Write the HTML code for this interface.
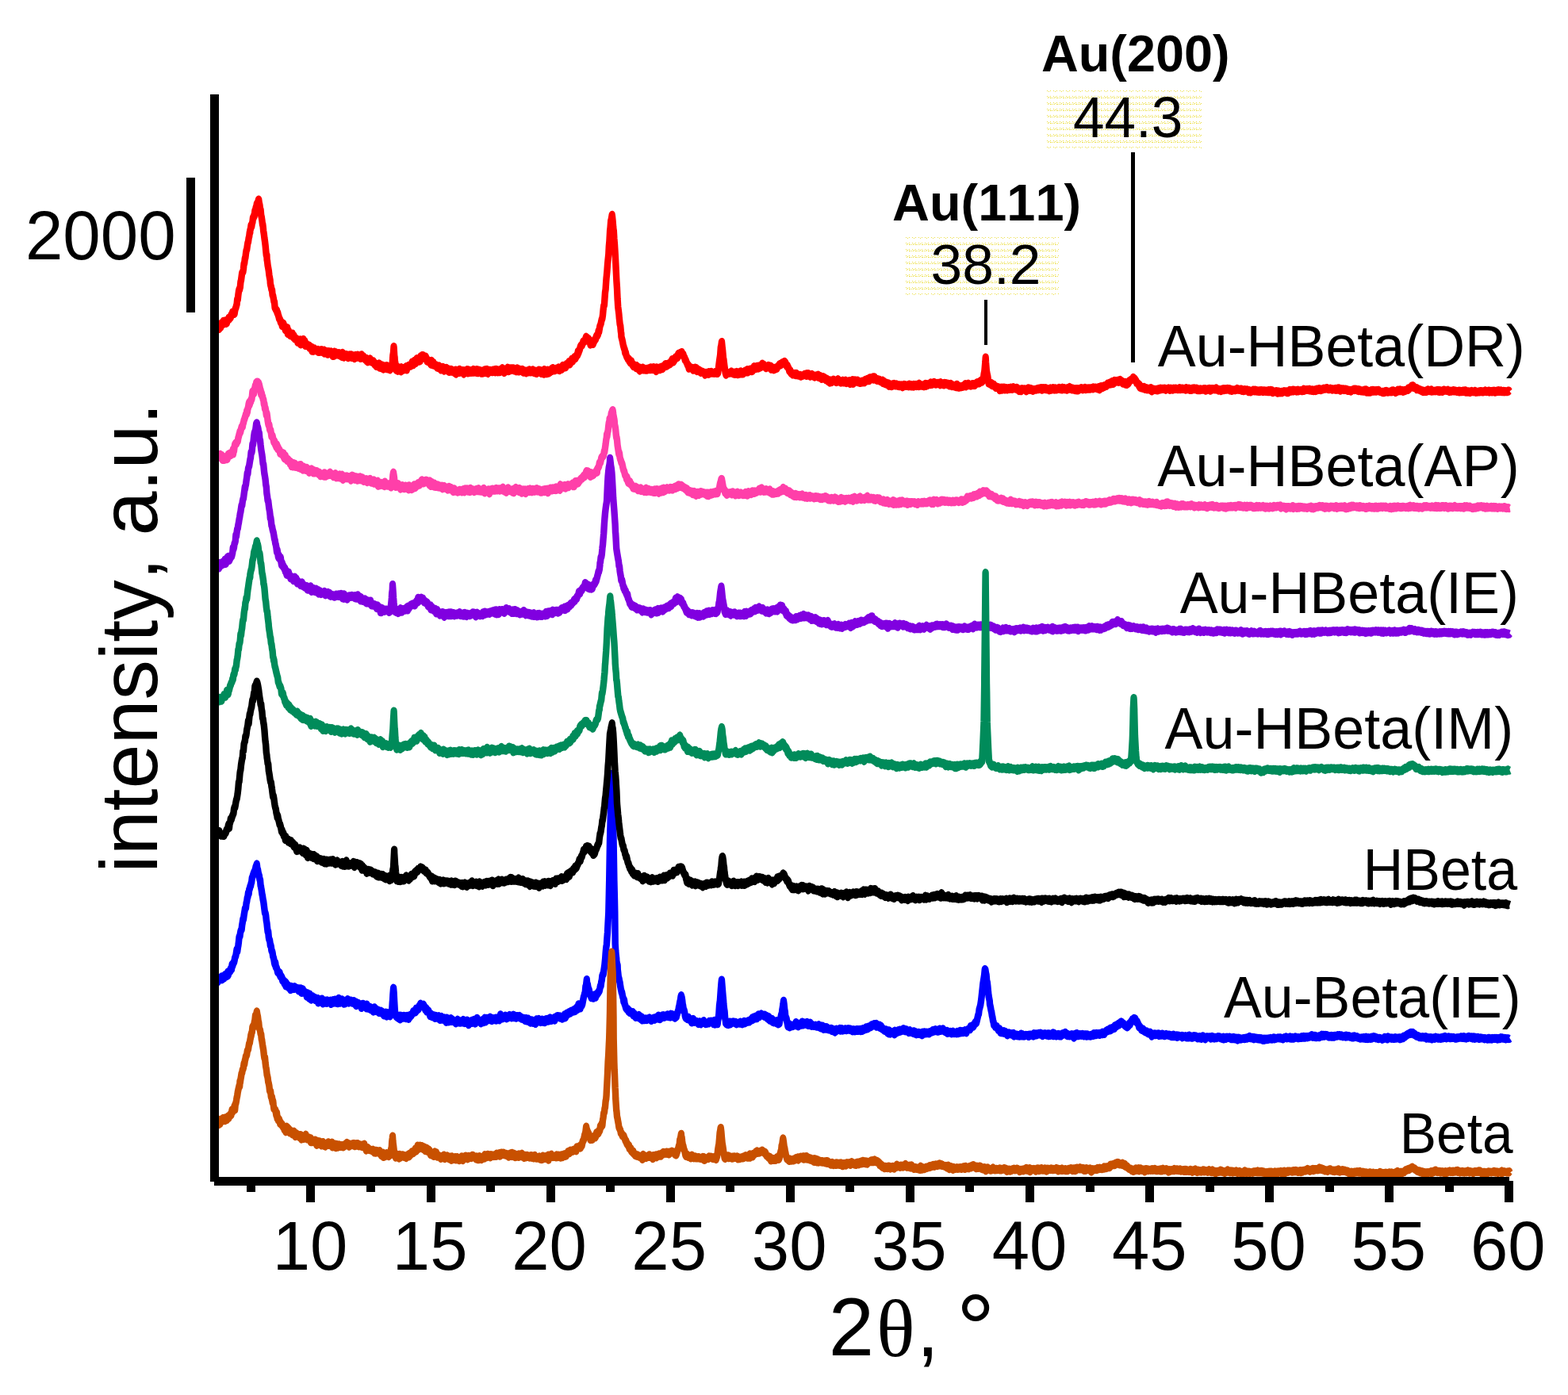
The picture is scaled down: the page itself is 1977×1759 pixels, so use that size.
<!DOCTYPE html>
<html lang="en"><head><meta charset="utf-8"><title>XRD patterns</title>
<style>html,body{margin:0;padding:0;background:#fff}body{width:1977px;height:1759px;overflow:hidden}svg{display:block}text{font-kerning:none;fill:#000;white-space:pre}</style></head><body>
<svg width="1977" height="1759" viewBox="0 0 1977 1759">
<rect width="1977" height="1759" fill="#fff"/>
<defs><pattern id="dots" width="8" height="8" patternUnits="userSpaceOnUse"><path d="M0 .5h1M4 .5h1M2 1.5h1M1 2.5h1M4 2.5h2M7 2.5h1" stroke="#ecdf48" stroke-width="1" shape-rendering="crispEdges"/></pattern><pattern id="dots1" width="8" height="8" patternUnits="userSpaceOnUse"><path d="M0 .5h1M4 .5h1M2 1.5h1" stroke="#ecdf48" stroke-width="1" shape-rendering="crispEdges"/></pattern></defs>
<g transform="translate(1320 114)"><rect x="0" y="0" width="195" height="2" fill="url(#dots1)"/><g transform="translate(0 7)"><rect x="0" y="0" width="195" height="63" fill="url(#dots)"/></g><g transform="translate(0 71)"><rect x="0" y="0" width="195" height="2" fill="url(#dots1)"/></g></g>
<g transform="translate(1142 299)"><rect x="0" y="0" width="193" height="2" fill="url(#dots1)"/><g transform="translate(0 7)"><rect x="0" y="0" width="193" height="63" fill="url(#dots)"/></g><g transform="translate(0 71)"><rect x="0" y="0" width="193" height="2" fill="url(#dots1)"/></g></g>
<g fill="none" stroke-width="8.4" stroke-linejoin="round" stroke-linecap="butt" transform="scale(1 1.25)">
<path stroke="#ff0000" d="M271.0,328.82 271.6,330.46 272.2,330.93 272.8,330.53 273.4,328.61 274.0,330.92 274.6,330.35 275.2,330.24 275.8,330.17 276.0,330.56 276.4,331.75 277.0,328.06 277.6,328.56 278.2,330.29 278.8,326.29 279.4,327.95 280.0,326.42 280.6,326.88 281.2,327.14 281.8,323.93 282.4,324.71 283.0,323.87 283.6,324.91 284.2,324.00 284.8,326.27 285.4,323.40 286.0,325.81 286.6,322.95 287.2,323.41 287.6,322.91 287.8,322.70 288.4,320.77 289.0,321.91 289.6,321.35 290.2,320.54 290.8,320.36 291.4,318.00 292.0,317.96 292.6,316.85 293.2,314.92 293.8,316.66 294.4,314.73 295.0,314.62 295.6,316.58 296.2,313.37 296.8,311.34 297.4,310.46 298.0,308.50 298.6,306.91 299.2,301.82 299.8,302.16 300.4,297.47 301.0,293.84 301.6,291.73 302.2,291.79 302.5,290.29 302.8,289.68 303.4,284.53 304.0,282.63 304.6,279.00 305.2,275.42 305.8,275.03 306.4,274.19 307.0,270.90 307.6,265.95 308.2,265.51 308.8,260.77 308.9,261.37 309.4,259.81 310.0,255.76 310.6,252.58 311.2,251.74 311.8,248.14 312.4,245.08 313.0,243.88 313.6,240.34 314.2,238.53 314.8,234.50 315.3,234.47 315.4,232.19 316.0,230.85 316.6,227.13 317.2,228.71 317.8,225.52 318.4,224.04 319.0,219.63 319.6,219.94 320.2,217.47 320.8,217.50 321.4,212.46 321.7,213.81 322.0,213.79 322.6,209.37 323.2,209.00 323.8,205.73 324.4,205.24 325.0,203.91 325.6,203.62 325.9,201.62 326.2,201.40 326.8,204.90 327.4,206.66 328.0,210.65 328.6,211.70 329.2,217.13 329.8,219.05 330.4,222.43 331.0,226.52 331.2,225.83 331.6,228.31 332.2,233.19 332.8,236.26 333.4,240.18 334.0,243.44 334.6,247.34 335.2,252.46 335.8,257.48 336.4,257.35 336.6,261.91 337.0,263.46 337.6,267.75 338.2,270.35 338.8,273.07 339.4,277.40 340.0,280.15 340.6,282.73 340.8,285.62 341.2,287.56 341.8,289.26 342.4,292.08 343.0,292.35 343.6,297.59 344.2,298.45 344.8,300.92 345.4,303.92 346.0,304.65 346.6,310.43 347.2,310.99 347.8,312.41 348.4,312.57 349.0,312.94 349.6,315.65 350.2,315.53 350.8,317.89 351.4,319.12 352.0,321.47 352.6,321.74 353.2,322.58 353.8,325.14 354.4,324.55 355.0,325.18 355.6,326.27 355.7,328.69 356.2,327.59 356.8,327.50 357.4,326.50 358.0,328.09 358.6,330.18 359.2,331.02 359.8,332.79 360.4,330.66 361.0,332.60 361.6,334.12 362.2,330.67 362.8,336.54 363.4,333.27 364.0,333.90 364.6,336.85 365.2,336.82 365.8,338.25 366.3,338.01 366.4,337.63 367.0,337.48 367.6,337.08 368.2,338.99 368.8,336.53 369.4,338.90 370.0,340.39 370.6,338.62 371.2,341.29 371.8,341.85 372.4,341.23 373.0,341.36 373.6,342.55 374.2,343.02 374.8,342.36 375.4,345.29 376.0,344.99 376.6,344.68 377.2,345.38 377.8,345.51 378.4,342.71 379.0,347.34 379.6,343.07 380.2,345.15 380.8,343.89 381.2,345.96 381.4,345.76 382.0,345.75 382.6,342.49 383.2,346.88 383.8,346.54 384.4,344.26 385.0,348.59 385.6,347.07 386.2,346.75 386.8,348.45 387.4,347.73 388.0,349.14 388.6,348.66 389.2,348.41 389.8,348.48 390.4,350.99 391.0,350.52 391.6,349.87 392.2,350.37 392.8,350.33 393.4,354.01 394.0,352.31 394.6,352.36 395.2,354.12 395.8,351.94 396.4,351.68 397.0,352.58 397.6,353.56 398.2,353.36 398.8,353.32 399.4,353.99 400.0,353.43 400.6,352.80 401.2,354.95 401.8,353.92 402.4,353.98 403.0,354.96 403.6,354.91 404.2,353.25 404.8,353.71 405.4,353.00 406.0,353.23 406.6,354.93 407.2,354.09 407.8,353.65 408.4,353.32 409.0,356.32 409.6,354.60 410.2,355.47 410.8,355.27 411.4,354.44 412.0,356.09 412.6,355.85 413.2,357.25 413.8,356.56 414.4,354.63 415.0,355.99 415.6,356.16 416.2,356.35 416.8,355.23 417.4,354.90 418.0,356.72 418.6,357.33 419.2,355.66 419.5,358.97 419.8,357.55 420.4,356.21 421.0,358.93 421.6,354.94 422.2,355.48 422.8,355.43 423.4,357.96 424.0,355.96 424.6,357.72 425.2,357.33 425.8,356.55 426.4,357.46 427.0,356.13 427.6,358.42 428.2,356.47 428.8,356.63 429.4,358.35 430.0,357.10 430.6,359.70 431.2,359.21 431.8,355.96 432.4,358.02 433.0,357.80 433.6,360.42 434.2,357.62 434.8,357.67 435.4,358.27 436.0,358.38 436.6,357.76 437.2,359.14 437.8,358.39 438.4,358.15 439.0,360.83 439.6,359.43 440.2,358.21 440.8,357.92 441.4,359.10 442.0,358.13 442.6,358.09 443.2,360.69 443.8,359.34 444.4,358.89 445.0,359.69 445.6,358.89 446.2,359.60 446.8,361.50 447.4,359.56 448.0,359.00 448.6,358.50 449.2,360.49 449.8,359.69 450.4,360.37 451.0,358.24 451.6,359.60 452.2,360.14 452.8,360.62 453.4,360.34 454.0,359.78 454.6,361.46 455.2,360.09 455.7,357.91 455.8,358.79 456.4,360.26 457.0,360.73 457.6,359.24 458.2,359.57 458.8,361.48 459.4,361.61 460.0,361.99 460.6,362.62 461.2,362.20 461.8,361.56 462.4,364.02 463.0,364.00 463.6,364.94 464.2,363.80 464.8,363.63 465.4,363.90 466.0,364.16 466.6,362.06 467.2,364.05 467.8,364.06 468.4,365.07 469.0,365.27 469.6,364.88 470.2,365.04 470.8,364.39 471.4,366.41 472.0,365.92 472.6,366.34 472.7,367.96 473.2,368.18 473.8,367.02 474.4,369.42 475.0,368.65 475.6,368.19 476.2,367.41 476.8,367.63 477.4,369.74 478.0,366.84 478.6,370.86 479.2,369.90 479.8,368.93 480.4,371.14 481.0,369.82 481.6,368.41 482.2,369.20 482.8,368.95 483.3,368.99 483.4,372.37 484.0,370.52 484.6,370.32 485.2,371.47 485.8,371.33 486.4,370.09 487.0,369.85 487.6,368.93 488.2,372.06 488.8,370.91 489.4,372.20 490.0,371.34 490.6,369.91 491.2,370.73 491.8,372.94 492.4,370.68 493.0,371.79 493.6,368.70 494.2,367.52 494.8,365.62 495.4,358.65 496.0,355.66 496.5,349.82 496.6,350.41 497.2,358.53 497.6,360.65 497.8,363.77 498.4,366.29 499.0,370.69 499.4,373.20 499.6,373.28 500.2,371.96 500.8,369.87 501.4,374.11 502.0,371.72 502.6,373.66 503.2,371.50 503.8,371.91 504.4,372.50 505.0,372.38 505.6,374.49 506.2,370.66 506.7,371.91 506.8,372.73 507.4,372.75 508.0,372.18 508.6,372.21 509.2,372.94 509.8,371.18 510.4,371.07 511.0,371.41 511.6,372.13 512.2,369.76 512.8,373.03 513.4,370.47 514.0,369.92 514.6,369.91 515.2,368.79 515.8,368.60 516.4,368.86 517.0,369.31 517.6,369.21 518.2,367.69 518.8,367.46 519.4,367.92 519.5,365.40 520.0,366.84 520.6,367.71 521.2,367.92 521.8,365.60 522.4,363.97 523.0,364.34 523.6,365.84 524.2,366.25 524.8,363.61 525.4,361.88 526.0,363.26 526.6,363.61 527.2,363.44 527.8,362.60 528.4,364.43 529.0,361.56 529.6,364.12 530.2,359.69 530.8,361.89 531.4,361.14 532.0,360.45 532.2,358.64 532.6,359.38 533.2,358.52 533.8,360.07 534.4,360.65 535.0,361.31 535.6,359.89 536.2,360.80 536.8,359.77 537.4,362.47 538.0,361.78 538.6,364.35 539.2,363.17 539.8,364.67 540.4,364.19 541.0,364.95 541.6,365.15 542.2,364.50 542.8,366.90 542.9,365.13 543.4,367.51 544.0,363.95 544.6,366.21 545.2,367.84 545.8,368.15 546.4,365.62 547.0,368.09 547.6,368.38 548.2,368.77 548.8,368.41 549.4,368.27 550.0,369.53 550.6,370.15 551.2,370.80 551.8,369.94 552.4,369.39 553.0,371.15 553.5,369.18 553.6,369.85 554.2,370.01 554.8,370.75 555.4,371.06 556.0,373.01 556.6,371.79 557.2,372.24 557.8,371.01 558.4,370.45 559.0,371.28 559.6,371.25 560.2,373.97 560.8,373.50 561.4,373.03 562.0,372.23 562.6,371.16 563.2,372.26 563.8,372.07 564.4,372.02 565.0,373.28 565.6,374.66 566.2,375.01 566.8,372.83 567.4,373.21 568.0,373.55 568.6,372.71 569.2,374.86 569.8,374.24 570.4,373.98 571.0,374.61 571.6,373.75 572.2,374.13 572.8,375.74 573.4,375.56 574.0,374.83 574.6,373.32 575.2,377.27 575.8,375.30 576.4,375.81 577.0,373.89 577.6,375.41 578.2,375.37 578.8,375.04 579.0,375.78 579.4,372.78 580.0,375.60 580.6,373.95 581.2,373.79 581.8,374.25 582.4,374.68 583.0,374.46 583.6,373.89 584.2,374.86 584.8,377.09 585.4,374.95 586.0,373.92 586.6,375.50 587.2,375.19 587.8,373.56 588.4,375.58 589.0,373.02 589.6,374.87 590.2,376.23 590.8,373.23 591.4,373.96 592.0,373.64 592.6,375.79 593.2,373.83 593.8,374.50 594.4,375.08 595.0,375.72 595.6,375.50 596.2,373.90 596.8,372.83 597.4,375.65 598.0,374.67 598.6,375.14 599.2,373.85 599.8,374.39 600.4,375.75 601.0,373.02 601.6,374.35 602.2,373.14 602.8,376.07 603.4,375.07 604.0,374.09 604.6,373.52 605.2,375.26 605.8,375.35 606.4,375.03 607.0,376.45 607.6,374.12 608.2,375.73 608.8,376.33 609.4,374.18 610.0,375.46 610.6,375.99 611.2,373.11 611.8,373.74 612.4,373.07 613.0,374.74 613.6,376.02 614.2,372.84 614.8,374.19 615.4,376.72 616.0,373.53 616.6,374.71 617.2,374.66 617.8,373.59 618.4,374.93 619.0,374.41 619.6,373.94 620.2,373.77 620.8,375.28 621.4,374.20 621.5,373.38 622.0,373.66 622.6,374.51 623.2,374.73 623.8,373.05 624.4,375.33 625.0,373.38 625.6,372.83 626.2,374.24 626.8,374.85 627.4,375.40 628.0,373.32 628.6,373.99 629.2,375.25 629.8,374.13 630.4,375.17 631.0,374.63 631.6,372.52 632.2,373.11 632.8,374.67 633.4,371.50 634.0,374.56 634.6,373.58 635.2,372.86 635.8,375.81 636.4,372.77 637.0,372.94 637.6,373.21 638.2,373.14 638.8,373.91 639.4,373.75 640.0,371.07 640.6,374.41 641.2,374.30 641.8,374.11 642.4,373.61 643.0,371.61 643.6,373.64 644.2,372.37 644.8,371.69 645.4,372.66 646.0,373.21 646.6,371.66 647.2,371.65 647.8,373.29 648.4,373.81 649.0,372.44 649.6,373.27 650.2,373.18 650.8,374.52 651.4,373.59 652.0,371.68 652.6,372.62 653.2,374.57 653.4,374.69 653.8,374.69 654.4,373.29 655.0,372.69 655.6,374.20 656.2,373.44 656.8,373.35 657.4,372.96 658.0,373.96 658.6,372.85 659.2,373.37 659.8,375.64 660.4,373.80 661.0,375.09 661.6,374.19 662.2,374.42 662.8,374.22 663.4,376.15 664.0,374.45 664.6,374.40 665.2,374.35 665.8,373.80 666.4,375.46 667.0,373.72 667.6,373.18 668.2,374.96 668.8,375.26 669.4,373.85 670.0,375.29 670.6,375.10 671.2,373.69 671.8,373.25 672.4,375.56 673.0,375.24 673.6,376.00 674.2,373.94 674.8,376.20 675.4,375.14 676.0,375.36 676.6,376.64 677.2,374.75 677.8,374.57 678.4,374.32 679.0,373.43 679.6,374.76 680.0,373.61 680.2,374.10 680.8,373.55 681.4,376.04 682.0,375.35 682.6,376.67 683.2,375.10 683.8,375.30 684.4,375.02 685.0,374.80 685.6,377.24 686.2,373.05 686.8,376.74 687.4,376.60 688.0,375.07 688.6,375.56 689.2,376.82 689.8,375.37 690.4,373.45 691.0,374.68 691.3,376.49 691.6,374.39 692.2,376.28 692.8,374.62 693.4,375.51 694.0,374.16 694.6,373.78 695.2,373.86 695.8,371.95 696.4,374.15 697.0,371.40 697.6,373.06 698.2,371.90 698.8,373.04 699.4,373.72 700.0,372.46 700.6,372.06 701.2,372.51 701.8,372.60 702.4,372.90 703.0,371.59 703.6,373.00 704.2,370.91 704.8,371.58 705.4,373.60 706.0,371.62 706.6,371.92 707.2,371.43 707.8,371.11 708.4,372.40 709.0,370.46 709.6,368.82 710.2,369.84 710.8,370.03 711.4,369.18 712.0,369.01 712.5,370.54 712.6,369.87 713.2,370.47 713.8,368.91 714.4,367.32 715.0,367.76 715.6,367.36 716.2,366.98 716.8,367.65 717.4,365.05 718.0,366.16 718.6,367.33 719.2,364.49 719.8,365.70 720.4,364.57 721.0,362.55 721.6,362.68 722.2,364.22 722.8,361.91 723.4,362.12 724.0,361.53 724.6,360.14 725.2,361.74 725.8,361.06 726.4,360.09 727.0,359.05 727.4,358.04 727.6,357.55 728.2,358.17 728.8,354.38 729.4,355.98 730.0,354.27 730.6,353.25 731.2,351.70 731.8,349.72 732.4,348.78 733.0,348.38 733.6,347.91 733.8,348.35 734.2,347.01 734.8,346.43 735.4,344.43 736.0,345.06 736.6,343.93 737.2,344.32 737.8,342.88 738.4,341.44 739.0,339.90 739.1,342.22 739.6,340.27 740.2,341.70 740.8,342.70 741.4,342.95 742.0,341.75 742.6,342.34 743.2,344.75 743.8,344.89 744.4,347.55 745.0,344.64 745.6,344.37 746.2,345.18 746.8,345.78 747.4,346.42 747.6,347.02 748.0,346.48 748.6,345.12 749.2,343.77 749.8,343.71 750.4,341.97 751.0,342.18 751.6,339.98 752.2,338.65 752.8,339.14 753.4,338.03 754.0,337.28 754.6,333.93 755.0,334.88 755.2,334.68 755.8,331.89 756.4,329.04 757.0,327.82 757.6,326.52 758.2,324.09 758.8,322.04 759.0,322.18 759.4,321.14 760.0,317.84 760.6,312.61 761.2,308.69 761.8,308.12 762.0,306.68 762.4,301.88 763.0,294.94 763.6,291.82 764.2,284.25 764.6,280.15 764.8,278.81 765.4,273.74 766.0,267.00 766.6,261.90 767.2,257.36 767.3,256.47 767.8,248.45 768.4,243.31 769.0,234.44 769.1,232.75 769.6,229.34 770.2,222.90 770.8,221.06 771.4,218.39 771.7,216.80 772.0,218.61 772.6,223.17 773.2,229.13 773.7,233.07 773.8,232.71 774.4,240.98 775.0,246.89 775.6,255.00 775.7,256.35 776.2,263.96 776.8,273.68 777.2,280.59 777.4,283.74 778.0,290.75 778.6,301.73 778.8,303.86 779.2,309.38 779.8,313.10 780.4,316.98 780.8,321.15 781.0,322.30 781.6,326.82 782.2,328.66 782.8,334.10 783.3,336.74 783.4,339.41 784.0,341.48 784.6,343.18 785.2,345.73 785.8,348.03 786.4,349.86 787.0,351.53 787.6,352.56 788.2,355.95 788.8,355.35 789.4,357.83 790.0,359.39 790.6,360.33 791.2,360.94 791.8,362.21 792.4,361.90 793.0,362.24 793.6,364.52 794.2,364.89 794.8,365.91 795.4,365.50 796.0,364.37 796.6,366.18 797.2,366.53 797.8,368.53 798.4,367.48 799.0,369.53 799.6,369.44 799.7,369.60 800.2,369.74 800.8,370.22 801.4,368.97 802.0,371.12 802.6,368.93 803.2,369.94 803.8,370.17 804.4,371.67 805.0,370.55 805.6,372.94 806.2,370.77 806.8,373.96 807.4,372.34 808.0,372.59 808.6,372.22 809.2,372.72 809.8,371.41 810.4,370.93 811.0,372.95 811.6,372.87 812.2,372.26 812.5,372.24 812.8,372.33 813.4,372.58 814.0,373.17 814.6,372.08 815.2,372.59 815.8,373.29 816.4,372.05 817.0,372.67 817.6,371.58 818.2,372.07 818.8,371.73 819.4,372.87 820.0,371.49 820.6,370.74 821.2,371.86 821.8,371.15 822.4,372.71 823.0,371.90 823.6,371.18 824.2,370.60 824.8,371.56 825.4,371.34 826.0,371.40 826.6,371.57 827.2,374.33 827.8,370.78 828.4,371.59 829.0,372.09 829.6,372.37 830.2,371.20 830.8,371.51 831.4,370.99 832.0,372.85 832.6,370.53 833.2,371.20 833.8,370.24 834.4,371.39 835.0,370.09 835.6,371.89 835.9,370.02 836.2,370.24 836.8,369.99 837.4,370.03 838.0,368.95 838.6,367.69 839.2,367.31 839.8,368.37 840.4,369.18 841.0,368.87 841.6,368.03 842.2,368.16 842.8,367.02 843.4,366.60 844.0,366.86 844.6,367.28 845.2,367.02 845.8,365.92 846.4,364.12 847.0,364.43 847.6,362.62 848.2,365.18 848.6,364.06 848.8,365.09 849.4,364.66 850.0,362.95 850.6,363.18 851.2,362.11 851.8,360.42 852.4,361.46 853.0,360.70 853.6,360.12 854.2,360.70 854.8,357.97 855.4,356.88 856.0,358.36 856.6,358.06 857.2,357.10 857.8,356.24 858.4,356.02 859.0,355.67 859.3,355.47 859.6,355.49 860.2,357.54 860.8,356.99 861.4,357.34 862.0,359.49 862.6,359.98 863.2,360.92 863.8,363.27 864.4,362.96 865.0,364.22 865.6,365.61 866.2,366.43 866.8,367.80 867.4,368.77 867.8,368.58 868.0,368.61 868.6,371.69 869.2,370.43 869.8,370.17 870.4,371.15 871.0,371.11 871.6,371.26 872.2,371.05 872.8,371.32 873.4,371.36 874.0,373.25 874.6,371.79 875.2,372.54 875.8,372.73 876.4,370.94 877.0,373.50 877.6,372.93 878.2,371.48 878.8,374.31 879.4,374.11 880.0,373.78 880.6,373.23 881.2,373.23 881.8,374.02 882.4,373.97 882.7,375.24 883.0,375.03 883.6,375.56 884.2,375.03 884.8,374.95 885.4,375.09 886.0,375.26 886.6,375.55 887.2,376.11 887.8,376.12 888.4,376.03 889.0,378.07 889.6,376.26 890.2,376.49 890.8,376.10 891.4,377.13 892.0,377.08 892.6,376.52 893.2,377.34 893.3,377.02 893.8,375.47 894.4,375.50 895.0,375.72 895.6,376.57 896.2,375.83 896.8,375.12 897.4,375.87 898.0,376.31 898.6,376.26 899.2,376.43 899.8,376.20 900.4,376.48 901.0,376.18 901.6,375.68 902.2,375.22 902.8,376.18 903.4,376.59 904.0,375.58 904.6,375.52 904.9,376.53 905.2,376.07 905.8,372.99 906.4,368.00 907.0,364.19 907.6,360.91 907.8,360.15 908.2,357.31 908.8,350.64 909.4,348.53 909.9,345.41 910.0,344.97 910.6,349.77 911.2,353.87 911.8,359.37 912.0,362.13 912.4,362.36 913.0,366.70 913.6,370.32 914.2,373.61 914.8,376.57 914.9,376.51 915.4,377.94 916.0,375.71 916.6,376.98 917.2,376.05 917.8,376.67 918.4,376.28 919.0,376.21 919.6,376.06 920.2,376.38 920.8,375.83 921.4,376.20 922.0,374.88 922.6,376.40 923.2,375.87 923.8,376.27 924.4,375.76 925.0,377.21 925.6,376.19 926.2,376.21 926.8,377.31 927.4,375.53 928.0,376.48 928.6,375.31 929.2,375.69 929.8,375.72 930.4,377.68 931.0,375.65 931.6,376.72 932.2,376.49 932.8,377.12 933.4,375.75 934.0,374.85 934.6,374.94 935.2,377.00 935.8,376.36 936.4,376.95 937.0,376.93 937.6,375.85 938.2,375.43 938.8,375.78 939.4,374.15 940.0,374.76 940.6,374.85 941.2,375.33 941.8,373.24 942.4,373.05 943.0,375.31 943.6,374.75 944.2,373.86 944.8,373.69 945.4,373.96 946.0,372.56 946.6,372.99 947.2,374.22 947.8,374.01 948.4,374.30 948.6,373.30 949.0,373.72 949.6,371.42 950.2,371.22 950.8,369.80 951.4,370.74 952.0,370.18 952.6,371.94 953.2,371.81 953.8,369.95 954.4,369.57 955.0,371.44 955.6,371.52 956.2,369.33 956.8,370.27 957.4,370.97 958.0,369.83 958.6,370.60 959.2,369.22 959.8,369.14 960.4,368.49 961.0,366.97 961.4,368.17 961.6,367.87 962.2,369.63 962.8,367.86 963.4,369.02 964.0,369.30 964.6,369.84 965.2,369.53 965.8,371.19 966.4,370.02 967.0,369.87 967.6,369.92 968.2,370.62 968.8,368.75 969.4,369.49 970.0,370.25 970.6,369.78 971.2,370.67 971.8,369.34 972.4,372.48 973.0,371.47 973.6,371.55 974.2,370.93 974.8,372.58 975.4,372.87 976.0,371.92 976.2,372.31 976.6,371.12 977.2,372.16 977.8,371.72 978.4,372.13 979.0,371.32 979.6,371.46 980.2,369.98 980.8,369.83 981.4,369.11 982.0,368.83 982.6,367.90 983.2,367.92 983.8,367.17 984.4,368.10 985.0,367.22 985.6,366.74 986.2,366.03 986.8,366.88 987.4,365.93 988.0,366.03 988.6,365.05 989.0,365.51 989.2,364.88 989.8,365.39 990.4,366.02 991.0,368.36 991.6,367.91 992.2,369.70 992.8,368.73 993.4,370.54 994.0,370.73 994.6,372.25 995.2,374.09 995.8,374.83 996.4,373.86 997.0,375.82 997.6,376.60 998.2,376.47 998.8,376.85 999.4,376.98 999.6,377.89 1000.0,376.69 1000.6,377.52 1001.2,377.78 1001.8,377.17 1002.4,376.87 1003.0,378.40 1003.6,377.77 1004.2,376.84 1004.8,377.95 1005.4,378.49 1006.0,377.90 1006.6,378.79 1007.2,378.74 1007.8,378.97 1008.4,378.51 1009.0,378.45 1009.6,379.62 1010.2,379.03 1010.8,379.11 1011.4,379.15 1012.0,378.84 1012.6,378.71 1013.2,378.51 1013.8,378.15 1014.4,377.52 1014.5,378.40 1015.0,377.94 1015.6,377.45 1016.2,378.29 1016.8,379.08 1017.4,377.02 1018.0,377.94 1018.6,378.83 1019.2,376.94 1019.8,378.08 1020.4,378.13 1021.0,377.85 1021.6,379.58 1022.2,379.10 1022.8,378.53 1023.4,377.69 1024.0,378.92 1024.6,378.29 1025.2,379.41 1025.8,378.91 1026.4,379.44 1027.0,380.36 1027.6,379.89 1028.2,379.15 1028.8,379.26 1029.4,378.71 1030.0,379.88 1030.6,378.66 1031.2,378.90 1031.5,378.23 1031.8,379.34 1032.4,380.78 1033.0,379.17 1033.6,379.31 1034.2,379.40 1034.8,380.04 1035.4,380.42 1036.0,382.11 1036.6,381.42 1037.2,380.88 1037.8,380.16 1038.4,382.07 1039.0,381.66 1039.6,381.00 1040.2,381.98 1040.8,382.06 1041.4,383.11 1042.0,382.87 1042.6,382.27 1043.2,383.35 1043.8,384.53 1044.4,383.91 1045.0,383.57 1045.6,383.64 1046.2,385.92 1046.8,385.24 1047.4,383.76 1048.0,384.89 1048.6,385.47 1049.2,385.10 1049.8,384.10 1050.4,384.34 1051.0,382.98 1051.6,384.23 1052.2,384.29 1052.8,385.01 1053.4,384.21 1054.0,383.97 1054.6,385.51 1055.2,385.03 1055.8,383.86 1056.4,382.71 1057.0,382.98 1057.6,384.18 1058.2,384.33 1058.8,384.32 1059.4,385.14 1060.0,385.94 1060.6,385.30 1061.2,385.03 1061.8,385.09 1062.4,383.91 1063.0,385.69 1063.6,384.85 1064.2,385.71 1064.8,384.15 1065.4,384.81 1066.0,383.83 1066.6,384.83 1067.2,386.37 1067.8,384.60 1068.4,384.85 1069.0,384.85 1069.6,385.47 1070.2,384.48 1070.8,384.83 1071.4,384.16 1072.0,387.09 1072.6,384.56 1073.2,384.79 1073.8,383.99 1074.0,384.86 1074.4,384.58 1075.0,383.35 1075.6,386.92 1076.2,384.54 1076.8,384.62 1077.4,385.57 1078.0,383.60 1078.6,385.09 1079.2,384.40 1079.8,384.91 1080.4,385.15 1081.0,383.75 1081.6,385.16 1082.2,385.73 1082.8,384.80 1083.4,385.59 1084.0,385.19 1084.6,386.27 1085.2,385.04 1085.8,385.23 1086.4,384.91 1087.0,384.51 1087.6,385.76 1088.2,384.76 1088.8,384.60 1089.4,384.81 1090.0,385.74 1090.6,383.43 1091.2,384.87 1091.8,382.93 1092.4,383.39 1093.0,383.80 1093.6,383.96 1094.2,382.28 1094.8,383.55 1095.4,382.98 1096.0,383.99 1096.6,381.19 1097.2,382.31 1097.8,381.41 1098.4,381.29 1099.0,381.38 1099.6,380.86 1100.2,381.47 1100.8,381.13 1101.3,380.33 1101.4,382.85 1102.0,381.48 1102.6,380.42 1103.2,381.78 1103.8,382.25 1104.4,382.23 1105.0,382.44 1105.6,383.73 1106.2,382.57 1106.8,382.80 1107.4,382.90 1108.0,383.15 1108.6,383.10 1109.2,383.84 1109.8,384.71 1110.4,384.20 1111.0,384.40 1111.6,384.14 1112.2,384.32 1112.8,383.85 1113.4,386.45 1114.0,385.19 1114.6,384.95 1115.2,385.94 1115.8,386.04 1116.4,387.30 1117.0,387.03 1117.6,386.23 1118.2,386.88 1118.8,386.86 1119.4,387.58 1120.0,386.81 1120.6,389.30 1121.2,388.53 1121.8,388.55 1122.4,388.73 1122.5,388.97 1123.0,387.91 1123.6,388.56 1124.2,389.60 1124.8,389.44 1125.4,387.63 1126.0,388.08 1126.6,388.22 1127.2,387.16 1127.8,388.07 1128.4,388.53 1129.0,388.95 1129.6,388.52 1130.2,387.66 1130.8,388.54 1131.4,388.18 1132.0,389.43 1132.6,389.38 1133.2,388.41 1133.8,389.65 1134.4,388.48 1135.0,388.88 1135.6,389.64 1136.2,389.08 1136.8,388.43 1137.4,388.71 1138.0,390.50 1138.6,388.51 1139.2,388.97 1139.8,388.02 1140.4,389.18 1141.0,388.53 1141.6,389.48 1142.2,388.34 1142.8,389.44 1143.4,389.06 1144.0,389.29 1144.6,389.43 1145.2,389.63 1145.8,388.48 1146.4,387.77 1147.0,388.98 1147.6,389.55 1148.2,388.27 1148.8,389.80 1149.4,388.44 1150.0,389.16 1150.6,389.06 1151.2,389.06 1151.8,389.92 1152.4,388.10 1153.0,388.19 1153.6,388.46 1154.2,388.90 1154.8,388.09 1155.4,389.57 1156.0,388.65 1156.6,388.58 1157.2,388.30 1157.8,389.27 1158.4,389.62 1159.0,387.02 1159.6,389.13 1160.2,388.08 1160.8,389.17 1161.4,389.06 1162.0,389.16 1162.6,388.87 1163.2,388.60 1163.8,389.40 1164.4,388.14 1165.0,389.71 1165.6,389.11 1166.2,387.62 1166.8,387.29 1167.4,389.45 1168.0,388.18 1168.6,387.46 1169.2,388.74 1169.8,388.09 1170.4,388.25 1171.0,387.82 1171.6,387.77 1172.2,388.00 1172.8,388.04 1173.4,386.03 1174.0,387.17 1174.6,387.61 1175.2,387.74 1175.8,386.72 1176.4,386.83 1177.0,386.31 1177.6,385.64 1178.2,386.43 1178.8,387.17 1179.4,386.78 1180.0,387.63 1180.6,386.49 1181.2,387.21 1181.8,386.79 1182.4,387.20 1183.0,386.41 1183.6,386.80 1184.2,386.82 1184.8,386.98 1185.4,388.09 1186.0,385.89 1186.3,387.29 1186.6,386.27 1187.2,386.85 1187.8,386.65 1188.4,386.87 1189.0,387.97 1189.6,386.80 1190.2,388.25 1190.8,386.40 1191.4,387.25 1192.0,386.99 1192.6,386.54 1193.2,387.59 1193.8,386.95 1194.4,387.96 1195.0,386.93 1195.6,387.68 1196.2,387.76 1196.8,388.91 1197.4,388.13 1198.0,387.61 1198.6,387.11 1199.2,388.32 1199.8,389.42 1200.4,389.18 1201.0,388.46 1201.6,389.23 1202.2,389.65 1202.8,389.20 1203.4,389.51 1204.0,389.48 1204.6,389.68 1205.2,390.35 1205.8,388.11 1206.4,388.01 1207.0,390.57 1207.6,389.64 1208.2,390.65 1208.8,390.85 1209.4,389.54 1210.0,389.68 1210.6,390.50 1211.2,390.51 1211.8,390.02 1212.4,390.30 1213.0,389.51 1213.6,389.95 1214.2,389.30 1214.8,389.97 1215.4,388.86 1216.0,389.20 1216.6,389.23 1217.2,387.44 1217.8,389.87 1218.4,387.68 1219.0,388.46 1219.6,388.33 1220.2,388.43 1220.8,387.11 1221.4,388.85 1222.0,388.63 1222.6,388.51 1223.2,388.62 1223.8,389.15 1224.4,388.07 1225.0,387.80 1225.6,388.78 1226.2,387.39 1226.8,387.82 1227.4,387.43 1228.0,388.75 1228.6,387.93 1228.9,388.65 1229.2,388.34 1229.8,387.11 1230.4,387.56 1231.0,386.74 1231.6,385.96 1232.2,386.91 1232.8,385.90 1233.4,386.19 1234.0,385.80 1234.6,386.61 1235.2,385.03 1235.8,384.59 1236.4,384.63 1237.0,383.78 1237.6,384.69 1238.2,385.10 1238.7,384.54 1238.8,383.90 1239.4,382.37 1240.0,381.11 1240.6,377.47 1241.2,375.05 1241.5,373.11 1241.8,370.18 1242.4,364.69 1242.7,360.66 1243.0,365.17 1243.6,371.27 1243.9,374.66 1244.2,375.32 1244.8,378.02 1245.4,380.04 1246.0,383.78 1246.6,386.68 1246.7,386.70 1247.2,386.88 1247.8,386.13 1248.4,386.46 1249.0,387.75 1249.6,386.40 1250.2,386.71 1250.8,388.75 1251.4,388.36 1252.0,388.80 1252.6,388.23 1253.2,388.05 1253.8,388.89 1254.4,389.50 1255.0,390.43 1255.6,391.04 1256.2,390.02 1256.8,390.98 1257.4,390.47 1258.0,390.88 1258.6,391.21 1259.2,390.90 1259.8,391.18 1260.4,393.57 1260.8,391.51 1261.0,393.18 1261.6,391.68 1262.2,392.29 1262.8,390.98 1263.4,393.17 1264.0,392.20 1264.6,390.93 1265.2,391.85 1265.8,392.38 1266.4,391.10 1267.0,392.97 1267.6,392.00 1268.2,392.23 1268.8,391.34 1269.4,392.12 1270.0,393.06 1270.6,392.26 1271.2,391.80 1271.8,391.40 1272.4,391.52 1273.0,392.55 1273.6,391.66 1274.2,391.04 1274.8,392.37 1275.4,391.59 1276.0,392.60 1276.6,392.61 1277.2,391.65 1277.8,390.79 1278.4,391.07 1279.0,392.08 1279.6,392.06 1280.2,391.61 1280.8,392.31 1281.4,392.06 1282.0,391.17 1282.6,392.84 1283.2,392.63 1283.8,392.97 1284.4,392.84 1285.0,394.37 1285.6,393.44 1286.2,392.62 1286.8,393.20 1287.4,394.40 1288.0,392.88 1288.6,392.43 1289.2,393.03 1289.8,393.14 1290.4,393.10 1291.0,392.48 1291.6,392.69 1292.2,392.63 1292.7,393.25 1292.8,392.60 1293.4,392.96 1294.0,394.52 1294.6,392.60 1295.2,392.50 1295.8,392.41 1296.4,391.64 1297.0,392.89 1297.6,391.90 1298.2,393.46 1298.8,392.05 1299.4,393.46 1300.0,392.24 1300.6,393.15 1301.2,392.58 1301.8,393.78 1302.4,394.15 1303.0,393.03 1303.6,393.02 1304.2,392.94 1304.8,393.02 1305.4,393.07 1306.0,393.17 1306.6,393.20 1307.2,392.43 1307.8,392.58 1308.4,392.27 1309.0,391.92 1309.6,392.87 1310.2,391.72 1310.8,391.80 1311.4,391.73 1312.0,391.65 1312.6,391.36 1313.2,391.75 1313.8,393.26 1314.4,391.50 1315.0,391.57 1315.6,392.66 1316.2,391.33 1316.8,392.58 1317.4,391.89 1318.0,391.81 1318.6,391.51 1319.2,392.97 1319.8,391.83 1320.4,392.70 1321.0,392.37 1321.6,393.13 1322.2,392.32 1322.8,393.72 1323.4,393.08 1324.0,393.40 1324.6,391.67 1325.2,392.65 1325.8,393.10 1326.4,392.75 1327.0,391.48 1327.6,391.42 1328.2,391.87 1328.8,391.96 1329.4,393.03 1330.0,392.80 1330.6,391.65 1331.2,392.92 1331.8,392.97 1332.4,393.02 1333.0,392.37 1333.6,391.89 1334.2,391.64 1334.8,392.46 1335.4,391.20 1336.0,391.51 1336.6,392.74 1337.2,392.77 1337.8,392.54 1338.4,391.82 1339.0,393.02 1339.6,391.11 1340.2,391.56 1340.8,392.12 1341.4,392.63 1342.0,391.45 1342.6,392.87 1343.2,392.25 1343.8,392.31 1344.4,392.11 1345.0,393.22 1345.6,391.92 1346.2,391.40 1346.8,392.50 1347.4,392.57 1348.0,392.22 1348.6,390.50 1349.2,392.28 1349.8,391.68 1350.4,391.37 1351.0,392.52 1351.6,393.07 1352.2,391.75 1352.8,392.53 1353.4,392.21 1354.0,392.95 1354.6,392.94 1355.2,393.51 1355.8,392.87 1356.4,392.27 1356.5,393.41 1357.0,393.24 1357.6,393.73 1358.2,392.15 1358.8,392.79 1359.4,393.71 1360.0,392.45 1360.6,393.00 1361.2,392.65 1361.8,392.72 1362.4,391.89 1363.0,391.59 1363.6,391.36 1364.2,391.71 1364.8,392.48 1365.4,392.91 1366.0,391.81 1366.6,392.33 1367.2,392.68 1367.8,391.19 1368.4,391.99 1369.0,392.84 1369.6,392.29 1370.2,391.98 1370.8,392.03 1371.4,391.73 1372.0,392.47 1372.6,391.96 1373.2,391.55 1373.8,392.32 1374.4,392.37 1375.0,391.85 1375.6,391.96 1376.2,391.37 1376.8,391.31 1377.4,391.90 1378.0,392.07 1378.6,390.76 1379.2,391.66 1379.8,391.31 1380.4,391.22 1381.0,391.03 1381.6,391.04 1382.2,391.19 1382.8,391.91 1383.4,391.99 1384.0,392.14 1384.6,391.19 1385.2,390.71 1385.8,391.05 1386.4,392.89 1387.0,390.64 1387.6,390.12 1388.2,389.81 1388.4,390.78 1388.8,391.37 1389.4,390.23 1390.0,391.22 1390.6,389.74 1391.2,389.39 1391.8,389.57 1392.4,390.27 1393.0,389.14 1393.6,388.85 1394.2,388.92 1394.8,389.49 1395.4,388.76 1396.0,388.43 1396.6,386.95 1397.2,387.58 1397.8,387.71 1398.4,387.70 1399.0,387.53 1399.6,386.11 1400.2,387.40 1400.8,386.11 1401.4,387.23 1402.0,385.08 1402.6,386.54 1403.2,386.01 1403.8,387.05 1404.4,385.48 1405.0,383.95 1405.6,385.34 1406.2,384.53 1406.8,384.14 1407.4,385.20 1408.0,384.68 1408.6,384.21 1409.2,384.01 1409.6,384.12 1409.8,384.97 1410.4,385.45 1411.0,383.81 1411.6,383.45 1412.2,383.21 1412.8,383.76 1413.4,384.65 1414.0,384.11 1414.6,384.97 1415.2,385.16 1415.8,386.77 1416.4,385.89 1417.0,386.48 1417.6,387.02 1418.2,385.54 1418.8,387.50 1419.4,387.22 1420.0,387.60 1420.3,387.14 1420.6,387.86 1421.2,386.64 1421.8,386.55 1422.4,386.91 1423.0,386.28 1423.6,384.26 1424.2,384.16 1424.8,384.03 1425.4,383.43 1426.0,383.19 1426.6,383.32 1427.2,382.82 1427.8,382.43 1428.4,382.31 1428.8,380.90 1429.0,381.38 1429.6,382.78 1430.2,381.95 1430.8,382.30 1431.4,383.35 1432.0,383.56 1432.6,384.65 1433.2,386.24 1433.8,386.28 1434.4,386.90 1435.0,386.97 1435.6,387.41 1436.2,389.49 1436.8,388.26 1437.3,389.22 1437.4,390.90 1438.0,390.16 1438.6,389.70 1439.2,391.33 1439.8,390.56 1440.4,390.99 1441.0,391.75 1441.6,390.96 1442.2,390.33 1442.8,391.60 1443.4,392.52 1444.0,392.02 1444.6,392.10 1445.2,391.42 1445.8,392.09 1446.4,392.92 1447.0,392.74 1447.6,392.01 1448.2,392.83 1448.8,392.14 1449.4,393.25 1450.0,391.76 1450.6,392.70 1451.2,391.39 1451.8,392.58 1452.2,394.59 1452.4,392.68 1453.0,393.69 1453.6,393.16 1454.2,393.79 1454.8,392.70 1455.4,392.78 1456.0,393.06 1456.6,393.21 1457.2,393.22 1457.8,393.49 1458.4,392.72 1459.0,393.50 1459.6,393.82 1460.2,392.50 1460.8,392.30 1461.4,393.22 1462.0,392.74 1462.6,393.04 1463.2,391.88 1463.8,392.20 1464.4,392.68 1465.0,392.08 1465.6,392.64 1466.2,392.55 1466.8,392.08 1467.4,392.36 1468.0,392.00 1468.6,391.81 1469.2,392.09 1469.8,393.32 1470.4,392.42 1471.0,392.67 1471.6,392.21 1472.2,392.35 1472.8,392.66 1473.4,391.68 1474.0,391.90 1474.6,392.15 1475.2,393.46 1475.8,393.08 1476.4,391.92 1477.0,392.15 1477.6,392.80 1478.2,392.16 1478.8,393.23 1479.4,392.40 1480.0,391.92 1480.6,392.21 1481.2,392.52 1481.8,392.18 1482.4,391.75 1483.0,392.61 1483.6,392.65 1484.2,392.25 1484.8,392.75 1485.4,392.82 1486.0,392.70 1486.6,391.61 1487.2,391.45 1487.8,392.49 1488.4,392.81 1489.0,392.39 1489.6,391.90 1490.2,392.58 1490.8,391.83 1491.4,391.92 1492.0,392.33 1492.6,392.70 1493.2,392.71 1493.8,392.21 1494.4,392.36 1495.0,393.20 1495.6,391.38 1496.2,392.47 1496.8,392.61 1497.4,392.75 1498.0,392.22 1498.6,391.94 1499.2,392.97 1499.8,392.10 1500.0,392.37 1500.4,393.48 1501.0,392.83 1501.6,392.63 1502.2,392.57 1502.8,393.35 1503.4,391.77 1504.0,392.58 1504.6,392.81 1505.2,392.85 1505.8,391.55 1506.4,392.37 1507.0,392.81 1507.6,392.03 1508.2,392.17 1508.8,391.82 1509.4,393.45 1510.0,393.59 1510.6,393.65 1511.2,392.60 1511.8,393.02 1512.4,393.27 1513.0,393.66 1513.6,392.41 1514.2,393.33 1514.8,393.00 1515.4,393.25 1516.0,393.21 1516.6,392.52 1517.2,393.05 1517.8,392.67 1518.4,392.26 1519.0,393.20 1519.6,392.24 1520.2,393.97 1520.8,393.57 1521.4,392.93 1522.0,393.39 1522.6,392.80 1523.2,392.98 1523.8,392.23 1524.4,393.23 1525.0,392.00 1525.6,392.16 1526.2,394.06 1526.8,393.04 1527.4,392.29 1528.0,393.19 1528.6,392.13 1529.2,392.77 1529.8,392.34 1530.4,392.40 1531.0,392.67 1531.6,392.90 1532.2,393.06 1532.8,392.36 1533.4,391.56 1534.0,392.65 1534.6,392.65 1535.2,393.38 1535.8,393.01 1536.4,393.97 1537.0,393.63 1537.6,393.05 1538.2,393.48 1538.8,393.27 1539.4,394.30 1540.0,392.74 1540.6,393.14 1541.2,393.53 1541.8,392.56 1542.4,393.57 1543.0,392.16 1543.6,393.56 1544.2,393.08 1544.8,392.75 1545.4,392.79 1546.0,392.14 1546.6,393.21 1547.2,393.13 1547.8,392.10 1548.4,392.90 1549.0,392.68 1549.6,392.77 1550.2,392.19 1550.8,393.86 1551.4,393.59 1552.0,392.85 1552.6,393.25 1553.2,394.27 1553.8,393.33 1554.4,393.28 1555.0,393.59 1555.6,393.69 1556.2,393.23 1556.8,393.28 1557.4,393.73 1558.0,392.90 1558.6,392.81 1559.2,393.12 1559.8,392.05 1560.4,392.53 1561.0,393.29 1561.6,392.68 1562.2,393.28 1562.8,393.02 1563.4,393.22 1564.0,392.51 1564.6,392.58 1565.2,392.66 1565.8,394.25 1566.4,393.54 1567.0,393.94 1567.6,394.30 1568.2,394.41 1568.8,393.68 1569.4,393.16 1570.0,393.63 1570.6,393.91 1571.2,393.84 1571.8,394.06 1572.4,393.23 1573.0,394.01 1573.6,393.89 1574.2,395.17 1574.8,394.22 1575.4,393.84 1576.0,394.98 1576.6,395.41 1577.2,395.09 1577.8,394.91 1578.4,394.67 1579.0,394.25 1579.6,394.04 1580.2,393.48 1580.8,394.12 1581.4,394.51 1582.0,394.44 1582.6,393.36 1583.2,394.62 1583.8,394.04 1584.4,394.46 1585.0,394.72 1585.6,393.99 1586.2,394.45 1586.8,394.97 1587.4,394.23 1588.0,394.52 1588.6,394.97 1589.2,393.83 1589.8,393.96 1590.4,394.44 1591.0,393.94 1591.6,394.21 1592.2,395.16 1592.8,394.67 1593.4,394.90 1594.0,393.91 1594.6,394.83 1595.2,394.36 1595.8,395.04 1596.4,394.14 1597.0,394.55 1597.6,394.60 1598.2,395.25 1598.8,394.57 1599.4,393.87 1600.0,394.42 1600.6,395.28 1601.2,394.02 1601.8,393.67 1602.4,394.19 1603.0,395.00 1603.6,393.82 1604.2,394.22 1604.8,395.97 1605.4,394.80 1606.0,394.93 1606.6,395.26 1607.2,395.32 1607.8,394.97 1608.4,395.21 1609.0,394.56 1609.6,395.62 1610.2,395.46 1610.8,396.40 1611.4,395.01 1612.0,395.12 1612.6,395.06 1613.2,395.30 1613.4,395.83 1613.8,396.08 1614.4,395.43 1615.0,395.60 1615.6,395.34 1616.2,396.14 1616.8,395.13 1617.4,395.20 1618.0,395.47 1618.6,395.48 1619.2,394.72 1619.8,395.00 1620.4,395.09 1621.0,395.43 1621.6,394.79 1622.2,394.78 1622.8,395.99 1623.4,395.50 1624.0,395.99 1624.6,395.76 1625.2,395.15 1625.8,395.20 1626.4,393.75 1627.0,393.89 1627.6,394.22 1628.2,394.69 1628.8,394.24 1629.4,393.81 1630.0,393.48 1630.6,394.68 1631.2,393.49 1631.8,394.10 1632.4,394.06 1633.0,393.88 1633.6,394.11 1634.2,394.15 1634.8,394.79 1635.4,393.57 1636.0,393.83 1636.6,393.44 1637.2,394.54 1637.8,394.23 1638.4,393.99 1639.0,393.94 1639.6,393.79 1640.2,394.11 1640.8,394.36 1641.4,394.29 1642.0,393.93 1642.6,394.29 1643.2,393.77 1643.8,392.59 1644.4,394.12 1645.0,393.27 1645.6,393.09 1646.2,393.51 1646.8,393.15 1647.4,392.94 1648.0,393.02 1648.6,393.39 1649.2,393.14 1649.8,393.12 1650.4,392.73 1651.0,393.83 1651.6,392.92 1652.2,393.22 1652.8,393.86 1653.4,393.54 1654.0,393.96 1654.6,393.26 1655.2,393.74 1655.8,394.11 1656.4,394.30 1657.0,393.50 1657.6,393.65 1658.2,393.64 1658.8,394.33 1659.4,392.77 1660.0,393.89 1660.6,392.65 1661.2,393.15 1661.8,393.48 1662.4,392.35 1663.0,393.18 1663.6,392.15 1664.2,393.18 1664.8,392.92 1665.4,393.65 1666.0,392.87 1666.6,392.89 1667.2,392.45 1667.8,393.01 1668.4,392.11 1669.0,391.87 1669.6,392.22 1670.2,392.45 1670.8,392.37 1671.4,392.04 1672.0,391.86 1672.6,391.33 1673.2,391.37 1673.8,392.00 1674.4,392.39 1675.0,392.86 1675.6,392.75 1676.2,392.71 1676.8,392.33 1677.4,391.96 1678.0,392.54 1678.6,392.40 1679.2,392.46 1679.8,392.99 1680.4,392.45 1681.0,392.46 1681.6,392.68 1682.2,392.75 1682.8,392.70 1683.4,393.14 1684.0,391.96 1684.6,393.40 1685.2,392.46 1685.8,392.17 1686.4,393.15 1687.0,391.67 1687.6,392.74 1688.2,391.67 1688.8,393.14 1689.4,392.36 1690.0,394.05 1690.6,392.13 1691.2,393.40 1691.8,392.56 1692.4,392.61 1693.0,392.41 1693.6,392.42 1694.2,392.62 1694.8,393.51 1695.4,393.29 1696.0,393.35 1696.6,392.68 1697.2,393.32 1697.8,393.69 1698.4,392.95 1699.0,393.93 1699.6,394.24 1700.2,393.89 1700.8,393.88 1701.4,394.13 1702.0,393.60 1702.6,394.42 1703.2,394.76 1703.8,393.77 1704.4,393.83 1705.0,393.38 1705.6,393.23 1706.2,393.04 1706.8,392.77 1707.4,393.52 1708.0,392.87 1708.6,392.93 1709.2,393.08 1709.8,392.66 1710.4,393.66 1711.0,393.72 1711.6,394.08 1712.2,392.96 1712.8,393.83 1713.4,394.45 1714.0,393.23 1714.6,393.86 1715.2,393.69 1715.8,394.36 1716.4,394.58 1717.0,394.57 1717.6,394.31 1718.2,394.69 1718.8,394.01 1719.4,394.87 1720.0,394.28 1720.6,393.40 1721.2,394.19 1721.8,394.49 1722.4,393.25 1723.0,395.60 1723.6,394.32 1724.2,393.87 1724.8,395.28 1725.4,395.56 1726.0,395.35 1726.6,395.00 1727.2,394.77 1727.8,395.59 1728.4,395.03 1729.0,393.82 1729.6,394.98 1730.2,394.92 1730.8,393.51 1731.4,393.51 1732.0,394.76 1732.6,394.16 1733.2,393.95 1733.8,394.03 1734.4,394.78 1734.6,394.20 1735.0,393.86 1735.6,394.61 1736.2,394.29 1736.8,394.43 1737.4,394.47 1738.0,393.58 1738.6,394.54 1739.2,394.60 1739.8,394.87 1740.4,394.99 1741.0,395.09 1741.6,395.12 1742.2,395.53 1742.8,395.31 1743.4,396.00 1744.0,395.14 1744.6,395.12 1745.2,396.06 1745.8,395.43 1746.4,395.20 1747.0,394.62 1747.6,395.37 1748.2,394.52 1748.8,394.83 1749.4,394.99 1750.0,395.61 1750.6,395.44 1751.2,395.15 1751.8,395.27 1752.4,394.95 1753.0,395.34 1753.6,395.03 1754.2,395.30 1754.8,395.32 1755.4,394.17 1756.0,394.39 1756.6,394.02 1757.2,394.10 1757.8,394.93 1758.4,395.03 1759.0,395.53 1759.6,395.92 1760.2,394.69 1760.8,395.30 1761.4,395.21 1762.0,394.73 1762.6,393.51 1763.2,393.67 1763.8,393.61 1764.4,394.13 1765.0,394.51 1765.6,393.38 1766.2,393.62 1766.8,393.90 1767.4,394.19 1768.0,393.77 1768.6,394.73 1769.0,394.54 1769.2,394.94 1769.8,393.95 1770.4,394.62 1771.0,393.63 1771.6,394.25 1772.2,393.95 1772.8,393.85 1773.4,393.65 1774.0,393.37 1774.6,392.70 1775.2,393.41 1775.8,391.67 1776.4,392.66 1777.0,391.89 1777.6,391.37 1778.2,390.75 1778.8,390.69 1779.4,390.40 1780.0,389.35 1780.6,390.28 1781.2,389.25 1781.4,389.51 1781.8,389.29 1782.4,391.02 1783.0,390.40 1783.6,390.87 1784.2,391.00 1784.8,391.30 1785.4,391.50 1786.0,391.45 1786.6,392.80 1787.2,392.63 1787.8,392.11 1788.4,393.01 1789.0,392.81 1789.6,392.81 1790.2,392.97 1790.8,393.71 1791.4,393.51 1792.0,394.00 1792.6,394.48 1793.0,394.06 1793.2,394.43 1793.8,394.19 1794.4,395.19 1795.0,394.41 1795.6,395.02 1796.2,394.88 1796.8,394.81 1797.4,394.19 1798.0,394.34 1798.6,394.93 1799.2,394.81 1799.8,393.98 1800.4,393.17 1801.0,394.26 1801.6,393.88 1802.2,394.23 1802.8,394.47 1803.4,394.36 1804.0,393.94 1804.6,393.29 1805.2,394.70 1805.8,394.55 1806.4,394.21 1807.0,394.51 1807.6,394.52 1808.2,394.46 1808.8,394.44 1809.4,394.57 1810.0,394.21 1810.6,394.31 1811.2,394.38 1811.8,393.90 1812.4,394.00 1813.0,393.68 1813.6,394.86 1814.2,394.13 1814.8,395.02 1815.4,393.73 1816.0,394.73 1816.6,394.81 1817.2,394.57 1817.8,394.56 1818.4,394.91 1819.0,394.95 1819.6,393.74 1820.2,393.42 1820.8,393.40 1821.4,393.97 1822.0,393.90 1822.6,393.94 1823.2,393.91 1823.8,394.14 1824.4,394.09 1825.0,394.31 1825.6,393.65 1826.2,394.11 1826.8,394.40 1827.4,394.99 1828.0,394.54 1828.6,394.23 1829.2,394.56 1829.8,394.73 1830.4,394.45 1831.0,394.31 1831.6,394.17 1832.2,393.86 1832.8,394.54 1833.4,393.91 1834.0,394.52 1834.6,394.12 1835.2,394.26 1835.8,394.70 1836.4,394.90 1837.0,394.74 1837.6,394.63 1838.2,394.77 1838.8,395.23 1839.4,394.25 1840.0,395.41 1840.6,395.09 1841.2,394.58 1841.8,395.07 1842.4,394.65 1843.0,394.64 1843.6,395.15 1844.2,394.99 1844.8,394.13 1845.4,394.67 1846.0,395.10 1846.6,394.12 1847.2,394.80 1847.8,393.99 1848.4,395.62 1849.0,395.21 1849.6,395.41 1850.2,395.49 1850.8,395.59 1851.4,394.84 1851.5,395.69 1852.0,394.96 1852.6,395.11 1853.2,395.93 1853.8,394.76 1854.4,395.22 1855.0,395.36 1855.6,394.57 1856.2,394.93 1856.8,394.88 1857.4,395.05 1858.0,395.37 1858.6,395.24 1859.2,395.27 1859.8,394.39 1860.4,395.12 1861.0,395.66 1861.6,395.16 1862.2,395.21 1862.8,395.54 1863.4,395.24 1864.0,395.26 1864.6,395.38 1865.2,394.81 1865.8,395.38 1866.4,394.67 1867.0,395.10 1867.6,394.64 1868.2,394.86 1868.8,394.84 1869.4,395.46 1870.0,395.30 1870.6,394.72 1871.2,394.56 1871.8,394.90 1872.4,394.05 1873.0,394.83 1873.6,394.48 1874.2,395.15 1874.8,395.11 1875.4,394.73 1876.0,394.95 1876.6,394.63 1877.2,394.11 1877.8,395.50 1878.4,395.05 1879.0,394.99 1879.6,394.62 1880.2,394.70 1880.8,394.55 1881.4,395.42 1882.0,394.58 1882.6,394.83 1883.2,394.76 1883.8,394.28 1884.4,394.44 1885.0,395.67 1885.6,395.10 1886.2,394.43 1886.8,394.46 1887.4,395.25 1888.0,394.56 1888.6,393.97 1889.2,393.88 1889.8,394.83 1890.4,394.53 1891.0,394.92 1891.6,394.35 1892.2,393.99 1892.8,394.49 1893.4,394.99 1894.0,395.24 1894.6,395.25 1895.2,395.18 1895.8,394.42 1896.4,395.12 1897.0,394.69 1897.6,394.56 1898.2,394.55 1898.8,395.15 1899.4,395.23 1900.0,394.78 1900.6,395.20 1901.2,394.29 1901.8,394.88 1902.4,394.14 1903.0,395.09 1903.6,395.34"/>
<path stroke="#ff3fa9" d="M271.0,458.91 271.6,457.39 272.2,460.53 272.8,460.66 273.4,459.37 274.0,460.15 274.6,461.73 275.2,460.94 275.8,460.53 276.0,460.53 276.4,458.79 277.0,461.18 277.6,458.31 278.2,460.19 278.8,460.39 279.4,459.19 280.0,461.46 280.6,463.87 281.2,461.79 281.8,461.02 282.4,462.57 283.0,463.88 283.4,463.21 283.6,462.92 284.2,460.99 284.8,462.95 285.4,462.57 286.0,463.17 286.6,462.91 287.2,461.49 287.8,458.25 288.4,458.01 289.0,457.92 289.6,459.07 290.2,457.27 290.8,459.24 291.4,457.46 292.0,457.09 292.6,457.03 293.2,456.04 293.8,453.46 294.0,457.84 294.4,455.94 295.0,454.86 295.6,450.95 296.2,448.38 296.8,447.47 297.4,446.67 298.0,447.60 298.6,446.27 299.2,445.57 299.8,445.02 300.4,441.77 301.0,440.25 301.6,438.09 302.2,436.84 302.5,435.27 302.8,436.59 303.4,434.99 304.0,432.74 304.6,430.84 305.2,430.90 305.8,430.45 306.4,427.56 307.0,426.34 307.6,423.91 308.2,422.80 308.8,421.25 309.4,419.80 310.0,417.94 310.6,417.61 311.0,417.67 311.2,414.54 311.8,415.86 312.4,412.35 313.0,411.01 313.6,407.55 314.2,405.87 314.8,408.19 315.4,404.67 316.0,405.48 316.6,403.18 317.2,401.99 317.4,402.76 317.8,400.21 318.4,395.09 319.0,395.44 319.6,397.15 320.2,396.89 320.8,393.03 321.4,390.94 322.0,388.80 322.6,389.81 323.2,385.92 323.8,385.53 324.4,386.23 324.9,385.56 325.0,385.36 325.6,387.99 326.2,386.56 326.8,387.99 327.4,390.34 328.0,392.42 328.6,393.52 329.2,397.82 329.8,396.43 330.4,399.50 331.0,399.74 331.6,402.44 332.2,403.20 332.3,403.53 332.8,407.64 333.4,407.60 334.0,412.26 334.6,411.76 335.2,414.43 335.8,418.62 336.4,416.83 337.0,420.09 337.6,424.33 338.2,427.08 338.7,428.97 338.8,428.22 339.4,428.61 340.0,432.88 340.6,434.04 341.2,433.79 341.8,436.74 342.4,440.26 343.0,439.81 343.6,439.76 344.2,442.10 344.8,443.58 345.0,444.85 345.4,446.07 346.0,444.80 346.6,446.00 347.2,448.80 347.8,449.34 348.4,450.91 349.0,448.49 349.6,449.91 350.2,453.00 350.8,451.52 351.4,453.77 352.0,454.07 352.6,453.99 353.2,457.28 353.8,456.26 354.4,456.37 355.0,457.45 355.6,458.59 355.7,456.55 356.2,457.76 356.8,457.76 357.4,457.28 358.0,461.34 358.6,462.37 359.2,462.59 359.8,459.69 360.4,462.72 361.0,463.58 361.6,462.66 362.2,464.78 362.8,463.07 363.4,463.62 364.0,464.40 364.6,465.03 365.2,465.17 365.8,467.91 366.3,465.94 366.4,466.71 367.0,466.76 367.6,470.28 368.2,466.95 368.8,468.76 369.4,470.54 370.0,467.31 370.6,467.93 371.2,468.70 371.8,467.75 372.4,470.84 373.0,469.07 373.6,470.98 374.2,470.55 374.8,470.12 375.4,471.35 376.0,470.07 376.6,471.78 377.2,469.26 377.8,470.09 378.4,472.50 379.0,468.98 379.6,472.13 380.2,471.37 380.8,471.47 381.4,471.52 382.0,473.97 382.6,470.98 383.2,473.79 383.8,473.52 384.4,472.61 385.0,473.11 385.6,474.13 386.2,472.81 386.8,471.95 387.4,474.15 387.6,472.97 388.0,473.59 388.6,474.28 389.2,475.21 389.8,476.56 390.4,475.03 391.0,474.89 391.6,475.77 392.2,475.27 392.8,473.17 393.4,474.49 394.0,473.91 394.6,476.20 395.2,477.00 395.8,476.15 396.4,474.79 397.0,477.02 397.6,475.26 398.2,476.81 398.8,475.40 399.4,475.39 400.0,475.57 400.6,477.34 401.2,476.80 401.8,478.23 402.4,476.53 403.0,478.73 403.6,477.71 404.2,479.97 404.8,479.87 405.4,478.63 406.0,479.08 406.6,479.30 407.2,479.60 407.8,478.85 408.4,480.44 408.9,478.73 409.0,477.16 409.6,479.61 410.2,479.25 410.8,480.31 411.4,480.04 412.0,479.51 412.6,479.44 413.2,479.40 413.8,478.49 414.4,477.82 415.0,478.23 415.6,479.02 416.2,476.63 416.8,478.65 417.4,478.07 418.0,479.09 418.6,478.33 419.2,479.34 419.8,479.08 420.4,480.83 421.0,479.13 421.6,479.36 422.2,479.78 422.8,477.90 423.4,478.85 424.0,481.72 424.6,480.83 425.2,480.47 425.8,481.65 426.4,480.36 427.0,480.37 427.6,480.40 428.2,478.90 428.8,481.96 429.4,480.85 430.0,481.06 430.1,480.87 430.6,480.62 431.2,478.92 431.8,481.58 432.4,483.80 433.0,482.51 433.6,481.11 434.2,480.41 434.8,481.44 435.4,481.81 436.0,481.28 436.6,482.32 437.2,480.39 437.8,482.57 438.4,481.58 439.0,480.82 439.6,481.12 440.2,481.84 440.8,482.36 441.4,481.70 442.0,482.35 442.6,484.43 443.2,480.17 443.8,479.87 444.4,482.21 445.0,481.12 445.6,482.33 446.2,480.50 446.8,482.39 447.4,483.68 448.0,483.48 448.6,481.14 449.2,482.03 449.8,483.37 450.4,484.46 451.0,481.55 451.4,481.71 451.6,483.87 452.2,482.39 452.8,481.76 453.4,484.07 454.0,481.20 454.6,482.32 455.2,484.14 455.8,482.50 456.4,484.06 457.0,482.03 457.6,484.28 458.2,484.08 458.8,485.44 459.4,483.58 460.0,483.59 460.6,483.97 461.2,485.28 461.8,483.43 462.4,484.10 463.0,486.36 463.6,485.15 464.2,485.13 464.8,483.88 465.4,485.46 466.0,483.45 466.6,483.27 467.2,484.04 467.8,486.73 468.4,485.59 469.0,484.59 469.6,485.36 470.2,486.37 470.8,487.28 471.4,484.42 472.0,487.68 472.6,487.37 472.7,485.67 473.2,486.09 473.8,487.18 474.4,486.52 475.0,487.15 475.6,486.08 476.2,485.46 476.8,490.13 477.4,487.91 478.0,488.11 478.6,488.53 479.2,489.51 479.8,489.17 480.4,487.19 481.0,488.25 481.6,488.53 482.2,489.35 482.8,488.01 483.4,489.13 484.0,489.04 484.6,490.31 485.2,486.17 485.8,489.03 486.4,489.34 487.0,489.74 487.6,489.10 488.2,488.31 488.8,489.98 489.4,489.78 490.0,488.65 490.6,488.22 491.2,490.33 491.8,488.91 492.4,490.54 493.0,491.46 493.1,490.07 493.6,488.57 494.2,486.04 494.8,484.70 494.9,484.30 495.4,479.54 496.0,476.67 496.6,479.64 497.1,482.58 497.2,484.33 497.8,486.11 498.4,487.73 498.9,488.53 499.0,491.05 499.6,488.98 500.2,488.81 500.8,489.69 501.4,490.78 502.0,488.30 502.4,490.87 502.6,490.77 503.2,489.31 503.8,489.60 504.4,490.79 505.0,493.13 505.6,490.99 506.2,492.47 506.8,492.39 507.4,489.82 508.0,491.51 508.6,492.57 509.2,491.06 509.8,492.86 510.4,490.50 511.0,490.12 511.6,491.21 512.2,492.38 512.8,491.38 513.4,492.82 514.0,490.42 514.6,491.57 515.2,493.76 515.8,490.02 516.4,493.05 517.0,491.99 517.3,492.25 517.6,492.64 518.2,491.30 518.8,493.54 519.4,492.92 520.0,493.25 520.6,491.83 521.2,490.32 521.8,491.58 522.4,489.16 523.0,489.23 523.6,491.98 524.2,490.61 524.8,489.68 525.4,490.48 526.0,488.43 526.6,489.10 527.2,487.45 527.8,487.72 528.4,487.93 529.0,489.13 529.6,486.65 530.2,488.18 530.8,486.84 531.4,484.80 532.0,484.37 532.6,485.38 533.2,486.96 533.8,485.90 534.3,487.32 534.4,485.63 535.0,486.96 535.6,485.86 536.2,484.78 536.8,486.56 537.4,485.22 538.0,484.70 538.6,485.54 539.2,486.08 539.8,486.90 540.4,487.67 541.0,487.59 541.6,489.24 542.2,485.28 542.8,487.24 543.4,490.21 544.0,487.45 544.6,486.69 545.2,487.43 545.8,487.46 546.4,488.21 547.0,490.72 547.6,487.80 548.2,488.73 548.8,491.06 549.4,490.08 550.0,490.25 550.6,489.65 551.2,491.09 551.8,489.21 552.4,491.30 553.0,490.55 553.6,490.33 554.2,490.08 554.8,491.68 555.4,491.19 556.0,490.59 556.6,491.27 557.2,490.26 557.7,492.75 557.8,492.88 558.4,492.74 559.0,491.99 559.6,492.30 560.2,490.50 560.8,491.58 561.4,491.80 562.0,492.02 562.6,492.91 563.2,491.98 563.8,491.83 564.4,493.92 565.0,492.56 565.6,492.38 566.2,491.17 566.8,491.97 567.4,493.24 568.0,493.89 568.6,492.00 569.2,493.91 569.8,494.42 570.4,493.75 571.0,494.47 571.6,495.96 572.2,493.95 572.8,493.13 573.4,494.52 574.0,494.08 574.6,494.94 575.2,495.70 575.8,495.89 576.4,495.32 577.0,496.38 577.6,495.35 578.2,496.01 578.8,495.36 579.0,495.27 579.4,494.48 580.0,494.98 580.6,494.42 581.2,494.70 581.8,495.07 582.4,496.14 583.0,494.76 583.6,495.61 584.2,493.77 584.8,494.69 585.4,496.21 586.0,495.28 586.6,493.15 587.2,494.89 587.8,494.68 588.4,493.76 589.0,493.19 589.6,493.98 590.2,493.85 590.8,495.58 591.4,495.44 592.0,495.49 592.6,495.92 593.2,492.74 593.8,494.60 594.4,495.21 595.0,494.23 595.6,494.27 596.2,494.09 596.8,495.00 597.4,494.74 598.0,495.93 598.6,495.04 599.2,494.78 599.8,494.47 600.4,493.67 601.0,494.52 601.6,495.19 602.2,494.88 602.8,493.45 603.4,493.11 604.0,495.34 604.6,494.94 605.2,495.10 605.8,494.03 606.4,495.59 607.0,495.54 607.6,494.56 608.2,495.31 608.8,493.83 609.4,494.60 610.0,492.75 610.6,494.42 611.2,497.08 611.8,495.43 612.4,496.42 613.0,495.34 613.6,495.01 614.2,494.98 614.8,494.36 615.4,495.41 616.0,493.97 616.6,494.68 617.2,497.71 617.8,495.02 618.4,494.04 619.0,495.48 619.6,494.85 620.2,494.18 620.8,493.36 621.4,494.27 621.5,493.99 622.0,494.44 622.6,494.72 623.2,494.58 623.8,493.36 624.4,494.71 625.0,494.58 625.6,492.78 626.2,494.51 626.8,494.15 627.4,494.62 628.0,493.25 628.6,494.00 629.2,494.08 629.8,493.11 630.4,494.74 631.0,493.91 631.6,494.50 632.2,493.09 632.8,492.64 633.4,492.79 634.0,491.77 634.6,493.09 635.2,494.24 635.8,495.32 636.4,495.17 637.0,495.46 637.6,495.61 638.2,496.56 638.8,494.83 639.4,495.63 640.0,495.39 640.6,492.32 641.2,494.91 641.8,494.78 642.4,495.05 643.0,494.18 643.6,493.98 644.2,494.23 644.8,495.49 645.4,495.31 646.0,496.37 646.6,493.83 647.2,496.15 647.8,496.90 648.4,494.18 649.0,495.05 649.6,493.35 650.2,492.07 650.8,493.29 651.4,494.49 652.0,494.53 652.6,493.85 653.2,494.77 653.8,494.46 654.4,495.94 655.0,492.83 655.6,493.44 656.2,493.86 656.8,493.97 657.4,494.32 658.0,497.23 658.6,494.78 659.2,495.90 659.8,494.03 660.4,494.82 661.0,496.38 661.6,496.56 662.2,494.08 662.8,497.64 663.4,496.00 664.0,494.79 664.6,495.89 665.2,494.71 665.8,493.80 666.4,495.26 667.0,495.78 667.6,495.93 668.2,493.26 668.8,493.92 669.4,494.65 670.0,495.86 670.6,496.10 671.2,494.43 671.8,493.62 672.4,495.28 673.0,494.21 673.6,495.02 674.2,495.57 674.8,495.09 675.4,493.49 676.0,493.24 676.6,492.98 677.2,495.15 677.8,495.56 678.4,493.54 679.0,494.10 679.6,493.82 680.0,494.71 680.2,494.13 680.8,494.22 681.4,496.32 682.0,496.06 682.6,495.25 683.2,496.35 683.8,494.70 684.4,495.71 685.0,494.33 685.6,494.46 686.2,496.04 686.8,493.90 687.4,494.58 688.0,493.81 688.6,493.71 689.2,494.89 689.8,494.93 690.4,493.42 691.0,496.87 691.3,496.21 691.6,493.79 692.2,494.86 692.8,494.41 693.4,493.45 694.0,492.63 694.6,493.69 695.2,493.37 695.8,494.57 696.4,493.53 697.0,492.40 697.6,492.70 698.2,493.32 698.8,494.25 699.4,492.20 700.0,493.48 700.6,494.37 701.2,491.63 701.8,494.16 702.4,492.11 703.0,492.36 703.6,491.69 704.2,492.34 704.8,492.28 705.4,492.15 706.0,494.15 706.6,489.10 707.2,490.87 707.8,490.05 708.4,491.04 709.0,490.54 709.6,490.93 710.2,491.12 710.8,490.57 711.4,491.97 712.0,489.71 712.5,490.59 712.6,491.16 713.2,492.34 713.8,489.73 714.4,489.72 715.0,491.22 715.6,490.65 716.2,489.06 716.8,491.28 717.4,490.25 718.0,489.53 718.6,489.35 719.2,489.60 719.8,489.05 720.4,489.58 721.0,489.50 721.6,488.11 722.2,487.60 722.8,490.42 723.4,488.35 724.0,490.29 724.6,488.67 725.2,485.89 725.8,488.36 726.4,487.06 727.0,485.55 727.4,487.39 727.6,486.19 728.2,486.60 728.8,487.42 729.4,486.68 730.0,485.60 730.6,485.22 731.2,484.80 731.8,483.68 732.4,482.92 733.0,482.94 733.6,482.97 734.2,481.59 734.8,481.55 735.4,481.22 736.0,479.80 736.6,481.04 737.2,480.70 737.8,479.18 738.4,477.65 739.0,476.29 739.6,475.37 740.2,478.36 740.8,477.20 741.2,476.34 741.4,475.61 742.0,476.98 742.6,478.17 743.2,477.80 743.8,476.77 744.4,480.62 745.0,478.56 745.6,477.13 746.2,478.82 746.8,479.03 747.4,479.51 747.6,479.28 748.0,477.64 748.6,478.70 749.2,477.15 749.8,477.45 750.4,476.69 751.0,476.69 751.6,475.62 752.2,474.43 752.8,476.41 753.0,473.50 753.4,472.76 754.0,472.36 754.6,471.19 755.2,470.38 755.8,466.93 756.4,466.44 757.0,466.67 757.5,464.90 757.6,464.69 758.2,462.08 758.8,461.04 759.4,460.57 760.0,460.48 760.6,459.92 761.2,458.89 761.8,455.18 762.1,456.15 762.4,454.90 763.0,451.43 763.6,448.15 764.2,444.17 764.8,441.51 765.1,438.20 765.4,440.10 766.0,436.34 766.6,434.67 767.2,429.84 767.8,426.30 768.4,426.81 768.6,422.40 769.0,421.97 769.6,421.81 770.2,420.52 770.8,416.89 771.4,415.76 772.0,414.40 772.4,414.43 772.6,413.82 773.2,417.55 773.8,420.73 774.4,422.92 774.7,424.52 775.0,428.23 775.6,430.23 776.2,433.50 776.8,438.72 777.2,441.35 777.4,440.76 778.0,443.81 778.6,449.21 779.2,452.19 779.8,455.34 780.3,458.06 780.4,455.93 781.0,457.45 781.6,461.65 782.2,463.41 782.8,464.48 783.4,466.70 784.0,467.07 784.6,468.51 785.2,470.96 785.8,473.07 786.4,474.64 787.0,475.39 787.6,477.40 788.2,479.29 788.8,479.98 789.4,480.42 790.0,483.21 790.6,481.60 791.2,483.65 791.8,485.96 792.4,487.24 793.0,487.28 793.6,486.25 794.2,485.81 794.8,487.65 795.0,488.30 795.4,488.83 796.0,488.40 796.6,489.36 797.2,490.52 797.8,490.86 798.4,492.35 799.0,492.10 799.6,492.44 800.2,491.76 800.8,492.56 801.4,491.08 801.5,492.39 802.0,491.42 802.6,493.00 803.2,493.44 803.8,493.16 804.4,494.45 805.0,492.64 805.6,493.22 806.2,492.91 806.8,493.19 807.4,494.68 808.0,492.46 808.6,495.16 809.2,495.02 809.8,494.49 810.4,493.82 811.0,494.47 811.6,494.05 812.2,495.77 812.8,493.64 813.4,493.83 814.0,494.74 814.6,492.61 815.2,496.02 815.8,494.54 816.4,495.52 817.0,495.11 817.6,493.56 818.2,495.20 818.8,495.63 818.9,494.32 819.4,494.50 820.0,494.48 820.6,496.05 821.2,494.32 821.8,494.61 822.4,495.30 823.0,495.45 823.6,494.80 824.2,496.59 824.8,496.58 825.4,494.08 826.0,496.63 826.6,495.47 827.2,495.63 827.8,495.73 828.4,493.91 829.0,494.01 829.6,495.48 830.2,494.43 830.8,497.32 831.4,494.52 832.0,495.60 832.6,493.88 833.2,496.45 833.8,496.16 834.4,493.28 835.0,494.86 835.6,494.67 836.2,495.95 836.8,492.63 837.4,494.39 838.0,495.36 838.6,494.20 839.2,493.80 839.8,492.92 840.1,494.29 840.4,493.60 841.0,492.31 841.6,493.46 842.2,492.58 842.8,493.30 843.4,493.61 844.0,493.88 844.6,493.23 845.2,492.06 845.8,492.73 846.4,492.56 847.0,493.69 847.6,492.15 848.2,493.91 848.8,492.43 849.4,492.83 850.0,491.66 850.6,492.84 851.2,491.05 851.8,492.70 852.4,491.45 853.0,491.56 853.6,491.22 854.2,489.93 854.8,491.69 855.4,489.12 856.0,490.43 856.6,490.92 857.2,491.05 857.8,489.57 858.2,489.64 858.4,489.94 859.0,489.53 859.6,490.46 860.2,490.23 860.8,491.72 861.4,491.51 862.0,491.35 862.6,491.78 863.2,492.89 863.8,492.47 864.4,492.38 865.0,493.03 865.6,494.54 866.2,493.25 866.8,495.22 867.4,496.20 868.0,495.33 868.6,495.89 869.2,495.17 869.8,495.81 869.9,496.16 870.4,496.94 871.0,496.39 871.6,495.84 872.2,496.40 872.8,495.94 873.4,498.48 874.0,496.63 874.6,498.54 875.2,496.09 875.8,496.75 876.4,498.90 877.0,497.61 877.6,499.73 878.2,498.70 878.8,499.20 879.4,496.73 880.0,498.11 880.6,497.58 881.2,499.10 881.8,497.31 882.4,497.61 883.0,496.87 883.6,496.14 884.2,497.99 884.8,497.20 885.4,497.82 886.0,496.77 886.6,497.60 887.2,497.03 887.8,497.41 888.4,498.09 889.0,497.65 889.6,498.69 890.2,497.43 890.8,498.19 891.4,499.76 892.0,498.21 892.6,497.45 893.2,500.04 893.3,498.93 893.8,498.14 894.4,497.92 895.0,499.19 895.6,497.63 896.2,497.00 896.8,498.74 897.4,498.24 898.0,498.38 898.6,497.29 899.2,497.91 899.8,496.64 900.4,496.98 901.0,497.28 901.6,497.18 902.2,497.73 902.8,497.32 903.0,495.84 903.4,496.08 904.0,497.10 904.6,497.54 904.7,496.90 905.2,495.32 905.8,494.57 906.4,493.84 907.0,492.46 907.6,489.39 908.2,487.09 908.8,485.80 909.4,483.44 909.7,483.30 910.0,483.32 910.6,486.23 911.2,488.61 911.8,491.44 912.4,492.84 913.0,493.60 913.6,494.23 914.2,496.99 914.7,496.69 914.8,496.13 915.4,497.13 916.0,496.38 916.4,499.02 916.6,498.44 917.2,498.71 917.8,497.29 918.4,497.53 919.0,497.77 919.6,497.25 920.2,497.56 920.8,497.86 921.4,496.95 922.0,497.50 922.6,498.61 923.2,497.80 923.8,496.35 924.4,497.13 925.0,497.41 925.6,497.68 926.2,498.28 926.8,497.47 927.4,499.47 928.0,498.09 928.6,498.68 929.2,497.61 929.8,496.67 930.4,498.71 931.0,498.99 931.6,499.16 932.2,498.30 932.8,498.54 933.4,497.72 934.0,497.12 934.6,498.44 935.2,498.80 935.8,498.80 936.4,499.08 937.0,499.17 937.6,499.03 938.2,499.01 938.8,498.61 939.4,497.95 940.0,496.79 940.6,498.47 941.2,499.33 941.8,498.53 942.4,499.59 943.0,498.50 943.6,496.25 944.2,498.58 944.8,496.89 945.4,497.41 946.0,497.02 946.6,497.15 947.2,498.31 947.8,497.79 948.4,495.60 949.0,496.85 949.6,495.79 950.2,497.20 950.8,497.33 951.4,495.68 952.0,496.67 952.6,496.66 953.2,496.33 953.8,496.53 954.4,495.45 955.0,495.72 955.6,495.28 956.2,495.26 956.8,495.07 957.4,493.33 958.0,494.74 958.6,495.65 959.2,493.74 959.8,494.33 960.4,492.36 961.0,494.92 961.6,494.70 962.2,495.30 962.8,495.78 963.4,493.93 963.5,494.07 964.0,495.14 964.6,494.47 965.2,495.49 965.8,493.84 966.4,495.06 967.0,494.58 967.6,494.35 968.2,495.78 968.8,494.94 969.4,495.47 970.0,495.69 970.6,494.02 971.2,496.93 971.8,496.82 972.4,496.88 973.0,496.60 973.6,498.03 974.2,497.26 974.8,496.22 975.4,497.36 976.0,497.98 976.2,497.01 976.6,497.02 977.2,497.40 977.8,497.61 978.4,497.34 979.0,496.66 979.6,497.33 980.2,496.50 980.8,496.26 981.4,497.16 982.0,495.71 982.6,495.05 983.2,495.84 983.8,494.46 984.4,495.83 985.0,494.83 985.6,495.38 986.2,494.47 986.8,493.57 987.4,492.08 988.0,493.49 988.6,495.02 989.0,493.78 989.2,494.93 989.8,495.29 990.4,493.40 991.0,494.58 991.6,495.02 992.2,496.45 992.8,496.77 993.4,495.22 994.0,496.52 994.6,496.52 995.2,495.69 995.8,497.68 996.4,498.46 997.0,496.68 997.6,498.32 998.2,497.61 998.8,499.27 999.4,499.57 1000.0,498.71 1000.6,499.06 1001.2,500.63 1001.8,499.42 1002.4,500.45 1003.0,498.37 1003.6,498.66 1004.2,500.71 1004.8,500.19 1005.4,499.89 1006.0,499.38 1006.6,500.48 1007.2,499.36 1007.8,500.32 1008.4,501.00 1009.0,500.31 1009.6,499.34 1010.2,499.28 1010.8,500.22 1011.4,498.87 1012.0,501.20 1012.6,500.09 1013.2,500.20 1013.8,500.46 1014.4,500.22 1015.0,501.89 1015.6,500.42 1016.2,500.03 1016.8,501.78 1017.4,500.44 1018.0,502.10 1018.6,501.52 1019.2,500.66 1019.8,501.10 1020.4,500.30 1021.0,500.28 1021.6,502.05 1022.2,501.00 1022.8,501.19 1023.4,501.01 1024.0,501.52 1024.6,501.25 1025.2,501.55 1025.8,501.58 1026.4,502.58 1027.0,501.25 1027.6,501.56 1028.2,501.76 1028.8,501.00 1029.4,502.10 1030.0,501.69 1030.6,501.38 1031.2,501.27 1031.5,501.80 1031.8,502.05 1032.4,502.24 1033.0,502.51 1033.6,501.79 1034.2,503.09 1034.8,502.24 1035.4,503.05 1036.0,502.06 1036.6,503.19 1037.2,502.45 1037.8,501.89 1038.4,502.13 1039.0,502.60 1039.6,501.20 1040.2,502.57 1040.8,500.95 1041.4,502.58 1042.0,501.87 1042.6,501.65 1043.2,502.23 1043.8,503.70 1044.4,504.12 1045.0,502.70 1045.6,504.11 1046.2,503.35 1046.8,504.44 1047.4,503.25 1048.0,503.72 1048.6,502.42 1049.2,504.08 1049.8,503.80 1050.4,504.05 1051.0,504.41 1051.6,503.05 1052.2,503.70 1052.8,502.09 1053.4,502.91 1054.0,502.75 1054.6,504.36 1055.2,504.27 1055.8,504.19 1056.4,504.06 1057.0,505.46 1057.6,504.60 1058.2,503.56 1058.8,505.22 1059.4,505.23 1060.0,504.64 1060.6,502.39 1061.2,503.45 1061.8,504.56 1062.4,504.07 1063.0,503.19 1063.4,504.54 1063.6,503.91 1064.2,504.62 1064.8,504.55 1065.4,505.33 1066.0,503.45 1066.6,504.76 1067.2,503.12 1067.8,504.46 1068.4,503.95 1069.0,503.82 1069.6,503.57 1070.2,502.96 1070.8,503.79 1071.4,503.95 1072.0,504.51 1072.6,503.94 1073.2,504.05 1073.8,502.92 1074.4,502.43 1075.0,503.79 1075.6,505.33 1076.2,503.43 1076.8,502.77 1077.4,501.43 1078.0,503.71 1078.6,502.48 1079.2,502.68 1079.8,503.30 1080.0,503.56 1080.4,504.44 1081.0,503.91 1081.6,503.47 1082.2,502.88 1082.8,501.98 1083.4,502.65 1084.0,503.54 1084.6,501.21 1085.2,502.84 1085.8,504.08 1086.4,503.66 1087.0,502.80 1087.6,502.74 1088.2,503.41 1088.8,502.70 1089.4,503.18 1090.0,503.93 1090.6,502.36 1091.2,502.03 1091.8,503.14 1092.4,502.53 1093.0,501.62 1093.6,500.70 1094.2,503.41 1094.8,503.50 1095.4,502.01 1096.0,502.49 1096.6,502.30 1097.0,502.50 1097.2,503.44 1097.8,502.65 1098.4,502.31 1099.0,502.73 1099.6,502.69 1100.2,503.18 1100.8,502.56 1101.4,502.34 1102.0,504.24 1102.6,503.48 1103.2,503.60 1103.8,504.63 1104.4,503.11 1105.0,503.02 1105.6,503.53 1106.2,502.66 1106.8,502.85 1107.4,502.94 1108.0,504.30 1108.6,502.88 1109.2,504.23 1109.8,504.26 1110.4,505.61 1111.0,504.42 1111.6,505.56 1112.2,505.69 1112.8,505.83 1113.4,506.55 1114.0,504.39 1114.6,506.15 1115.2,505.70 1115.8,505.79 1116.4,507.06 1117.0,505.74 1117.6,505.68 1118.2,507.07 1118.8,504.80 1119.4,507.25 1120.0,505.59 1120.6,507.79 1121.2,506.01 1121.8,507.09 1122.4,507.02 1122.5,506.93 1123.0,507.27 1123.6,506.92 1124.2,507.75 1124.8,507.43 1125.4,505.71 1126.0,505.05 1126.6,508.61 1127.2,505.29 1127.8,506.97 1128.4,506.47 1129.0,506.45 1129.6,506.27 1130.2,508.45 1130.8,507.65 1131.4,506.17 1132.0,507.45 1132.6,507.07 1133.2,508.31 1133.8,506.87 1134.4,505.50 1135.0,507.90 1135.6,507.90 1136.2,507.92 1136.8,507.10 1137.4,505.20 1138.0,505.86 1138.6,506.53 1139.2,507.01 1139.8,506.74 1140.4,507.59 1141.0,506.46 1141.6,506.93 1142.2,506.77 1142.8,507.18 1143.4,506.12 1144.0,508.67 1144.6,506.42 1145.2,506.64 1145.8,507.44 1146.4,506.53 1147.0,507.83 1147.6,507.83 1148.2,507.92 1148.8,506.62 1149.4,506.53 1150.0,506.83 1150.6,506.69 1151.2,506.97 1151.8,507.13 1152.4,506.90 1153.0,506.59 1153.6,507.81 1154.2,507.95 1154.8,507.75 1155.4,507.66 1156.0,507.66 1156.6,508.60 1157.2,507.09 1157.8,506.65 1158.4,507.42 1159.0,507.51 1159.6,507.25 1160.2,507.21 1160.8,507.15 1161.4,507.45 1162.0,506.67 1162.6,506.40 1163.2,507.06 1163.8,507.49 1164.4,507.03 1165.0,506.28 1165.6,507.15 1166.2,506.72 1166.8,507.38 1167.4,506.61 1168.0,506.80 1168.6,507.35 1169.2,506.67 1169.8,506.40 1170.4,506.17 1171.0,505.71 1171.6,506.62 1172.2,505.21 1172.8,505.74 1173.4,505.50 1174.0,506.59 1174.6,507.90 1175.2,505.48 1175.8,506.89 1176.4,506.41 1177.0,507.89 1177.6,504.69 1178.2,505.77 1178.8,506.74 1179.4,506.26 1180.0,506.46 1180.6,504.80 1181.2,505.78 1181.8,505.47 1182.4,507.38 1183.0,506.13 1183.6,506.12 1184.2,505.61 1184.8,506.79 1185.4,505.77 1186.0,505.86 1186.3,504.84 1186.6,506.13 1187.2,506.05 1187.8,504.60 1188.4,504.80 1189.0,505.65 1189.6,505.30 1190.2,504.85 1190.8,505.66 1191.4,506.07 1192.0,505.58 1192.6,505.26 1193.2,505.82 1193.8,505.34 1194.4,505.23 1195.0,505.71 1195.6,506.39 1196.2,506.38 1196.8,505.68 1197.4,505.44 1198.0,505.78 1198.6,506.07 1199.2,506.44 1199.8,505.89 1200.4,506.02 1201.0,506.26 1201.6,505.31 1202.2,505.93 1202.8,506.12 1203.4,506.45 1204.0,506.12 1204.6,505.56 1205.2,505.17 1205.8,505.52 1206.4,505.18 1207.0,505.38 1207.6,505.67 1208.2,505.71 1208.8,506.36 1209.4,505.71 1210.0,505.63 1210.6,505.74 1211.2,504.96 1211.8,504.52 1212.4,504.83 1213.0,504.43 1213.6,506.04 1214.2,505.89 1214.8,504.66 1215.4,504.77 1216.0,505.34 1216.6,505.08 1217.2,504.57 1217.8,504.11 1218.4,504.12 1219.0,502.32 1219.6,501.40 1220.2,501.99 1220.8,502.63 1221.4,501.50 1222.0,501.65 1222.6,501.79 1223.2,501.62 1223.8,500.80 1224.4,501.25 1224.6,501.97 1225.0,501.64 1225.6,501.02 1226.2,500.66 1226.8,501.52 1227.4,501.41 1228.0,499.39 1228.6,499.43 1229.2,499.32 1229.8,499.89 1230.4,499.35 1231.0,499.01 1231.6,500.21 1232.2,499.30 1232.8,498.29 1233.4,498.68 1234.0,498.38 1234.6,499.22 1235.2,496.69 1235.8,497.65 1236.4,497.53 1237.0,497.97 1237.6,496.96 1238.2,497.31 1238.8,497.22 1239.4,495.49 1240.0,496.20 1240.6,496.12 1241.2,496.54 1241.6,495.59 1241.8,496.78 1242.4,496.47 1243.0,497.01 1243.6,495.57 1244.2,497.50 1244.8,497.71 1245.4,496.85 1246.0,497.90 1246.6,498.69 1247.2,499.98 1247.8,498.49 1248.4,499.23 1249.0,498.93 1249.6,500.12 1250.2,499.12 1250.8,499.89 1251.4,500.63 1252.0,500.80 1252.6,500.80 1253.2,501.03 1253.8,501.08 1254.4,502.36 1255.0,502.02 1255.6,501.39 1256.2,502.85 1256.5,503.04 1256.8,503.69 1257.4,504.19 1258.0,503.28 1258.6,504.37 1259.2,503.84 1259.8,504.20 1260.4,503.65 1261.0,504.08 1261.6,504.01 1262.2,503.08 1262.8,504.37 1263.4,503.75 1264.0,505.11 1264.6,503.53 1265.2,505.39 1265.8,504.35 1266.4,505.04 1267.0,505.60 1267.6,506.14 1268.2,505.33 1268.8,506.02 1269.4,506.81 1270.0,506.14 1270.6,506.58 1271.2,506.26 1271.4,507.02 1271.8,506.78 1272.4,507.09 1273.0,506.29 1273.6,506.27 1274.2,504.61 1274.8,505.83 1275.4,505.96 1276.0,507.30 1276.6,506.49 1277.2,506.16 1277.8,506.70 1278.4,506.45 1279.0,506.25 1279.6,506.21 1280.2,507.70 1280.8,508.12 1281.4,507.17 1282.0,507.52 1282.6,507.97 1283.2,507.21 1283.8,507.75 1284.4,506.79 1285.0,506.38 1285.6,507.20 1286.2,508.46 1286.8,507.74 1287.4,507.06 1288.0,508.21 1288.6,508.78 1289.2,507.48 1289.8,508.52 1290.4,509.58 1291.0,508.04 1291.6,508.42 1292.2,507.95 1292.7,507.54 1292.8,507.61 1293.4,509.08 1294.0,508.75 1294.6,508.25 1295.2,509.56 1295.8,507.96 1296.4,508.16 1297.0,508.46 1297.6,507.46 1298.2,507.18 1298.8,507.47 1299.4,507.13 1300.0,507.96 1300.6,508.09 1301.2,507.66 1301.8,506.77 1302.4,507.81 1303.0,507.36 1303.6,507.91 1304.2,508.35 1304.8,509.04 1305.4,508.85 1306.0,507.05 1306.6,507.90 1307.2,507.37 1307.8,507.80 1308.4,508.77 1309.0,508.08 1309.6,507.93 1310.2,507.43 1310.8,507.33 1311.4,507.64 1312.0,508.31 1312.6,509.02 1313.2,508.54 1313.8,508.19 1314.4,508.39 1315.0,509.02 1315.6,509.71 1316.2,509.97 1316.8,508.16 1317.4,507.88 1318.0,509.36 1318.6,509.30 1319.2,509.42 1319.8,509.79 1320.4,508.56 1321.0,509.14 1321.6,507.89 1322.2,509.26 1322.8,508.30 1323.4,508.19 1324.0,507.49 1324.6,508.99 1325.2,508.67 1325.8,508.47 1326.4,507.25 1327.0,507.67 1327.6,508.90 1328.2,508.23 1328.8,508.53 1329.4,508.73 1330.0,508.34 1330.6,509.35 1331.2,507.48 1331.8,509.77 1332.4,509.73 1333.0,509.00 1333.6,509.12 1334.2,508.48 1334.8,509.61 1335.4,508.00 1336.0,507.69 1336.6,508.49 1337.2,507.85 1337.8,507.94 1338.4,509.13 1339.0,506.83 1339.6,508.48 1340.2,507.36 1340.8,508.10 1341.4,508.27 1342.0,508.17 1342.6,507.01 1343.2,508.02 1343.8,508.36 1344.4,509.22 1345.0,508.23 1345.6,507.29 1346.2,507.56 1346.8,507.48 1347.4,508.86 1348.0,508.58 1348.6,507.07 1349.2,507.74 1349.8,508.92 1350.4,507.55 1351.0,508.45 1351.6,507.95 1352.2,508.33 1352.8,507.93 1353.4,507.42 1354.0,507.69 1354.6,508.58 1355.2,509.19 1355.8,508.20 1356.4,508.58 1356.5,508.62 1357.0,507.59 1357.6,507.61 1358.2,508.58 1358.8,508.42 1359.4,507.60 1360.0,506.92 1360.6,507.62 1361.2,507.63 1361.8,508.25 1362.4,507.73 1363.0,507.91 1363.6,508.52 1364.2,508.25 1364.8,507.64 1365.4,508.53 1366.0,508.10 1366.6,508.76 1367.2,507.24 1367.8,507.62 1368.4,507.18 1369.0,506.66 1369.6,506.69 1370.2,507.40 1370.8,507.70 1371.4,507.12 1372.0,507.38 1372.6,508.36 1373.2,507.62 1373.8,507.51 1374.4,508.36 1375.0,507.51 1375.6,508.10 1376.2,507.40 1376.8,507.58 1377.4,507.27 1378.0,507.01 1378.6,507.35 1379.2,508.34 1379.8,507.71 1380.4,507.37 1381.0,508.26 1381.6,506.49 1382.2,507.76 1382.8,507.28 1383.4,507.02 1384.0,507.35 1384.6,507.49 1385.2,506.82 1385.8,507.39 1386.4,506.23 1387.0,507.41 1387.6,507.35 1388.2,508.24 1388.4,507.48 1388.8,506.92 1389.4,506.88 1390.0,507.51 1390.6,507.56 1391.2,506.50 1391.8,506.29 1392.4,507.67 1393.0,507.36 1393.6,506.30 1394.2,507.64 1394.8,506.80 1395.4,506.27 1396.0,506.19 1396.6,506.50 1397.2,505.97 1397.8,505.80 1398.4,506.29 1399.0,505.05 1399.6,505.66 1400.2,505.51 1400.8,505.88 1401.4,505.27 1402.0,505.38 1402.6,505.28 1403.2,505.26 1403.8,503.95 1404.4,504.08 1405.0,503.98 1405.6,505.07 1406.2,504.47 1406.8,504.04 1407.4,504.04 1408.0,503.72 1408.6,504.47 1409.2,503.63 1409.8,504.18 1410.4,503.97 1411.0,503.27 1411.6,504.46 1411.8,504.17 1412.2,503.91 1412.8,503.41 1413.4,504.45 1414.0,503.75 1414.6,503.49 1415.2,504.93 1415.8,504.26 1416.4,504.51 1417.0,504.80 1417.6,505.22 1418.2,503.86 1418.8,503.57 1419.4,505.28 1420.0,504.58 1420.6,505.06 1421.2,505.56 1421.8,506.11 1422.4,504.95 1423.0,505.20 1423.6,504.36 1424.2,505.75 1424.8,505.58 1425.4,505.61 1426.0,506.58 1426.6,504.90 1427.2,504.60 1427.8,504.94 1428.4,505.90 1429.0,504.67 1429.6,504.97 1430.2,505.89 1430.8,505.03 1431.4,505.32 1432.0,505.15 1432.6,506.19 1433.2,505.50 1433.8,506.43 1434.4,505.73 1435.0,506.30 1435.6,505.75 1436.2,506.74 1436.8,504.94 1437.4,507.67 1438.0,506.73 1438.6,505.91 1439.2,506.26 1439.8,506.77 1440.4,507.01 1441.0,506.66 1441.5,507.87 1441.6,507.19 1442.2,506.95 1442.8,507.47 1443.4,508.05 1444.0,506.72 1444.6,507.06 1445.2,508.14 1445.8,507.65 1446.4,507.43 1447.0,508.45 1447.6,508.24 1448.2,506.61 1448.8,506.50 1449.4,507.59 1450.0,507.92 1450.6,507.29 1451.2,507.74 1451.8,507.14 1452.4,508.05 1453.0,506.93 1453.6,507.82 1454.2,508.07 1454.8,507.62 1455.4,507.78 1456.0,507.84 1456.6,508.37 1457.2,507.48 1457.8,508.65 1458.4,507.13 1459.0,508.82 1459.6,508.40 1460.2,508.79 1460.8,509.09 1461.4,508.79 1462.0,509.43 1462.6,509.20 1463.2,509.01 1463.8,509.67 1464.4,509.95 1465.0,508.25 1465.6,509.38 1466.2,508.07 1466.8,509.25 1467.4,509.16 1468.0,509.01 1468.6,509.60 1469.2,509.45 1469.8,509.16 1470.4,507.07 1471.0,509.30 1471.6,508.06 1472.2,506.85 1472.8,508.46 1473.4,508.27 1474.0,508.22 1474.6,509.31 1475.2,508.40 1475.8,508.10 1476.4,509.20 1477.0,508.19 1477.6,509.38 1478.2,508.35 1478.8,509.39 1479.4,510.19 1480.0,509.80 1480.6,509.03 1481.2,508.68 1481.8,509.52 1482.4,509.07 1483.0,510.90 1483.6,510.81 1484.2,509.13 1484.8,510.20 1485.4,510.77 1486.0,511.04 1486.6,509.87 1487.2,510.52 1487.8,509.82 1488.4,510.19 1489.0,510.75 1489.6,509.10 1490.2,510.09 1490.8,510.42 1491.4,508.92 1492.0,509.28 1492.6,510.53 1493.2,509.68 1493.8,510.23 1494.4,510.14 1495.0,510.64 1495.6,510.55 1496.2,510.16 1496.8,509.86 1497.4,510.68 1498.0,509.79 1498.6,509.98 1499.2,510.08 1499.8,510.13 1500.0,509.65 1500.4,510.19 1501.0,510.66 1501.6,509.29 1502.2,509.05 1502.8,509.83 1503.4,510.20 1504.0,510.40 1504.6,510.35 1505.2,510.16 1505.8,511.35 1506.4,510.67 1507.0,510.40 1507.6,510.75 1508.2,510.62 1508.8,510.42 1509.4,510.74 1510.0,510.44 1510.6,510.48 1511.2,511.46 1511.8,509.87 1512.4,510.49 1513.0,510.40 1513.6,511.06 1514.2,510.08 1514.8,510.74 1515.4,510.75 1516.0,510.89 1516.6,510.98 1517.2,510.56 1517.8,510.24 1518.4,510.62 1519.0,509.85 1519.6,511.33 1520.2,510.34 1520.8,510.75 1521.4,510.70 1522.0,511.95 1522.6,510.58 1523.2,510.69 1523.8,511.42 1524.4,510.82 1525.0,510.17 1525.6,510.93 1526.2,510.21 1526.8,510.67 1527.4,510.90 1528.0,509.83 1528.6,509.65 1529.2,509.95 1529.8,510.65 1530.4,511.50 1531.0,510.91 1531.6,511.14 1532.2,510.70 1532.8,511.10 1533.4,511.36 1534.0,510.35 1534.6,511.16 1535.2,511.14 1535.8,511.42 1536.4,511.88 1537.0,511.39 1537.6,511.70 1538.2,511.51 1538.8,511.46 1539.4,510.96 1540.0,511.11 1540.6,511.26 1541.2,511.10 1541.8,511.53 1542.4,510.99 1543.0,511.93 1543.6,511.54 1544.2,510.91 1544.8,512.24 1545.4,512.36 1546.0,512.26 1546.6,511.23 1547.2,511.10 1547.8,511.34 1548.4,511.00 1549.0,511.63 1549.6,510.82 1550.2,510.92 1550.8,511.30 1551.4,511.03 1552.0,510.60 1552.6,511.30 1553.2,510.94 1553.8,511.37 1554.4,511.32 1555.0,511.28 1555.6,510.71 1556.2,510.85 1556.8,511.26 1557.4,510.43 1558.0,511.77 1558.6,511.05 1559.2,511.01 1559.8,510.33 1560.4,510.51 1561.0,510.37 1561.6,509.72 1562.2,509.92 1562.8,511.06 1563.4,509.90 1564.0,510.51 1564.6,510.97 1565.2,510.37 1565.8,510.86 1566.4,510.72 1567.0,510.77 1567.6,511.60 1568.2,511.04 1568.8,510.27 1569.4,510.80 1570.0,511.26 1570.6,511.72 1571.2,510.94 1571.8,511.86 1572.4,510.25 1573.0,510.74 1573.6,510.97 1574.2,510.73 1574.8,510.55 1575.4,511.27 1576.0,510.31 1576.6,510.65 1577.2,510.89 1577.8,510.30 1578.4,511.20 1579.0,511.42 1579.6,511.55 1580.2,512.03 1580.8,511.24 1581.4,511.97 1582.0,511.66 1582.6,511.25 1583.2,510.92 1583.8,511.87 1584.4,510.44 1585.0,511.64 1585.6,511.31 1586.2,511.79 1586.8,510.89 1587.4,510.51 1588.0,511.44 1588.6,511.55 1589.2,511.62 1589.8,511.22 1590.4,511.02 1591.0,510.95 1591.6,511.27 1592.2,510.49 1592.8,511.08 1593.4,511.31 1594.0,512.06 1594.6,511.24 1595.2,511.03 1595.8,512.41 1596.3,511.84 1596.4,512.21 1597.0,511.45 1597.6,511.08 1598.2,511.67 1598.8,512.08 1599.4,512.20 1600.0,512.30 1600.6,511.48 1601.2,511.84 1601.8,510.95 1602.4,511.15 1603.0,511.39 1603.6,511.50 1604.2,512.04 1604.8,511.66 1605.4,511.92 1606.0,510.37 1606.6,511.24 1607.2,510.51 1607.8,511.45 1608.4,510.82 1609.0,511.09 1609.6,511.33 1610.2,510.98 1610.8,510.43 1611.4,510.55 1612.0,510.40 1612.6,510.52 1613.2,510.66 1613.8,511.28 1614.4,510.04 1615.0,512.32 1615.6,511.13 1616.2,511.31 1616.8,511.02 1617.4,511.17 1618.0,511.24 1618.6,511.06 1619.2,512.03 1619.8,511.42 1620.4,511.59 1621.0,511.42 1621.6,513.10 1622.2,511.49 1622.8,512.05 1623.4,512.40 1624.0,511.36 1624.6,511.49 1625.2,511.39 1625.8,512.08 1626.4,512.14 1627.0,512.36 1627.6,511.44 1628.2,511.88 1628.8,511.61 1629.4,512.02 1630.0,510.52 1630.6,512.69 1631.2,511.50 1631.8,512.21 1632.4,511.39 1633.0,511.97 1633.6,511.58 1634.2,511.59 1634.8,512.54 1635.4,512.66 1636.0,511.34 1636.6,511.65 1637.2,511.13 1637.8,512.38 1638.4,512.16 1639.0,512.05 1639.6,511.14 1640.2,511.74 1640.8,511.43 1641.4,511.35 1642.0,511.57 1642.6,511.91 1643.2,512.10 1643.8,511.81 1644.4,512.23 1645.0,511.83 1645.6,511.79 1646.2,512.11 1646.8,512.02 1647.4,512.01 1648.0,512.61 1648.6,512.35 1649.2,511.88 1649.8,511.64 1650.4,511.93 1651.0,512.01 1651.6,511.56 1652.2,511.31 1652.8,510.93 1653.4,512.73 1654.0,512.05 1654.6,512.03 1655.2,512.56 1655.8,512.89 1656.4,511.60 1657.0,512.67 1657.6,512.39 1658.2,512.16 1658.8,511.36 1659.4,511.35 1660.0,511.55 1660.6,511.35 1661.2,511.21 1661.8,511.58 1662.4,511.42 1663.0,510.85 1663.6,510.48 1664.2,511.14 1664.8,511.18 1665.4,510.72 1666.0,510.85 1666.6,510.72 1667.2,511.30 1667.8,510.69 1668.4,511.90 1669.0,511.43 1669.6,511.66 1670.2,512.55 1670.8,511.69 1671.4,510.97 1672.0,512.17 1672.6,511.67 1673.2,511.11 1673.8,511.18 1674.4,511.73 1675.0,511.64 1675.6,512.43 1676.2,511.38 1676.8,511.88 1677.4,511.75 1678.0,511.06 1678.6,511.58 1679.2,511.24 1679.8,511.19 1680.4,511.24 1681.0,511.67 1681.6,511.43 1682.2,512.16 1682.8,511.21 1683.4,510.97 1684.0,511.68 1684.6,510.54 1685.2,512.27 1685.8,512.55 1686.4,512.24 1687.0,511.86 1687.6,511.52 1688.2,511.86 1688.8,511.22 1689.4,511.72 1690.0,511.58 1690.6,511.79 1691.2,511.03 1691.8,511.72 1692.4,511.46 1693.0,511.28 1693.6,511.46 1694.2,511.94 1694.8,512.15 1695.4,510.67 1696.0,511.86 1696.6,512.84 1697.2,512.97 1697.8,512.31 1698.4,511.96 1699.0,511.64 1699.6,512.61 1700.2,511.67 1700.8,511.91 1701.4,510.81 1702.0,511.02 1702.6,511.91 1702.7,511.46 1703.2,511.11 1703.8,510.27 1704.4,511.11 1705.0,511.11 1705.6,511.37 1706.2,510.33 1706.8,510.46 1707.4,511.05 1708.0,511.11 1708.6,511.06 1709.2,511.04 1709.8,510.93 1710.4,511.40 1711.0,510.93 1711.6,511.25 1712.2,511.63 1712.8,510.94 1713.4,511.11 1714.0,512.05 1714.6,510.53 1715.2,510.79 1715.8,511.08 1716.4,511.61 1717.0,511.44 1717.6,511.76 1718.2,511.68 1718.8,511.15 1719.4,511.35 1720.0,511.69 1720.6,511.92 1721.2,512.41 1721.8,511.81 1722.4,512.17 1723.0,512.41 1723.6,511.34 1724.2,512.15 1724.8,512.01 1725.4,511.77 1726.0,511.67 1726.6,510.88 1727.2,511.15 1727.8,511.74 1728.4,511.45 1729.0,512.21 1729.6,511.39 1730.2,511.45 1730.8,512.24 1731.4,511.82 1732.0,512.21 1732.6,511.50 1733.2,511.33 1733.8,512.22 1734.4,511.96 1735.0,511.06 1735.6,511.12 1736.2,512.37 1736.8,511.45 1737.4,512.33 1738.0,511.30 1738.6,511.18 1739.2,511.36 1739.8,511.72 1740.4,511.13 1741.0,511.03 1741.6,511.03 1742.2,511.01 1742.8,511.35 1743.4,511.83 1744.0,511.48 1744.6,511.05 1745.2,511.25 1745.8,511.13 1746.4,511.49 1747.0,510.98 1747.6,512.01 1748.2,511.83 1748.8,511.67 1749.4,511.91 1750.0,511.99 1750.6,512.14 1751.2,512.14 1751.8,512.53 1752.4,512.45 1753.0,511.24 1753.6,512.16 1754.2,512.93 1754.8,511.72 1755.4,512.10 1756.0,511.75 1756.6,511.25 1757.2,512.43 1757.8,512.23 1758.4,511.02 1759.0,511.82 1759.6,512.12 1760.2,512.12 1760.8,511.19 1761.4,511.99 1762.0,511.67 1762.6,510.94 1763.2,511.33 1763.8,511.66 1764.4,511.78 1765.0,511.31 1765.6,511.99 1766.2,511.47 1766.8,511.69 1767.4,511.93 1768.0,511.27 1768.6,511.75 1769.2,511.28 1769.8,511.15 1770.4,511.52 1771.0,511.48 1771.6,511.74 1772.2,511.97 1772.8,511.68 1773.4,511.40 1774.0,511.73 1774.6,511.21 1775.2,511.55 1775.8,512.02 1776.4,511.44 1777.0,510.59 1777.6,510.39 1778.2,511.70 1778.8,511.56 1779.4,511.19 1780.0,511.58 1780.6,511.25 1781.2,511.27 1781.8,510.65 1782.4,511.49 1783.0,511.81 1783.6,511.72 1784.2,511.22 1784.8,511.36 1785.4,511.78 1786.0,511.25 1786.6,511.85 1787.2,511.27 1787.8,512.21 1788.4,512.24 1789.0,512.39 1789.6,512.06 1790.2,511.44 1790.8,512.04 1791.4,512.02 1792.0,511.79 1792.6,511.75 1793.2,512.47 1793.8,511.63 1794.4,511.73 1795.0,511.37 1795.6,510.75 1796.2,511.06 1796.8,510.78 1797.4,511.26 1798.0,510.64 1798.6,510.58 1799.2,511.13 1799.8,511.31 1800.4,511.11 1801.0,511.18 1801.6,511.44 1802.2,511.36 1802.8,511.24 1803.4,511.68 1804.0,511.35 1804.6,511.61 1805.2,511.42 1805.8,510.88 1806.4,511.10 1807.0,511.54 1807.6,511.25 1808.2,511.85 1808.8,511.20 1809.0,511.14 1809.4,510.86 1810.0,510.54 1810.6,510.94 1811.2,512.00 1811.8,510.70 1812.4,511.98 1813.0,511.72 1813.6,510.54 1814.2,511.12 1814.8,511.87 1815.4,511.91 1816.0,511.73 1816.6,511.55 1817.2,511.82 1817.8,511.54 1818.4,510.59 1819.0,510.99 1819.6,510.61 1820.2,511.13 1820.8,511.91 1821.4,510.88 1822.0,510.65 1822.6,511.63 1823.2,510.59 1823.8,511.53 1824.4,511.72 1825.0,512.25 1825.6,511.78 1826.2,512.32 1826.8,511.29 1827.4,511.68 1828.0,511.05 1828.6,511.60 1829.2,511.76 1829.8,511.13 1830.4,511.42 1831.0,511.45 1831.6,512.10 1832.2,511.50 1832.8,511.39 1833.4,511.39 1834.0,510.47 1834.6,511.33 1835.2,511.67 1835.8,511.30 1836.4,511.37 1837.0,511.55 1837.6,511.89 1838.2,511.67 1838.8,511.71 1839.4,511.80 1840.0,511.38 1840.6,511.36 1841.2,511.39 1841.8,511.93 1842.4,511.40 1843.0,512.02 1843.6,511.41 1844.2,511.64 1844.8,512.02 1845.4,512.47 1846.0,511.64 1846.6,510.60 1847.2,511.25 1847.8,511.55 1848.4,511.64 1849.0,511.10 1849.6,510.69 1850.2,511.50 1850.8,511.34 1851.4,511.37 1852.0,511.08 1852.6,511.81 1853.2,511.09 1853.8,511.62 1854.4,511.80 1855.0,511.81 1855.6,512.00 1856.2,512.63 1856.8,512.76 1857.4,512.17 1858.0,511.95 1858.6,511.83 1859.2,511.84 1859.8,511.87 1860.4,512.40 1861.0,512.17 1861.6,511.48 1862.2,511.46 1862.8,512.04 1863.4,510.77 1864.0,511.50 1864.6,511.65 1865.2,510.97 1865.8,511.36 1866.4,511.30 1867.0,511.16 1867.6,510.72 1868.2,511.16 1868.8,510.78 1869.4,510.94 1870.0,511.88 1870.6,511.34 1871.2,511.00 1871.8,512.01 1872.4,512.27 1873.0,512.39 1873.6,512.23 1874.2,512.13 1874.8,511.08 1875.4,512.20 1876.0,511.54 1876.6,511.67 1877.2,511.92 1877.8,511.74 1878.4,511.55 1879.0,511.91 1879.6,512.06 1880.2,511.24 1880.8,511.19 1881.4,512.28 1882.0,511.85 1882.6,511.52 1883.2,511.28 1883.8,511.77 1884.4,512.30 1885.0,511.42 1885.6,511.93 1886.2,511.35 1886.8,512.15 1887.4,511.91 1888.0,512.50 1888.6,512.15 1889.2,512.04 1889.8,511.74 1890.4,511.67 1891.0,511.82 1891.6,512.13 1892.2,511.87 1892.8,511.88 1893.4,511.80 1894.0,512.02 1894.6,512.33 1895.2,511.86 1895.8,512.17 1896.4,511.46 1897.0,511.44 1897.6,511.92 1898.2,512.56 1898.8,512.06 1899.4,512.09 1900.0,512.78 1900.6,512.53 1901.2,512.48 1901.8,512.27 1902.4,512.72 1903.0,512.52 1903.6,512.38"/>
<path stroke="#8000e0" d="M271.0,571.13 271.6,572.99 272.2,571.56 272.8,569.13 273.4,569.73 274.0,571.48 274.6,570.41 275.2,571.90 275.8,568.15 276.0,573.01 276.4,572.59 277.0,568.36 277.6,569.47 278.2,568.80 278.8,568.76 279.4,570.04 280.0,567.91 280.6,567.07 281.2,568.66 281.8,569.06 282.4,566.56 283.0,567.10 283.6,564.67 284.2,567.28 284.8,568.51 285.4,566.16 286.0,565.03 286.6,562.29 287.2,564.03 287.8,561.54 288.4,564.60 289.0,565.42 289.6,564.53 290.2,562.61 290.8,562.57 291.4,560.70 292.0,561.36 292.6,559.72 293.2,557.64 293.8,552.49 294.4,554.03 295.0,552.12 295.6,548.42 296.2,547.57 296.8,545.67 297.4,539.67 298.0,540.99 298.6,536.85 299.2,533.67 299.8,532.89 300.4,529.41 301.0,527.19 301.6,523.87 302.2,521.58 302.8,518.18 303.4,516.17 304.0,512.79 304.6,509.70 305.2,509.88 305.8,505.89 306.4,503.67 307.0,502.57 307.6,498.63 308.2,495.20 308.8,491.24 308.9,493.15 309.4,490.62 310.0,488.73 310.6,484.75 311.2,481.90 311.8,477.23 312.4,477.84 313.0,472.68 313.6,471.30 314.2,469.81 314.8,466.59 315.4,463.67 316.0,461.61 316.6,456.21 317.2,455.71 317.4,456.28 317.8,454.33 318.4,448.27 319.0,448.29 319.6,444.70 320.2,440.03 320.8,436.69 321.4,435.38 322.0,434.61 322.6,431.12 323.2,427.26 323.8,426.72 324.4,429.88 325.0,430.82 325.6,432.95 326.2,436.88 326.8,436.83 327.4,443.06 328.0,444.22 328.6,449.19 329.2,453.23 329.8,456.16 330.4,458.95 331.0,462.87 331.6,467.70 332.2,468.39 332.3,469.45 332.8,473.81 333.4,477.94 334.0,480.56 334.6,483.59 335.2,488.74 335.8,491.13 336.4,497.76 337.0,500.61 337.6,504.97 338.2,505.25 338.8,509.44 339.4,513.24 340.0,515.56 340.6,519.80 340.8,522.65 341.2,522.00 341.8,525.40 342.4,530.05 343.0,531.14 343.6,533.87 344.2,535.78 344.8,537.49 345.4,540.26 346.0,543.44 346.6,544.83 347.2,547.93 347.8,549.63 348.4,552.31 349.0,556.46 349.3,556.45 349.6,554.91 350.2,557.62 350.8,561.40 351.4,562.72 352.0,560.49 352.6,563.64 353.2,564.31 353.8,562.44 354.4,566.82 355.0,569.85 355.6,567.65 356.2,569.13 356.8,571.63 357.4,571.03 358.0,572.10 358.6,574.04 359.2,573.10 359.8,576.45 360.0,574.71 360.4,576.77 361.0,578.25 361.6,579.77 362.2,577.40 362.8,579.04 363.4,579.46 364.0,577.44 364.6,579.82 365.2,580.58 365.8,581.33 366.4,583.42 367.0,581.66 367.6,581.90 368.2,582.32 368.8,582.85 369.4,583.89 370.0,585.63 370.6,583.04 371.2,584.65 371.8,582.20 372.4,583.39 373.0,585.87 373.6,583.58 374.2,586.78 374.8,588.26 375.4,586.13 376.0,586.68 376.6,587.92 377.2,587.71 377.8,588.64 378.4,588.26 379.0,590.42 379.6,590.08 380.2,589.90 380.8,587.61 381.4,589.59 382.0,590.63 382.6,591.57 383.2,590.19 383.8,591.86 384.4,592.39 385.0,591.01 385.6,592.85 386.2,592.16 386.8,591.47 387.4,593.07 387.6,594.81 388.0,593.96 388.6,593.77 389.2,594.89 389.8,594.90 390.4,594.43 391.0,592.22 391.6,591.55 392.2,592.69 392.8,596.56 393.4,595.61 394.0,593.21 394.6,596.01 395.2,593.66 395.8,595.61 396.4,596.57 397.0,595.52 397.6,596.71 398.2,596.95 398.8,594.24 399.4,596.24 400.0,597.08 400.6,596.15 401.2,595.39 401.8,598.75 402.4,597.56 403.0,596.78 403.6,596.56 404.2,597.64 404.8,599.13 405.4,597.38 406.0,598.60 406.6,598.47 407.2,597.99 407.8,598.33 408.4,598.47 408.9,597.39 409.0,596.82 409.6,599.22 410.2,600.11 410.8,599.25 411.4,597.80 412.0,598.92 412.6,598.46 413.2,597.68 413.8,598.24 414.4,598.87 415.0,600.21 415.6,598.47 416.2,601.06 416.8,599.92 417.4,601.26 418.0,601.08 418.6,600.24 419.2,600.18 419.8,600.40 420.4,600.39 421.0,600.85 421.6,602.08 422.2,600.78 422.8,601.83 423.4,601.16 424.0,599.74 424.6,600.68 425.2,600.84 425.8,601.11 426.4,599.75 427.0,601.38 427.6,599.61 428.2,600.14 428.8,601.13 429.4,600.71 430.0,599.70 430.1,599.30 430.6,600.22 431.2,600.12 431.8,603.30 432.4,599.96 433.0,599.67 433.6,603.73 434.2,599.68 434.8,600.98 435.4,602.28 436.0,601.84 436.6,602.22 437.2,603.58 437.8,604.43 438.4,602.12 439.0,602.24 439.6,601.47 440.2,601.19 440.8,601.28 441.4,602.01 442.0,601.29 442.6,602.19 443.2,601.45 443.8,600.87 444.4,601.74 445.0,601.90 445.6,601.68 446.2,601.81 446.8,602.88 447.4,600.93 448.0,603.34 448.6,601.71 449.2,602.21 449.8,603.68 450.4,603.32 451.0,600.36 451.4,602.69 451.6,603.82 452.2,601.57 452.8,602.38 453.4,604.64 454.0,602.17 454.6,605.78 455.2,602.80 455.8,603.77 456.4,604.22 457.0,604.59 457.6,606.11 458.2,605.94 458.8,605.89 459.4,606.13 460.0,604.36 460.6,605.59 461.2,607.61 461.8,605.35 462.4,608.29 463.0,606.77 463.6,606.04 464.2,608.16 464.8,608.33 465.4,607.04 466.0,607.38 466.3,607.22 466.6,607.64 467.2,606.14 467.8,608.17 468.4,610.54 469.0,608.91 469.6,610.11 470.2,610.81 470.8,610.30 471.4,609.80 472.0,609.92 472.6,610.10 473.2,611.24 473.8,610.73 474.4,612.20 475.0,613.60 475.6,612.59 476.2,610.88 476.8,613.10 477.4,612.86 478.0,612.95 478.6,612.89 479.2,613.64 479.8,617.54 480.4,617.63 481.0,616.35 481.6,613.68 482.2,614.94 482.8,616.02 483.3,614.62 483.4,615.59 484.0,616.16 484.6,616.69 485.2,615.60 485.8,615.57 486.4,615.04 487.0,615.02 487.6,615.59 488.2,615.40 488.8,616.42 489.4,616.01 490.0,615.52 490.6,617.40 491.2,615.59 491.8,616.65 492.1,616.60 492.4,613.99 493.0,610.53 493.6,606.00 493.9,602.74 494.2,598.34 494.8,594.95 495.0,589.74 495.4,594.11 496.0,601.99 496.1,603.32 496.6,608.30 497.2,612.93 497.8,615.19 497.9,616.60 498.4,616.95 499.0,616.09 499.6,617.47 500.2,616.61 500.8,617.33 501.4,615.35 502.0,618.31 502.4,616.35 502.6,615.49 503.2,615.54 503.8,615.58 504.4,616.64 505.0,613.88 505.6,615.12 506.2,617.13 506.8,617.16 507.4,614.64 508.0,615.74 508.6,615.64 509.2,614.98 509.8,614.42 510.4,615.61 511.0,614.25 511.6,614.48 512.2,614.81 512.8,612.74 513.4,612.49 514.0,615.44 514.6,611.83 515.2,613.76 515.8,613.46 516.4,611.99 517.0,611.22 517.6,611.12 518.2,610.11 518.8,610.57 519.4,610.02 520.0,609.42 520.6,609.33 521.2,610.31 521.8,609.22 522.4,608.74 523.0,610.64 523.6,608.37 524.2,608.68 524.8,606.80 525.4,606.24 526.0,607.41 526.6,607.52 527.2,603.14 527.8,606.51 528.4,606.28 529.0,605.20 529.6,605.51 530.2,603.50 530.8,604.68 531.2,602.99 531.4,603.93 532.0,604.06 532.6,604.92 533.2,603.77 533.8,605.79 534.4,606.29 535.0,607.50 535.6,606.18 536.2,607.68 536.8,606.92 537.4,608.52 538.0,607.78 538.6,607.79 539.2,608.73 539.8,611.37 540.4,611.76 541.0,610.87 541.6,611.40 542.2,612.14 542.8,610.74 543.4,614.68 544.0,612.20 544.6,612.38 545.2,613.84 545.8,613.48 546.4,615.17 547.0,615.90 547.1,614.99 547.6,615.71 548.2,615.21 548.8,614.39 549.4,615.09 550.0,618.58 550.6,616.76 551.2,615.32 551.8,616.29 552.4,616.82 553.0,618.66 553.6,618.26 554.2,619.79 554.8,620.43 555.4,619.32 556.0,619.43 556.6,620.28 557.2,618.82 557.7,619.12 557.8,617.78 558.4,620.28 559.0,618.73 559.6,619.96 560.2,622.14 560.8,618.50 561.4,619.39 562.0,618.90 562.6,618.80 563.2,620.63 563.8,618.32 564.4,620.18 565.0,619.94 565.6,620.86 566.2,618.03 566.8,618.51 567.4,620.70 568.0,617.91 568.6,619.89 569.2,620.85 569.8,618.26 570.4,618.73 571.0,620.66 571.6,618.54 572.2,620.60 572.8,620.91 573.4,619.75 574.0,619.59 574.6,619.60 575.2,618.97 575.8,620.42 576.4,620.37 577.0,619.70 577.6,620.05 578.2,618.43 578.8,618.90 579.4,617.77 580.0,619.33 580.6,620.78 581.2,620.23 581.8,619.49 582.4,619.64 583.0,619.64 583.6,621.07 584.2,618.89 584.8,621.19 585.4,620.48 586.0,618.47 586.6,620.47 587.2,620.54 587.8,619.40 588.4,621.53 589.0,619.00 589.6,619.42 590.2,620.04 590.8,620.37 591.4,619.75 592.0,620.85 592.6,619.38 593.2,620.45 593.8,619.74 594.4,619.81 595.0,618.72 595.6,619.43 596.2,617.96 596.8,617.94 597.4,619.14 598.0,620.10 598.6,618.36 599.2,619.90 599.8,621.74 600.0,620.26 600.4,620.46 601.0,619.85 601.6,618.25 602.2,619.82 602.8,620.36 603.4,619.25 604.0,620.50 604.6,619.57 605.2,621.00 605.8,620.16 606.4,620.13 607.0,620.09 607.6,619.36 608.2,620.82 608.8,618.04 609.4,618.14 610.0,618.74 610.6,618.81 611.2,617.34 611.8,619.54 612.4,618.40 613.0,619.22 613.6,618.06 614.2,618.12 614.8,618.83 615.4,618.08 616.0,617.77 616.6,618.58 617.2,618.90 617.8,617.81 618.4,618.29 619.0,617.00 619.6,618.02 620.2,616.73 620.8,617.76 621.4,616.42 622.0,617.60 622.6,618.29 623.2,617.50 623.8,615.90 624.4,618.88 625.0,616.96 625.6,615.53 626.2,619.35 626.8,617.00 627.4,618.18 628.0,617.68 628.6,619.12 629.2,618.70 629.8,615.42 630.4,617.32 631.0,615.77 631.6,616.59 632.2,616.39 632.8,616.36 633.4,615.35 634.0,617.08 634.6,617.24 635.2,617.21 635.8,618.19 636.4,616.21 637.0,615.46 637.6,616.32 638.2,613.76 638.6,615.82 638.8,614.89 639.4,615.00 640.0,614.85 640.6,614.94 641.2,616.34 641.8,614.52 642.4,615.19 643.0,616.20 643.6,615.92 644.2,617.46 644.8,616.38 645.4,618.26 646.0,617.30 646.6,615.64 647.2,616.57 647.8,618.26 648.4,615.68 649.0,616.10 649.6,615.38 650.2,617.09 650.8,618.18 651.4,618.48 652.0,617.41 652.6,616.49 653.2,618.10 653.8,617.87 654.4,618.89 655.0,618.47 655.6,619.45 656.2,617.87 656.8,618.48 657.4,618.35 658.0,618.04 658.6,618.85 659.2,616.85 659.8,617.03 660.4,616.13 661.0,618.50 661.6,619.24 662.2,618.96 662.8,620.12 663.4,618.84 664.0,617.98 664.6,619.21 665.2,619.16 665.8,619.26 666.4,620.20 667.0,618.52 667.6,618.68 668.2,619.47 668.8,620.72 669.4,619.02 670.0,621.02 670.6,621.13 671.2,619.60 671.8,619.42 672.4,619.95 673.0,618.64 673.6,621.48 674.2,620.25 674.8,621.10 675.4,619.55 676.0,620.33 676.6,620.06 677.2,621.74 677.8,619.37 678.4,621.52 679.0,620.57 679.6,620.61 680.0,619.17 680.2,620.67 680.8,620.43 681.4,621.30 682.0,620.28 682.6,620.08 683.2,621.36 683.8,620.60 684.4,619.86 685.0,620.29 685.6,620.46 686.2,619.71 686.8,619.69 687.4,621.06 688.0,619.57 688.6,617.58 689.2,620.20 689.8,620.53 690.4,620.16 691.0,619.96 691.3,617.19 691.6,618.09 692.2,618.78 692.8,618.63 693.4,618.25 694.0,616.91 694.6,617.24 695.2,617.34 695.8,618.35 696.4,619.28 697.0,615.87 697.6,617.26 698.2,616.29 698.8,617.90 699.4,617.19 700.0,617.30 700.6,616.88 701.2,616.09 701.8,615.95 702.4,616.20 703.0,617.17 703.6,618.01 704.2,617.05 704.8,615.83 705.4,617.29 706.0,616.05 706.6,615.63 707.2,615.48 707.8,614.41 708.4,613.78 709.0,614.28 709.6,614.56 710.2,614.74 710.8,613.33 711.4,614.08 712.0,612.53 712.5,615.12 712.6,613.45 713.2,612.70 713.8,613.89 714.4,613.01 715.0,611.73 715.6,613.82 716.2,611.21 716.8,611.98 717.4,610.70 718.0,611.48 718.6,611.06 719.2,609.32 719.8,608.81 720.4,609.95 721.0,608.58 721.6,608.59 722.2,607.49 722.8,607.55 723.4,606.53 724.0,605.01 724.6,606.26 725.2,604.33 725.8,603.96 726.4,603.63 727.0,604.00 727.4,601.95 727.6,602.46 728.2,601.60 728.8,600.73 729.4,599.23 730.0,596.96 730.6,597.85 731.2,598.55 731.8,596.80 732.4,595.75 733.0,595.19 733.6,595.38 734.2,593.78 734.8,592.90 735.4,592.88 736.0,592.65 736.6,591.36 737.2,590.56 737.8,588.33 738.0,588.14 738.4,589.61 739.0,589.21 739.6,589.39 740.2,590.31 740.8,591.00 741.4,593.15 742.0,590.27 742.6,591.60 743.2,593.81 743.8,591.46 744.4,592.91 745.0,591.72 745.6,593.91 746.2,592.37 746.6,593.57 746.8,593.49 747.4,591.63 748.0,589.94 748.6,589.58 749.2,589.48 749.8,588.82 750.4,587.97 751.0,585.43 751.6,586.21 752.2,584.23 752.8,582.52 753.4,580.64 754.0,578.92 754.6,576.43 755.0,576.80 755.2,576.19 755.8,574.26 756.4,570.13 756.5,567.91 757.0,566.81 757.6,562.23 758.2,561.85 758.8,559.10 759.4,553.78 759.5,552.41 760.0,549.81 760.6,543.61 761.2,538.02 761.3,536.78 761.8,529.66 762.4,523.10 762.6,521.29 763.0,517.63 763.6,513.46 764.2,509.89 764.8,506.96 765.1,505.06 765.4,499.52 766.0,488.48 766.6,480.41 767.2,475.22 767.8,471.34 768.4,469.05 769.0,465.58 769.1,462.40 769.6,465.58 770.2,469.93 770.8,472.59 771.4,476.78 771.7,480.41 772.0,484.30 772.6,493.22 773.2,502.60 773.4,504.51 773.8,508.99 774.4,514.81 775.0,521.90 775.6,528.92 776.0,537.39 776.2,538.09 776.8,546.65 777.2,553.05 777.4,554.22 778.0,557.55 778.6,560.30 779.2,563.36 779.8,565.63 780.3,569.04 780.4,570.65 781.0,571.15 781.6,576.19 782.2,579.19 782.8,581.72 783.3,585.22 783.4,585.63 784.0,584.82 784.6,586.63 785.2,589.80 785.8,590.86 786.4,593.42 787.0,593.05 787.6,595.59 788.2,595.40 788.8,596.00 789.4,598.45 790.0,599.10 790.6,600.50 791.2,599.66 791.8,603.29 792.4,604.02 793.0,605.46 793.6,606.72 794.2,608.83 794.8,608.35 795.4,609.23 796.0,610.99 796.5,611.77 796.6,611.08 797.2,610.76 797.8,610.80 798.4,610.87 799.0,611.02 799.6,612.57 800.2,611.70 800.8,612.92 801.4,612.02 802.0,613.79 802.6,613.20 803.2,614.66 803.8,614.23 804.4,614.25 805.0,613.61 805.6,613.88 806.2,614.22 806.8,614.54 807.4,614.31 808.0,615.61 808.6,615.86 809.2,615.33 809.8,617.09 810.4,615.93 811.0,614.89 811.6,616.08 812.2,616.45 812.8,616.21 813.4,616.81 814.0,615.90 814.6,616.61 815.2,616.70 815.8,617.11 816.4,616.45 817.0,616.33 817.6,616.90 818.2,617.28 818.8,616.90 818.9,617.04 819.4,616.19 820.0,618.43 820.6,616.36 821.2,619.47 821.8,617.14 822.4,618.42 823.0,616.93 823.6,617.67 824.2,617.36 824.8,616.86 825.4,616.00 826.0,616.50 826.6,615.57 827.2,617.81 827.8,615.63 828.4,617.73 829.0,615.93 829.6,614.49 830.2,617.39 830.8,616.56 831.4,615.19 832.0,614.92 832.6,614.78 833.2,616.07 833.8,613.97 834.4,614.57 835.0,615.73 835.6,616.37 836.2,614.04 836.8,613.93 837.4,613.48 838.0,614.63 838.6,612.94 839.2,613.17 839.8,613.53 840.1,613.56 840.4,613.52 841.0,611.91 841.6,612.41 842.2,612.33 842.8,612.43 843.4,612.67 844.0,611.94 844.6,610.24 845.2,610.69 845.8,609.24 846.4,610.94 847.0,609.23 847.6,608.87 848.2,608.86 848.8,607.78 849.4,608.45 850.0,608.13 850.6,607.41 851.2,606.94 851.8,603.90 852.4,606.00 853.0,606.49 853.6,606.03 854.2,602.64 854.8,605.83 855.4,605.84 856.0,604.24 856.6,603.81 857.2,604.41 857.8,604.05 858.4,604.68 859.0,605.16 859.6,608.09 860.2,607.95 860.8,608.27 861.4,608.78 862.0,611.19 862.6,611.31 863.2,612.39 863.8,613.52 864.4,614.29 865.0,615.84 865.6,617.25 865.7,615.55 866.2,616.15 866.8,617.62 867.4,616.85 868.0,617.80 868.6,619.25 869.2,618.68 869.8,619.31 870.4,619.52 871.0,619.63 871.6,619.10 872.2,620.28 872.8,618.72 873.4,618.88 874.0,620.03 874.6,619.00 875.2,619.93 875.8,619.57 876.4,620.99 877.0,620.76 877.6,621.32 878.2,620.15 878.8,619.23 879.4,621.74 880.0,622.16 880.6,620.24 881.2,620.05 881.8,619.49 882.4,621.92 882.7,619.92 883.0,621.02 883.6,620.88 884.2,620.08 884.8,620.25 885.4,619.93 886.0,620.85 886.6,621.22 887.2,621.03 887.8,618.61 888.4,618.59 889.0,619.02 889.6,619.56 890.2,619.65 890.8,617.18 891.4,618.80 892.0,619.24 892.6,618.40 893.2,618.11 893.8,616.55 894.4,619.05 895.0,618.12 895.6,617.28 896.2,617.08 896.8,618.07 897.4,618.36 898.0,617.14 898.6,616.18 899.2,617.60 899.7,616.55 899.8,617.00 900.4,616.89 901.0,616.25 901.6,618.21 902.2,616.23 902.8,618.41 903.4,616.65 904.0,617.22 904.3,617.41 904.6,616.85 905.2,613.42 905.8,612.93 906.4,608.34 907.0,606.81 907.2,605.22 907.6,602.04 908.2,597.40 908.8,594.60 909.3,592.28 909.4,591.77 910.0,595.61 910.6,600.43 911.2,604.92 911.4,605.22 911.8,607.16 912.4,609.69 913.0,612.28 913.6,616.63 914.2,618.13 914.3,617.93 914.8,619.10 915.4,618.82 916.0,616.79 916.6,616.32 917.2,618.28 917.8,617.84 918.4,619.11 919.0,617.50 919.6,619.07 920.2,619.10 920.8,617.85 921.4,620.52 922.0,618.31 922.6,619.09 923.2,618.72 923.8,618.83 924.4,618.49 925.0,618.69 925.6,619.65 926.2,618.02 926.8,619.23 927.4,619.36 928.0,619.41 928.6,619.38 929.2,620.95 929.8,619.46 930.4,619.39 931.0,618.97 931.6,620.68 932.2,620.71 932.8,619.01 933.4,619.03 934.0,619.11 934.6,620.75 935.2,620.22 935.8,620.65 936.4,619.33 937.0,620.04 937.6,620.07 938.0,620.90 938.2,619.30 938.8,617.67 939.4,619.38 940.0,620.29 940.6,620.69 941.2,617.45 941.8,619.36 942.4,619.42 943.0,618.74 943.6,618.00 944.2,618.48 944.8,617.82 945.4,618.80 946.0,616.82 946.6,618.47 947.2,616.73 947.8,616.00 948.4,616.96 949.0,615.86 949.6,616.22 950.2,615.70 950.8,614.66 951.4,614.59 952.0,616.15 952.6,613.58 953.2,614.64 953.8,615.15 954.4,614.66 955.0,615.03 955.6,613.30 956.2,614.50 956.8,614.65 957.1,612.45 957.4,614.17 958.0,613.59 958.6,613.59 959.2,614.88 959.8,614.70 960.4,615.65 961.0,615.14 961.6,613.63 962.2,614.77 962.8,615.75 963.4,616.32 964.0,615.55 964.6,616.74 965.2,616.10 965.8,617.91 966.4,617.46 967.0,617.84 967.6,615.69 968.2,617.97 968.8,618.17 969.4,617.50 969.9,617.65 970.0,618.50 970.6,617.17 971.2,617.53 971.8,615.52 972.4,617.30 973.0,615.07 973.6,614.81 974.2,616.08 974.8,615.23 975.4,614.63 976.0,615.72 976.6,615.02 977.2,616.19 977.8,615.01 978.4,615.66 979.0,613.86 979.6,614.50 980.2,616.31 980.8,614.16 981.4,612.89 982.0,612.87 982.6,612.69 983.2,613.14 983.8,610.92 984.4,613.00 984.8,612.54 985.0,612.15 985.6,613.43 986.2,611.46 986.8,615.10 987.4,614.43 988.0,615.62 988.6,614.76 989.2,616.38 989.8,616.68 990.4,618.08 991.0,616.98 991.6,620.29 992.2,619.50 992.8,621.15 993.4,620.67 994.0,621.19 994.6,621.79 995.2,623.07 995.8,623.37 996.4,622.67 997.0,623.38 997.5,624.56 997.6,623.35 998.2,624.61 998.8,623.75 999.4,624.99 1000.0,624.62 1000.6,624.61 1001.2,623.94 1001.8,624.86 1002.4,623.68 1003.0,624.87 1003.6,622.70 1004.2,623.66 1004.8,622.90 1005.4,624.22 1006.0,623.53 1006.6,623.39 1007.2,622.17 1007.8,622.49 1008.4,621.60 1009.0,621.65 1009.6,623.15 1010.2,621.09 1010.8,622.07 1011.4,622.35 1012.0,622.03 1012.6,622.65 1013.2,620.08 1013.8,622.12 1014.4,622.63 1014.5,620.64 1015.0,621.51 1015.6,621.49 1016.2,621.28 1016.8,622.52 1017.4,621.48 1018.0,622.41 1018.6,622.70 1019.2,621.29 1019.8,622.02 1020.4,622.65 1021.0,624.09 1021.6,623.23 1022.2,623.65 1022.8,622.34 1023.4,625.48 1024.0,624.07 1024.6,624.55 1025.2,625.09 1025.8,624.55 1026.4,623.74 1027.0,623.65 1027.6,625.55 1028.2,623.37 1028.8,625.46 1029.4,626.28 1030.0,624.67 1030.6,624.92 1031.2,625.98 1031.5,626.07 1031.8,625.98 1032.4,628.19 1033.0,625.91 1033.6,627.43 1034.2,628.61 1034.8,627.00 1035.4,626.49 1036.0,629.02 1036.6,627.20 1037.2,628.63 1037.8,626.79 1038.4,628.25 1039.0,626.54 1039.6,627.18 1040.2,627.41 1040.8,628.45 1041.4,629.23 1042.0,629.62 1042.6,628.50 1043.2,627.57 1043.8,626.43 1044.4,629.36 1045.0,629.06 1045.6,629.09 1046.2,630.42 1046.8,630.56 1047.4,631.39 1048.0,631.53 1048.6,631.77 1049.2,630.81 1049.8,630.35 1050.4,630.32 1051.0,630.93 1051.6,631.39 1052.2,629.91 1052.8,631.06 1053.4,631.55 1054.0,632.49 1054.6,631.16 1055.2,631.23 1055.8,631.26 1056.4,632.62 1057.0,630.38 1057.6,632.39 1058.2,630.96 1058.8,631.89 1059.2,633.00 1059.4,632.00 1060.0,632.27 1060.6,631.59 1061.2,631.10 1061.8,633.40 1062.4,632.10 1063.0,632.40 1063.6,631.80 1064.2,631.90 1064.8,631.84 1065.4,631.89 1066.0,630.58 1066.6,630.77 1067.2,631.25 1067.8,630.73 1068.4,630.92 1069.0,630.48 1069.6,631.12 1070.2,630.69 1070.8,629.35 1071.4,630.17 1072.0,631.22 1072.6,632.72 1073.2,629.95 1073.8,628.82 1074.4,630.55 1075.0,631.58 1075.6,629.05 1076.2,629.21 1076.8,629.03 1077.4,630.07 1078.0,627.47 1078.6,629.46 1079.2,628.80 1079.8,628.65 1080.0,628.53 1080.4,629.14 1081.0,629.31 1081.6,627.39 1082.2,628.12 1082.8,628.82 1083.4,627.09 1084.0,628.61 1084.6,628.37 1085.2,627.52 1085.8,626.22 1086.4,626.44 1087.0,626.64 1087.6,627.21 1088.2,626.78 1088.8,626.66 1089.4,627.13 1090.0,626.42 1090.6,626.17 1091.2,626.15 1091.8,626.09 1092.4,625.36 1093.0,624.80 1093.6,624.92 1094.2,625.01 1094.8,623.49 1095.4,624.18 1096.0,623.81 1096.6,623.08 1097.2,624.75 1097.8,623.59 1098.4,622.07 1099.0,624.63 1099.1,624.06 1099.6,621.91 1100.2,624.62 1100.8,624.76 1101.4,624.70 1102.0,625.61 1102.6,624.87 1103.2,626.33 1103.8,625.40 1104.4,626.35 1105.0,626.44 1105.6,627.07 1106.2,627.27 1106.8,627.05 1107.4,628.40 1108.0,628.37 1108.6,629.20 1109.2,628.32 1109.8,630.25 1110.4,628.97 1111.0,629.23 1111.6,629.93 1111.9,631.26 1112.2,630.51 1112.8,630.35 1113.4,630.66 1114.0,629.88 1114.6,630.38 1115.2,630.84 1115.8,630.31 1116.4,629.44 1117.0,631.64 1117.6,630.59 1118.2,629.44 1118.8,630.09 1119.4,633.26 1120.0,631.03 1120.6,630.12 1121.2,629.62 1121.8,629.81 1122.4,630.77 1123.0,631.44 1123.6,631.22 1124.2,630.83 1124.8,630.92 1125.4,630.81 1126.0,630.64 1126.6,631.29 1127.2,630.54 1127.8,631.29 1128.4,629.10 1129.0,629.65 1129.6,631.37 1130.2,630.85 1130.8,629.89 1131.4,632.19 1132.0,632.44 1132.6,630.83 1133.2,630.93 1133.8,630.07 1134.4,629.32 1135.0,630.39 1135.6,629.89 1136.2,630.41 1136.8,630.24 1137.4,630.08 1138.0,630.45 1138.6,631.52 1139.2,629.66 1139.5,630.50 1139.8,631.43 1140.4,630.98 1141.0,630.84 1141.6,630.72 1142.2,630.40 1142.8,630.70 1143.4,632.02 1144.0,631.27 1144.6,632.79 1145.2,632.65 1145.8,632.41 1146.4,632.96 1147.0,632.27 1147.6,633.87 1148.2,632.40 1148.8,633.40 1149.4,633.15 1150.0,633.25 1150.6,632.87 1151.2,633.65 1151.8,633.11 1152.4,634.59 1153.0,634.07 1153.6,634.66 1154.2,634.08 1154.4,634.39 1154.8,634.43 1155.4,633.95 1156.0,634.27 1156.6,633.33 1157.2,633.58 1157.8,634.39 1158.4,632.80 1159.0,631.88 1159.6,633.66 1160.2,634.52 1160.8,632.97 1161.4,633.14 1162.0,633.06 1162.6,633.79 1163.2,632.24 1163.8,632.99 1164.4,632.91 1165.0,634.11 1165.6,632.92 1166.2,632.43 1166.8,632.00 1167.4,631.86 1168.0,631.24 1168.6,631.67 1169.2,632.21 1169.8,632.64 1170.4,632.07 1171.0,633.15 1171.6,632.62 1172.2,632.82 1172.8,634.16 1173.4,632.23 1174.0,632.73 1174.6,633.10 1175.2,631.57 1175.8,631.61 1176.4,631.87 1177.0,631.67 1177.6,631.69 1178.2,631.54 1178.8,631.75 1179.4,630.84 1180.0,630.46 1180.6,631.04 1181.2,631.41 1181.8,630.27 1182.4,631.11 1183.0,630.92 1183.6,630.72 1184.2,630.70 1184.8,631.22 1185.4,631.14 1186.0,631.25 1186.3,630.67 1186.6,631.12 1187.2,631.30 1187.8,631.24 1188.4,630.52 1189.0,632.00 1189.6,631.93 1190.2,631.19 1190.8,632.06 1191.4,630.56 1192.0,631.23 1192.6,630.53 1193.2,629.95 1193.8,631.28 1194.4,630.95 1195.0,631.30 1195.6,632.14 1196.2,632.48 1196.8,631.86 1197.4,632.11 1198.0,632.52 1198.6,632.29 1199.2,631.76 1199.8,632.79 1200.4,632.71 1201.0,634.28 1201.6,632.47 1202.2,633.72 1202.8,633.86 1203.4,633.00 1204.0,634.49 1204.6,634.42 1205.2,634.68 1205.8,634.77 1206.4,634.07 1207.0,633.17 1207.6,634.87 1208.2,634.52 1208.8,633.00 1209.4,632.96 1210.0,633.35 1210.6,633.56 1211.2,633.33 1211.8,633.16 1212.4,633.33 1213.0,634.10 1213.6,634.33 1214.2,633.49 1214.8,634.30 1215.4,633.12 1216.0,632.45 1216.6,633.76 1217.2,633.25 1217.8,633.01 1218.4,633.26 1219.0,633.96 1219.6,634.13 1220.2,633.36 1220.8,633.32 1221.4,634.21 1222.0,633.57 1222.6,633.04 1223.2,632.70 1223.8,632.71 1224.4,632.62 1225.0,632.54 1225.6,631.87 1226.2,633.33 1226.8,633.77 1227.4,632.09 1228.0,631.37 1228.6,632.21 1228.9,630.15 1229.2,630.89 1229.8,631.34 1230.4,632.05 1231.0,632.26 1231.6,631.62 1232.2,632.13 1232.8,631.04 1233.4,631.08 1234.0,631.31 1234.6,631.94 1235.2,631.39 1235.8,632.10 1236.4,630.72 1237.0,631.63 1237.6,631.94 1238.2,630.86 1238.8,632.02 1239.4,631.21 1240.0,630.77 1240.6,631.59 1241.2,630.88 1241.8,631.61 1242.0,629.81 1242.4,631.15 1243.0,631.81 1243.6,630.23 1244.2,632.56 1244.8,631.22 1245.4,632.48 1246.0,631.37 1246.6,632.28 1247.2,632.31 1247.8,632.24 1248.4,631.06 1249.0,632.59 1249.6,631.26 1250.2,632.65 1250.8,632.73 1251.4,632.53 1252.0,632.79 1252.6,632.31 1253.2,633.82 1253.8,633.08 1254.4,634.10 1255.0,634.85 1255.6,634.33 1256.2,634.80 1256.8,633.57 1257.4,633.64 1258.0,635.05 1258.6,634.04 1259.2,635.74 1259.8,634.93 1260.4,636.47 1260.8,635.47 1261.0,635.49 1261.6,636.70 1262.2,635.92 1262.8,635.68 1263.4,635.80 1264.0,634.61 1264.6,634.09 1265.2,636.06 1265.8,634.46 1266.4,634.81 1267.0,634.03 1267.6,635.30 1268.2,633.64 1268.8,634.79 1269.4,635.29 1270.0,635.44 1270.6,635.47 1271.2,634.65 1271.8,635.22 1272.4,634.50 1273.0,635.58 1273.6,636.10 1274.2,635.31 1274.8,636.19 1275.4,635.74 1276.0,635.39 1276.6,635.76 1277.2,635.47 1277.8,635.39 1278.4,635.30 1279.0,636.91 1279.6,634.92 1280.2,635.16 1280.8,635.81 1281.4,634.54 1282.0,634.81 1282.6,635.36 1283.2,634.63 1283.8,634.94 1284.4,634.63 1285.0,634.75 1285.6,634.65 1286.2,634.06 1286.8,635.68 1287.4,635.13 1288.0,634.87 1288.6,634.40 1289.2,634.68 1289.8,634.72 1290.4,633.45 1291.0,635.36 1291.6,634.66 1292.2,634.06 1292.7,634.42 1292.8,634.45 1293.4,634.82 1294.0,634.30 1294.6,635.15 1295.2,634.15 1295.8,635.09 1296.4,634.44 1297.0,634.67 1297.6,635.46 1298.2,635.41 1298.8,635.19 1299.4,635.73 1300.0,635.23 1300.6,634.95 1301.2,636.25 1301.8,635.62 1302.4,634.31 1303.0,635.66 1303.6,635.34 1304.2,636.00 1304.8,635.43 1305.4,636.10 1306.0,635.75 1306.6,633.96 1307.2,636.27 1307.8,635.25 1308.4,635.16 1309.0,635.74 1309.6,634.23 1310.2,634.46 1310.8,633.72 1311.4,635.09 1312.0,634.80 1312.6,634.89 1313.2,633.08 1313.8,632.91 1314.4,634.52 1315.0,635.63 1315.6,634.85 1316.2,634.47 1316.8,634.51 1317.4,633.60 1318.0,635.21 1318.6,634.28 1319.2,634.15 1319.8,634.33 1320.4,633.96 1321.0,633.53 1321.6,634.04 1322.2,634.53 1322.8,633.96 1323.4,633.99 1324.0,635.02 1324.6,634.87 1325.2,634.20 1325.8,634.33 1326.4,635.87 1327.0,632.76 1327.6,636.18 1328.2,634.77 1328.8,634.11 1329.4,634.01 1330.0,633.84 1330.6,634.01 1331.2,634.38 1331.8,635.43 1332.4,635.15 1333.0,634.67 1333.6,635.62 1334.2,634.30 1334.8,635.26 1335.4,634.67 1336.0,635.48 1336.6,634.03 1337.2,634.33 1337.8,635.74 1338.4,634.61 1339.0,635.17 1339.6,634.90 1340.2,635.05 1340.8,633.43 1341.4,633.56 1342.0,632.96 1342.6,634.23 1343.2,632.81 1343.8,634.62 1344.4,633.41 1345.0,633.54 1345.6,634.55 1346.2,635.45 1346.8,634.73 1347.4,634.30 1348.0,635.60 1348.6,634.54 1349.2,634.41 1349.8,634.11 1350.4,634.38 1351.0,635.16 1351.6,634.04 1352.2,634.78 1352.8,633.91 1353.4,634.90 1354.0,633.53 1354.6,634.63 1355.2,634.97 1355.8,633.40 1356.4,634.06 1356.5,633.79 1357.0,634.22 1357.6,634.79 1358.2,633.88 1358.8,633.41 1359.4,636.07 1360.0,634.18 1360.6,634.28 1361.2,634.55 1361.8,635.08 1362.4,633.94 1363.0,634.58 1363.6,634.47 1364.2,634.93 1364.8,634.00 1365.4,634.09 1366.0,633.81 1366.6,634.98 1367.2,634.42 1367.8,635.35 1368.4,633.76 1369.0,635.47 1369.6,633.59 1370.2,634.16 1370.8,634.75 1371.4,633.56 1372.0,634.31 1372.6,634.71 1373.2,632.24 1373.8,632.87 1374.4,633.58 1375.0,633.37 1375.6,633.68 1376.2,633.82 1376.8,632.23 1377.4,633.80 1378.0,633.58 1378.6,632.79 1379.2,633.60 1379.8,633.81 1380.4,633.01 1381.0,632.96 1381.6,633.56 1382.2,633.56 1382.8,634.45 1383.4,632.86 1384.0,632.83 1384.6,633.17 1385.2,634.47 1385.8,634.18 1386.4,635.02 1387.0,633.19 1387.6,633.60 1388.2,634.07 1388.4,634.85 1388.8,633.52 1389.4,634.10 1390.0,633.87 1390.6,633.54 1391.2,633.33 1391.8,633.56 1392.4,633.48 1393.0,632.32 1393.6,633.04 1394.2,632.71 1394.8,632.25 1395.4,631.26 1396.0,632.05 1396.6,630.91 1397.2,630.83 1397.8,631.63 1398.4,631.28 1399.0,630.81 1399.6,630.40 1400.2,630.65 1400.8,629.91 1401.4,630.00 1402.0,628.54 1402.6,627.92 1403.2,628.92 1403.8,628.65 1404.4,628.06 1405.0,628.89 1405.6,627.81 1406.2,628.46 1406.8,628.81 1407.4,627.22 1408.0,627.17 1408.6,626.74 1409.2,625.75 1409.8,626.87 1410.4,626.81 1411.0,627.03 1411.6,627.10 1412.2,627.36 1412.8,628.55 1413.4,628.13 1414.0,627.44 1414.6,629.40 1415.2,629.65 1415.8,630.20 1416.4,629.81 1417.0,629.94 1417.6,630.68 1418.2,630.89 1418.8,630.65 1419.4,631.30 1420.0,631.75 1420.6,632.80 1421.2,631.94 1421.8,632.33 1422.4,631.24 1423.0,632.10 1423.6,632.06 1424.2,631.99 1424.5,631.54 1424.8,633.47 1425.4,633.50 1426.0,632.85 1426.6,632.37 1427.2,632.58 1427.8,633.25 1428.4,632.86 1429.0,632.24 1429.6,632.95 1430.2,632.66 1430.8,633.25 1431.4,633.26 1432.0,633.79 1432.6,633.79 1433.2,633.13 1433.8,633.57 1434.4,633.36 1435.0,634.46 1435.6,634.16 1436.2,633.97 1436.8,633.93 1437.4,633.44 1438.0,633.66 1438.6,633.37 1439.2,634.92 1439.8,634.98 1440.4,634.84 1441.0,633.97 1441.6,633.12 1442.2,635.13 1442.8,634.67 1443.4,634.46 1444.0,634.48 1444.6,635.47 1445.2,635.04 1445.3,635.59 1445.8,634.10 1446.4,635.59 1447.0,635.09 1447.6,635.75 1448.2,636.03 1448.8,636.38 1449.4,635.29 1450.0,635.57 1450.6,635.98 1451.2,635.16 1451.8,635.65 1452.4,635.17 1453.0,634.93 1453.6,636.28 1454.2,635.35 1454.8,635.46 1455.4,635.94 1456.0,635.66 1456.6,635.30 1457.2,637.30 1457.8,636.42 1458.4,635.53 1459.0,636.06 1459.6,634.77 1460.2,634.87 1460.8,636.27 1461.4,636.12 1462.0,635.80 1462.6,635.53 1463.2,635.75 1463.8,635.32 1464.4,635.87 1465.0,636.00 1465.6,635.05 1466.2,635.84 1466.8,635.33 1467.4,635.20 1468.0,635.01 1468.6,635.55 1469.2,635.00 1469.8,635.22 1470.4,635.06 1471.0,634.29 1471.6,634.21 1472.2,635.66 1472.8,634.82 1473.4,635.48 1474.0,635.04 1474.6,635.68 1475.2,635.38 1475.8,635.79 1476.4,635.91 1477.0,636.38 1477.6,636.61 1478.2,637.01 1478.8,635.34 1479.4,636.69 1480.0,635.45 1480.6,635.98 1481.2,635.99 1481.8,636.68 1482.4,637.03 1483.0,636.37 1483.6,637.01 1484.2,636.42 1484.8,636.70 1485.4,636.01 1486.0,636.46 1486.6,636.16 1487.2,635.13 1487.8,636.62 1488.4,636.81 1489.0,635.08 1489.6,636.41 1490.2,636.63 1490.8,637.17 1491.4,636.14 1492.0,637.12 1492.6,636.76 1493.2,637.38 1493.8,636.38 1494.4,635.88 1495.0,636.64 1495.6,636.49 1496.2,635.78 1496.8,635.94 1497.4,636.64 1498.0,636.40 1498.6,636.64 1499.2,636.94 1499.8,635.99 1500.4,635.54 1501.0,635.41 1501.6,636.20 1502.0,636.46 1502.2,635.92 1502.8,636.01 1503.4,635.46 1504.0,634.61 1504.6,635.31 1505.2,636.29 1505.8,636.25 1506.4,635.59 1507.0,636.22 1507.6,636.88 1508.2,636.40 1508.8,636.16 1509.4,637.32 1510.0,635.55 1510.6,635.98 1511.2,636.49 1511.8,634.93 1512.4,635.50 1513.0,636.34 1513.6,637.50 1514.2,636.88 1514.8,636.55 1515.4,636.84 1516.0,636.35 1516.6,636.26 1517.2,636.15 1517.8,637.43 1518.4,636.54 1519.0,636.77 1519.6,635.84 1520.2,636.36 1520.8,636.28 1521.4,636.97 1522.0,637.11 1522.6,636.59 1523.2,636.99 1523.8,636.94 1524.4,636.22 1525.0,636.53 1525.6,637.00 1526.2,637.58 1526.8,636.58 1527.4,636.40 1528.0,637.43 1528.6,637.06 1529.2,637.91 1529.8,636.95 1530.4,637.95 1531.0,637.62 1531.6,636.77 1532.2,637.47 1532.8,637.16 1533.4,637.09 1534.0,637.64 1534.6,635.68 1535.2,636.02 1535.8,636.57 1536.4,635.89 1537.0,636.38 1537.6,635.89 1538.2,636.91 1538.8,635.72 1539.4,636.75 1540.0,636.96 1540.6,636.74 1541.2,637.44 1541.8,636.38 1542.4,636.39 1543.0,636.79 1543.6,636.08 1544.2,638.04 1544.8,636.56 1545.4,636.75 1546.0,636.23 1546.6,635.90 1547.2,637.23 1547.8,636.65 1548.4,636.43 1549.0,637.76 1549.6,637.00 1550.2,637.33 1550.8,636.22 1551.4,637.85 1552.0,636.74 1552.6,637.03 1553.2,637.23 1553.8,636.62 1554.4,637.10 1555.0,637.54 1555.6,636.93 1556.2,637.78 1556.8,638.13 1557.4,636.61 1558.0,637.56 1558.6,636.59 1559.2,637.35 1559.8,637.21 1560.4,637.94 1561.0,637.35 1561.6,637.49 1562.2,637.76 1562.8,637.30 1563.4,637.03 1564.0,637.95 1564.6,636.18 1565.2,636.96 1565.8,637.43 1566.4,638.78 1567.0,638.74 1567.6,637.49 1568.2,637.50 1568.8,637.24 1569.4,638.04 1570.0,637.32 1570.6,637.68 1571.2,637.44 1571.8,637.60 1572.4,637.02 1573.0,638.21 1573.6,637.54 1574.2,638.62 1574.8,638.35 1575.4,638.90 1576.0,638.38 1576.6,637.80 1577.2,637.55 1577.8,637.17 1578.4,637.78 1579.0,638.33 1579.6,638.63 1580.2,638.44 1580.8,638.57 1581.4,637.57 1582.0,637.82 1582.6,638.22 1583.2,638.29 1583.8,638.47 1584.4,638.49 1585.0,638.39 1585.6,638.21 1586.2,638.78 1586.8,638.54 1587.4,637.50 1588.0,636.91 1588.6,638.41 1589.2,636.91 1589.8,638.32 1590.4,638.78 1591.0,638.34 1591.6,637.89 1592.2,638.20 1592.8,638.59 1593.4,637.98 1594.0,638.75 1594.6,638.07 1595.2,637.79 1595.8,637.57 1596.4,637.96 1597.0,638.99 1597.6,638.16 1598.2,638.67 1598.8,639.27 1599.4,637.53 1600.0,637.96 1600.6,638.12 1601.2,638.42 1601.8,638.61 1602.4,637.47 1603.0,638.36 1603.6,637.66 1604.2,638.36 1604.8,637.42 1605.4,637.81 1606.0,638.76 1606.6,638.29 1607.2,638.44 1607.8,637.97 1608.4,639.13 1609.0,638.06 1609.6,637.80 1610.2,638.42 1610.8,639.22 1611.4,638.03 1612.0,638.15 1612.6,637.52 1613.2,638.04 1613.8,638.67 1614.4,637.44 1615.0,639.40 1615.3,638.84 1615.6,637.71 1616.2,638.01 1616.8,638.43 1617.4,638.10 1618.0,638.38 1618.6,637.92 1619.2,637.29 1619.8,638.05 1620.4,638.27 1621.0,638.09 1621.6,638.22 1622.2,638.86 1622.8,638.45 1623.4,638.09 1624.0,638.97 1624.6,639.13 1625.2,638.97 1625.8,637.73 1626.4,637.85 1627.0,639.09 1627.6,638.27 1628.2,639.30 1628.8,638.63 1629.4,639.83 1630.0,638.73 1630.6,638.73 1631.2,638.56 1631.8,638.68 1632.4,638.53 1633.0,638.81 1633.6,638.70 1634.2,638.46 1634.8,638.76 1635.4,638.68 1636.0,638.82 1636.6,638.71 1637.2,638.67 1637.8,637.94 1638.4,638.17 1639.0,637.39 1639.6,638.18 1640.2,638.20 1640.8,638.79 1641.4,638.18 1642.0,638.11 1642.6,638.30 1643.2,638.17 1643.8,638.10 1644.4,637.59 1645.0,638.26 1645.6,639.17 1646.2,638.60 1646.8,637.70 1647.4,639.08 1648.0,637.87 1648.6,637.75 1649.2,637.84 1649.8,638.27 1650.4,637.32 1651.0,638.55 1651.6,638.33 1652.2,636.85 1652.8,637.76 1653.4,638.27 1654.0,639.04 1654.6,638.36 1655.2,637.69 1655.8,637.26 1656.4,637.15 1657.0,638.93 1657.6,637.16 1658.2,637.98 1658.8,637.86 1659.4,638.09 1660.0,637.37 1660.6,637.48 1661.2,636.99 1661.8,636.62 1662.4,637.01 1663.0,636.73 1663.6,637.88 1664.2,637.70 1664.8,636.68 1665.4,637.34 1666.0,637.93 1666.6,637.14 1667.2,636.48 1667.8,637.25 1668.4,637.23 1669.0,637.03 1669.6,637.37 1670.2,637.02 1670.8,636.96 1671.4,636.59 1672.0,637.11 1672.6,637.47 1673.2,637.33 1673.8,637.66 1674.4,637.17 1675.0,637.15 1675.6,636.75 1676.2,637.64 1676.8,636.99 1677.4,637.45 1678.0,636.75 1678.6,637.21 1679.2,636.55 1679.8,636.66 1680.4,636.50 1681.0,636.26 1681.6,636.40 1682.2,636.34 1682.8,637.14 1683.4,636.38 1684.0,636.40 1684.6,636.53 1685.2,636.87 1685.8,636.21 1686.4,637.00 1687.0,636.77 1687.6,637.82 1688.2,636.92 1688.8,636.94 1689.4,636.42 1690.0,637.40 1690.6,636.70 1691.2,636.49 1691.8,636.16 1692.4,636.40 1693.0,636.94 1693.6,636.49 1694.2,637.30 1694.8,637.37 1695.4,636.45 1696.0,636.45 1696.6,637.09 1697.2,637.68 1697.8,636.96 1698.4,637.06 1699.0,635.44 1699.6,635.73 1700.2,636.23 1700.3,635.96 1700.8,636.07 1701.4,636.46 1702.0,636.08 1702.6,636.58 1703.2,636.99 1703.8,636.55 1704.4,636.28 1705.0,636.10 1705.6,636.48 1706.2,636.87 1706.8,636.61 1707.4,637.28 1708.0,635.57 1708.6,636.14 1709.2,637.10 1709.8,636.08 1710.4,636.02 1711.0,636.49 1711.6,636.82 1712.2,636.79 1712.8,636.77 1713.4,636.22 1714.0,637.82 1714.6,637.76 1715.2,636.61 1715.8,637.40 1716.4,637.09 1717.0,636.90 1717.6,637.53 1718.2,636.71 1718.8,636.93 1719.4,637.60 1720.0,637.41 1720.6,636.90 1721.2,637.51 1721.8,638.36 1722.4,637.10 1723.0,637.25 1723.6,637.74 1724.2,637.42 1724.8,637.71 1725.4,636.92 1726.0,637.69 1726.6,637.29 1727.2,637.05 1727.8,637.86 1728.4,637.07 1729.0,638.07 1729.6,637.34 1730.2,636.71 1730.8,636.81 1731.4,636.67 1732.0,636.77 1732.6,636.99 1733.2,636.83 1733.8,637.07 1734.4,636.29 1735.0,636.93 1735.6,636.67 1736.2,637.03 1736.8,636.78 1737.4,637.33 1738.0,636.33 1738.6,637.24 1739.2,636.56 1739.8,637.31 1740.4,637.25 1741.0,636.47 1741.6,638.08 1742.2,637.80 1742.8,637.03 1743.4,637.04 1744.0,636.45 1744.6,638.11 1745.2,637.16 1745.8,637.46 1746.4,636.68 1747.0,637.48 1747.6,637.75 1748.2,637.75 1748.8,637.32 1749.4,636.97 1750.0,637.23 1750.6,636.87 1751.2,636.48 1751.8,636.42 1752.4,637.41 1753.0,637.96 1753.6,637.45 1754.2,637.59 1754.8,637.44 1755.4,636.85 1756.0,637.93 1756.6,636.93 1757.2,637.92 1757.8,636.96 1758.4,636.44 1759.0,637.33 1759.6,636.78 1760.2,637.96 1760.8,637.21 1761.4,637.05 1762.0,637.55 1762.6,637.87 1763.2,636.94 1763.8,637.52 1764.4,636.95 1765.0,637.23 1765.6,636.85 1766.2,636.68 1766.8,636.95 1767.0,637.13 1767.4,636.63 1768.0,636.79 1768.6,636.56 1769.2,636.47 1769.8,635.88 1770.4,636.34 1771.0,637.35 1771.6,637.07 1772.2,637.48 1772.8,636.22 1773.4,636.64 1774.0,636.15 1774.6,636.29 1775.2,635.64 1775.8,636.21 1776.4,636.07 1777.0,634.33 1777.6,636.09 1778.2,635.98 1778.8,634.55 1779.4,635.21 1779.6,634.65 1780.0,635.11 1780.6,635.57 1781.2,635.41 1781.8,635.31 1782.4,635.61 1783.0,636.47 1783.6,635.39 1784.2,635.52 1784.8,636.38 1785.4,636.46 1786.0,636.44 1786.6,636.94 1787.2,636.49 1787.8,636.05 1788.4,636.03 1789.0,636.90 1789.6,636.79 1790.2,636.45 1790.8,636.86 1791.4,637.20 1792.0,637.34 1792.6,636.66 1793.2,636.79 1793.8,637.32 1794.4,637.46 1795.0,638.02 1795.6,637.59 1796.2,637.50 1796.8,637.84 1797.4,637.74 1798.0,638.38 1798.6,637.83 1799.2,638.33 1799.8,638.40 1800.4,637.59 1801.0,638.42 1801.6,638.15 1802.2,638.06 1802.8,638.89 1803.4,638.02 1804.0,638.17 1804.6,637.48 1805.2,638.38 1805.8,637.92 1806.4,637.74 1807.0,638.28 1807.6,638.66 1808.2,637.99 1808.8,638.92 1809.4,638.26 1810.0,637.95 1810.6,638.57 1811.2,638.01 1811.8,638.79 1812.4,638.42 1813.0,638.11 1813.6,638.25 1814.2,638.32 1814.8,638.70 1815.4,638.09 1816.0,638.59 1816.6,638.36 1817.2,638.10 1817.8,638.53 1818.4,637.93 1819.0,638.25 1819.6,637.84 1820.2,638.11 1820.8,637.56 1821.4,637.93 1822.0,638.21 1822.6,638.22 1823.2,637.74 1823.8,638.11 1824.4,638.44 1825.0,638.18 1825.6,638.53 1826.2,637.63 1826.8,638.21 1827.4,638.60 1828.0,638.29 1828.6,638.57 1829.2,637.74 1829.8,638.07 1830.4,638.04 1831.0,638.29 1831.6,637.86 1832.2,638.47 1832.8,638.90 1833.4,639.16 1834.0,639.38 1834.6,638.19 1835.2,638.45 1835.8,638.27 1836.4,638.28 1837.0,638.76 1837.6,639.30 1838.2,638.72 1838.8,638.71 1839.4,638.75 1840.0,638.63 1840.6,638.50 1841.2,638.24 1841.8,638.38 1842.4,638.04 1843.0,638.18 1843.6,638.75 1844.2,638.10 1844.8,637.93 1845.4,638.66 1846.0,638.20 1846.6,638.62 1847.2,638.44 1847.8,638.73 1848.4,638.51 1849.0,638.58 1849.6,638.94 1850.2,639.73 1850.8,639.52 1851.4,639.18 1852.0,639.53 1852.6,639.48 1853.2,639.09 1853.8,639.37 1854.4,639.64 1855.0,638.97 1855.6,638.89 1856.2,638.60 1856.8,638.32 1857.4,638.61 1858.0,638.56 1858.6,638.52 1859.2,638.42 1859.8,639.19 1860.4,638.73 1861.0,638.67 1861.6,638.71 1862.2,639.16 1862.8,639.01 1863.4,638.45 1864.0,639.18 1864.6,638.51 1865.2,639.06 1865.8,639.01 1866.4,638.18 1867.0,638.39 1867.6,639.38 1868.2,639.00 1868.8,638.90 1869.4,639.35 1870.0,639.38 1870.6,638.92 1871.2,639.52 1871.8,639.19 1872.4,638.51 1873.0,639.50 1873.6,638.65 1874.2,638.78 1874.8,639.43 1875.4,638.58 1876.0,639.12 1876.6,639.32 1877.2,638.88 1877.8,639.15 1878.4,638.67 1879.0,639.05 1879.6,639.12 1880.2,638.97 1880.8,638.67 1881.4,638.25 1882.0,638.52 1882.6,638.27 1883.2,638.42 1883.8,638.65 1884.4,639.24 1885.0,639.39 1885.6,638.56 1886.2,639.71 1886.8,639.55 1887.4,639.57 1888.0,639.55 1888.6,639.84 1889.2,639.18 1889.8,639.82 1890.4,639.90 1891.0,639.03 1891.6,639.14 1892.2,638.82 1892.8,638.78 1893.4,638.23 1894.0,638.97 1894.6,639.09 1895.2,638.19 1895.8,639.01 1896.4,638.07 1897.0,638.06 1897.6,639.26 1898.2,639.31 1898.8,638.78 1899.4,639.35 1900.0,638.92 1900.6,639.50 1901.2,640.01 1901.8,639.23 1902.4,639.32 1903.0,639.60 1903.6,638.91"/>
<path stroke="#008b5a" d="M271.0,708.14 271.6,705.20 272.2,707.45 272.8,705.17 273.4,707.85 274.0,704.66 274.6,705.64 275.2,705.73 275.8,703.90 276.0,707.44 276.4,704.39 277.0,704.37 277.6,704.93 278.2,706.15 278.8,703.91 279.4,706.86 280.0,704.05 280.6,703.30 281.2,703.74 281.8,702.60 282.4,701.04 283.0,701.18 283.6,701.58 284.2,702.79 284.8,700.76 285.4,700.53 286.0,696.80 286.6,698.63 287.2,698.37 287.6,700.13 287.8,699.53 288.4,696.57 289.0,695.78 289.6,693.75 290.2,691.61 290.8,691.09 291.4,689.19 292.0,688.56 292.6,687.52 293.2,684.98 293.8,685.03 294.4,680.84 295.0,680.64 295.6,679.28 296.2,675.25 296.8,675.56 297.4,672.95 298.0,671.30 298.6,666.29 299.2,664.08 299.8,661.12 300.4,655.39 301.0,654.65 301.6,649.59 302.2,648.66 302.5,647.72 302.8,645.63 303.4,639.72 304.0,640.66 304.6,636.04 305.2,633.57 305.8,628.27 306.4,625.31 307.0,624.92 307.6,618.98 308.2,615.50 308.8,612.42 308.9,613.57 309.4,608.08 310.0,606.60 310.6,602.98 311.2,604.00 311.8,599.35 312.4,595.20 313.0,592.34 313.6,588.77 314.2,585.48 314.8,582.78 315.3,582.53 315.4,579.60 316.0,576.99 316.6,574.97 317.2,573.62 317.8,569.75 318.4,565.26 319.0,563.94 319.6,561.32 320.2,557.23 320.8,555.50 321.4,554.48 322.0,551.41 322.6,551.88 323.2,548.52 323.8,545.97 324.4,548.21 325.0,549.27 325.6,551.81 326.2,555.94 326.8,557.61 327.4,558.28 328.0,561.94 328.6,567.32 329.2,568.57 329.8,572.89 330.4,577.94 331.0,579.83 331.6,583.16 332.2,586.33 332.3,588.68 332.8,589.89 333.4,593.19 334.0,598.66 334.6,604.43 335.2,606.95 335.8,612.31 336.4,615.93 337.0,617.20 337.6,622.52 338.2,626.24 338.7,629.58 338.8,631.56 339.4,635.28 340.0,638.04 340.6,642.12 341.2,643.57 341.8,648.71 342.4,650.02 343.0,654.25 343.6,656.55 344.2,662.64 344.8,663.88 345.0,666.23 345.4,665.38 346.0,669.45 346.6,672.39 347.2,673.80 347.8,676.12 348.4,678.27 349.0,680.21 349.6,682.02 350.2,683.63 350.8,687.93 351.4,688.88 352.0,690.50 352.6,692.32 353.2,692.00 353.8,693.34 354.4,694.77 355.0,699.71 355.6,698.66 356.2,701.07 356.8,699.40 357.4,702.27 358.0,704.03 358.6,704.46 359.2,707.55 359.8,707.05 360.0,707.76 360.4,709.62 361.0,710.88 361.6,710.12 362.2,709.90 362.8,710.76 363.4,713.11 364.0,711.16 364.6,711.87 365.2,712.54 365.8,715.42 366.4,715.32 367.0,714.39 367.6,715.11 368.2,716.46 368.8,716.36 369.4,716.23 370.0,716.91 370.6,718.06 371.2,717.86 371.8,718.79 372.4,718.72 373.0,718.62 373.6,720.25 374.2,720.60 374.8,718.12 375.4,720.93 376.0,720.34 376.6,719.95 377.2,722.17 377.8,721.83 378.4,722.41 379.0,721.39 379.6,724.30 380.2,723.11 380.8,722.15 381.4,725.31 382.0,722.56 382.6,725.58 383.2,723.91 383.8,723.94 384.4,724.18 385.0,724.23 385.6,724.68 386.2,726.46 386.8,726.24 387.4,724.78 387.6,726.94 388.0,725.15 388.6,727.61 389.2,726.70 389.8,727.16 390.4,728.95 391.0,725.52 391.6,730.56 392.2,731.78 392.8,729.80 393.4,729.48 394.0,728.33 394.6,730.58 395.2,729.35 395.8,729.42 396.4,728.99 397.0,731.60 397.6,731.10 398.2,728.65 398.8,730.30 399.4,729.12 400.0,731.83 400.6,730.00 401.2,731.19 401.8,732.16 402.4,731.58 403.0,730.70 403.6,731.89 404.2,731.19 404.8,734.61 405.4,734.36 406.0,731.62 406.6,732.56 407.2,736.59 407.8,735.01 408.4,734.09 408.9,735.61 409.0,734.96 409.6,735.55 410.2,734.35 410.8,736.72 411.4,735.27 412.0,733.75 412.6,735.08 413.2,734.82 413.8,735.67 414.4,735.58 415.0,735.44 415.6,734.44 416.2,735.71 416.8,734.92 417.4,737.48 418.0,734.51 418.6,735.58 419.2,735.42 419.8,734.97 420.4,736.63 421.0,736.61 421.6,736.58 422.2,738.16 422.8,735.96 423.4,737.22 424.0,736.93 424.6,737.23 425.2,735.59 425.8,735.74 426.4,738.05 427.0,735.85 427.6,738.41 428.2,738.88 428.8,736.56 429.4,737.56 430.0,737.39 430.1,738.83 430.6,739.52 431.2,738.10 431.8,738.24 432.4,738.75 433.0,736.43 433.6,737.49 434.2,738.62 434.8,737.18 435.4,739.59 436.0,736.76 436.6,737.62 437.2,738.00 437.8,738.69 438.4,737.02 439.0,737.72 439.6,738.66 440.2,738.47 440.8,739.11 441.4,737.66 442.0,737.41 442.6,735.54 443.2,737.22 443.8,738.10 444.4,736.99 445.0,738.15 445.6,739.50 446.2,738.06 446.8,739.60 447.4,739.45 448.0,738.71 448.6,739.52 449.2,739.75 449.8,737.32 450.4,740.58 451.0,736.94 451.4,739.18 451.6,738.27 452.2,738.52 452.8,739.54 453.4,739.11 454.0,739.55 454.6,739.93 455.2,739.22 455.8,740.64 456.4,739.41 457.0,741.37 457.6,739.68 458.2,741.45 458.8,740.85 459.4,743.23 460.0,740.87 460.6,743.46 461.2,742.02 461.8,740.96 462.4,744.44 463.0,744.23 463.6,745.21 464.2,743.15 464.8,744.82 465.4,745.72 466.0,744.54 466.6,747.68 467.2,744.62 467.8,746.19 468.4,744.41 469.0,744.78 469.6,745.39 470.2,745.93 470.8,746.53 471.4,747.11 472.0,744.59 472.6,747.31 472.7,746.73 473.2,745.68 473.8,747.08 474.4,748.80 475.0,748.81 475.6,746.80 476.2,747.90 476.8,748.11 477.4,750.15 478.0,748.56 478.6,748.17 479.2,749.08 479.8,746.65 480.4,749.57 481.0,750.68 481.6,750.30 482.2,748.16 482.8,752.86 483.4,751.14 484.0,750.59 484.6,750.85 485.2,752.05 485.4,751.15 485.8,751.30 486.4,752.26 487.0,750.64 487.6,752.74 488.2,751.08 488.8,752.65 489.4,753.36 490.0,752.84 490.6,753.16 491.2,751.90 491.8,751.46 492.4,753.34 493.0,752.08 493.6,751.30 494.2,746.97 494.8,740.60 495.4,735.52 496.0,725.19 496.5,719.00 496.6,717.39 497.2,728.37 497.6,735.02 497.8,735.22 498.4,744.01 499.0,750.64 499.4,752.13 499.6,751.76 500.2,755.62 500.8,751.88 501.4,754.92 502.0,753.75 502.6,753.94 503.2,753.05 503.8,752.69 504.4,755.34 504.6,755.88 505.0,753.13 505.6,755.26 506.2,753.99 506.8,754.74 507.4,753.61 508.0,752.99 508.6,751.96 509.2,751.63 509.8,753.14 510.4,752.88 511.0,751.77 511.6,751.21 512.2,751.96 512.8,753.10 513.4,753.48 514.0,753.49 514.6,752.38 515.2,752.91 515.8,750.51 516.4,752.96 517.0,751.00 517.6,749.60 518.2,748.99 518.8,748.38 519.4,748.70 520.0,749.41 520.6,747.32 521.2,748.51 521.8,747.23 522.4,744.87 523.0,744.96 523.6,744.70 524.2,744.76 524.8,746.66 525.4,746.85 526.0,744.35 526.6,744.03 527.2,742.62 527.8,744.21 528.4,741.91 529.0,742.00 529.6,742.29 530.1,742.88 530.2,742.33 530.8,740.00 531.4,743.04 532.0,742.63 532.6,743.74 533.2,745.16 533.8,742.61 534.4,744.86 535.0,746.06 535.6,744.08 536.2,747.51 536.8,747.36 537.4,747.61 538.0,747.13 538.6,748.97 539.2,749.87 539.8,748.93 540.4,749.66 541.0,749.93 541.6,751.55 542.2,752.09 542.8,753.08 542.9,752.60 543.4,752.10 544.0,752.81 544.6,752.19 545.2,754.32 545.8,752.67 546.4,753.04 547.0,754.21 547.6,752.53 548.2,755.09 548.8,756.20 549.4,755.74 550.0,756.04 550.6,756.06 551.2,755.84 551.8,756.01 552.4,755.18 553.0,756.91 553.6,757.70 554.2,758.98 554.8,756.92 555.4,757.86 556.0,758.12 556.6,757.41 557.2,757.49 557.7,757.64 557.8,757.78 558.4,759.70 559.0,756.58 559.6,757.20 560.2,757.12 560.8,758.97 561.4,759.36 562.0,757.98 562.6,759.95 563.2,758.15 563.8,760.74 564.4,759.39 565.0,760.27 565.6,757.98 566.2,760.18 566.8,759.36 567.4,758.57 568.0,757.48 568.6,759.69 569.2,759.52 569.8,758.41 570.4,759.64 571.0,759.65 571.6,759.79 572.2,757.73 572.8,759.39 573.4,758.85 574.0,757.97 574.6,758.73 575.2,757.97 575.8,759.49 576.4,758.18 577.0,758.62 577.6,759.03 578.2,759.97 578.8,758.80 579.0,756.93 579.4,759.57 580.0,758.35 580.6,759.26 581.2,758.32 581.8,757.89 582.4,756.92 583.0,758.51 583.6,759.19 584.2,757.95 584.8,757.99 585.4,757.90 586.0,758.46 586.6,758.73 587.2,759.45 587.8,758.32 588.4,758.83 589.0,757.64 589.6,759.57 590.2,758.64 590.8,757.29 591.4,757.74 592.0,758.51 592.6,759.84 593.2,758.84 593.8,760.39 594.4,759.33 595.0,758.10 595.6,758.25 596.2,760.67 596.8,758.30 597.4,758.24 598.0,758.13 598.6,757.71 599.2,759.68 599.8,759.78 600.4,757.84 601.0,760.44 601.6,759.67 602.2,758.35 602.8,757.22 603.4,758.19 604.0,758.18 604.6,759.27 605.2,758.19 605.8,759.49 606.4,760.94 607.0,757.80 607.6,757.87 608.2,759.56 608.8,759.99 609.4,756.28 610.0,757.43 610.6,756.29 611.2,758.13 611.8,757.81 612.4,756.86 613.0,757.81 613.6,758.68 614.2,754.43 614.8,755.85 615.4,756.60 616.0,757.27 616.6,757.68 617.2,757.42 617.8,758.91 618.4,757.21 619.0,756.36 619.6,756.28 620.2,755.02 620.8,756.82 621.4,757.48 621.5,755.85 622.0,757.75 622.6,755.60 623.2,757.49 623.8,756.66 624.4,758.48 625.0,757.13 625.6,757.07 626.2,756.49 626.8,755.79 627.4,756.28 628.0,755.91 628.6,755.38 629.2,757.98 629.8,757.73 630.4,757.16 631.0,757.10 631.6,755.11 632.2,753.70 632.8,756.75 633.4,756.64 634.0,756.62 634.6,756.85 635.2,756.66 635.8,755.30 636.4,756.53 637.0,756.40 637.6,757.26 638.2,756.29 638.8,755.77 639.4,755.64 640.0,754.56 640.6,754.93 641.2,756.03 641.8,753.31 642.4,754.24 642.8,755.85 643.0,754.54 643.6,753.72 644.2,755.84 644.8,756.12 645.4,756.03 646.0,756.04 646.6,754.55 647.2,758.53 647.8,755.39 648.4,755.59 649.0,757.04 649.6,757.13 650.2,756.76 650.8,757.05 651.4,757.59 652.0,757.43 652.6,756.38 653.2,757.34 653.8,757.59 654.4,757.59 655.0,757.21 655.6,756.26 656.2,757.61 656.8,757.76 657.4,757.41 658.0,755.46 658.6,757.33 659.2,758.45 659.8,757.51 660.4,756.69 661.0,757.52 661.6,757.27 662.2,757.17 662.8,758.11 663.4,758.00 664.0,757.15 664.6,759.61 665.2,758.93 665.8,756.49 666.4,757.99 667.0,758.11 667.6,755.80 668.2,757.09 668.8,759.28 669.4,758.30 670.0,758.79 670.6,758.62 671.2,758.52 671.8,758.09 672.4,757.43 673.0,757.07 673.6,758.02 674.2,759.61 674.8,759.80 675.4,760.17 676.0,758.87 676.6,758.28 677.2,760.48 677.8,760.16 678.4,759.75 679.0,759.80 679.6,759.07 680.0,760.73 680.2,758.02 680.8,759.32 681.4,760.23 682.0,759.68 682.6,761.06 683.2,759.88 683.8,758.73 684.4,758.47 685.0,757.06 685.6,760.02 686.2,758.86 686.8,759.20 687.4,757.37 688.0,757.39 688.6,758.71 689.2,757.60 689.8,757.89 690.4,759.19 691.0,758.02 691.3,757.92 691.6,757.68 692.2,756.85 692.8,757.81 693.4,757.20 694.0,759.10 694.6,757.46 695.2,755.27 695.8,756.43 696.4,755.86 697.0,757.93 697.6,756.40 698.2,755.27 698.8,755.94 699.4,757.04 700.0,756.64 700.6,755.85 701.2,755.65 701.8,754.14 702.4,754.73 703.0,754.73 703.6,753.92 704.2,754.66 704.8,753.30 705.4,755.00 706.0,753.29 706.6,752.88 707.2,752.56 707.8,753.12 708.4,753.62 709.0,753.43 709.6,752.41 710.2,753.11 710.8,751.86 711.4,752.60 712.0,753.00 712.5,752.50 712.6,751.76 713.2,751.08 713.8,751.56 714.4,750.76 715.0,748.65 715.6,748.88 716.2,748.99 716.8,748.88 717.4,748.17 718.0,749.01 718.6,746.34 719.2,748.15 719.8,746.09 720.4,746.27 721.0,745.14 721.6,745.14 722.2,743.09 722.8,745.10 723.4,742.81 724.0,742.62 724.6,740.18 725.2,741.63 725.3,741.10 725.8,741.85 726.4,740.87 727.0,739.46 727.6,737.92 728.2,739.62 728.8,737.32 729.4,737.68 730.0,736.82 730.6,736.37 731.2,733.07 731.8,732.37 732.4,732.23 733.0,731.22 733.6,731.77 734.2,730.80 734.8,730.51 735.4,729.58 736.0,729.31 736.6,728.91 737.2,728.18 737.6,727.37 737.8,729.03 738.4,727.97 739.0,727.23 739.6,727.36 740.2,729.93 740.8,729.64 741.4,730.06 742.0,729.79 742.6,731.67 743.2,732.86 743.8,732.78 744.4,732.02 745.0,733.21 745.6,733.81 746.2,733.12 746.6,733.02 746.8,732.81 747.4,734.85 748.0,733.84 748.6,731.85 749.2,731.35 749.8,731.43 750.4,730.57 751.0,729.40 751.6,727.09 752.2,726.08 752.8,725.84 753.4,725.53 754.0,724.35 754.6,720.83 755.2,716.94 755.8,715.68 756.0,712.55 756.4,711.82 757.0,709.57 757.6,707.54 758.2,706.03 758.8,700.68 759.0,699.11 759.4,699.61 760.0,696.55 760.6,692.73 761.2,688.64 761.6,685.23 761.8,683.08 762.4,678.47 763.0,669.43 763.1,669.86 763.6,663.30 764.2,656.96 764.6,651.42 764.8,648.73 765.4,638.29 765.6,634.24 766.0,630.09 766.6,622.87 767.1,620.07 767.2,617.61 767.8,612.89 768.4,609.61 769.0,604.51 769.3,601.99 769.6,604.70 770.2,607.98 770.8,612.88 771.4,616.46 771.7,620.32 772.0,622.83 772.6,628.75 773.2,634.85 773.8,641.74 774.4,647.65 774.7,651.92 775.0,656.71 775.6,665.86 775.7,669.21 776.2,674.53 776.8,679.07 777.2,685.67 777.4,685.47 778.0,689.69 778.6,695.68 779.2,701.14 779.3,702.25 779.8,703.44 780.4,707.60 781.0,710.79 781.6,714.93 782.2,717.46 782.3,717.52 782.8,718.89 783.4,720.53 784.0,722.22 784.6,723.52 785.2,724.79 785.8,728.18 786.4,728.71 787.0,730.38 787.6,731.54 788.2,733.65 788.8,734.38 789.4,736.73 790.0,737.48 790.6,739.95 791.2,738.53 791.8,742.50 792.4,742.72 793.0,742.81 793.6,745.29 794.2,745.65 794.8,747.34 795.4,747.91 796.0,749.25 796.5,749.91 796.6,749.80 797.2,749.98 797.8,751.35 798.4,751.76 799.0,752.04 799.6,751.29 800.2,751.86 800.8,752.14 801.4,752.25 802.0,752.18 802.6,752.72 803.2,751.98 803.8,752.93 804.4,751.69 805.0,752.48 805.6,752.47 806.2,752.68 806.8,754.06 807.4,752.39 808.0,753.52 808.6,753.92 809.2,754.72 809.8,753.73 810.4,753.77 811.0,754.39 811.6,755.05 812.2,755.58 812.8,756.86 813.4,757.11 814.0,756.59 814.6,756.42 815.2,757.12 815.8,757.00 816.4,756.63 817.0,756.61 817.6,758.48 818.2,757.50 818.8,756.57 818.9,758.09 819.4,756.41 820.0,756.84 820.6,757.33 821.2,757.14 821.8,757.05 822.4,756.92 823.0,756.85 823.6,756.51 824.2,757.65 824.8,758.26 825.4,756.51 826.0,757.52 826.6,757.49 827.2,755.67 827.8,757.22 828.4,756.91 829.0,755.98 829.6,755.28 830.2,756.13 830.8,755.77 831.4,754.73 832.0,753.17 832.6,756.01 833.2,752.72 833.8,754.78 834.4,752.73 835.0,754.42 835.6,754.32 836.2,754.80 836.8,755.10 837.4,755.27 838.0,753.94 838.6,755.38 839.2,755.15 839.8,753.86 840.1,754.86 840.4,753.75 841.0,754.21 841.6,752.73 842.2,753.52 842.8,754.00 843.4,752.09 844.0,752.19 844.6,753.04 845.2,753.17 845.8,749.60 846.4,749.68 847.0,747.70 847.6,747.80 848.2,750.08 848.8,747.93 849.4,747.50 850.0,747.17 850.6,748.03 851.2,745.72 851.8,745.78 852.4,745.82 853.0,745.07 853.6,745.46 854.2,746.08 854.8,743.97 855.4,744.13 856.0,744.81 856.6,743.34 857.2,742.09 857.8,744.07 858.4,744.83 859.0,746.33 859.6,745.85 860.2,747.76 860.8,748.92 861.4,747.34 862.0,749.89 862.6,752.60 863.2,751.39 863.8,754.12 864.4,753.76 865.0,753.58 865.6,753.45 865.7,754.99 866.2,754.64 866.8,757.41 867.4,754.30 868.0,757.18 868.6,756.41 869.2,757.68 869.8,755.89 870.4,757.53 871.0,756.75 871.6,758.29 872.2,759.05 872.8,758.41 873.4,758.11 874.0,758.88 874.6,758.79 875.2,757.84 875.8,756.73 876.4,758.23 877.0,756.89 877.6,758.12 878.2,760.97 878.8,760.32 879.4,758.71 880.0,759.62 880.6,760.83 881.2,759.65 881.8,758.42 882.4,758.75 882.7,761.45 883.0,761.63 883.6,761.72 884.2,761.31 884.8,761.31 885.4,761.49 886.0,761.11 886.6,761.77 887.2,762.01 887.8,760.82 888.4,763.38 889.0,762.28 889.6,762.60 890.2,761.31 890.8,761.97 891.4,761.73 892.0,761.19 892.6,761.67 893.2,764.12 893.8,762.61 894.4,762.94 895.0,762.54 895.6,762.54 896.2,761.85 896.8,762.84 897.4,761.80 897.6,762.79 898.0,761.32 898.6,761.74 899.2,762.00 899.8,762.64 900.4,761.28 901.0,762.22 901.6,762.29 902.2,762.42 902.8,761.75 903.4,761.61 904.0,761.22 904.6,760.14 904.9,761.38 905.2,759.59 905.8,757.60 906.4,755.73 907.0,751.87 907.6,748.22 907.8,746.80 908.2,743.81 908.8,738.74 909.4,735.60 909.9,734.09 910.0,733.64 910.6,735.96 911.2,741.69 911.8,744.40 912.0,745.71 912.4,749.19 913.0,752.08 913.6,755.98 914.2,756.61 914.8,759.99 914.9,760.28 915.4,760.06 916.0,760.16 916.6,758.73 917.2,760.22 917.8,759.43 918.4,760.26 919.0,759.32 919.6,760.63 920.2,760.10 920.8,759.67 921.4,759.65 922.0,758.98 922.6,760.26 923.2,759.67 923.8,759.29 924.4,759.14 925.0,759.12 925.6,759.28 926.2,758.86 926.8,758.17 927.4,757.75 928.0,758.25 928.6,760.17 929.2,758.88 929.8,759.99 930.4,760.62 931.0,759.63 931.6,759.23 932.2,759.24 932.8,759.94 933.4,758.46 934.0,759.36 934.6,760.35 935.2,759.10 935.8,758.79 936.4,758.41 937.0,757.68 937.6,756.54 938.2,757.97 938.8,757.78 939.4,755.71 940.0,756.73 940.6,757.41 941.2,756.88 941.8,756.57 942.4,755.21 943.0,754.93 943.6,755.53 944.2,756.27 944.8,754.78 945.4,756.48 946.0,754.09 946.6,754.35 947.2,755.54 947.8,753.32 948.4,754.78 949.0,754.49 949.6,754.29 950.2,753.66 950.8,753.32 951.4,752.26 952.0,752.81 952.6,752.37 953.2,751.38 953.8,751.31 954.4,752.62 955.0,751.46 955.6,750.99 956.2,751.34 956.8,749.87 957.4,751.58 958.0,751.70 958.6,752.42 959.2,750.63 959.8,751.76 960.4,750.86 961.0,750.99 961.6,751.36 962.2,752.25 962.8,752.05 963.4,752.83 964.0,752.46 964.6,752.67 965.2,754.40 965.8,753.19 966.4,754.27 967.0,755.89 967.6,755.37 968.2,755.76 968.8,755.52 969.4,755.55 970.0,757.18 970.6,756.70 971.2,757.24 971.8,758.07 972.0,757.11 972.4,757.86 973.0,755.07 973.6,758.60 974.2,758.09 974.8,755.87 975.4,756.91 976.0,756.46 976.6,754.94 977.2,755.36 977.8,754.70 978.4,754.36 979.0,754.30 979.6,754.64 980.2,753.34 980.8,753.11 981.4,752.66 982.0,751.70 982.6,752.56 983.2,753.50 983.8,752.61 984.4,750.58 985.0,751.43 985.6,750.27 986.2,751.39 986.8,749.02 986.9,751.31 987.4,749.47 988.0,751.56 988.6,752.66 989.2,752.30 989.8,753.97 990.4,753.34 991.0,755.47 991.6,754.64 992.2,755.87 992.8,757.22 993.4,759.57 994.0,758.13 994.6,758.94 995.2,761.39 995.8,761.31 996.4,761.37 997.0,762.35 997.5,763.61 997.6,762.38 998.2,762.30 998.8,763.32 999.4,763.46 1000.0,762.56 1000.6,762.87 1001.2,763.88 1001.8,761.99 1002.4,762.09 1003.0,763.80 1003.6,763.31 1004.2,763.81 1004.8,762.68 1005.4,762.44 1006.0,762.62 1006.6,761.02 1007.2,761.34 1007.8,762.57 1008.4,762.59 1009.0,762.74 1009.6,762.57 1010.2,762.20 1010.8,761.19 1011.4,762.38 1012.0,762.15 1012.6,760.72 1013.2,762.43 1013.8,761.98 1014.4,762.19 1014.5,761.01 1015.0,761.32 1015.6,763.92 1016.2,761.52 1016.8,761.79 1017.4,762.78 1018.0,760.60 1018.6,762.47 1019.2,762.92 1019.8,763.18 1020.4,763.11 1021.0,761.60 1021.6,763.01 1022.2,763.33 1022.8,761.36 1023.4,763.57 1024.0,763.04 1024.6,763.65 1025.2,763.72 1025.8,763.67 1026.4,764.24 1027.0,764.19 1027.6,764.69 1028.2,764.31 1028.8,763.45 1029.4,765.34 1030.0,764.39 1030.6,763.22 1031.2,764.92 1031.5,764.88 1031.8,765.35 1032.4,765.88 1033.0,765.15 1033.6,764.48 1034.2,765.86 1034.8,764.83 1035.4,765.14 1036.0,765.79 1036.6,765.17 1037.2,765.33 1037.8,766.99 1038.4,766.29 1039.0,766.82 1039.6,766.54 1040.2,766.91 1040.8,766.79 1041.4,767.50 1042.0,767.42 1042.6,767.60 1043.2,767.39 1043.8,769.83 1044.4,768.85 1045.0,767.67 1045.6,767.27 1046.2,769.06 1046.8,768.60 1047.4,768.28 1048.0,769.24 1048.6,768.47 1049.2,770.38 1049.8,769.27 1050.4,768.59 1051.0,768.32 1051.6,770.87 1052.2,769.33 1052.8,769.56 1053.4,769.99 1054.0,769.18 1054.6,768.89 1055.2,769.33 1055.8,770.11 1056.4,769.96 1057.0,769.35 1057.6,769.70 1058.2,771.05 1058.8,770.64 1059.4,769.50 1060.0,769.85 1060.6,769.46 1061.2,769.73 1061.8,770.81 1062.4,768.82 1063.0,769.49 1063.6,769.18 1064.2,769.32 1064.8,769.05 1065.4,768.42 1066.0,768.60 1066.6,767.50 1067.2,768.16 1067.8,768.61 1068.4,769.39 1069.0,769.32 1069.6,768.58 1070.2,768.04 1070.8,767.55 1071.4,767.14 1072.0,768.31 1072.6,768.64 1073.2,768.14 1073.8,767.41 1074.0,767.47 1074.4,769.33 1075.0,768.42 1075.6,767.73 1076.2,768.58 1076.8,767.83 1077.4,766.38 1078.0,767.55 1078.6,767.38 1079.2,767.97 1079.8,766.36 1080.4,767.33 1081.0,767.19 1081.6,766.82 1082.2,766.48 1082.8,766.37 1083.4,766.16 1084.0,766.27 1084.6,766.59 1085.0,766.02 1085.2,765.66 1085.8,765.87 1086.4,765.97 1087.0,766.04 1087.6,766.30 1088.2,765.23 1088.8,766.57 1089.4,767.70 1090.0,766.87 1090.6,765.74 1091.2,764.97 1091.8,765.73 1092.4,765.55 1093.0,765.64 1093.6,764.81 1094.2,764.70 1094.8,765.68 1095.4,764.95 1096.0,765.86 1096.6,764.28 1097.0,763.81 1097.2,765.40 1097.8,764.53 1098.4,764.81 1099.0,766.02 1099.6,765.38 1100.2,766.37 1100.8,765.59 1101.4,766.35 1102.0,766.86 1102.6,767.55 1103.2,767.73 1103.8,767.31 1104.4,767.72 1105.0,768.96 1105.6,769.39 1106.2,769.63 1106.8,768.19 1107.4,768.28 1108.0,769.59 1108.6,768.91 1109.2,769.46 1109.8,769.95 1110.4,769.83 1111.0,770.31 1111.6,771.53 1111.9,769.71 1112.2,770.63 1112.8,770.16 1113.4,770.47 1114.0,770.03 1114.6,771.16 1115.2,770.66 1115.8,772.10 1116.4,771.66 1117.0,769.95 1117.6,771.48 1118.2,770.91 1118.8,770.94 1119.4,771.99 1120.0,772.78 1120.6,770.45 1121.2,770.60 1121.8,770.74 1122.4,771.75 1123.0,771.01 1123.6,772.14 1124.2,769.97 1124.8,771.08 1125.4,772.51 1126.0,772.92 1126.6,771.42 1127.2,771.41 1127.8,772.18 1128.4,772.25 1129.0,772.29 1129.6,772.10 1130.2,774.44 1130.8,773.31 1131.4,772.10 1132.0,772.18 1132.6,772.69 1133.2,773.07 1133.8,773.89 1134.4,773.62 1135.0,772.96 1135.6,772.46 1136.2,773.55 1136.8,773.45 1137.4,772.19 1138.0,771.71 1138.6,772.72 1139.2,773.12 1139.8,772.79 1140.4,772.51 1141.0,772.21 1141.6,773.87 1142.2,772.65 1142.8,771.96 1143.4,771.79 1144.0,772.68 1144.6,771.52 1145.2,773.16 1145.8,770.99 1146.4,771.32 1147.0,770.74 1147.6,772.21 1148.2,770.76 1148.8,770.79 1149.4,772.22 1150.0,772.57 1150.6,771.43 1151.2,772.86 1151.8,772.59 1152.4,770.71 1153.0,772.59 1153.6,773.32 1154.2,772.52 1154.8,771.95 1155.4,772.53 1156.0,772.27 1156.6,773.10 1157.2,773.71 1157.8,773.16 1158.4,773.15 1159.0,774.19 1159.6,772.80 1160.2,773.55 1160.8,771.80 1161.4,772.07 1162.0,773.01 1162.6,773.37 1163.2,773.22 1163.8,773.10 1164.4,772.66 1165.0,773.01 1165.6,773.12 1166.2,772.22 1166.8,770.87 1167.4,771.43 1168.0,773.27 1168.6,771.69 1169.2,771.35 1169.8,770.84 1170.4,771.32 1171.0,770.61 1171.6,771.49 1172.2,770.97 1172.8,769.12 1173.4,769.74 1174.0,769.93 1174.6,769.38 1175.2,769.44 1175.8,769.62 1176.4,768.95 1177.0,768.30 1177.6,769.03 1178.2,768.53 1178.8,768.24 1179.4,768.23 1180.0,769.88 1180.6,768.71 1181.2,768.02 1181.8,768.31 1182.1,768.07 1182.4,768.19 1183.0,768.32 1183.6,769.21 1184.2,768.79 1184.8,768.52 1185.4,769.87 1186.0,769.42 1186.6,769.42 1187.2,769.69 1187.8,769.65 1188.4,770.41 1189.0,769.67 1189.6,769.86 1190.2,770.86 1190.8,770.02 1191.4,770.44 1192.0,771.48 1192.6,772.85 1193.2,771.58 1193.8,771.98 1194.4,770.97 1195.0,771.40 1195.6,773.10 1196.2,771.81 1196.8,771.86 1197.4,771.25 1198.0,772.39 1198.6,772.24 1199.1,772.62 1199.2,772.76 1199.8,772.04 1200.4,771.98 1201.0,772.56 1201.6,772.83 1202.2,773.33 1202.8,772.97 1203.4,772.09 1204.0,774.33 1204.6,773.74 1205.2,772.39 1205.8,774.34 1206.4,772.26 1207.0,771.79 1207.6,771.98 1208.2,773.60 1208.8,772.67 1209.4,772.10 1210.0,772.16 1210.6,772.87 1211.2,771.67 1211.8,772.25 1212.4,771.92 1213.0,771.83 1213.6,772.28 1214.2,771.72 1214.8,772.02 1215.4,771.65 1216.0,770.79 1216.6,771.29 1217.2,771.92 1217.8,773.28 1218.4,771.26 1219.0,772.12 1219.6,770.82 1220.2,771.50 1220.8,771.76 1221.4,771.06 1222.0,771.02 1222.6,770.64 1223.2,771.14 1223.8,771.22 1224.4,771.61 1225.0,771.08 1225.6,770.87 1226.2,771.01 1226.8,771.11 1227.4,771.52 1228.0,771.86 1228.6,770.51 1228.9,771.76 1229.2,771.25 1229.8,770.51 1230.4,770.69 1231.0,770.25 1231.6,770.13 1232.2,770.67 1232.8,771.02 1233.4,770.62 1234.0,771.10 1234.6,770.97 1235.2,770.88 1235.5,770.80 1235.8,770.52 1236.4,768.54 1237.0,769.29 1237.6,767.18 1238.2,768.11 1238.3,766.71 1238.8,759.09 1239.1,753.45 1239.4,749.08 1240.0,737.64 1240.5,727.74 1240.6,722.24 1241.2,689.11 1241.2,684.77 1241.8,639.25 1242.2,607.65 1242.4,590.76 1242.6,577.72 1243.0,607.67 1243.6,654.60 1244.0,689.41 1244.2,697.65 1244.7,728.32 1244.8,730.83 1245.4,741.55 1246.0,752.38 1246.1,754.45 1246.6,762.00 1246.9,767.86 1247.2,767.19 1247.8,769.26 1248.4,770.05 1249.0,771.58 1249.6,771.45 1249.7,771.84 1250.2,772.60 1250.8,773.07 1251.4,772.61 1252.0,773.05 1252.6,771.78 1253.2,772.18 1253.8,772.86 1254.4,773.30 1255.0,773.59 1255.6,774.26 1256.2,773.64 1256.8,774.14 1257.4,774.22 1258.0,773.57 1258.6,773.03 1259.2,774.19 1259.8,774.25 1260.4,775.29 1260.8,774.83 1261.0,775.10 1261.6,774.45 1262.2,774.40 1262.8,775.05 1263.4,775.64 1264.0,774.05 1264.6,774.73 1265.2,774.08 1265.8,774.30 1266.4,775.35 1267.0,775.19 1267.6,774.71 1268.2,775.05 1268.8,775.92 1269.4,774.62 1270.0,775.74 1270.6,775.21 1271.2,773.78 1271.8,775.65 1272.4,776.22 1273.0,774.72 1273.6,774.78 1274.2,774.50 1274.8,775.06 1275.4,775.11 1276.0,775.85 1276.6,775.61 1277.2,775.38 1277.8,775.30 1278.4,776.22 1279.0,775.49 1279.6,775.61 1280.2,776.28 1280.8,776.44 1281.4,775.59 1282.0,775.71 1282.6,777.42 1283.2,775.09 1283.8,776.17 1284.4,775.72 1285.0,776.97 1285.6,775.54 1286.2,775.39 1286.8,775.60 1287.4,775.08 1288.0,776.09 1288.6,775.93 1289.2,775.66 1289.8,775.76 1290.4,774.91 1291.0,775.05 1291.6,775.76 1292.2,775.05 1292.7,775.11 1292.8,774.55 1293.4,775.06 1294.0,775.09 1294.6,775.37 1295.2,775.50 1295.8,775.14 1296.4,775.95 1297.0,775.66 1297.6,775.91 1298.2,775.72 1298.8,775.35 1299.4,775.78 1300.0,775.49 1300.6,775.31 1301.2,775.09 1301.8,773.88 1302.4,776.25 1303.0,775.61 1303.6,776.12 1304.2,775.22 1304.8,775.64 1305.4,774.99 1306.0,774.27 1306.6,776.00 1307.2,775.67 1307.8,776.26 1308.4,775.74 1309.0,776.33 1309.6,774.17 1310.2,776.54 1310.8,775.46 1311.4,776.03 1312.0,775.09 1312.6,775.08 1313.2,776.76 1313.8,774.57 1314.4,775.99 1315.0,775.81 1315.6,775.75 1316.2,774.78 1316.8,775.48 1317.4,774.61 1318.0,774.60 1318.6,774.71 1319.2,775.57 1319.8,774.82 1320.4,774.81 1321.0,775.19 1321.6,775.28 1322.2,774.25 1322.8,775.68 1323.4,774.90 1324.0,774.72 1324.6,773.67 1325.2,774.53 1325.8,774.89 1326.4,775.24 1327.0,775.10 1327.6,774.84 1328.2,775.02 1328.8,774.51 1329.4,774.71 1330.0,775.77 1330.6,775.13 1331.2,775.61 1331.8,775.55 1332.4,776.07 1333.0,774.61 1333.6,774.93 1334.2,773.70 1334.8,774.38 1335.4,774.49 1336.0,775.61 1336.6,774.76 1337.2,774.20 1337.8,775.68 1338.4,776.10 1339.0,775.38 1339.6,775.05 1340.2,775.91 1340.8,774.19 1341.4,775.11 1342.0,774.15 1342.6,775.80 1343.2,775.36 1343.8,775.44 1344.4,775.59 1345.0,774.59 1345.6,774.07 1346.2,774.17 1346.8,775.21 1347.4,775.17 1348.0,773.22 1348.6,775.96 1349.2,775.51 1349.8,775.57 1350.4,775.39 1351.0,775.25 1351.6,775.17 1352.2,775.05 1352.8,774.85 1353.4,774.09 1354.0,774.78 1354.6,774.99 1355.2,774.14 1355.8,774.40 1356.4,774.42 1356.5,774.17 1357.0,773.91 1357.6,774.28 1358.2,774.19 1358.8,773.53 1359.4,775.23 1360.0,776.25 1360.6,774.72 1361.2,775.04 1361.8,773.75 1362.4,774.21 1363.0,774.16 1363.6,774.55 1364.2,773.60 1364.8,774.10 1365.4,773.51 1366.0,774.09 1366.6,773.25 1367.2,772.98 1367.8,773.05 1368.4,772.79 1369.0,773.02 1369.6,772.62 1370.2,773.01 1370.8,772.90 1371.4,773.02 1372.0,772.89 1372.6,773.19 1373.2,774.02 1373.8,773.89 1374.4,773.47 1375.0,774.15 1375.6,773.73 1376.2,772.59 1376.8,772.89 1377.4,772.62 1378.0,772.65 1378.6,774.21 1379.2,773.17 1379.8,773.00 1380.4,774.12 1381.0,772.57 1381.6,772.70 1382.2,773.25 1382.8,772.82 1383.4,772.77 1384.0,772.93 1384.6,771.46 1385.2,771.46 1385.8,772.58 1386.4,772.17 1387.0,771.96 1387.6,771.86 1388.2,772.07 1388.4,772.30 1388.8,771.03 1389.4,771.76 1390.0,772.65 1390.6,771.03 1391.2,771.49 1391.8,772.24 1392.4,770.58 1393.0,770.53 1393.6,769.46 1394.2,770.01 1394.8,769.64 1395.4,770.28 1396.0,770.47 1396.6,769.57 1397.2,769.45 1397.8,768.47 1398.4,769.89 1399.0,768.81 1399.6,768.60 1400.2,769.29 1400.8,767.59 1401.4,767.37 1402.0,766.96 1402.6,766.02 1403.2,767.71 1403.8,766.59 1404.4,765.98 1405.0,765.89 1405.4,766.72 1405.6,767.25 1406.2,766.74 1406.8,766.20 1407.4,766.35 1408.0,767.55 1408.6,768.17 1409.2,767.64 1409.8,766.58 1410.4,768.52 1411.0,767.76 1411.6,768.93 1412.2,769.27 1412.8,769.67 1413.4,769.11 1414.0,769.49 1414.6,770.42 1415.2,771.01 1415.8,770.76 1416.4,770.69 1417.0,770.51 1417.6,770.19 1418.2,771.57 1418.8,770.93 1419.4,769.75 1420.0,771.71 1420.6,771.32 1421.2,771.18 1421.8,769.93 1422.4,770.08 1423.0,768.77 1423.5,769.27 1423.6,769.18 1424.2,769.08 1424.8,767.46 1425.4,767.98 1426.0,767.52 1426.6,761.60 1427.2,754.33 1427.8,745.94 1428.0,741.61 1428.4,729.82 1428.8,714.60 1429.0,711.65 1429.5,704.15 1429.6,705.03 1430.2,715.59 1430.2,717.23 1430.8,736.83 1431.0,742.50 1431.4,748.20 1431.8,754.19 1432.0,757.30 1432.6,763.95 1433.0,766.82 1433.2,768.21 1433.8,768.29 1434.4,770.23 1435.0,770.01 1435.5,770.36 1435.6,770.68 1436.2,771.36 1436.8,771.73 1437.4,771.22 1438.0,771.66 1438.6,772.22 1439.2,772.67 1439.8,772.32 1440.4,773.21 1441.0,773.11 1441.5,772.67 1441.6,773.37 1442.2,773.01 1442.8,774.30 1443.4,773.87 1444.0,773.69 1444.6,773.41 1445.2,773.69 1445.8,773.77 1446.4,772.81 1447.0,774.03 1447.6,772.88 1448.2,773.02 1448.8,773.18 1449.4,773.73 1450.0,773.98 1450.6,774.24 1451.2,772.98 1451.8,773.45 1452.4,773.24 1453.0,773.88 1453.6,773.51 1454.2,775.37 1454.8,774.45 1455.4,773.88 1456.0,772.75 1456.6,773.88 1457.2,773.57 1457.8,774.18 1458.4,773.89 1459.0,774.08 1459.6,773.14 1460.2,774.11 1460.8,775.16 1461.4,774.53 1462.0,774.85 1462.6,774.64 1462.8,774.13 1463.2,775.18 1463.8,773.57 1464.4,774.82 1465.0,774.08 1465.6,774.01 1466.2,773.43 1466.8,774.74 1467.4,773.76 1468.0,773.92 1468.6,774.18 1469.2,775.01 1469.8,773.91 1470.4,773.08 1471.0,773.13 1471.6,773.51 1472.2,774.07 1472.8,773.73 1473.4,773.65 1474.0,774.78 1474.6,775.42 1475.2,774.73 1475.8,774.56 1476.4,773.99 1477.0,774.58 1477.6,774.81 1478.2,774.47 1478.8,774.64 1479.4,774.18 1480.0,775.10 1480.6,774.10 1481.2,775.61 1481.8,774.77 1482.4,774.27 1483.0,775.08 1483.6,774.44 1484.2,774.29 1484.8,775.11 1485.4,775.25 1486.0,773.73 1486.6,774.43 1487.2,775.69 1487.8,774.22 1488.4,774.14 1489.0,773.94 1489.6,772.95 1490.2,774.63 1490.8,774.28 1491.4,774.63 1492.0,775.38 1492.6,775.06 1493.2,775.02 1493.8,773.61 1494.4,773.25 1495.0,775.12 1495.6,774.83 1496.2,775.14 1496.8,775.11 1497.4,775.41 1498.0,775.74 1498.6,775.84 1499.2,775.06 1499.8,775.90 1500.4,774.83 1501.0,775.46 1501.6,774.83 1502.2,776.02 1502.8,775.61 1503.4,775.27 1504.0,775.13 1504.6,775.48 1505.2,776.19 1505.8,776.16 1506.4,774.20 1507.0,775.26 1507.6,775.74 1508.2,775.65 1508.8,775.51 1509.4,774.34 1510.0,774.83 1510.6,775.71 1511.2,774.73 1511.8,774.39 1512.4,774.10 1513.0,775.17 1513.6,775.62 1514.2,775.20 1514.8,774.57 1515.4,775.64 1516.0,774.73 1516.6,774.95 1517.2,775.86 1517.8,775.91 1518.4,775.95 1519.0,775.98 1519.6,775.41 1520.2,775.65 1520.8,775.60 1521.4,775.11 1522.0,775.10 1522.6,775.70 1523.2,775.20 1523.8,774.49 1524.4,774.63 1525.0,774.38 1525.6,774.18 1526.2,775.17 1526.8,775.18 1527.4,774.97 1528.0,774.22 1528.6,774.85 1529.2,774.13 1529.8,775.15 1530.3,774.93 1530.4,775.12 1531.0,774.39 1531.6,775.88 1532.2,775.34 1532.8,775.64 1533.4,774.51 1534.0,774.60 1534.6,775.54 1535.2,775.33 1535.8,774.63 1536.4,774.70 1537.0,774.47 1537.6,775.18 1538.2,774.49 1538.8,775.60 1539.4,775.19 1540.0,775.25 1540.6,774.86 1541.2,775.73 1541.8,775.68 1542.4,774.90 1543.0,774.48 1543.6,775.95 1544.2,774.27 1544.8,775.45 1545.4,774.14 1546.0,776.36 1546.6,775.59 1547.2,774.75 1547.8,775.13 1548.4,775.60 1549.0,774.00 1549.6,774.41 1550.2,775.68 1550.8,775.40 1551.4,775.75 1552.0,775.66 1552.6,775.53 1553.2,776.14 1553.8,776.27 1554.4,775.31 1555.0,776.13 1555.6,775.44 1556.2,775.22 1556.8,775.66 1557.4,774.98 1558.0,775.47 1558.6,774.63 1559.2,775.56 1559.8,775.37 1560.4,775.62 1561.0,775.25 1561.6,774.69 1562.2,775.33 1562.8,775.80 1563.4,775.51 1564.0,776.03 1564.6,774.78 1565.2,775.21 1565.8,775.64 1566.4,775.46 1567.0,776.16 1567.6,775.36 1568.2,775.76 1568.8,775.43 1569.4,776.24 1570.0,776.21 1570.6,775.52 1571.2,776.21 1571.8,776.83 1572.4,776.40 1573.0,776.28 1573.6,777.25 1574.2,775.56 1574.8,776.08 1575.4,775.34 1576.0,776.11 1576.6,775.39 1577.2,776.26 1577.8,776.94 1578.4,776.41 1579.0,776.67 1579.6,775.69 1580.2,775.74 1580.8,776.09 1581.4,776.03 1582.0,777.57 1582.6,775.83 1583.2,775.83 1583.8,775.81 1584.4,775.83 1585.0,776.36 1585.6,776.02 1586.2,776.08 1586.8,776.61 1587.4,777.25 1588.0,776.49 1588.6,777.21 1589.2,777.79 1589.8,778.85 1590.4,777.50 1591.0,778.04 1591.6,778.30 1592.2,778.27 1592.8,778.40 1593.4,777.31 1594.0,776.52 1594.6,777.36 1595.2,777.23 1595.8,776.36 1596.4,776.82 1597.0,776.03 1597.6,776.20 1598.2,775.68 1598.8,775.87 1599.4,776.51 1600.0,776.19 1600.6,776.56 1601.2,776.51 1601.8,776.80 1602.4,776.10 1603.0,776.46 1603.6,777.17 1604.2,777.19 1604.8,776.42 1605.4,775.98 1606.0,777.13 1606.6,777.10 1607.2,777.07 1607.8,776.06 1608.4,776.89 1609.0,777.29 1609.6,776.85 1610.2,776.62 1610.8,777.09 1611.4,776.32 1612.0,777.81 1612.6,777.07 1613.2,776.27 1613.8,778.23 1614.4,777.14 1615.0,776.46 1615.3,777.05 1615.6,776.77 1616.2,776.87 1616.8,776.77 1617.4,776.40 1618.0,776.92 1618.6,776.44 1619.2,776.57 1619.8,775.96 1620.4,776.85 1621.0,776.43 1621.6,776.82 1622.2,777.31 1622.8,776.93 1623.4,777.24 1624.0,777.26 1624.6,777.35 1625.2,777.13 1625.8,777.95 1626.4,777.16 1627.0,777.12 1627.6,777.02 1628.2,777.23 1628.8,777.82 1629.4,777.39 1630.0,777.49 1630.6,776.43 1631.2,775.45 1631.8,776.87 1632.4,776.24 1633.0,776.67 1633.6,776.94 1634.2,776.44 1634.8,775.64 1635.4,776.05 1636.0,775.69 1636.6,776.75 1637.2,776.47 1637.8,776.08 1638.4,776.23 1639.0,776.23 1639.6,777.22 1640.2,775.71 1640.8,776.52 1641.4,776.06 1642.0,776.74 1642.6,776.90 1643.2,776.02 1643.8,775.78 1644.4,776.03 1645.0,776.81 1645.6,775.75 1646.2,776.68 1646.8,777.14 1647.4,776.49 1648.0,776.61 1648.6,776.13 1649.2,776.21 1649.8,775.72 1650.4,775.96 1651.0,775.41 1651.6,775.54 1652.2,776.45 1652.8,775.47 1653.4,775.50 1654.0,775.28 1654.6,775.05 1655.2,774.75 1655.8,775.12 1656.4,774.86 1657.0,775.48 1657.6,775.16 1658.2,774.62 1658.8,775.32 1659.4,775.06 1660.0,774.86 1660.6,775.20 1661.2,775.19 1661.8,774.89 1662.4,775.45 1663.0,775.98 1663.6,775.56 1664.2,775.21 1664.8,774.82 1665.4,774.84 1666.0,774.53 1666.6,774.94 1667.2,774.96 1667.8,775.17 1668.4,775.44 1669.0,775.40 1669.6,776.21 1670.2,775.68 1670.8,776.56 1671.4,775.29 1672.0,775.06 1672.6,775.42 1673.2,775.87 1673.8,775.48 1674.4,775.04 1675.0,774.94 1675.6,775.20 1676.2,775.67 1676.8,775.14 1677.4,775.09 1678.0,774.92 1678.6,774.81 1679.2,775.12 1679.8,775.08 1680.4,775.25 1681.0,775.00 1681.6,775.28 1682.2,775.00 1682.8,774.95 1683.4,776.01 1684.0,775.50 1684.6,775.35 1685.2,775.46 1685.8,775.08 1686.4,775.66 1687.0,775.86 1687.6,775.06 1688.2,775.83 1688.8,775.95 1689.4,775.38 1690.0,774.73 1690.6,775.47 1691.2,774.89 1691.8,775.82 1692.4,775.11 1693.0,775.56 1693.6,775.65 1694.2,775.33 1694.8,774.99 1695.4,776.17 1696.0,775.46 1696.6,775.47 1697.2,776.08 1697.8,776.08 1698.4,775.68 1699.0,776.13 1699.6,776.37 1700.2,776.29 1700.8,776.54 1701.4,776.01 1702.0,776.46 1702.6,776.84 1703.2,776.69 1703.8,775.91 1704.4,776.36 1705.0,776.24 1705.6,775.49 1706.2,775.80 1706.8,776.15 1707.4,776.54 1708.0,775.95 1708.6,776.04 1709.2,775.20 1709.8,776.02 1710.4,775.68 1711.0,775.94 1711.6,775.94 1712.2,775.64 1712.8,776.96 1713.4,775.77 1714.0,777.09 1714.6,776.38 1715.2,775.50 1715.8,776.19 1716.4,776.00 1717.0,775.89 1717.6,775.50 1718.2,776.44 1718.8,774.97 1719.4,775.01 1720.0,775.20 1720.6,776.22 1721.2,775.71 1721.8,775.24 1722.4,775.10 1723.0,776.47 1723.6,776.12 1724.2,775.66 1724.8,776.18 1725.4,776.65 1726.0,775.25 1726.6,776.08 1727.2,776.28 1727.8,776.77 1728.4,776.31 1729.0,777.00 1729.6,776.55 1730.2,777.09 1730.8,776.12 1731.4,777.74 1732.0,776.34 1732.6,775.91 1733.2,775.53 1733.8,776.37 1734.4,776.34 1735.0,776.07 1735.6,775.35 1736.2,776.11 1736.8,776.88 1737.4,775.28 1738.0,776.08 1738.6,776.23 1739.2,777.01 1739.8,775.80 1740.4,776.75 1741.0,776.81 1741.6,776.18 1742.2,776.25 1742.8,776.82 1743.4,775.73 1744.0,776.19 1744.6,776.52 1745.2,775.83 1745.8,776.50 1746.4,776.22 1747.0,776.55 1747.6,776.27 1748.2,776.27 1748.8,777.09 1749.4,776.14 1750.0,776.19 1750.6,776.84 1751.2,776.51 1751.8,776.53 1752.4,777.63 1753.0,776.97 1753.6,776.83 1754.2,776.74 1754.8,776.83 1755.4,776.99 1756.0,777.30 1756.6,777.75 1757.2,777.11 1757.8,776.82 1758.4,776.55 1759.0,777.00 1759.6,776.90 1760.2,777.38 1760.8,777.08 1761.4,777.34 1762.0,777.39 1762.6,777.51 1763.2,777.47 1763.8,778.21 1764.4,777.15 1765.0,777.76 1765.6,777.54 1766.2,777.20 1766.8,777.26 1767.4,777.71 1768.0,776.76 1768.6,776.47 1769.2,776.36 1769.8,776.09 1770.4,775.39 1771.0,775.89 1771.6,775.16 1772.2,774.42 1772.8,774.57 1773.4,774.90 1774.0,774.47 1774.6,773.94 1775.2,773.71 1775.8,773.80 1776.4,772.42 1777.0,773.43 1777.6,772.11 1778.2,772.30 1778.8,771.82 1779.4,772.15 1780.0,771.54 1780.6,771.47 1781.0,771.62 1781.2,771.51 1781.8,771.89 1782.4,772.13 1783.0,772.83 1783.6,773.17 1784.2,773.04 1784.8,773.75 1785.4,775.09 1786.0,774.52 1786.6,774.37 1787.2,774.46 1787.8,774.88 1788.4,775.43 1789.0,774.48 1789.6,775.59 1790.2,775.73 1790.8,776.63 1791.4,776.35 1792.0,777.06 1792.6,776.28 1793.2,776.80 1793.8,777.66 1794.0,777.21 1794.4,777.64 1795.0,777.60 1795.6,777.18 1796.2,777.36 1796.8,777.76 1797.4,777.53 1798.0,777.00 1798.6,777.16 1799.2,777.19 1799.8,777.29 1800.4,777.67 1801.0,776.77 1801.6,777.07 1802.2,777.55 1802.8,777.09 1803.4,777.06 1804.0,776.72 1804.6,776.56 1805.2,777.41 1805.8,777.18 1806.4,776.97 1807.0,776.85 1807.6,776.79 1808.2,777.27 1808.8,776.89 1809.4,776.98 1810.0,776.37 1810.6,777.19 1811.2,776.79 1811.8,777.31 1812.4,777.00 1813.0,777.23 1813.6,777.79 1814.2,776.94 1814.8,777.26 1815.4,776.87 1816.0,777.41 1816.6,777.49 1817.2,777.17 1817.8,777.28 1818.4,778.31 1819.0,777.49 1819.6,777.86 1820.2,777.90 1820.8,777.94 1821.4,777.51 1822.0,777.18 1822.6,777.93 1823.2,777.98 1823.8,777.11 1824.4,777.77 1825.0,777.18 1825.6,777.78 1826.2,777.59 1826.8,776.65 1827.4,777.43 1828.0,776.99 1828.6,776.45 1829.2,777.21 1829.8,776.90 1830.4,776.65 1831.0,777.48 1831.6,777.37 1832.2,776.94 1832.8,777.26 1833.4,776.68 1834.0,777.30 1834.6,776.60 1835.2,776.85 1835.8,776.92 1836.4,777.38 1837.0,777.66 1837.6,776.71 1838.2,777.49 1838.8,777.37 1839.4,777.79 1840.0,777.50 1840.6,777.02 1841.2,777.35 1841.8,776.82 1842.4,777.77 1843.0,777.83 1843.6,777.90 1844.2,777.62 1844.8,777.65 1845.4,777.13 1846.0,777.59 1846.6,777.10 1847.2,777.58 1847.8,777.31 1848.4,777.26 1849.0,776.29 1849.6,776.97 1850.2,776.27 1850.8,777.07 1851.4,776.71 1852.0,776.49 1852.6,776.78 1853.2,776.82 1853.8,776.83 1854.4,776.48 1855.0,776.84 1855.6,776.56 1856.2,776.81 1856.8,776.65 1857.4,777.58 1858.0,777.71 1858.6,777.62 1859.2,777.31 1859.8,777.29 1860.4,777.57 1861.0,777.83 1861.6,777.46 1862.2,777.09 1862.8,776.68 1863.4,777.50 1864.0,777.42 1864.6,776.99 1865.2,776.54 1865.8,777.44 1866.4,777.21 1867.0,777.24 1867.6,777.23 1868.2,776.90 1868.8,776.45 1869.4,776.66 1870.0,776.88 1870.6,777.26 1871.2,776.80 1871.8,777.37 1872.4,776.90 1873.0,777.43 1873.6,777.44 1874.2,777.78 1874.8,776.94 1875.4,777.49 1876.0,777.42 1876.6,777.37 1877.2,778.40 1877.8,777.74 1878.4,778.03 1879.0,777.20 1879.6,777.45 1880.2,777.55 1880.8,777.73 1881.4,777.79 1882.0,778.16 1882.6,777.43 1883.2,777.90 1883.8,777.61 1884.4,777.63 1885.0,777.51 1885.6,777.21 1886.2,777.80 1886.8,776.95 1887.4,777.36 1888.0,776.86 1888.6,777.53 1889.2,777.02 1889.8,776.66 1890.4,777.29 1891.0,776.83 1891.6,777.55 1892.2,777.71 1892.8,777.62 1893.4,777.18 1894.0,778.25 1894.6,777.04 1895.2,777.48 1895.8,777.06 1896.4,777.34 1897.0,777.45 1897.6,777.71 1898.2,777.24 1898.8,777.18 1899.4,777.22 1900.0,777.74 1900.6,776.90 1901.2,776.45 1901.8,776.97 1902.4,776.93 1903.0,777.25 1903.6,776.95"/>
<path stroke="#0000ff" d="M271.0,989.06 271.6,988.95 272.2,987.42 272.8,988.05 273.4,987.98 274.0,987.97 274.6,990.45 275.2,987.44 275.8,987.37 276.0,987.15 276.4,988.80 277.0,986.85 277.6,986.99 278.2,987.89 278.8,987.47 279.4,985.12 280.0,988.17 280.6,986.04 281.2,986.55 281.8,985.52 282.4,986.86 283.0,984.10 283.6,983.46 284.2,984.37 284.8,985.22 285.4,983.24 286.0,984.02 286.6,984.50 287.2,980.67 287.6,983.84 287.8,983.37 288.4,980.68 289.0,980.42 289.6,979.12 290.2,979.81 290.8,977.20 291.4,977.77 292.0,977.66 292.6,972.88 293.2,974.38 293.8,972.65 294.4,970.98 295.0,970.88 295.6,968.98 296.2,966.05 296.8,965.15 297.4,963.72 298.0,960.65 298.6,957.67 299.2,959.85 299.8,956.27 300.4,953.71 301.0,949.90 301.6,944.94 302.2,944.69 302.5,944.48 302.8,942.10 303.4,939.52 304.0,938.19 304.6,937.84 305.2,933.23 305.8,930.54 306.4,927.04 307.0,927.18 307.6,923.29 308.2,920.35 308.8,917.57 308.9,916.77 309.4,915.80 310.0,915.68 310.6,911.09 311.2,909.42 311.8,905.68 312.4,904.75 313.0,900.53 313.6,901.77 314.2,897.36 314.8,896.53 315.4,894.12 316.0,893.72 316.6,891.25 317.2,889.77 317.8,885.58 318.4,884.57 319.0,882.92 319.6,881.40 320.2,879.96 320.8,880.50 321.4,877.93 322.0,876.66 322.6,874.31 323.2,873.16 323.8,871.67 324.4,876.16 325.0,877.06 325.6,880.08 326.2,882.04 326.8,883.36 327.4,887.08 328.0,887.39 328.6,893.37 329.0,894.27 329.2,895.41 329.8,898.19 330.4,901.77 331.0,903.84 331.6,907.26 332.2,909.56 332.8,913.20 333.4,916.99 334.0,920.78 334.4,921.36 334.6,921.21 335.2,923.67 335.8,928.54 336.4,931.02 337.0,935.56 337.6,939.76 338.2,939.91 338.8,945.24 339.4,947.96 340.0,948.19 340.6,951.46 340.8,953.66 341.2,953.20 341.8,954.96 342.4,959.01 343.0,959.37 343.6,961.25 344.2,964.68 344.8,965.97 345.4,968.01 346.0,971.25 346.6,972.89 347.2,971.15 347.8,975.39 348.4,975.48 349.0,976.96 349.6,978.61 350.2,980.80 350.8,980.67 351.4,980.64 352.0,982.30 352.6,981.08 353.2,984.48 353.8,985.16 354.4,984.57 355.0,985.33 355.6,986.40 355.7,987.15 356.2,989.21 356.8,988.92 357.4,988.86 358.0,989.83 358.6,992.08 359.2,990.80 359.8,990.70 360.4,994.59 361.0,991.63 361.6,993.59 362.2,994.49 362.8,994.10 363.4,994.12 364.0,996.27 364.6,995.42 365.2,996.44 365.8,996.10 366.3,998.36 366.4,995.53 367.0,995.27 367.6,995.79 368.2,996.68 368.8,996.58 369.4,997.04 370.0,996.22 370.6,997.53 371.2,995.51 371.8,995.76 372.4,996.94 373.0,996.56 373.6,996.55 374.2,996.91 374.8,996.86 375.4,998.08 376.0,998.68 376.6,999.38 377.0,998.24 377.2,997.37 377.8,997.18 378.4,997.43 379.0,997.16 379.6,999.86 380.2,1001.42 380.8,999.73 381.4,1000.45 382.0,998.05 382.6,1000.74 383.2,1000.42 383.8,1001.50 384.4,1000.84 385.0,1001.22 385.6,1001.38 386.2,1001.93 386.8,1005.19 387.4,1004.03 388.0,1002.01 388.6,1003.68 389.2,1003.87 389.8,1006.89 390.4,1002.99 391.0,1006.02 391.6,1006.56 392.2,1008.33 392.8,1008.13 393.4,1006.34 394.0,1005.00 394.6,1005.88 395.2,1006.45 395.8,1007.18 396.4,1006.87 397.0,1006.33 397.6,1008.69 398.2,1008.33 398.8,1007.80 399.4,1007.77 400.0,1007.68 400.6,1007.34 401.2,1011.37 401.8,1008.35 402.4,1008.21 403.0,1010.69 403.6,1008.79 404.2,1009.67 404.8,1008.37 405.4,1009.17 406.0,1007.74 406.6,1010.39 407.2,1012.24 407.8,1010.36 408.4,1010.56 409.0,1011.54 409.6,1011.60 410.2,1009.41 410.8,1009.60 411.4,1010.10 412.0,1011.88 412.6,1009.21 413.2,1009.86 413.8,1010.18 414.4,1010.42 415.0,1010.58 415.6,1009.90 416.2,1011.64 416.8,1009.51 417.4,1012.63 418.0,1010.67 418.6,1011.28 419.2,1009.25 419.5,1011.02 419.8,1009.32 420.4,1009.07 421.0,1011.54 421.6,1010.69 422.2,1009.46 422.8,1008.53 423.4,1011.57 424.0,1010.82 424.6,1011.69 425.2,1011.85 425.8,1012.04 426.4,1008.28 427.0,1007.14 427.6,1011.32 428.2,1008.45 428.8,1011.64 429.4,1010.78 430.0,1010.26 430.6,1010.14 431.2,1008.44 431.8,1010.06 432.4,1009.96 433.0,1010.58 433.6,1012.34 434.2,1009.62 434.8,1010.94 435.4,1012.14 436.0,1009.38 436.6,1009.18 437.2,1009.23 437.8,1008.77 438.4,1008.19 439.0,1010.65 439.6,1011.60 440.2,1010.59 440.8,1009.35 441.4,1009.40 442.0,1010.46 442.6,1009.50 443.2,1010.26 443.8,1009.99 444.4,1011.67 445.0,1011.48 445.6,1011.07 446.2,1009.79 446.8,1010.55 447.4,1012.00 448.0,1013.25 448.6,1010.89 449.2,1014.43 449.8,1011.40 450.4,1011.65 451.0,1012.72 451.6,1011.94 452.2,1012.98 452.8,1013.37 453.4,1013.02 454.0,1013.44 454.6,1014.54 455.2,1015.44 455.8,1016.65 456.4,1014.54 457.0,1012.88 457.6,1014.04 458.2,1012.87 458.8,1014.78 459.4,1014.04 460.0,1015.22 460.6,1014.69 461.2,1015.08 461.8,1014.78 462.0,1016.91 462.4,1013.41 463.0,1016.80 463.6,1017.11 464.2,1016.79 464.8,1016.70 465.4,1017.13 466.0,1016.48 466.6,1016.03 467.2,1018.25 467.8,1018.38 468.4,1018.74 469.0,1017.78 469.6,1019.20 470.2,1018.88 470.8,1020.34 471.4,1018.47 472.0,1016.32 472.6,1017.60 473.2,1019.31 473.8,1017.57 474.4,1019.98 475.0,1018.64 475.6,1019.74 476.2,1020.08 476.8,1019.02 477.4,1020.52 478.0,1021.47 478.6,1019.78 479.2,1020.14 479.8,1019.96 480.4,1021.42 481.0,1021.97 481.6,1020.43 482.2,1020.95 482.8,1022.56 483.4,1022.07 484.0,1024.16 484.6,1022.60 485.2,1022.24 485.4,1021.75 485.8,1022.44 486.4,1021.38 487.0,1023.58 487.6,1025.15 488.2,1021.74 488.8,1021.98 489.4,1022.30 490.0,1023.39 490.6,1022.67 491.2,1024.64 491.8,1024.96 492.4,1023.24 493.0,1023.79 493.2,1023.30 493.6,1022.50 494.2,1019.09 494.8,1010.84 495.0,1009.65 495.4,1003.61 496.0,997.56 496.1,996.69 496.6,1001.31 497.2,1010.44 497.8,1018.55 498.4,1023.54 499.0,1024.37 499.6,1025.52 500.2,1025.27 500.8,1026.29 501.4,1024.77 502.0,1026.64 502.6,1027.21 503.2,1027.50 503.8,1024.68 504.4,1028.21 504.6,1025.27 505.0,1024.70 505.6,1027.33 506.2,1027.02 506.8,1025.99 507.4,1026.96 508.0,1026.69 508.6,1026.27 509.2,1024.72 509.8,1025.42 510.4,1025.72 511.0,1026.92 511.6,1027.27 512.2,1025.48 512.8,1025.00 513.4,1024.80 514.0,1026.56 514.6,1024.91 515.2,1027.76 515.8,1025.65 516.4,1025.47 517.0,1025.87 517.3,1025.01 517.6,1023.83 518.2,1024.41 518.8,1024.25 519.4,1022.83 520.0,1022.67 520.6,1022.43 521.2,1020.15 521.8,1020.88 522.4,1021.17 523.0,1019.75 523.6,1021.03 524.2,1020.65 524.8,1017.34 525.4,1018.53 526.0,1019.07 526.6,1017.76 527.2,1018.09 527.8,1017.67 528.4,1014.94 529.0,1016.25 529.6,1014.57 530.2,1012.63 530.8,1015.06 531.4,1013.31 532.0,1013.58 532.2,1014.24 532.6,1014.72 533.2,1013.75 533.8,1013.47 534.4,1014.22 535.0,1016.51 535.6,1015.62 536.2,1018.38 536.8,1018.77 537.4,1017.13 538.0,1020.29 538.6,1018.48 539.2,1019.56 539.8,1020.22 540.4,1019.79 541.0,1021.49 541.6,1022.54 542.2,1024.75 542.8,1024.28 543.4,1022.81 544.0,1024.18 544.6,1025.50 545.0,1024.55 545.2,1023.96 545.8,1024.92 546.4,1024.11 547.0,1025.54 547.6,1025.09 548.2,1026.96 548.8,1025.65 549.4,1024.76 550.0,1026.86 550.6,1026.01 551.2,1025.49 551.8,1026.85 552.4,1025.90 553.0,1025.09 553.6,1025.74 554.2,1028.14 554.8,1028.59 555.4,1026.74 556.0,1027.62 556.6,1025.59 557.2,1028.33 557.8,1027.48 558.4,1028.41 559.0,1027.75 559.6,1028.25 560.2,1026.87 560.8,1029.21 561.4,1028.47 562.0,1029.52 562.6,1030.99 563.2,1026.95 563.8,1030.57 564.4,1029.97 565.0,1029.97 565.6,1030.57 566.2,1029.28 566.8,1027.84 567.4,1029.11 568.0,1029.34 568.6,1027.35 569.2,1030.23 569.8,1030.20 570.4,1028.54 571.0,1029.79 571.6,1029.83 572.2,1029.84 572.8,1029.85 573.4,1030.98 574.0,1030.22 574.6,1032.10 575.2,1030.33 575.8,1031.44 576.4,1031.56 577.0,1028.66 577.6,1030.48 578.2,1030.71 578.8,1030.86 579.4,1030.76 580.0,1031.54 580.6,1031.18 581.2,1030.04 581.8,1031.46 582.4,1030.06 583.0,1030.63 583.6,1029.72 584.2,1028.99 584.8,1029.27 585.4,1031.94 586.0,1031.34 586.6,1030.04 587.2,1031.51 587.8,1029.95 588.4,1030.20 589.0,1029.36 589.6,1030.79 590.2,1031.77 590.8,1033.66 591.4,1030.92 592.0,1031.48 592.6,1031.57 593.2,1032.02 593.8,1030.38 594.4,1029.85 595.0,1031.73 595.6,1029.51 596.2,1031.14 596.8,1030.01 597.4,1030.45 598.0,1030.80 598.6,1028.53 599.2,1032.35 599.8,1028.84 600.4,1029.06 601.0,1030.71 601.6,1027.11 602.2,1029.32 602.8,1030.43 603.4,1029.85 604.0,1030.11 604.6,1029.91 605.2,1029.98 605.8,1029.90 606.4,1032.19 607.0,1030.87 607.6,1029.18 608.2,1029.85 608.8,1030.91 609.4,1031.27 610.0,1028.46 610.6,1029.50 611.2,1027.04 611.8,1028.53 612.4,1030.57 613.0,1029.35 613.6,1028.13 614.2,1027.16 614.8,1028.07 615.4,1028.07 616.0,1028.23 616.6,1028.69 617.2,1028.14 617.8,1026.29 618.4,1027.44 619.0,1027.74 619.6,1027.11 620.2,1029.61 620.8,1027.23 621.4,1028.84 621.5,1028.76 622.0,1028.61 622.6,1028.38 623.2,1027.50 623.8,1028.38 624.4,1029.03 625.0,1027.02 625.6,1029.22 626.2,1027.10 626.8,1028.47 627.4,1027.14 628.0,1028.86 628.6,1028.67 629.2,1028.59 629.8,1028.91 630.4,1026.50 631.0,1023.57 631.6,1025.08 632.2,1025.35 632.8,1027.38 633.4,1027.35 634.0,1025.36 634.6,1026.95 635.2,1025.72 635.8,1025.57 636.4,1026.25 637.0,1024.60 637.6,1026.66 638.2,1026.38 638.8,1027.44 639.4,1026.56 640.0,1025.94 640.6,1026.63 641.2,1025.27 641.8,1025.44 642.4,1024.02 643.0,1024.42 643.6,1025.00 644.2,1025.96 644.8,1026.49 644.9,1026.54 645.4,1024.65 646.0,1025.11 646.6,1024.40 647.2,1023.81 647.8,1026.36 648.4,1024.18 649.0,1026.31 649.6,1025.17 650.2,1025.58 650.8,1026.85 651.4,1025.03 652.0,1026.42 652.6,1025.01 653.2,1025.83 653.8,1025.80 654.4,1026.14 655.0,1024.90 655.6,1026.02 656.2,1026.83 656.8,1025.97 657.4,1027.50 658.0,1027.67 658.6,1027.34 659.2,1027.21 659.8,1028.01 660.4,1027.26 661.0,1028.50 661.6,1028.25 662.2,1029.49 662.8,1028.18 663.4,1027.35 664.0,1028.70 664.6,1028.12 665.2,1029.97 665.8,1027.74 666.4,1028.17 667.0,1028.68 667.6,1028.80 668.2,1029.32 668.8,1031.68 669.4,1029.34 670.0,1030.93 670.6,1029.22 671.2,1029.38 671.8,1030.01 672.4,1031.75 673.0,1030.61 673.6,1030.84 674.2,1029.97 674.8,1030.38 675.4,1032.68 676.0,1029.29 676.6,1028.35 677.2,1030.06 677.8,1029.20 678.4,1028.82 679.0,1028.08 679.6,1030.46 680.0,1030.07 680.2,1029.79 680.8,1030.88 681.4,1031.07 682.0,1030.20 682.6,1030.88 683.2,1028.65 683.8,1030.30 684.4,1028.88 685.0,1029.65 685.6,1031.03 686.2,1029.48 686.8,1031.25 687.4,1030.54 688.0,1030.06 688.6,1028.13 689.2,1029.26 689.8,1029.59 690.4,1029.98 691.0,1029.09 691.3,1027.73 691.6,1029.92 692.2,1027.51 692.8,1028.16 693.4,1026.85 694.0,1028.68 694.6,1029.31 695.2,1029.33 695.8,1027.36 696.4,1028.69 697.0,1028.35 697.6,1028.49 698.2,1028.68 698.8,1028.03 699.4,1029.09 700.0,1026.19 700.6,1027.42 701.2,1026.96 701.8,1025.31 702.4,1026.40 703.0,1025.83 703.6,1024.92 704.2,1026.20 704.8,1025.47 705.4,1026.48 706.0,1025.22 706.6,1026.88 707.2,1026.03 707.8,1025.99 708.4,1026.66 709.0,1027.67 709.6,1025.71 710.2,1025.86 710.8,1025.56 711.4,1025.72 712.0,1023.53 712.5,1026.47 712.6,1026.49 713.2,1025.91 713.8,1024.29 714.4,1022.43 715.0,1022.68 715.6,1023.48 716.2,1022.71 716.8,1021.44 717.4,1022.08 718.0,1020.82 718.6,1020.76 719.2,1021.90 719.8,1020.60 720.4,1019.85 721.0,1019.88 721.6,1019.70 722.2,1020.44 722.8,1020.47 723.4,1019.99 724.0,1018.52 724.6,1018.17 725.2,1019.92 725.8,1018.04 726.4,1017.10 727.0,1018.06 727.4,1016.06 727.6,1018.31 728.2,1018.20 728.8,1016.97 729.4,1013.23 730.0,1015.95 730.6,1016.00 731.2,1015.31 731.8,1016.97 732.4,1013.55 733.0,1013.29 733.6,1014.26 733.8,1013.12 734.2,1013.05 734.8,1010.39 735.4,1007.97 736.0,1005.59 736.6,1004.37 737.2,1002.09 737.6,1001.94 737.8,1000.61 738.4,995.07 739.0,994.02 739.6,989.71 739.8,988.24 740.2,992.37 740.8,992.76 741.4,995.57 742.0,998.31 742.6,998.16 743.2,1000.80 743.8,1002.34 744.4,1002.94 745.0,1005.01 745.6,1006.46 745.8,1006.36 746.2,1004.18 746.8,1005.55 747.4,1005.99 748.0,1006.88 748.6,1005.84 749.2,1005.31 749.8,1003.54 750.4,1004.81 751.0,1006.04 751.6,1003.46 752.2,1002.62 752.8,1002.63 753.4,1002.58 754.0,1001.11 754.6,1001.08 755.2,999.51 755.5,999.93 755.8,999.31 756.4,996.94 757.0,994.31 757.6,994.44 758.2,990.52 758.8,988.71 759.4,984.25 759.8,983.84 760.0,982.94 760.6,982.97 761.2,979.77 761.8,976.57 762.4,973.04 763.0,968.12 763.1,967.64 763.6,961.76 764.2,956.30 764.8,953.15 764.9,952.45 765.4,946.50 766.0,940.35 766.6,930.87 767.2,922.12 767.3,920.04 767.8,901.86 768.2,887.18 768.4,877.67 769.0,847.62 769.6,829.53 770.2,809.53 770.8,792.65 771.3,780.87 771.4,784.94 772.0,797.69 772.6,813.45 773.2,835.28 773.6,848.31 773.8,858.11 774.4,888.62 775.0,908.37 775.3,920.22 775.6,944.82 775.7,952.35 776.2,958.86 776.8,964.38 777.2,966.68 777.4,970.02 778.0,972.07 778.6,973.75 778.8,978.18 779.2,980.75 779.8,985.35 780.4,986.86 781.0,989.26 781.6,991.40 782.2,995.05 782.8,997.49 783.4,999.70 783.8,1001.27 784.0,1000.56 784.6,1003.28 785.2,1005.59 785.8,1006.88 786.4,1010.43 787.0,1008.83 787.6,1012.88 788.2,1013.90 788.8,1015.73 789.4,1017.15 790.0,1017.49 790.6,1018.29 791.2,1018.58 791.8,1017.95 792.4,1020.21 793.0,1020.61 793.6,1019.45 794.2,1021.28 794.8,1021.16 795.4,1021.83 796.0,1021.76 796.6,1021.25 797.2,1022.58 797.8,1020.92 798.4,1024.08 799.0,1022.28 799.6,1022.65 800.2,1024.23 800.8,1023.97 801.4,1025.14 801.5,1026.26 802.0,1025.52 802.6,1025.11 803.2,1024.67 803.8,1025.78 804.4,1025.22 805.0,1026.57 805.6,1024.09 806.2,1026.15 806.8,1026.51 807.4,1026.33 808.0,1027.95 808.6,1028.24 809.2,1025.98 809.8,1029.01 810.4,1027.70 811.0,1028.42 811.6,1028.75 812.2,1027.95 812.8,1028.31 813.4,1028.72 814.0,1027.59 814.6,1028.29 815.2,1028.87 815.8,1027.94 816.4,1027.83 817.0,1027.62 817.6,1027.53 818.2,1027.77 818.8,1026.84 819.4,1027.94 820.0,1027.39 820.6,1028.25 821.2,1029.44 821.8,1028.73 822.4,1027.53 823.0,1028.33 823.6,1027.82 824.2,1027.05 824.8,1028.12 825.4,1028.49 826.0,1027.90 826.6,1027.23 827.2,1026.21 827.8,1026.67 828.4,1027.38 829.0,1027.05 829.5,1027.49 829.6,1026.42 830.2,1024.59 830.8,1027.61 831.4,1027.39 832.0,1027.97 832.6,1027.77 833.2,1027.13 833.8,1025.75 834.4,1024.71 835.0,1025.18 835.6,1024.83 836.2,1024.24 836.8,1024.98 837.4,1026.13 838.0,1024.68 838.6,1025.25 839.2,1025.71 839.8,1024.32 840.4,1024.74 841.0,1024.41 841.6,1023.63 842.2,1025.39 842.8,1025.58 843.4,1025.57 844.0,1024.87 844.6,1024.06 845.2,1025.90 845.8,1023.07 846.4,1024.85 847.0,1024.32 847.6,1023.45 848.2,1025.39 848.6,1025.84 848.8,1024.26 849.4,1024.33 850.0,1025.01 850.6,1024.79 851.2,1026.84 851.8,1024.33 852.4,1024.56 852.9,1025.58 853.0,1024.50 853.6,1023.15 854.2,1021.65 854.8,1020.15 855.4,1019.35 856.0,1015.58 856.6,1015.31 856.7,1013.46 857.2,1010.97 857.8,1009.30 858.4,1005.89 858.9,1004.28 859.0,1004.65 859.6,1006.13 860.2,1009.25 860.8,1013.68 861.1,1014.22 861.4,1015.89 862.0,1019.57 862.6,1019.07 863.2,1021.27 863.8,1024.73 864.4,1026.49 864.9,1026.63 865.0,1027.07 865.6,1026.63 866.2,1026.63 866.7,1027.31 866.8,1027.92 867.4,1026.30 868.0,1026.36 868.6,1028.15 869.2,1027.67 869.8,1028.95 870.4,1028.57 871.0,1028.33 871.6,1028.76 872.2,1031.44 872.8,1028.95 873.4,1028.58 874.0,1027.98 874.6,1030.04 875.2,1030.99 875.8,1030.06 876.4,1030.23 877.0,1030.23 877.6,1030.75 878.2,1030.47 878.8,1031.17 879.4,1031.29 880.0,1031.27 880.6,1032.71 881.2,1030.92 881.8,1031.21 882.4,1030.86 882.7,1031.41 883.0,1031.65 883.6,1032.95 884.2,1031.33 884.8,1031.32 885.4,1031.57 886.0,1030.72 886.6,1031.34 887.2,1029.77 887.8,1031.96 888.4,1031.98 889.0,1032.06 889.6,1032.81 890.2,1032.09 890.8,1032.59 891.4,1032.22 892.0,1031.81 892.6,1032.01 893.2,1032.28 893.8,1032.18 894.4,1030.45 895.0,1030.61 895.6,1030.88 896.2,1030.34 896.8,1030.80 897.4,1030.61 898.0,1030.39 898.6,1031.26 899.2,1032.32 899.7,1032.53 899.8,1032.76 900.4,1032.65 901.0,1029.58 901.6,1033.14 902.2,1032.02 902.8,1030.65 903.4,1031.25 904.0,1031.56 904.6,1031.31 904.7,1032.83 905.2,1029.21 905.8,1027.07 906.4,1022.24 907.0,1014.54 907.6,1010.73 907.7,1011.01 908.2,1005.55 908.8,998.57 909.4,992.55 909.9,988.53 910.0,989.02 910.6,995.05 911.2,1000.95 911.8,1006.79 912.1,1008.92 912.4,1013.04 913.0,1017.52 913.6,1020.33 914.2,1026.96 914.8,1029.53 915.1,1032.09 915.4,1031.85 916.0,1032.92 916.6,1031.05 917.2,1033.29 917.8,1032.07 918.4,1033.56 919.0,1032.19 919.6,1031.81 920.2,1030.93 920.8,1033.05 921.4,1032.62 922.0,1031.65 922.6,1031.17 923.2,1031.10 923.8,1031.25 924.4,1031.66 925.0,1030.84 925.6,1031.12 926.2,1031.85 926.8,1031.25 927.4,1031.19 928.0,1032.51 928.6,1032.92 929.2,1032.21 929.8,1032.21 930.4,1032.22 931.0,1032.00 931.6,1032.19 932.2,1032.46 932.8,1031.34 933.4,1031.01 934.0,1031.49 934.6,1031.49 935.2,1032.56 935.8,1032.88 936.4,1032.18 937.0,1031.18 937.6,1030.98 938.2,1030.48 938.8,1031.69 939.4,1032.10 940.0,1030.82 940.6,1030.83 941.2,1031.04 941.8,1030.68 942.4,1030.94 943.0,1029.99 943.6,1029.84 944.2,1029.70 944.8,1030.63 945.4,1029.35 946.0,1029.87 946.6,1028.67 947.2,1029.35 947.8,1028.38 948.4,1027.27 948.6,1026.85 949.0,1028.66 949.6,1026.99 950.2,1027.33 950.8,1025.98 951.4,1027.00 952.0,1025.87 952.6,1027.48 953.2,1025.29 953.8,1026.07 954.4,1027.22 955.0,1026.08 955.6,1025.29 956.2,1023.55 956.8,1025.32 957.4,1025.42 958.0,1023.65 958.6,1023.85 959.2,1023.29 959.8,1022.93 960.4,1023.55 961.0,1023.79 961.4,1023.67 961.6,1024.38 962.2,1024.16 962.8,1024.10 963.4,1025.23 964.0,1023.72 964.6,1024.68 965.2,1025.32 965.8,1025.99 966.4,1024.76 967.0,1026.90 967.6,1025.25 968.2,1026.09 968.8,1028.00 969.4,1025.79 970.0,1027.48 970.6,1029.22 971.2,1029.04 971.8,1028.75 972.4,1028.80 973.0,1029.54 973.6,1028.10 974.2,1030.86 974.8,1029.58 975.4,1029.66 976.0,1031.29 976.2,1031.11 976.6,1030.92 977.2,1031.18 977.8,1031.06 978.4,1030.05 979.0,1029.81 979.6,1032.20 980.2,1032.13 980.8,1031.71 981.4,1033.05 982.0,1031.49 982.5,1031.47 982.6,1032.36 983.2,1029.65 983.8,1027.85 984.4,1026.54 985.0,1023.93 985.6,1022.50 986.0,1021.62 986.2,1019.32 986.8,1016.36 987.4,1013.24 988.0,1009.61 988.6,1013.18 989.2,1018.04 989.8,1020.66 990.0,1022.94 990.4,1025.98 991.0,1026.25 991.6,1027.56 992.2,1030.21 992.8,1032.39 993.4,1035.21 993.5,1034.91 994.0,1034.25 994.6,1032.91 995.2,1034.35 995.4,1036.13 995.8,1033.33 996.4,1034.57 997.0,1034.69 997.6,1034.91 998.2,1034.80 998.8,1035.03 999.4,1035.22 1000.0,1034.54 1000.6,1034.51 1001.2,1033.75 1001.8,1033.70 1002.4,1033.01 1003.0,1034.40 1003.6,1031.36 1004.2,1034.09 1004.8,1031.98 1005.4,1033.52 1006.0,1032.79 1006.6,1035.40 1007.2,1033.42 1007.8,1032.78 1008.4,1034.17 1009.0,1033.67 1009.6,1032.38 1010.2,1032.92 1010.8,1033.99 1011.4,1030.96 1012.0,1031.57 1012.4,1032.40 1012.6,1033.76 1013.2,1031.42 1013.8,1032.21 1014.4,1032.10 1015.0,1033.28 1015.6,1032.80 1016.2,1032.47 1016.8,1031.77 1017.4,1031.15 1018.0,1033.16 1018.6,1034.10 1019.2,1032.68 1019.8,1032.39 1020.4,1034.18 1021.0,1032.18 1021.6,1031.81 1022.2,1034.21 1022.8,1034.26 1023.4,1034.92 1024.0,1033.62 1024.6,1034.22 1025.2,1034.12 1025.8,1034.90 1026.4,1034.57 1027.0,1034.76 1027.6,1034.95 1028.2,1034.88 1028.8,1034.30 1029.4,1035.53 1030.0,1035.50 1030.6,1035.51 1031.2,1034.70 1031.5,1035.24 1031.8,1035.51 1032.4,1033.88 1033.0,1036.22 1033.6,1035.34 1034.2,1034.69 1034.8,1036.93 1035.4,1035.35 1036.0,1036.18 1036.6,1035.97 1037.2,1035.06 1037.8,1035.80 1038.4,1038.12 1039.0,1037.80 1039.6,1036.05 1040.2,1037.43 1040.8,1036.78 1041.4,1037.90 1042.0,1036.20 1042.6,1036.54 1043.2,1037.61 1043.8,1037.47 1044.4,1038.40 1045.0,1038.61 1045.6,1038.38 1046.2,1037.95 1046.8,1038.62 1047.4,1038.37 1048.0,1037.63 1048.6,1039.75 1049.2,1038.01 1049.8,1038.46 1050.4,1039.67 1051.0,1040.24 1051.6,1039.80 1052.2,1038.95 1052.8,1041.10 1053.4,1038.55 1054.0,1040.42 1054.6,1038.26 1055.2,1039.09 1055.8,1039.23 1056.4,1038.94 1057.0,1038.37 1057.6,1038.94 1058.2,1038.75 1058.8,1037.70 1059.4,1039.52 1060.0,1038.54 1060.6,1038.63 1061.2,1037.73 1061.8,1038.84 1062.4,1039.51 1063.0,1038.89 1063.6,1038.73 1064.2,1039.02 1064.8,1038.31 1065.4,1038.92 1066.0,1037.99 1066.6,1039.23 1067.2,1039.15 1067.8,1038.88 1068.4,1038.89 1069.0,1038.75 1069.6,1037.88 1070.2,1038.04 1070.8,1038.88 1071.4,1038.24 1072.0,1038.29 1072.6,1038.27 1073.2,1039.33 1073.8,1039.15 1074.4,1039.52 1075.0,1040.17 1075.6,1039.30 1076.2,1038.70 1076.8,1039.32 1077.4,1039.72 1078.0,1040.12 1078.6,1039.25 1079.2,1039.80 1079.8,1038.72 1080.4,1038.88 1081.0,1038.55 1081.6,1039.76 1082.2,1038.65 1082.8,1039.27 1083.4,1039.53 1084.0,1038.62 1084.6,1038.34 1085.0,1040.05 1085.2,1039.70 1085.8,1039.84 1086.4,1039.18 1087.0,1039.83 1087.6,1039.12 1088.2,1037.76 1088.8,1038.95 1089.4,1038.63 1090.0,1037.56 1090.6,1037.72 1091.2,1038.32 1091.8,1036.45 1092.4,1037.72 1093.0,1036.37 1093.6,1037.72 1094.2,1037.54 1094.8,1035.82 1095.4,1035.76 1096.0,1035.91 1096.6,1035.85 1097.2,1035.17 1097.8,1036.13 1098.4,1035.27 1099.0,1033.98 1099.6,1034.85 1100.2,1033.87 1100.8,1034.15 1101.4,1034.67 1102.0,1033.09 1102.6,1033.72 1103.2,1033.28 1103.4,1033.59 1103.8,1034.77 1104.4,1035.00 1105.0,1032.88 1105.6,1035.61 1106.2,1035.55 1106.8,1034.34 1107.4,1035.67 1108.0,1034.92 1108.6,1035.78 1109.2,1034.29 1109.8,1036.71 1110.4,1034.92 1111.0,1035.20 1111.6,1036.90 1112.2,1037.78 1112.8,1037.23 1113.4,1038.23 1114.0,1038.86 1114.6,1038.47 1115.2,1039.67 1115.8,1039.76 1116.4,1038.85 1117.0,1038.75 1117.6,1039.33 1118.2,1039.93 1118.8,1041.46 1119.4,1041.88 1120.0,1039.64 1120.6,1042.53 1121.2,1039.67 1121.8,1040.29 1122.4,1040.78 1122.5,1042.76 1123.0,1040.94 1123.6,1042.09 1124.2,1041.75 1124.8,1041.17 1125.4,1041.61 1126.0,1040.79 1126.6,1041.34 1127.2,1040.87 1127.8,1043.31 1128.4,1039.87 1129.0,1041.18 1129.6,1040.36 1130.2,1041.92 1130.8,1041.45 1131.4,1040.56 1132.0,1041.10 1132.6,1039.47 1133.2,1039.80 1133.8,1040.78 1134.4,1038.98 1135.0,1040.32 1135.6,1040.28 1136.2,1040.08 1136.8,1039.65 1137.4,1039.58 1138.0,1038.43 1138.6,1039.51 1139.2,1037.91 1139.8,1038.38 1140.4,1039.49 1141.0,1039.92 1141.3,1038.54 1141.6,1040.14 1142.2,1039.38 1142.8,1038.75 1143.4,1039.99 1144.0,1040.16 1144.6,1039.66 1145.2,1039.95 1145.8,1041.56 1146.4,1039.66 1147.0,1039.40 1147.6,1040.14 1148.2,1040.84 1148.8,1040.62 1149.4,1041.48 1150.0,1041.15 1150.6,1041.28 1151.2,1040.52 1151.8,1042.18 1152.4,1040.42 1153.0,1042.59 1153.6,1040.75 1154.2,1041.13 1154.8,1041.72 1155.4,1043.30 1156.0,1041.66 1156.6,1043.03 1157.2,1042.27 1157.8,1041.65 1158.4,1043.00 1159.0,1042.27 1159.6,1042.12 1160.2,1043.26 1160.8,1042.89 1161.4,1042.75 1162.0,1042.52 1162.6,1044.09 1163.2,1041.45 1163.8,1042.07 1164.4,1041.85 1165.0,1041.95 1165.6,1041.20 1166.2,1042.19 1166.8,1042.60 1167.4,1042.38 1168.0,1041.87 1168.6,1041.46 1169.2,1042.33 1169.8,1041.55 1170.4,1042.10 1171.0,1041.72 1171.6,1042.60 1172.2,1041.10 1172.8,1041.75 1173.4,1040.80 1174.0,1041.25 1174.6,1040.97 1175.2,1041.00 1175.8,1039.49 1176.4,1040.10 1177.0,1039.27 1177.6,1040.20 1178.2,1039.46 1178.8,1039.53 1179.4,1038.62 1180.0,1039.49 1180.6,1039.95 1181.2,1039.58 1181.8,1039.90 1182.4,1040.35 1183.0,1039.90 1183.6,1040.21 1184.2,1038.36 1184.8,1038.61 1185.4,1038.22 1186.0,1039.18 1186.3,1039.74 1186.6,1039.70 1187.2,1039.41 1187.8,1038.69 1188.4,1039.21 1189.0,1037.97 1189.6,1039.02 1190.2,1039.84 1190.8,1039.62 1191.4,1040.09 1192.0,1040.93 1192.6,1040.11 1193.2,1040.25 1193.8,1040.12 1194.4,1042.21 1195.0,1040.88 1195.6,1040.99 1196.2,1041.93 1196.8,1041.71 1197.4,1041.08 1198.0,1040.90 1198.6,1041.83 1199.2,1042.09 1199.8,1042.52 1200.4,1042.05 1201.0,1041.26 1201.6,1040.82 1202.2,1041.47 1202.8,1042.35 1203.4,1042.26 1204.0,1041.85 1204.6,1041.61 1205.2,1041.91 1205.8,1042.45 1206.4,1042.07 1207.0,1040.78 1207.6,1041.35 1208.2,1042.34 1208.8,1041.01 1209.4,1041.79 1210.0,1040.69 1210.6,1039.96 1211.2,1041.81 1211.8,1040.64 1212.4,1041.30 1213.0,1040.22 1213.6,1040.55 1214.2,1041.56 1214.8,1040.82 1215.4,1040.33 1216.0,1040.49 1216.6,1039.47 1217.2,1040.79 1217.8,1041.21 1218.4,1041.78 1219.0,1039.42 1219.6,1039.51 1220.2,1039.34 1220.4,1039.22 1220.8,1038.34 1221.4,1038.38 1222.0,1038.62 1222.6,1037.17 1223.2,1038.38 1223.8,1035.33 1224.4,1035.73 1225.0,1035.96 1225.6,1035.34 1226.2,1034.52 1226.8,1035.66 1227.4,1035.26 1228.0,1034.30 1228.6,1033.40 1229.2,1032.06 1229.8,1031.20 1230.4,1032.14 1231.0,1031.85 1231.6,1030.00 1232.2,1027.85 1232.8,1025.83 1233.4,1023.81 1234.0,1022.72 1234.6,1018.50 1235.2,1016.86 1235.8,1015.10 1236.3,1013.42 1236.4,1012.64 1237.0,1009.75 1237.6,1005.62 1238.2,1001.27 1238.8,996.74 1239.4,992.20 1240.0,989.17 1240.6,986.36 1241.2,982.87 1241.8,977.79 1242.1,977.81 1242.4,978.28 1243.0,981.48 1243.6,983.61 1244.2,989.50 1244.8,991.01 1245.4,995.23 1246.0,1000.69 1246.6,1004.90 1247.2,1007.34 1247.8,1009.93 1248.0,1012.95 1248.4,1014.23 1249.0,1016.53 1249.6,1019.17 1250.2,1021.11 1250.8,1024.46 1251.4,1026.34 1252.0,1029.55 1252.6,1031.00 1253.2,1034.00 1253.3,1033.72 1253.8,1034.29 1254.4,1034.35 1255.0,1035.75 1255.6,1035.75 1256.2,1035.77 1256.8,1035.46 1257.4,1037.17 1258.0,1037.39 1258.6,1038.96 1259.2,1039.05 1259.8,1038.74 1260.4,1038.08 1261.0,1040.25 1261.6,1041.52 1262.2,1040.86 1262.8,1040.82 1262.9,1041.44 1263.4,1040.70 1264.0,1041.78 1264.6,1040.58 1265.2,1040.25 1265.8,1041.07 1266.4,1042.25 1267.0,1041.36 1267.6,1040.78 1268.2,1042.27 1268.8,1041.92 1269.4,1042.83 1270.0,1044.12 1270.6,1043.30 1271.2,1043.46 1271.8,1043.08 1272.4,1042.19 1273.0,1042.48 1273.6,1042.38 1274.2,1043.35 1274.8,1042.96 1275.4,1042.91 1276.0,1043.20 1276.6,1042.67 1277.2,1043.60 1277.8,1042.42 1278.4,1045.12 1279.0,1044.21 1279.6,1044.10 1280.2,1044.26 1280.8,1044.49 1281.4,1044.73 1282.0,1043.80 1282.6,1044.31 1283.2,1044.78 1283.8,1044.25 1284.4,1044.39 1285.0,1044.09 1285.6,1045.10 1286.2,1044.55 1286.8,1043.67 1287.4,1043.00 1288.0,1044.07 1288.6,1045.04 1289.2,1043.51 1289.8,1044.34 1290.4,1044.42 1291.0,1045.09 1291.6,1044.73 1292.2,1044.95 1292.8,1044.41 1293.4,1044.10 1294.0,1044.36 1294.6,1044.39 1295.2,1044.17 1295.8,1044.57 1296.4,1043.92 1297.0,1045.46 1297.6,1044.40 1298.2,1044.01 1298.8,1044.72 1299.4,1043.84 1300.0,1043.84 1300.6,1044.10 1301.2,1044.15 1301.8,1044.12 1302.4,1043.61 1303.0,1045.17 1303.6,1042.65 1304.2,1043.56 1304.8,1044.52 1305.4,1043.61 1306.0,1043.37 1306.6,1042.82 1307.2,1044.21 1307.8,1042.99 1308.4,1043.40 1309.0,1043.42 1309.6,1042.36 1310.2,1043.30 1310.8,1043.25 1311.4,1043.50 1312.0,1042.20 1312.6,1043.13 1313.2,1042.82 1313.8,1042.77 1314.4,1044.76 1315.0,1043.80 1315.6,1043.48 1316.2,1043.17 1316.8,1042.75 1317.4,1043.48 1318.0,1042.74 1318.6,1043.38 1319.2,1044.22 1319.8,1043.65 1320.4,1044.48 1321.0,1042.89 1321.6,1043.56 1322.2,1044.86 1322.8,1042.76 1323.4,1043.37 1324.0,1044.58 1324.6,1043.25 1325.2,1043.13 1325.8,1043.43 1326.4,1042.70 1327.0,1043.70 1327.6,1042.01 1328.2,1044.89 1328.8,1043.74 1329.4,1042.50 1330.0,1043.71 1330.6,1043.51 1331.2,1043.68 1331.8,1044.95 1332.4,1043.80 1333.0,1043.65 1333.6,1044.02 1334.2,1043.26 1334.8,1043.39 1335.4,1044.24 1336.0,1045.08 1336.6,1043.72 1337.2,1044.40 1337.8,1045.10 1338.4,1043.52 1339.0,1043.06 1339.6,1043.92 1340.2,1042.59 1340.8,1042.88 1341.4,1042.72 1342.0,1042.86 1342.6,1043.47 1343.2,1041.58 1343.8,1042.37 1344.4,1043.76 1345.0,1043.73 1345.6,1044.66 1346.2,1043.27 1346.8,1044.87 1347.4,1044.79 1348.0,1044.51 1348.6,1044.97 1349.2,1044.23 1349.8,1044.34 1350.4,1044.50 1351.0,1043.52 1351.6,1044.53 1352.2,1043.57 1352.8,1045.60 1353.4,1044.77 1354.0,1046.77 1354.6,1044.66 1355.2,1043.18 1355.8,1044.65 1356.4,1043.59 1356.5,1044.60 1357.0,1045.09 1357.6,1042.56 1358.2,1044.09 1358.8,1043.39 1359.4,1043.72 1360.0,1044.79 1360.6,1044.41 1361.2,1044.25 1361.8,1043.42 1362.4,1043.60 1363.0,1043.94 1363.6,1044.50 1364.2,1044.29 1364.8,1043.17 1365.4,1043.35 1366.0,1044.27 1366.6,1045.06 1367.2,1044.14 1367.8,1043.65 1368.4,1044.35 1369.0,1043.84 1369.6,1044.41 1370.2,1045.21 1370.8,1043.59 1371.4,1044.50 1372.0,1044.85 1372.6,1044.91 1373.2,1044.88 1373.8,1044.98 1374.4,1044.76 1375.0,1045.22 1375.6,1043.92 1376.2,1044.33 1376.8,1044.50 1377.4,1044.60 1378.0,1044.62 1378.6,1044.48 1379.2,1042.56 1379.8,1043.77 1380.4,1044.17 1381.0,1043.15 1381.6,1042.70 1382.2,1044.03 1382.8,1042.44 1383.4,1042.96 1384.0,1043.29 1384.6,1042.97 1385.2,1042.70 1385.8,1042.55 1386.4,1043.84 1387.0,1043.05 1387.6,1042.83 1388.2,1042.44 1388.4,1042.40 1388.8,1043.05 1389.4,1043.17 1390.0,1041.40 1390.6,1041.86 1391.2,1042.38 1391.8,1042.51 1392.4,1042.83 1393.0,1041.94 1393.6,1041.05 1394.2,1040.90 1394.8,1040.01 1395.4,1040.39 1396.0,1040.26 1396.6,1039.05 1397.2,1039.57 1397.8,1039.53 1398.4,1039.35 1399.0,1039.42 1399.6,1039.42 1400.2,1037.35 1400.8,1038.04 1401.1,1038.90 1401.4,1038.22 1402.0,1037.39 1402.6,1037.03 1403.2,1036.68 1403.8,1036.94 1404.4,1037.41 1405.0,1037.35 1405.6,1034.85 1406.2,1035.40 1406.8,1034.77 1407.4,1034.20 1408.0,1035.09 1408.6,1033.56 1409.2,1033.82 1409.8,1033.31 1410.4,1032.58 1411.0,1033.82 1411.6,1032.34 1412.2,1032.80 1412.8,1031.39 1413.4,1030.92 1413.9,1031.51 1414.0,1030.86 1414.6,1032.34 1415.2,1032.27 1415.8,1032.74 1416.4,1032.54 1417.0,1033.57 1417.6,1033.70 1418.2,1034.37 1418.8,1033.91 1419.4,1035.12 1420.0,1034.16 1420.6,1035.82 1421.2,1036.18 1421.3,1035.53 1421.8,1035.62 1422.4,1035.39 1423.0,1034.56 1423.6,1033.67 1424.2,1032.37 1424.8,1033.35 1425.4,1031.34 1426.0,1030.59 1426.6,1030.98 1427.2,1029.80 1427.8,1028.33 1428.4,1028.22 1429.0,1028.26 1429.6,1028.16 1429.8,1027.27 1430.2,1027.37 1430.8,1028.09 1431.4,1027.74 1432.0,1029.40 1432.6,1029.70 1433.2,1031.48 1433.8,1030.66 1434.4,1032.10 1435.0,1032.70 1435.6,1034.11 1436.2,1036.12 1436.8,1035.21 1437.4,1035.91 1438.0,1036.89 1438.6,1037.77 1439.2,1037.47 1439.4,1038.95 1439.8,1038.14 1440.4,1038.06 1441.0,1038.15 1441.6,1038.49 1442.2,1039.09 1442.8,1040.28 1443.4,1040.29 1444.0,1040.94 1444.6,1040.77 1445.2,1040.73 1445.8,1040.44 1446.4,1041.10 1447.0,1042.05 1447.6,1042.60 1448.2,1041.38 1448.8,1042.25 1449.4,1042.61 1450.0,1041.42 1450.6,1043.42 1451.2,1043.61 1451.8,1043.91 1452.2,1045.19 1452.4,1042.85 1453.0,1042.81 1453.6,1042.96 1454.2,1044.06 1454.8,1043.55 1455.4,1044.02 1456.0,1042.81 1456.6,1042.88 1457.2,1043.94 1457.8,1043.96 1458.4,1043.09 1459.0,1043.54 1459.6,1043.04 1460.2,1043.31 1460.8,1042.78 1461.4,1044.69 1462.0,1044.09 1462.6,1044.16 1463.2,1044.00 1463.8,1044.40 1464.4,1044.30 1465.0,1043.07 1465.6,1043.09 1466.2,1043.95 1466.8,1043.99 1467.4,1044.72 1468.0,1044.25 1468.6,1044.72 1469.2,1044.22 1469.8,1044.11 1470.4,1043.39 1471.0,1043.69 1471.6,1043.73 1472.2,1044.40 1472.8,1044.28 1473.4,1043.83 1474.0,1044.71 1474.6,1044.83 1475.2,1044.01 1475.8,1044.67 1476.4,1045.31 1477.0,1045.67 1477.6,1044.54 1478.2,1045.31 1478.8,1045.51 1479.4,1043.77 1480.0,1044.44 1480.6,1045.58 1481.2,1045.48 1481.8,1045.16 1482.4,1045.09 1483.0,1045.05 1483.6,1044.32 1484.0,1044.96 1484.2,1046.19 1484.8,1045.33 1485.4,1045.87 1486.0,1044.58 1486.6,1045.25 1487.2,1045.35 1487.8,1045.48 1488.4,1045.19 1489.0,1045.08 1489.6,1045.87 1490.2,1044.83 1490.8,1046.51 1491.4,1045.73 1492.0,1045.36 1492.6,1045.85 1493.2,1045.64 1493.8,1045.87 1494.4,1045.09 1495.0,1046.02 1495.6,1046.01 1496.2,1046.60 1496.8,1045.99 1497.4,1045.40 1498.0,1046.42 1498.6,1046.62 1499.2,1044.53 1499.8,1046.06 1500.4,1046.39 1501.0,1045.28 1501.6,1046.35 1502.0,1045.98 1502.2,1046.87 1502.8,1045.45 1503.4,1046.42 1504.0,1046.70 1504.6,1045.63 1505.2,1045.00 1505.8,1045.73 1506.4,1045.96 1507.0,1046.16 1507.6,1045.20 1508.2,1046.01 1508.8,1046.14 1509.4,1046.77 1510.0,1047.47 1510.6,1046.33 1511.2,1046.44 1511.8,1046.43 1512.4,1045.73 1513.0,1047.48 1513.6,1046.17 1514.2,1046.72 1514.8,1047.75 1515.4,1045.81 1516.0,1046.60 1516.6,1045.12 1517.2,1046.50 1517.8,1046.78 1518.4,1046.38 1519.0,1046.20 1519.6,1048.16 1520.2,1046.94 1520.8,1046.51 1521.4,1046.02 1522.0,1045.93 1522.6,1046.00 1523.2,1046.15 1523.8,1046.19 1524.4,1046.40 1525.0,1045.91 1525.6,1046.73 1526.2,1046.94 1526.8,1047.57 1527.4,1045.82 1528.0,1045.68 1528.6,1046.47 1529.2,1046.72 1529.8,1047.17 1530.4,1046.13 1531.0,1047.51 1531.6,1046.60 1532.2,1046.64 1532.8,1046.42 1533.4,1047.27 1534.0,1046.67 1534.6,1046.80 1535.2,1046.49 1535.8,1045.80 1536.4,1046.57 1537.0,1046.37 1537.6,1046.08 1538.2,1046.89 1538.8,1046.37 1539.4,1047.34 1540.0,1047.22 1540.6,1047.80 1541.2,1046.55 1541.8,1047.31 1542.4,1046.29 1543.0,1048.26 1543.6,1047.14 1544.2,1047.79 1544.8,1047.64 1545.4,1047.88 1546.0,1046.55 1546.6,1046.74 1547.2,1046.13 1547.8,1046.84 1548.4,1046.82 1549.0,1046.93 1549.6,1046.95 1550.2,1046.14 1550.8,1047.35 1551.4,1047.28 1552.0,1048.00 1552.6,1046.91 1553.2,1047.21 1553.8,1047.49 1554.4,1047.91 1555.0,1046.37 1555.6,1047.76 1556.2,1046.70 1556.8,1048.24 1557.4,1047.73 1558.0,1048.02 1558.6,1047.54 1559.2,1046.92 1559.8,1048.13 1560.4,1049.00 1561.0,1048.68 1561.6,1046.93 1562.2,1047.88 1562.8,1047.62 1563.4,1047.94 1564.0,1047.65 1564.6,1048.39 1565.2,1047.92 1565.8,1047.96 1566.4,1047.88 1567.0,1047.64 1567.6,1047.32 1568.2,1047.48 1568.8,1047.93 1569.4,1048.03 1570.0,1047.18 1570.6,1047.59 1571.2,1047.03 1571.8,1047.10 1572.4,1047.44 1573.0,1046.98 1573.6,1046.35 1574.2,1046.86 1574.8,1046.56 1575.4,1045.59 1576.0,1047.18 1576.6,1046.81 1577.2,1046.32 1577.8,1046.59 1578.4,1047.45 1579.0,1046.98 1579.6,1046.44 1580.2,1046.82 1580.8,1048.14 1581.4,1047.54 1582.0,1046.70 1582.6,1047.02 1583.2,1047.01 1583.8,1047.47 1584.4,1047.16 1585.0,1047.92 1585.6,1048.05 1586.2,1047.34 1586.8,1048.22 1587.4,1047.18 1588.0,1048.02 1588.6,1048.05 1589.2,1048.44 1589.8,1047.34 1590.4,1047.89 1591.0,1048.23 1591.6,1047.94 1592.2,1049.39 1592.8,1048.02 1593.4,1047.84 1594.0,1049.30 1594.6,1048.30 1595.2,1048.34 1595.8,1048.85 1596.4,1047.94 1597.0,1048.11 1597.6,1048.21 1598.2,1048.72 1598.8,1048.62 1599.4,1047.71 1600.0,1047.92 1600.6,1047.63 1601.2,1048.21 1601.8,1047.27 1602.4,1048.04 1603.0,1047.91 1603.6,1048.36 1604.2,1048.28 1604.8,1048.05 1605.4,1047.46 1606.0,1046.72 1606.6,1048.16 1607.2,1047.95 1607.8,1047.31 1608.4,1047.13 1609.0,1047.67 1609.6,1047.44 1610.2,1047.13 1610.8,1047.19 1611.4,1046.76 1612.0,1047.03 1612.6,1047.38 1613.2,1046.90 1613.8,1046.80 1614.4,1046.85 1615.0,1047.29 1615.3,1047.47 1615.6,1047.66 1616.2,1047.40 1616.8,1047.55 1617.4,1048.21 1618.0,1048.00 1618.6,1047.33 1619.2,1046.64 1619.8,1046.77 1620.4,1046.83 1621.0,1046.42 1621.6,1046.04 1622.2,1047.31 1622.8,1046.75 1623.4,1046.76 1624.0,1046.68 1624.6,1047.00 1625.2,1046.77 1625.8,1047.32 1626.4,1046.08 1627.0,1046.46 1627.6,1047.49 1628.2,1047.12 1628.8,1047.54 1629.4,1046.45 1630.0,1047.68 1630.6,1047.02 1631.2,1047.58 1631.8,1046.82 1632.4,1047.06 1633.0,1046.09 1633.6,1046.59 1634.2,1046.80 1634.8,1046.50 1635.4,1046.83 1636.0,1047.04 1636.6,1047.27 1637.2,1046.52 1637.8,1047.24 1638.4,1047.07 1639.0,1046.96 1639.6,1046.97 1640.2,1046.37 1640.8,1047.07 1641.4,1045.88 1642.0,1046.09 1642.6,1046.74 1643.2,1046.67 1643.8,1045.55 1644.4,1046.74 1645.0,1046.07 1645.6,1046.83 1646.2,1045.76 1646.8,1045.91 1647.4,1045.83 1648.0,1045.79 1648.6,1046.49 1649.2,1046.36 1649.8,1045.67 1650.4,1045.69 1651.0,1046.01 1651.6,1045.60 1652.2,1045.58 1652.8,1045.61 1653.4,1045.50 1654.0,1044.15 1654.6,1044.52 1655.2,1046.10 1655.8,1045.79 1656.4,1045.61 1657.0,1046.07 1657.6,1044.73 1658.2,1045.70 1658.8,1046.36 1659.4,1045.99 1660.0,1046.39 1660.6,1045.47 1661.2,1045.55 1661.8,1046.27 1662.4,1045.49 1663.0,1046.37 1663.6,1046.33 1664.2,1044.77 1664.8,1045.17 1665.4,1045.40 1666.0,1045.47 1666.6,1043.85 1667.2,1044.69 1667.8,1045.30 1668.4,1044.76 1669.0,1044.02 1669.6,1045.21 1670.2,1044.66 1670.8,1044.40 1671.4,1044.04 1672.0,1044.66 1672.6,1044.31 1673.2,1044.99 1673.8,1044.39 1674.4,1044.98 1675.0,1045.81 1675.6,1045.02 1676.2,1045.86 1676.8,1045.54 1677.4,1045.07 1678.0,1045.96 1678.6,1044.91 1679.2,1045.44 1679.8,1044.92 1680.4,1046.02 1681.0,1045.62 1681.6,1045.21 1682.2,1046.04 1682.8,1044.74 1683.4,1045.28 1684.0,1044.89 1684.6,1045.09 1685.2,1044.79 1685.8,1045.12 1686.4,1044.23 1687.0,1044.78 1687.6,1044.62 1688.2,1044.35 1688.8,1044.87 1689.4,1045.07 1690.0,1044.50 1690.6,1045.26 1691.2,1044.45 1691.8,1045.12 1692.4,1045.35 1693.0,1045.66 1693.6,1045.25 1694.2,1045.21 1694.8,1045.12 1695.4,1045.18 1696.0,1045.30 1696.6,1046.05 1697.2,1044.55 1697.8,1045.88 1698.4,1045.48 1699.0,1045.46 1699.6,1045.28 1700.2,1045.59 1700.8,1045.18 1701.4,1045.76 1702.0,1045.92 1702.6,1045.66 1703.2,1045.95 1703.8,1046.08 1704.4,1045.84 1705.0,1046.69 1705.6,1046.19 1706.2,1045.46 1706.8,1046.54 1707.4,1045.65 1708.0,1045.28 1708.6,1045.58 1709.2,1045.95 1709.8,1046.26 1710.4,1046.27 1711.0,1045.91 1711.6,1046.70 1712.2,1046.77 1712.8,1046.79 1713.4,1046.96 1714.0,1047.04 1714.6,1047.37 1715.2,1047.56 1715.8,1047.23 1716.4,1047.24 1717.0,1046.72 1717.6,1047.36 1718.2,1047.45 1718.8,1047.43 1719.4,1046.54 1720.0,1047.65 1720.6,1046.63 1721.2,1046.75 1721.8,1047.85 1722.4,1046.28 1723.0,1047.02 1723.6,1047.00 1724.2,1047.67 1724.8,1047.93 1725.4,1046.62 1726.0,1046.88 1726.6,1047.14 1727.2,1046.84 1727.8,1047.70 1728.4,1047.54 1729.0,1046.28 1729.6,1046.61 1730.2,1047.34 1730.8,1046.95 1731.4,1046.66 1732.0,1045.81 1732.6,1046.74 1733.2,1046.04 1733.8,1046.55 1734.4,1046.97 1735.0,1047.33 1735.6,1046.69 1736.2,1047.01 1736.8,1047.40 1737.4,1047.37 1738.0,1047.97 1738.6,1047.25 1739.2,1047.57 1739.8,1047.17 1740.4,1047.47 1741.0,1047.62 1741.6,1047.93 1742.2,1047.93 1742.8,1048.55 1743.4,1047.90 1744.0,1048.02 1744.6,1047.79 1745.2,1047.03 1745.8,1046.33 1746.4,1047.67 1747.0,1047.43 1747.6,1047.11 1748.2,1047.08 1748.8,1046.36 1749.4,1048.16 1750.0,1045.96 1750.6,1047.22 1751.2,1046.77 1751.8,1046.63 1752.4,1047.22 1753.0,1047.21 1753.6,1047.45 1754.2,1047.67 1754.8,1046.89 1755.4,1046.90 1756.0,1047.71 1756.6,1047.09 1757.2,1047.41 1757.8,1047.83 1758.4,1047.61 1759.0,1046.58 1759.6,1047.65 1760.2,1047.51 1760.8,1047.20 1761.4,1046.96 1762.0,1046.95 1762.6,1047.29 1763.2,1047.02 1763.8,1046.75 1764.4,1046.89 1765.0,1048.11 1765.6,1046.76 1766.0,1047.42 1766.2,1047.79 1766.8,1047.81 1767.4,1047.23 1768.0,1046.41 1768.6,1047.02 1769.2,1047.24 1769.8,1045.39 1770.4,1046.17 1771.0,1045.86 1771.6,1045.91 1772.2,1045.11 1772.8,1044.49 1773.4,1044.69 1774.0,1043.58 1774.6,1043.57 1775.2,1043.11 1775.8,1043.53 1776.4,1043.22 1777.0,1043.05 1777.6,1041.92 1778.2,1042.23 1778.8,1043.06 1779.0,1041.55 1779.4,1042.63 1780.0,1042.53 1780.6,1042.62 1781.2,1041.60 1781.8,1043.15 1782.4,1043.18 1783.0,1043.83 1783.6,1043.08 1784.2,1043.81 1784.8,1044.44 1785.4,1044.71 1786.0,1045.17 1786.6,1045.20 1787.2,1044.85 1787.8,1044.99 1788.4,1045.87 1789.0,1045.87 1789.6,1046.36 1790.2,1046.16 1790.8,1046.03 1791.4,1046.49 1792.0,1046.54 1792.6,1046.49 1793.2,1046.05 1793.8,1045.90 1794.4,1046.55 1795.0,1046.43 1795.6,1046.60 1796.2,1046.48 1796.8,1046.40 1797.4,1045.72 1798.0,1047.24 1798.6,1047.53 1799.2,1046.71 1799.8,1046.52 1800.4,1046.97 1801.0,1046.85 1801.6,1047.63 1802.2,1046.75 1802.8,1047.43 1803.4,1046.83 1804.0,1046.59 1804.6,1047.09 1805.2,1048.24 1805.8,1047.58 1806.4,1047.22 1807.0,1046.89 1807.6,1046.79 1808.2,1046.88 1808.8,1047.78 1809.4,1047.20 1810.0,1046.16 1810.6,1046.83 1811.2,1047.13 1811.8,1046.57 1812.4,1046.83 1813.0,1047.54 1813.6,1046.79 1814.2,1047.03 1814.8,1047.14 1815.4,1047.55 1816.0,1047.35 1816.6,1047.81 1817.2,1046.70 1817.8,1047.12 1818.4,1047.08 1819.0,1047.38 1819.6,1046.14 1820.2,1046.79 1820.8,1047.05 1821.4,1046.81 1822.0,1045.68 1822.6,1046.39 1823.2,1047.00 1823.8,1047.25 1824.4,1046.34 1825.0,1046.81 1825.6,1046.25 1826.2,1046.41 1826.8,1046.10 1827.4,1046.17 1828.0,1047.22 1828.6,1046.65 1829.2,1046.41 1829.8,1047.01 1830.4,1046.53 1831.0,1047.02 1831.6,1046.77 1832.2,1046.97 1832.8,1046.50 1833.4,1047.06 1834.0,1047.17 1834.6,1047.47 1835.2,1047.60 1835.8,1046.96 1836.4,1047.52 1837.0,1046.82 1837.6,1046.96 1838.2,1047.20 1838.8,1046.68 1839.4,1046.75 1840.0,1046.69 1840.6,1046.69 1841.2,1046.27 1841.8,1046.89 1842.4,1046.03 1843.0,1045.97 1843.6,1047.02 1844.2,1046.53 1844.8,1046.35 1845.4,1045.71 1846.0,1047.13 1846.6,1046.10 1847.2,1046.39 1847.8,1047.28 1848.4,1047.48 1849.0,1046.30 1849.6,1046.69 1850.2,1047.02 1850.8,1045.94 1851.4,1046.90 1852.0,1045.58 1852.6,1046.26 1853.2,1046.26 1853.8,1046.46 1854.4,1046.90 1855.0,1046.04 1855.6,1046.04 1856.2,1046.98 1856.8,1047.51 1857.4,1046.53 1858.0,1046.16 1858.6,1046.81 1859.2,1047.71 1859.8,1046.29 1860.4,1047.12 1861.0,1047.39 1861.6,1046.62 1862.2,1047.18 1862.8,1046.92 1863.4,1046.54 1864.0,1046.93 1864.6,1047.70 1865.2,1047.33 1865.8,1047.70 1866.4,1047.50 1867.0,1046.97 1867.6,1047.42 1868.2,1047.12 1868.8,1047.16 1869.4,1047.19 1870.0,1047.55 1870.6,1047.47 1871.2,1047.41 1871.8,1048.16 1872.4,1047.32 1873.0,1047.87 1873.6,1047.77 1874.2,1047.81 1874.8,1047.71 1875.4,1048.40 1876.0,1047.36 1876.6,1047.28 1877.2,1047.70 1877.8,1047.14 1878.4,1048.28 1879.0,1047.71 1879.6,1048.12 1880.2,1047.91 1880.8,1048.38 1881.4,1047.30 1882.0,1047.41 1882.6,1047.86 1883.2,1047.62 1883.8,1047.52 1884.4,1047.19 1885.0,1047.35 1885.6,1047.87 1886.2,1047.27 1886.8,1047.34 1887.4,1047.48 1888.0,1048.38 1888.6,1047.66 1889.2,1047.90 1889.8,1047.51 1890.4,1047.81 1891.0,1047.96 1891.6,1047.07 1892.2,1046.71 1892.8,1046.96 1893.4,1047.34 1894.0,1046.86 1894.6,1047.53 1895.2,1047.29 1895.8,1047.62 1896.4,1047.75 1897.0,1047.11 1897.6,1047.95 1898.2,1048.19 1898.8,1048.08 1899.4,1047.50 1900.0,1047.51 1900.6,1047.77 1901.2,1047.71 1901.8,1047.56 1902.4,1047.94 1903.0,1047.84 1903.6,1047.36"/>
<path stroke="#c85000" d="M271.0,1132.32 271.6,1133.82 272.2,1134.66 272.8,1132.18 273.4,1131.95 274.0,1133.53 274.6,1132.36 275.2,1133.32 275.8,1134.32 276.0,1133.15 276.4,1133.73 277.0,1129.51 277.6,1133.38 278.2,1131.73 278.8,1130.57 279.4,1131.25 280.0,1129.72 280.6,1129.44 281.2,1128.11 281.8,1129.49 282.4,1128.35 283.0,1128.75 283.6,1130.41 284.2,1129.26 284.8,1127.39 285.4,1129.19 286.0,1129.55 286.6,1128.10 287.2,1127.76 287.6,1127.38 287.8,1126.08 288.4,1127.88 289.0,1126.53 289.6,1125.18 290.2,1124.52 290.8,1123.68 291.4,1124.91 292.0,1122.05 292.6,1119.63 293.2,1121.07 293.8,1121.21 294.4,1120.16 295.0,1118.10 295.6,1115.79 296.2,1119.35 296.8,1113.71 297.4,1112.88 298.0,1110.24 298.6,1107.25 299.2,1105.03 299.8,1101.69 300.4,1099.37 301.0,1097.28 301.6,1095.21 302.2,1095.80 302.5,1090.55 302.8,1092.01 303.4,1088.64 304.0,1086.00 304.6,1082.72 305.2,1082.28 305.8,1079.08 306.4,1078.62 307.0,1076.67 307.6,1072.77 308.2,1073.48 308.8,1069.84 308.9,1069.66 309.4,1068.26 310.0,1065.46 310.6,1065.13 311.2,1063.86 311.8,1060.24 312.4,1059.24 313.0,1058.53 313.6,1055.28 314.2,1052.36 314.8,1052.18 315.4,1049.03 316.0,1046.72 316.4,1043.91 316.6,1045.06 317.2,1041.84 317.8,1041.04 318.4,1036.13 319.0,1035.12 319.6,1036.19 320.2,1034.55 320.8,1031.03 321.4,1029.14 322.0,1024.39 322.6,1026.15 323.2,1023.42 323.8,1020.46 324.4,1023.49 325.0,1025.38 325.6,1029.63 326.2,1031.47 326.8,1036.62 327.4,1038.23 328.0,1039.32 328.6,1042.65 329.2,1043.32 329.8,1048.49 330.2,1048.85 330.4,1050.49 331.0,1053.83 331.6,1056.70 332.2,1059.41 332.8,1064.03 333.4,1067.33 334.0,1066.71 334.6,1072.17 335.2,1075.83 335.8,1078.48 336.4,1082.39 336.6,1084.17 337.0,1085.02 337.6,1087.21 338.2,1091.16 338.8,1092.94 339.4,1095.39 340.0,1099.99 340.6,1101.32 341.2,1101.30 341.8,1106.39 342.4,1106.27 342.9,1109.23 343.0,1107.07 343.6,1112.10 344.2,1110.58 344.8,1114.80 345.4,1118.42 346.0,1118.33 346.6,1119.30 347.2,1119.69 347.8,1122.08 348.4,1125.00 349.0,1122.72 349.3,1124.90 349.6,1128.12 350.2,1127.08 350.8,1129.86 351.4,1130.18 352.0,1129.24 352.6,1130.92 353.2,1133.52 353.8,1132.25 354.4,1133.33 355.0,1134.72 355.6,1134.14 356.2,1135.13 356.8,1136.71 357.4,1136.52 357.8,1137.12 358.0,1137.91 358.6,1139.55 359.2,1137.64 359.8,1137.31 360.4,1141.73 361.0,1139.74 361.6,1136.70 362.2,1138.66 362.8,1137.60 363.4,1140.67 364.0,1138.70 364.6,1139.77 365.2,1142.54 365.8,1140.13 366.4,1141.19 367.0,1141.92 367.6,1143.01 368.2,1143.38 368.8,1144.23 369.4,1142.06 370.0,1143.66 370.6,1141.45 371.2,1143.76 371.8,1143.83 372.4,1146.38 372.7,1144.84 373.0,1144.13 373.6,1144.29 374.2,1143.82 374.8,1144.45 375.4,1144.39 376.0,1145.37 376.6,1144.94 377.2,1145.87 377.8,1147.28 378.4,1144.99 379.0,1145.60 379.6,1145.16 380.2,1149.13 380.8,1148.82 381.4,1147.58 382.0,1147.17 382.6,1146.14 383.2,1148.53 383.8,1147.62 384.4,1148.16 385.0,1147.95 385.6,1144.70 386.2,1146.24 386.8,1147.71 387.4,1149.06 388.0,1147.45 388.6,1148.97 389.2,1148.54 389.8,1147.87 390.4,1150.09 391.0,1148.31 391.6,1148.42 391.9,1152.00 392.2,1151.94 392.8,1150.80 393.4,1152.07 394.0,1150.19 394.6,1150.84 395.2,1151.73 395.8,1151.86 396.4,1152.19 397.0,1150.13 397.6,1152.82 398.2,1150.54 398.8,1151.81 399.4,1154.95 400.0,1153.21 400.6,1151.59 401.2,1152.65 401.8,1151.51 402.4,1151.67 403.0,1151.59 403.6,1152.22 404.2,1152.71 404.8,1153.55 405.4,1155.42 406.0,1153.62 406.6,1153.56 407.2,1152.14 407.8,1155.10 408.4,1154.01 409.0,1155.85 409.6,1154.34 410.2,1156.29 410.8,1153.84 411.4,1154.13 412.0,1154.35 412.6,1154.30 413.1,1154.97 413.2,1154.79 413.8,1152.33 414.4,1153.28 415.0,1153.67 415.6,1155.26 416.2,1154.28 416.8,1155.47 417.4,1155.47 418.0,1155.03 418.6,1152.59 419.2,1157.07 419.8,1155.50 420.4,1154.43 421.0,1155.45 421.6,1154.57 422.2,1155.21 422.8,1154.25 423.4,1157.57 424.0,1154.97 424.6,1155.82 425.2,1154.67 425.8,1156.41 426.4,1157.17 427.0,1155.88 427.6,1154.79 428.2,1155.98 428.8,1155.51 429.4,1156.62 430.0,1155.97 430.6,1156.02 431.2,1155.41 431.8,1155.32 432.4,1155.61 433.0,1157.00 433.6,1155.57 434.2,1156.26 434.4,1155.10 434.8,1155.23 435.4,1154.22 436.0,1155.27 436.6,1154.67 437.2,1152.87 437.8,1154.21 438.4,1153.49 439.0,1154.76 439.6,1154.58 440.2,1156.39 440.8,1155.11 441.4,1154.29 442.0,1154.40 442.6,1154.34 443.2,1154.19 443.8,1155.14 444.4,1153.90 445.0,1154.70 445.6,1155.42 446.2,1153.71 446.8,1154.23 447.4,1156.06 448.0,1154.85 448.6,1153.99 449.2,1155.11 449.8,1154.28 450.4,1153.76 451.0,1155.66 451.4,1153.82 451.6,1154.19 452.2,1154.91 452.8,1156.11 453.4,1156.03 454.0,1154.76 454.6,1155.48 455.2,1155.17 455.8,1156.49 456.4,1156.00 457.0,1155.01 457.6,1156.73 458.2,1154.56 458.8,1155.74 459.4,1154.31 460.0,1157.58 460.6,1156.69 461.2,1157.80 461.8,1160.35 462.4,1158.11 463.0,1158.39 463.6,1157.88 464.2,1159.02 464.8,1158.56 465.4,1159.89 466.0,1160.09 466.6,1160.08 467.2,1159.78 467.8,1160.03 468.4,1160.30 469.0,1160.32 469.6,1161.13 470.2,1159.91 470.8,1160.44 471.4,1161.19 472.0,1162.66 472.6,1161.32 472.7,1160.78 473.2,1160.84 473.8,1162.84 474.4,1160.81 475.0,1161.06 475.6,1161.71 476.2,1161.26 476.8,1161.94 477.4,1162.92 478.0,1162.50 478.6,1160.99 479.2,1163.61 479.8,1164.26 480.4,1163.07 481.0,1165.74 481.6,1164.23 482.2,1164.50 482.8,1162.97 483.4,1166.99 484.0,1166.76 484.6,1166.07 485.2,1166.60 485.4,1164.06 485.8,1164.15 486.4,1165.11 487.0,1164.68 487.6,1163.47 488.2,1164.85 488.8,1165.57 489.4,1164.50 490.0,1166.34 490.6,1165.25 491.2,1164.51 491.8,1164.17 492.1,1163.92 492.4,1164.92 493.0,1159.55 493.6,1158.09 493.9,1156.32 494.2,1151.70 494.8,1148.11 495.0,1146.27 495.4,1151.08 496.0,1155.47 496.1,1155.66 496.6,1159.38 497.2,1163.65 497.8,1164.18 497.9,1164.61 498.4,1166.34 499.0,1167.66 499.6,1164.29 500.2,1167.37 500.8,1166.38 501.4,1166.81 502.0,1166.67 502.4,1165.65 502.6,1165.46 503.2,1168.37 503.8,1164.71 504.4,1166.12 505.0,1167.52 505.6,1165.84 506.2,1166.71 506.8,1166.02 507.4,1165.20 508.0,1166.62 508.6,1166.14 509.2,1165.59 509.8,1167.02 510.4,1166.04 511.0,1166.67 511.6,1165.92 512.2,1167.93 512.8,1167.33 513.1,1166.63 513.4,1165.99 514.0,1165.65 514.6,1165.40 515.2,1164.39 515.8,1166.55 516.4,1163.87 517.0,1165.38 517.6,1165.09 518.2,1163.63 518.8,1163.46 519.4,1161.93 520.0,1162.73 520.6,1161.99 521.2,1163.14 521.8,1161.21 522.4,1160.89 523.0,1161.79 523.6,1158.94 524.2,1159.61 524.8,1161.08 525.4,1159.33 526.0,1159.96 526.6,1155.75 527.2,1157.71 527.8,1157.92 528.4,1156.40 529.0,1158.48 529.6,1155.90 530.2,1156.57 530.8,1157.28 531.2,1156.93 531.4,1156.62 532.0,1156.15 532.6,1157.47 533.2,1156.77 533.8,1159.24 534.4,1157.81 535.0,1157.39 535.6,1159.75 536.2,1160.73 536.8,1159.68 537.4,1159.05 538.0,1158.36 538.6,1159.61 539.2,1161.48 539.8,1161.58 540.4,1159.58 541.0,1162.02 541.6,1160.50 542.2,1163.24 542.8,1164.71 543.4,1163.18 544.0,1164.88 544.6,1163.70 545.0,1164.28 545.2,1165.38 545.8,1165.66 546.4,1164.41 547.0,1166.24 547.6,1165.05 548.2,1162.06 548.8,1165.83 549.4,1166.02 550.0,1162.64 550.6,1165.56 551.2,1166.69 551.8,1166.31 552.4,1165.54 553.0,1165.56 553.6,1166.67 554.2,1166.49 554.8,1167.59 555.4,1167.31 556.0,1168.63 556.6,1166.58 557.2,1167.62 557.8,1167.58 558.4,1167.05 559.0,1167.74 559.6,1165.36 560.2,1166.57 560.8,1168.81 561.4,1167.56 562.0,1167.08 562.6,1168.12 563.2,1166.98 563.8,1166.07 564.4,1167.40 565.0,1168.11 565.6,1166.94 566.2,1168.89 566.8,1167.63 567.4,1167.43 568.0,1166.99 568.6,1169.74 569.2,1170.15 569.8,1166.82 570.4,1168.07 571.0,1167.48 571.6,1169.45 572.2,1168.27 572.8,1169.30 573.4,1168.25 574.0,1167.42 574.6,1169.87 575.2,1168.49 575.8,1168.15 576.4,1167.48 577.0,1168.63 577.6,1169.48 578.2,1168.01 578.8,1170.49 579.4,1169.85 580.0,1168.32 580.6,1168.70 581.2,1167.70 581.8,1168.58 582.4,1166.92 583.0,1167.01 583.6,1170.39 584.2,1168.34 584.8,1168.99 585.4,1167.45 586.0,1168.69 586.6,1168.13 587.2,1166.18 587.8,1167.91 588.4,1168.11 589.0,1167.91 589.6,1169.01 590.2,1168.44 590.8,1166.41 591.4,1167.02 592.0,1167.52 592.6,1167.73 593.2,1167.66 593.8,1166.33 594.4,1167.89 595.0,1167.39 595.6,1165.60 596.2,1165.56 596.8,1166.37 597.4,1167.11 598.0,1166.76 598.6,1167.24 599.2,1167.00 599.8,1167.95 600.3,1169.05 600.4,1168.99 601.0,1166.85 601.6,1169.20 602.2,1169.60 602.8,1167.37 603.4,1169.66 604.0,1167.87 604.6,1166.62 605.2,1169.12 605.8,1167.50 606.4,1167.18 607.0,1169.50 607.6,1169.09 608.2,1167.40 608.8,1167.03 609.4,1167.65 610.0,1167.83 610.6,1168.43 611.2,1165.08 611.8,1167.74 612.4,1167.47 613.0,1166.72 613.6,1166.99 614.2,1167.22 614.8,1164.79 615.4,1164.72 616.0,1165.62 616.6,1165.33 617.2,1165.34 617.8,1165.68 618.4,1167.33 619.0,1164.99 619.6,1165.73 620.2,1166.45 620.8,1165.41 621.4,1165.44 622.0,1166.21 622.6,1166.33 623.2,1165.12 623.8,1166.28 624.4,1166.01 625.0,1165.75 625.6,1166.21 626.2,1163.79 626.8,1165.73 627.4,1164.34 628.0,1164.60 628.6,1164.28 629.2,1163.46 629.8,1164.69 630.4,1166.02 631.0,1164.19 631.6,1165.04 632.2,1162.99 632.8,1163.03 633.4,1163.66 634.0,1163.16 634.6,1163.05 635.2,1164.48 635.8,1164.37 636.4,1164.81 637.0,1164.24 637.6,1164.06 638.2,1163.96 638.8,1165.45 639.4,1164.51 640.0,1165.78 640.6,1165.71 641.2,1166.86 641.8,1164.54 642.4,1166.21 643.0,1163.87 643.6,1166.15 644.2,1165.55 644.8,1166.07 645.4,1163.14 646.0,1166.36 646.6,1164.77 647.2,1164.81 647.8,1163.74 648.4,1164.62 649.0,1166.67 649.6,1167.29 650.2,1166.37 650.8,1165.41 651.4,1166.69 652.0,1164.73 652.6,1165.89 653.2,1165.47 653.8,1167.05 654.4,1164.49 655.0,1165.46 655.6,1166.13 656.2,1166.31 656.8,1164.53 657.4,1165.29 658.0,1163.91 658.6,1166.78 659.2,1165.68 659.8,1165.87 660.4,1165.78 661.0,1167.85 661.6,1166.42 662.2,1165.67 662.8,1167.45 663.4,1167.05 664.0,1166.41 664.6,1165.59 665.2,1166.46 665.8,1166.93 666.4,1166.35 667.0,1166.46 667.6,1167.49 668.2,1165.95 668.8,1167.45 669.4,1166.50 670.0,1165.77 670.6,1167.70 671.2,1167.67 671.8,1166.31 672.4,1166.37 673.0,1168.18 673.6,1167.35 674.2,1165.65 674.8,1166.60 675.4,1167.79 676.0,1167.05 676.6,1168.48 677.2,1167.34 677.8,1168.27 678.4,1167.87 679.0,1168.19 679.6,1168.03 680.0,1167.97 680.2,1166.87 680.8,1169.09 681.4,1167.62 682.0,1167.11 682.6,1169.54 683.2,1167.62 683.8,1169.46 684.4,1166.18 685.0,1168.31 685.6,1167.92 686.2,1167.09 686.8,1168.68 687.4,1166.66 688.0,1167.60 688.6,1167.01 689.2,1168.19 689.8,1166.43 690.4,1167.54 691.0,1167.42 691.3,1165.43 691.6,1169.98 692.2,1167.30 692.8,1167.37 693.4,1167.57 694.0,1166.42 694.6,1166.20 695.2,1164.59 695.8,1166.05 696.4,1166.46 697.0,1167.03 697.6,1166.66 698.2,1166.85 698.8,1166.82 699.4,1167.03 700.0,1167.05 700.6,1166.87 701.2,1167.47 701.8,1165.25 702.4,1166.21 703.0,1167.13 703.6,1166.32 704.2,1165.46 704.8,1165.93 705.4,1165.91 706.0,1166.04 706.6,1167.62 707.2,1167.01 707.8,1165.25 708.4,1165.75 709.0,1167.26 709.6,1165.02 710.2,1166.02 710.8,1165.00 711.4,1164.33 712.0,1164.92 712.5,1165.10 712.6,1166.15 713.2,1164.16 713.8,1165.86 714.4,1164.27 715.0,1164.07 715.6,1163.09 716.2,1161.88 716.8,1163.51 717.4,1162.53 718.0,1163.01 718.6,1162.46 719.2,1160.60 719.8,1161.64 720.4,1161.80 721.0,1161.55 721.6,1161.40 722.2,1161.02 722.8,1160.03 723.4,1160.48 724.0,1159.84 724.6,1160.07 725.2,1159.90 725.8,1159.56 726.4,1161.00 727.0,1158.04 727.4,1157.16 727.6,1158.99 728.2,1157.69 728.8,1158.03 729.4,1157.30 730.0,1157.42 730.6,1156.42 731.2,1156.05 731.8,1157.89 732.4,1156.93 733.0,1154.60 733.1,1155.21 733.6,1155.69 734.2,1153.48 734.8,1151.01 735.4,1150.86 736.0,1149.66 736.6,1147.09 736.9,1146.76 737.2,1144.84 737.8,1143.61 738.4,1141.42 739.0,1137.51 739.1,1136.61 739.6,1138.78 740.2,1139.93 740.8,1141.64 741.3,1142.04 741.4,1142.35 742.0,1143.13 742.6,1144.38 743.2,1145.91 743.8,1146.57 744.4,1149.54 745.0,1148.60 745.1,1148.49 745.6,1148.80 746.2,1149.42 746.8,1149.30 747.4,1147.10 748.0,1146.85 748.6,1146.48 749.2,1146.74 749.8,1146.49 750.4,1147.42 751.0,1146.84 751.6,1144.43 752.2,1142.61 752.8,1142.97 753.4,1143.14 754.0,1143.41 754.6,1143.02 755.2,1140.39 755.8,1141.06 756.4,1139.88 757.0,1135.76 757.6,1135.27 758.2,1136.57 758.8,1133.41 759.0,1133.21 759.4,1135.06 760.0,1129.90 760.6,1127.22 761.2,1122.98 761.8,1122.28 762.1,1121.36 762.4,1118.49 763.0,1116.87 763.6,1110.93 764.2,1108.75 764.6,1104.92 764.8,1101.25 765.4,1092.65 766.0,1083.30 766.1,1081.04 766.6,1071.40 767.2,1064.03 767.8,1053.27 768.1,1048.96 768.4,1040.94 768.9,1025.05 769.0,1021.25 769.6,988.21 769.7,985.42 770.2,974.41 770.8,965.69 771.2,960.55 771.4,961.93 772.0,972.33 772.6,980.96 772.7,984.96 773.2,1007.39 773.5,1024.85 773.7,1048.02 773.8,1051.39 774.4,1072.00 774.7,1079.11 775.0,1083.59 775.6,1097.02 776.0,1102.75 776.2,1107.77 776.8,1115.08 777.2,1120.17 777.4,1120.56 778.0,1126.22 778.6,1128.31 779.2,1131.20 779.3,1131.57 779.8,1133.69 780.4,1137.06 781.0,1138.23 781.6,1139.20 782.2,1140.17 782.3,1140.67 782.8,1142.81 783.4,1142.86 784.0,1143.62 784.6,1145.66 785.2,1145.07 785.8,1146.22 786.4,1145.64 787.0,1147.35 787.6,1148.36 788.2,1149.66 788.8,1150.99 789.4,1151.04 790.0,1152.81 790.6,1154.12 791.2,1153.80 791.8,1155.15 792.4,1156.31 793.0,1155.55 793.6,1158.55 794.2,1157.94 794.8,1159.24 795.4,1158.54 796.0,1161.16 796.5,1161.76 796.6,1161.33 797.2,1161.13 797.8,1162.68 798.4,1161.42 799.0,1163.76 799.6,1164.15 800.2,1164.55 800.8,1165.36 801.4,1164.54 802.0,1165.31 802.6,1165.99 803.2,1166.10 803.8,1165.11 804.4,1165.93 804.5,1165.66 805.0,1166.29 805.6,1166.26 806.2,1167.04 806.8,1166.98 807.4,1167.39 808.0,1166.19 808.6,1167.84 809.2,1167.41 809.8,1169.39 810.4,1167.22 811.0,1164.86 811.6,1168.16 812.2,1165.73 812.8,1166.65 813.4,1166.38 814.0,1166.41 814.6,1167.92 815.2,1167.22 815.8,1166.95 816.4,1166.26 816.7,1166.42 817.0,1166.82 817.6,1166.99 818.2,1166.57 818.8,1165.14 819.4,1166.94 820.0,1166.64 820.6,1165.92 821.2,1167.07 821.8,1167.28 822.4,1166.42 823.0,1168.77 823.6,1165.81 824.2,1166.47 824.8,1166.67 825.4,1166.52 826.0,1167.23 826.6,1165.58 827.2,1165.20 827.8,1167.43 828.4,1165.72 829.0,1166.08 829.5,1166.17 829.6,1166.39 830.2,1165.88 830.8,1164.46 831.4,1164.91 832.0,1165.07 832.6,1165.43 833.2,1166.02 833.8,1163.83 834.4,1164.82 835.0,1164.53 835.6,1164.49 836.2,1162.42 836.8,1162.92 837.4,1163.56 838.0,1162.93 838.6,1163.12 839.2,1163.14 839.8,1163.78 840.4,1162.16 841.0,1162.15 841.6,1162.44 842.2,1163.89 842.8,1162.43 843.4,1164.15 844.0,1163.78 844.6,1163.28 845.2,1162.05 845.8,1162.89 846.4,1162.69 846.5,1162.29 847.0,1161.47 847.6,1162.02 848.2,1161.88 848.8,1162.16 849.4,1162.95 850.0,1162.35 850.6,1162.21 851.2,1164.55 851.8,1163.77 852.4,1165.06 852.9,1164.21 853.0,1162.84 853.6,1162.54 854.2,1160.93 854.8,1159.48 855.4,1157.95 856.0,1155.74 856.6,1154.77 856.7,1154.46 857.2,1149.89 857.8,1148.94 858.4,1146.32 858.9,1143.91 859.0,1145.86 859.6,1147.47 860.2,1151.48 860.8,1154.87 861.1,1156.21 861.4,1155.85 862.0,1158.16 862.6,1159.99 863.2,1160.92 863.8,1163.24 864.4,1165.38 864.9,1164.53 865.0,1166.21 865.6,1164.88 866.2,1164.85 866.7,1166.25 866.8,1165.13 867.4,1166.91 868.0,1166.93 868.6,1166.71 869.2,1166.01 869.8,1166.61 870.4,1167.71 871.0,1168.15 871.6,1166.36 872.2,1165.42 872.8,1167.01 873.4,1167.43 874.0,1167.70 874.6,1168.17 875.2,1166.85 875.8,1166.86 876.4,1166.80 877.0,1168.19 877.6,1167.53 878.2,1168.26 878.8,1168.09 879.4,1168.18 880.0,1167.61 880.6,1168.07 881.2,1167.49 881.8,1168.29 882.4,1168.27 882.7,1168.42 883.0,1168.56 883.6,1168.64 884.2,1168.34 884.8,1168.34 885.4,1168.23 886.0,1167.26 886.6,1169.25 887.2,1169.77 887.8,1167.41 888.4,1170.19 889.0,1169.70 889.6,1169.10 890.2,1168.72 890.8,1168.73 891.4,1168.10 892.0,1168.10 892.6,1168.31 893.2,1168.71 893.8,1166.86 894.4,1167.76 895.0,1167.34 895.6,1167.57 896.2,1167.10 896.8,1167.63 897.4,1168.10 898.0,1167.32 898.6,1168.63 899.2,1168.30 899.7,1167.76 899.8,1168.86 900.4,1167.37 901.0,1167.81 901.6,1167.12 902.2,1166.83 902.8,1169.54 903.4,1167.89 903.6,1167.37 904.0,1166.75 904.6,1164.09 905.2,1159.56 905.8,1156.56 906.4,1154.30 906.5,1153.25 907.0,1148.56 907.6,1142.61 908.2,1140.34 908.6,1137.99 908.8,1137.71 909.4,1141.85 910.0,1147.61 910.6,1152.62 910.7,1153.38 911.2,1155.62 911.8,1158.81 912.4,1162.42 913.0,1165.11 913.6,1168.01 914.2,1168.70 914.8,1167.09 915.4,1166.56 916.0,1167.07 916.6,1167.65 916.7,1166.07 917.2,1166.87 917.8,1166.25 918.4,1166.03 919.0,1168.00 919.6,1167.12 920.2,1166.71 920.8,1167.28 921.4,1167.23 922.0,1167.70 922.6,1168.32 923.2,1167.06 923.8,1168.38 924.4,1167.35 925.0,1167.85 925.6,1166.77 926.2,1166.76 926.8,1167.81 927.4,1167.65 928.0,1167.34 928.6,1167.73 929.2,1166.81 929.8,1168.50 930.4,1169.09 931.0,1167.91 931.6,1168.41 932.2,1167.85 932.8,1168.77 933.4,1168.12 934.0,1167.90 934.6,1168.20 935.2,1167.63 935.8,1167.97 936.4,1168.26 937.0,1167.02 937.6,1167.99 938.2,1167.06 938.8,1167.53 939.4,1166.22 940.0,1165.98 940.6,1167.13 941.2,1166.29 941.8,1166.81 942.4,1167.69 943.0,1167.06 943.6,1166.01 944.2,1167.58 944.8,1165.44 945.4,1164.46 946.0,1167.64 946.6,1165.22 947.2,1166.07 947.8,1164.64 948.4,1165.56 948.6,1164.92 949.0,1166.63 949.6,1164.06 950.2,1165.17 950.8,1164.07 951.4,1164.33 952.0,1163.61 952.6,1163.28 953.2,1161.89 953.8,1163.24 954.4,1161.30 955.0,1162.46 955.6,1162.92 956.2,1162.11 956.8,1162.52 957.4,1162.83 958.0,1162.48 958.6,1161.60 959.2,1161.37 959.8,1161.89 960.3,1161.16 960.4,1160.84 961.0,1160.61 961.6,1161.39 962.2,1161.75 962.8,1161.59 963.4,1162.83 964.0,1163.18 964.6,1162.35 965.2,1162.93 965.8,1164.85 966.4,1165.52 967.0,1166.20 967.6,1166.18 968.2,1166.58 968.8,1166.56 969.4,1168.01 970.0,1167.22 970.6,1167.21 971.2,1169.11 971.8,1169.32 972.0,1170.58 972.4,1168.84 973.0,1168.97 973.6,1168.97 974.2,1168.82 974.8,1170.12 975.4,1169.90 976.0,1170.27 976.6,1169.11 977.2,1169.59 977.8,1170.25 978.4,1168.98 979.0,1168.42 979.6,1167.49 980.2,1169.38 980.8,1168.89 981.4,1167.53 981.8,1168.93 982.0,1169.32 982.6,1168.30 983.2,1164.69 983.8,1163.92 984.4,1161.59 985.0,1159.95 985.3,1158.59 985.6,1155.66 986.2,1154.82 986.8,1151.02 987.3,1148.45 987.4,1149.01 988.0,1151.99 988.6,1156.03 989.2,1159.54 989.3,1158.22 989.8,1161.14 990.4,1163.10 991.0,1165.81 991.6,1166.97 992.2,1168.85 992.8,1168.83 993.4,1169.73 994.0,1169.59 994.6,1170.79 995.2,1170.72 995.4,1171.06 995.8,1169.34 996.4,1169.92 997.0,1170.09 997.6,1170.80 998.2,1170.11 998.8,1170.29 999.4,1169.81 1000.0,1170.69 1000.6,1169.62 1001.2,1169.24 1001.8,1169.54 1002.4,1169.94 1003.0,1169.86 1003.6,1168.16 1004.2,1168.75 1004.8,1168.18 1005.4,1168.39 1006.0,1167.61 1006.6,1169.97 1007.2,1168.33 1007.8,1167.63 1008.4,1167.55 1009.0,1168.16 1009.6,1167.06 1010.2,1167.39 1010.8,1167.79 1011.4,1167.81 1012.0,1167.28 1012.6,1166.81 1013.2,1169.24 1013.8,1166.87 1014.4,1167.24 1014.5,1166.99 1015.0,1168.98 1015.6,1167.10 1016.2,1168.01 1016.8,1166.53 1017.4,1167.86 1018.0,1169.19 1018.6,1168.24 1019.2,1167.78 1019.8,1168.11 1020.4,1169.35 1021.0,1169.84 1021.6,1169.30 1022.2,1168.63 1022.8,1169.66 1023.4,1169.63 1024.0,1169.89 1024.6,1170.80 1025.2,1169.86 1025.8,1169.19 1026.4,1171.84 1027.0,1169.06 1027.6,1170.18 1028.2,1170.50 1028.8,1169.43 1029.4,1172.11 1030.0,1171.51 1030.6,1170.35 1031.2,1170.07 1031.5,1171.27 1031.8,1172.42 1032.4,1171.95 1033.0,1170.84 1033.6,1171.74 1034.2,1171.44 1034.8,1171.44 1035.4,1171.97 1036.0,1171.48 1036.6,1171.43 1037.2,1172.46 1037.8,1171.71 1038.4,1171.99 1039.0,1172.04 1039.6,1171.59 1040.2,1172.90 1040.8,1172.24 1041.4,1171.48 1042.0,1172.48 1042.6,1171.36 1043.2,1173.46 1043.8,1171.66 1044.4,1173.17 1045.0,1172.80 1045.6,1173.73 1046.2,1173.66 1046.8,1173.79 1047.4,1174.79 1048.0,1172.98 1048.6,1173.88 1049.2,1172.87 1049.8,1174.86 1050.4,1174.80 1051.0,1175.16 1051.6,1174.82 1052.2,1174.51 1052.8,1173.62 1053.4,1173.33 1054.0,1175.02 1054.6,1174.49 1055.2,1173.14 1055.8,1174.85 1056.4,1173.67 1057.0,1173.94 1057.6,1174.42 1058.2,1173.45 1058.8,1174.91 1059.4,1174.83 1060.0,1173.77 1060.6,1173.29 1061.2,1174.43 1061.8,1174.67 1062.4,1176.06 1063.0,1173.72 1063.6,1175.01 1064.2,1174.35 1064.8,1174.59 1065.4,1173.60 1066.0,1174.48 1066.6,1175.58 1067.2,1174.38 1067.8,1173.09 1068.4,1174.26 1069.0,1173.33 1069.6,1173.70 1070.2,1174.04 1070.8,1173.05 1071.4,1173.52 1072.0,1175.02 1072.6,1174.49 1073.2,1173.32 1073.8,1172.21 1074.4,1173.61 1075.0,1173.59 1075.6,1173.55 1076.2,1173.83 1076.8,1173.31 1077.4,1174.81 1078.0,1173.54 1078.6,1173.87 1079.2,1175.02 1079.8,1173.49 1080.4,1172.88 1081.0,1172.60 1081.6,1173.81 1082.2,1173.45 1082.8,1174.55 1083.4,1172.37 1084.0,1172.81 1084.6,1172.98 1085.0,1173.35 1085.2,1172.45 1085.8,1171.77 1086.4,1173.82 1087.0,1171.43 1087.6,1172.03 1088.2,1171.12 1088.8,1173.45 1089.4,1171.38 1090.0,1173.28 1090.6,1173.53 1091.2,1171.61 1091.8,1173.83 1092.4,1172.86 1093.0,1171.82 1093.6,1173.93 1094.2,1172.60 1094.8,1172.68 1095.4,1172.46 1096.0,1171.82 1096.6,1172.00 1097.2,1171.90 1097.8,1171.29 1098.4,1170.85 1099.0,1172.06 1099.6,1171.31 1100.2,1170.65 1100.8,1171.02 1101.3,1170.73 1101.4,1172.08 1102.0,1171.41 1102.6,1170.09 1103.2,1171.30 1103.8,1171.13 1104.4,1171.11 1105.0,1172.23 1105.6,1171.72 1106.2,1171.27 1106.8,1172.57 1107.4,1172.18 1108.0,1173.29 1108.6,1172.88 1109.2,1175.19 1109.8,1175.38 1110.4,1174.53 1111.0,1176.20 1111.6,1175.15 1112.2,1175.82 1112.8,1177.47 1113.4,1176.28 1114.0,1177.43 1114.6,1177.16 1115.2,1178.36 1115.8,1177.50 1116.4,1176.76 1117.0,1178.09 1117.6,1177.80 1118.2,1177.94 1118.3,1178.13 1118.8,1178.40 1119.4,1177.10 1120.0,1176.70 1120.6,1177.02 1121.2,1176.63 1121.8,1176.88 1122.4,1178.77 1123.0,1177.25 1123.6,1177.36 1124.2,1177.78 1124.8,1177.40 1125.4,1176.75 1126.0,1177.65 1126.6,1177.21 1127.2,1178.78 1127.8,1178.19 1128.4,1176.86 1129.0,1177.67 1129.6,1176.54 1130.2,1177.36 1130.8,1175.08 1131.4,1176.03 1132.0,1176.79 1132.6,1176.60 1133.2,1176.48 1133.8,1176.47 1134.4,1177.02 1135.0,1177.49 1135.6,1175.81 1136.2,1177.03 1136.8,1176.60 1137.4,1175.83 1138.0,1176.11 1138.6,1177.20 1139.2,1176.12 1139.8,1175.76 1140.4,1175.78 1141.0,1175.58 1141.6,1174.50 1141.7,1174.70 1142.2,1175.67 1142.8,1176.00 1143.4,1177.31 1144.0,1176.19 1144.6,1176.87 1145.2,1176.01 1145.8,1176.27 1146.4,1177.50 1147.0,1175.85 1147.6,1176.55 1148.2,1177.99 1148.8,1176.09 1149.4,1175.69 1150.0,1176.61 1150.6,1177.46 1151.2,1177.54 1151.8,1177.79 1152.4,1179.06 1153.0,1177.88 1153.6,1178.69 1154.2,1177.79 1154.8,1178.09 1155.4,1178.96 1156.0,1178.80 1156.6,1179.00 1157.2,1178.17 1157.8,1179.19 1158.4,1179.44 1159.0,1178.72 1159.6,1179.62 1160.2,1179.83 1160.8,1176.63 1161.4,1179.22 1162.0,1179.65 1162.6,1179.57 1163.2,1178.37 1163.8,1177.80 1164.4,1178.10 1165.0,1178.69 1165.6,1179.18 1166.2,1178.18 1166.8,1178.61 1167.4,1178.50 1168.0,1177.32 1168.6,1178.18 1169.2,1177.91 1169.8,1177.54 1170.4,1177.53 1171.0,1176.70 1171.6,1177.50 1172.2,1176.21 1172.8,1177.33 1173.4,1176.83 1174.0,1176.31 1174.6,1175.89 1175.2,1176.58 1175.8,1175.72 1176.4,1175.76 1177.0,1175.22 1177.6,1175.98 1178.2,1176.62 1178.8,1175.64 1179.4,1175.73 1180.0,1174.93 1180.6,1175.24 1181.2,1175.04 1181.8,1175.97 1182.4,1175.37 1183.0,1174.46 1183.6,1175.28 1184.2,1175.32 1184.8,1173.98 1185.4,1175.12 1186.0,1175.31 1186.6,1175.20 1187.2,1174.59 1187.8,1175.84 1188.4,1175.17 1189.0,1175.83 1189.6,1176.08 1190.2,1176.00 1190.8,1176.40 1191.4,1176.40 1192.0,1176.95 1192.6,1176.04 1193.2,1176.31 1193.8,1176.63 1194.4,1178.08 1195.0,1178.08 1195.6,1175.83 1196.2,1177.29 1196.8,1179.12 1197.4,1177.35 1198.0,1178.46 1198.6,1178.21 1199.2,1176.94 1199.8,1177.98 1200.4,1177.90 1201.0,1178.78 1201.6,1179.80 1202.2,1177.63 1202.8,1178.02 1203.4,1178.61 1204.0,1178.48 1204.6,1179.00 1205.2,1178.79 1205.8,1177.98 1206.4,1177.90 1207.0,1178.87 1207.6,1179.04 1208.2,1177.95 1208.8,1178.71 1209.4,1178.37 1210.0,1178.25 1210.6,1177.80 1211.2,1177.91 1211.8,1178.78 1212.4,1179.00 1213.0,1178.65 1213.6,1178.16 1214.2,1177.30 1214.8,1178.13 1215.4,1177.41 1216.0,1177.79 1216.6,1179.04 1217.2,1176.76 1217.8,1177.29 1218.4,1178.15 1219.0,1177.30 1219.6,1177.66 1220.2,1178.47 1220.8,1178.01 1221.4,1178.42 1222.0,1177.95 1222.6,1176.83 1223.2,1177.88 1223.8,1176.86 1224.4,1176.96 1224.6,1177.69 1225.0,1176.79 1225.6,1175.86 1226.2,1177.04 1226.8,1175.77 1227.4,1175.41 1228.0,1176.83 1228.6,1176.63 1229.2,1177.55 1229.8,1177.21 1230.4,1178.05 1231.0,1178.46 1231.6,1176.55 1232.2,1178.28 1232.8,1177.67 1233.4,1178.28 1234.0,1177.54 1234.6,1177.48 1235.2,1176.56 1235.8,1177.80 1236.4,1176.77 1237.0,1177.39 1237.6,1178.98 1238.2,1178.65 1238.8,1178.10 1239.4,1179.48 1240.0,1178.70 1240.6,1178.24 1241.2,1177.71 1241.8,1179.29 1242.4,1179.46 1243.0,1180.92 1243.6,1179.02 1244.2,1178.27 1244.8,1179.17 1245.4,1178.06 1246.0,1178.88 1246.6,1179.52 1247.2,1179.23 1247.8,1179.18 1248.4,1179.50 1249.0,1180.41 1249.6,1179.43 1250.1,1179.36 1250.2,1179.52 1250.8,1179.46 1251.4,1180.02 1252.0,1178.07 1252.6,1179.54 1253.2,1179.34 1253.8,1179.74 1254.4,1180.17 1255.0,1179.87 1255.6,1179.63 1256.2,1179.21 1256.8,1180.02 1257.4,1179.96 1258.0,1179.40 1258.6,1179.57 1259.2,1179.77 1259.8,1179.15 1260.4,1178.81 1261.0,1180.23 1261.6,1179.08 1262.2,1179.13 1262.8,1180.22 1263.4,1179.87 1264.0,1179.50 1264.6,1179.02 1265.2,1178.87 1265.8,1179.51 1266.4,1178.52 1267.0,1179.77 1267.6,1180.10 1268.2,1179.66 1268.8,1179.30 1269.4,1181.37 1270.0,1179.68 1270.6,1179.92 1271.2,1180.62 1271.4,1181.08 1271.8,1180.65 1272.4,1180.02 1273.0,1180.49 1273.6,1181.24 1274.2,1180.19 1274.8,1180.33 1275.4,1180.69 1276.0,1179.71 1276.6,1180.15 1277.2,1179.43 1277.8,1179.87 1278.4,1179.24 1279.0,1179.71 1279.6,1180.14 1280.2,1179.96 1280.8,1180.06 1281.4,1179.68 1282.0,1179.05 1282.6,1179.01 1283.2,1180.19 1283.8,1180.19 1284.4,1179.77 1285.0,1180.01 1285.6,1181.54 1286.2,1181.37 1286.8,1180.48 1287.4,1179.99 1288.0,1180.94 1288.6,1180.46 1289.2,1180.06 1289.8,1179.81 1290.4,1180.96 1291.0,1180.49 1291.6,1180.42 1292.2,1179.97 1292.8,1180.29 1293.4,1180.22 1294.0,1178.43 1294.6,1180.45 1295.2,1180.58 1295.8,1179.89 1296.4,1180.57 1297.0,1179.74 1297.6,1179.85 1298.2,1178.62 1298.8,1181.69 1299.4,1180.54 1300.0,1180.22 1300.6,1179.39 1301.2,1179.31 1301.8,1179.75 1302.4,1180.04 1303.0,1179.81 1303.6,1179.20 1304.2,1180.38 1304.8,1180.32 1305.4,1179.52 1306.0,1181.23 1306.6,1180.17 1307.2,1179.02 1307.8,1179.33 1308.4,1178.76 1309.0,1179.81 1309.6,1179.09 1310.2,1180.73 1310.8,1180.38 1311.4,1180.43 1312.0,1180.38 1312.6,1179.06 1313.2,1178.60 1313.8,1179.60 1314.4,1180.20 1315.0,1179.85 1315.6,1180.34 1316.2,1179.65 1316.8,1179.93 1317.4,1178.77 1318.0,1180.10 1318.6,1179.72 1319.2,1181.25 1319.8,1180.40 1320.4,1180.87 1321.0,1179.10 1321.6,1179.22 1322.2,1179.26 1322.8,1179.74 1323.4,1179.76 1324.0,1179.27 1324.6,1179.93 1325.2,1178.91 1325.8,1179.59 1326.4,1179.90 1327.0,1179.53 1327.6,1179.11 1328.2,1180.06 1328.8,1179.38 1329.4,1179.48 1330.0,1179.62 1330.6,1179.44 1331.2,1179.72 1331.8,1178.51 1332.4,1179.61 1333.0,1178.72 1333.6,1179.26 1334.2,1180.96 1334.8,1180.09 1335.4,1179.98 1336.0,1180.23 1336.6,1179.51 1337.2,1179.68 1337.8,1179.66 1338.4,1180.61 1339.0,1178.90 1339.6,1180.58 1340.2,1179.63 1340.8,1180.33 1341.4,1180.18 1342.0,1179.81 1342.6,1179.81 1343.2,1179.37 1343.8,1180.84 1344.4,1180.44 1345.0,1180.11 1345.6,1179.97 1346.2,1180.81 1346.8,1179.46 1347.4,1179.24 1348.0,1179.72 1348.6,1179.70 1349.2,1179.78 1349.8,1179.88 1350.4,1178.60 1351.0,1179.60 1351.6,1180.19 1352.2,1180.64 1352.8,1179.98 1353.4,1178.79 1354.0,1179.60 1354.6,1179.31 1355.2,1180.83 1355.8,1178.58 1356.4,1179.46 1356.5,1180.48 1357.0,1178.31 1357.6,1179.06 1358.2,1178.14 1358.8,1179.12 1359.4,1179.18 1360.0,1178.66 1360.6,1178.37 1361.2,1179.46 1361.8,1177.91 1362.4,1179.18 1363.0,1178.47 1363.6,1179.32 1364.2,1179.32 1364.8,1178.43 1365.4,1179.35 1366.0,1178.59 1366.6,1180.57 1367.2,1179.25 1367.8,1179.79 1368.4,1179.93 1369.0,1180.52 1369.6,1178.69 1370.2,1179.77 1370.8,1178.98 1371.4,1179.30 1372.0,1179.60 1372.6,1179.86 1373.2,1179.14 1373.8,1179.17 1374.4,1178.81 1375.0,1180.86 1375.6,1179.33 1376.2,1181.98 1376.8,1179.78 1377.4,1180.43 1378.0,1179.56 1378.6,1179.84 1379.2,1180.01 1379.8,1179.87 1380.4,1179.54 1381.0,1179.37 1381.6,1179.54 1382.2,1179.32 1382.8,1179.93 1383.4,1179.68 1384.0,1178.46 1384.6,1179.11 1385.2,1179.02 1385.8,1179.18 1386.4,1178.26 1387.0,1179.08 1387.6,1178.68 1388.2,1178.72 1388.4,1178.71 1388.8,1178.67 1389.4,1179.19 1390.0,1178.49 1390.6,1178.58 1391.2,1178.57 1391.8,1178.87 1392.4,1177.25 1393.0,1177.35 1393.6,1178.15 1394.2,1178.44 1394.8,1177.20 1395.4,1178.20 1396.0,1177.29 1396.6,1177.68 1397.2,1177.01 1397.8,1176.96 1398.4,1177.19 1399.0,1177.55 1399.6,1176.06 1400.2,1175.06 1400.8,1175.92 1401.4,1175.81 1402.0,1175.23 1402.6,1175.41 1403.2,1174.54 1403.8,1174.53 1404.4,1174.94 1405.0,1174.26 1405.6,1175.01 1406.2,1174.61 1406.8,1173.31 1407.4,1173.28 1408.0,1173.93 1408.6,1173.91 1409.2,1172.88 1409.8,1173.00 1410.4,1173.66 1410.7,1173.39 1411.0,1173.58 1411.6,1174.56 1412.2,1174.63 1412.8,1174.44 1413.4,1174.41 1414.0,1174.35 1414.6,1174.91 1415.2,1173.47 1415.8,1174.68 1416.4,1175.18 1417.0,1174.83 1417.6,1175.89 1418.2,1174.41 1418.8,1176.43 1419.4,1175.83 1420.0,1175.98 1420.6,1177.16 1421.2,1176.54 1421.8,1177.75 1422.4,1177.74 1423.0,1178.43 1423.6,1178.93 1424.2,1178.85 1424.8,1178.74 1425.4,1179.60 1426.0,1179.63 1426.6,1179.45 1427.2,1180.81 1427.8,1179.94 1428.4,1180.00 1428.8,1181.00 1429.0,1181.41 1429.6,1180.78 1430.2,1180.53 1430.8,1179.98 1431.4,1180.82 1432.0,1178.83 1432.6,1180.20 1433.2,1180.25 1433.8,1180.45 1434.4,1179.05 1435.0,1180.01 1435.6,1178.62 1436.2,1180.94 1436.8,1179.38 1437.4,1179.51 1438.0,1178.73 1438.6,1180.27 1439.2,1179.90 1439.8,1180.53 1440.4,1179.84 1441.0,1180.67 1441.6,1179.83 1442.2,1180.40 1442.8,1179.82 1443.4,1181.84 1444.0,1180.55 1444.6,1179.50 1445.2,1180.15 1445.8,1179.44 1446.4,1179.57 1447.0,1180.27 1447.6,1180.71 1448.2,1180.29 1448.8,1179.96 1449.4,1180.36 1450.0,1180.09 1450.6,1180.27 1451.2,1180.58 1451.8,1180.46 1452.4,1179.43 1453.0,1179.43 1453.6,1180.51 1454.2,1179.89 1454.8,1180.04 1455.4,1179.76 1456.0,1179.21 1456.6,1180.59 1457.2,1180.18 1457.8,1180.88 1458.4,1179.94 1459.0,1180.29 1459.6,1180.79 1460.2,1179.97 1460.8,1180.15 1461.4,1180.03 1462.0,1180.76 1462.6,1180.02 1462.8,1180.98 1463.2,1179.52 1463.8,1179.98 1464.4,1180.98 1465.0,1180.95 1465.6,1180.52 1466.2,1179.04 1466.8,1180.18 1467.4,1179.46 1468.0,1179.68 1468.6,1180.48 1469.2,1180.25 1469.8,1180.19 1470.4,1179.40 1471.0,1179.59 1471.6,1179.93 1472.2,1180.34 1472.8,1180.72 1473.4,1182.03 1474.0,1180.78 1474.6,1180.24 1475.2,1181.29 1475.8,1180.57 1476.4,1180.42 1477.0,1180.17 1477.6,1180.60 1478.2,1180.77 1478.8,1180.81 1479.4,1180.69 1480.0,1180.78 1480.6,1179.24 1481.2,1180.60 1481.8,1179.82 1482.4,1180.42 1483.0,1179.78 1483.6,1180.55 1484.2,1179.60 1484.8,1180.65 1485.4,1180.14 1486.0,1180.73 1486.6,1180.75 1487.2,1180.03 1487.8,1179.63 1488.4,1180.13 1489.0,1181.19 1489.6,1180.20 1490.2,1180.58 1490.8,1180.93 1491.4,1180.29 1492.0,1180.67 1492.6,1181.43 1493.2,1180.07 1493.8,1181.24 1494.4,1181.37 1495.0,1179.92 1495.6,1181.46 1496.2,1180.18 1496.8,1181.16 1497.4,1181.16 1498.0,1180.90 1498.6,1181.39 1499.2,1181.49 1499.8,1180.82 1500.4,1180.84 1501.0,1179.97 1501.6,1181.02 1502.0,1181.59 1502.2,1180.97 1502.8,1181.02 1503.4,1182.16 1504.0,1180.84 1504.6,1180.36 1505.2,1181.13 1505.8,1181.36 1506.4,1180.63 1507.0,1179.69 1507.6,1180.58 1508.2,1181.47 1508.8,1180.92 1509.4,1182.29 1510.0,1180.63 1510.6,1181.26 1511.2,1180.98 1511.8,1181.87 1512.4,1181.75 1513.0,1181.08 1513.6,1181.70 1514.2,1181.72 1514.8,1182.00 1515.4,1181.66 1516.0,1181.56 1516.6,1180.51 1517.2,1181.48 1517.8,1180.38 1518.4,1181.86 1519.0,1181.04 1519.6,1180.78 1520.2,1181.08 1520.8,1181.40 1521.4,1181.61 1522.0,1181.39 1522.6,1182.12 1523.2,1180.75 1523.8,1181.38 1524.4,1180.24 1525.0,1181.71 1525.6,1181.73 1526.2,1181.77 1526.8,1182.28 1527.4,1181.89 1528.0,1182.50 1528.6,1180.43 1529.2,1181.65 1529.8,1182.25 1530.4,1181.41 1531.0,1181.38 1531.6,1182.95 1532.2,1182.70 1532.8,1182.96 1533.4,1181.96 1534.0,1182.24 1534.6,1182.07 1535.2,1181.64 1535.8,1182.36 1536.4,1181.81 1537.0,1181.72 1537.6,1181.56 1538.2,1181.14 1538.8,1180.66 1539.4,1182.07 1540.0,1180.90 1540.6,1181.67 1541.2,1181.77 1541.8,1182.44 1542.4,1181.55 1543.0,1182.24 1543.6,1182.42 1544.2,1183.13 1544.8,1182.65 1545.4,1182.58 1546.0,1181.67 1546.6,1182.14 1547.2,1180.79 1547.8,1180.38 1548.4,1181.17 1549.0,1181.87 1549.6,1181.49 1550.2,1181.98 1550.8,1182.64 1551.4,1181.36 1552.0,1181.19 1552.6,1182.25 1553.2,1181.80 1553.8,1181.58 1554.4,1182.70 1555.0,1181.65 1555.6,1181.75 1556.2,1182.05 1556.8,1182.37 1557.4,1182.47 1558.0,1182.03 1558.6,1181.39 1559.2,1181.86 1559.8,1183.06 1560.4,1182.96 1561.0,1182.67 1561.6,1182.58 1562.2,1182.18 1562.8,1181.80 1563.4,1182.43 1564.0,1183.19 1564.6,1182.62 1565.2,1183.64 1565.8,1182.36 1566.4,1182.88 1567.0,1182.78 1567.6,1183.33 1568.2,1183.07 1568.8,1181.96 1569.4,1181.16 1570.0,1181.63 1570.6,1182.83 1571.2,1182.57 1571.8,1183.27 1572.4,1182.16 1573.0,1182.95 1573.6,1182.32 1574.2,1182.49 1574.8,1182.26 1575.4,1183.15 1576.0,1182.52 1576.6,1182.73 1577.2,1182.55 1577.8,1182.83 1578.4,1182.79 1579.0,1182.62 1579.6,1182.97 1580.2,1182.07 1580.8,1182.46 1581.4,1182.00 1582.0,1182.41 1582.6,1182.02 1583.2,1181.91 1583.8,1181.80 1584.4,1182.31 1585.0,1182.47 1585.6,1181.31 1586.2,1182.00 1586.8,1182.47 1587.4,1181.94 1588.0,1182.60 1588.6,1181.85 1589.2,1181.96 1589.8,1182.50 1590.4,1181.58 1591.0,1181.78 1591.6,1182.77 1592.2,1182.62 1592.8,1181.96 1593.4,1182.17 1594.0,1183.25 1594.6,1182.85 1595.2,1183.08 1595.8,1183.87 1596.4,1182.64 1597.0,1183.09 1597.6,1183.44 1598.2,1182.83 1598.8,1182.39 1599.4,1182.68 1600.0,1182.67 1600.6,1182.27 1601.2,1183.32 1601.8,1182.27 1602.4,1182.83 1603.0,1182.11 1603.6,1183.14 1604.2,1183.06 1604.8,1182.82 1605.4,1183.43 1606.0,1183.54 1606.6,1183.39 1607.2,1182.10 1607.8,1183.56 1608.4,1182.61 1609.0,1182.36 1609.6,1182.99 1610.2,1183.26 1610.8,1183.35 1611.4,1182.57 1612.0,1182.00 1612.6,1182.65 1613.2,1182.54 1613.8,1182.04 1614.4,1181.80 1615.0,1182.90 1615.3,1182.57 1615.6,1181.78 1616.2,1183.29 1616.8,1182.41 1617.4,1183.24 1618.0,1182.01 1618.6,1182.55 1619.2,1181.46 1619.8,1183.38 1620.4,1182.78 1621.0,1182.38 1621.6,1182.61 1622.2,1182.52 1622.8,1182.21 1623.4,1181.40 1624.0,1182.22 1624.6,1181.51 1625.2,1181.79 1625.8,1181.34 1626.4,1181.47 1627.0,1181.51 1627.6,1181.58 1628.2,1181.81 1628.8,1181.96 1629.4,1181.53 1630.0,1181.87 1630.6,1181.21 1631.2,1181.58 1631.8,1180.94 1632.4,1181.42 1633.0,1181.79 1633.6,1180.78 1634.2,1181.10 1634.8,1180.96 1635.4,1181.67 1636.0,1182.01 1636.6,1182.26 1637.2,1181.88 1637.8,1181.65 1638.4,1181.40 1639.0,1181.04 1639.6,1181.11 1640.2,1182.34 1640.8,1180.99 1641.4,1181.34 1642.0,1181.95 1642.6,1181.35 1643.2,1180.93 1643.8,1181.24 1644.4,1180.98 1645.0,1180.70 1645.6,1181.02 1646.2,1180.36 1646.8,1180.78 1647.4,1180.22 1648.0,1179.97 1648.6,1179.29 1649.2,1179.60 1649.8,1180.64 1650.4,1180.69 1651.0,1180.73 1651.6,1181.35 1652.2,1180.00 1652.8,1180.46 1653.4,1180.46 1654.0,1180.32 1654.6,1179.55 1655.2,1179.25 1655.8,1180.85 1656.4,1179.79 1657.0,1179.54 1657.6,1180.28 1658.2,1179.36 1658.8,1179.35 1659.4,1179.91 1660.0,1179.42 1660.6,1179.84 1661.2,1180.07 1661.8,1179.02 1662.4,1179.27 1663.0,1179.37 1663.5,1178.09 1663.6,1179.77 1664.2,1178.61 1664.8,1179.61 1665.4,1178.62 1666.0,1179.73 1666.6,1179.20 1667.2,1179.08 1667.8,1180.12 1668.4,1179.67 1669.0,1180.16 1669.6,1179.88 1670.2,1180.61 1670.8,1181.01 1671.4,1180.94 1672.0,1181.06 1672.6,1180.60 1673.2,1181.15 1673.8,1181.40 1674.4,1180.25 1675.0,1180.26 1675.6,1179.88 1676.2,1179.62 1676.8,1180.40 1677.4,1179.66 1678.0,1180.55 1678.6,1180.77 1679.2,1180.94 1679.8,1180.98 1680.4,1181.25 1681.0,1180.52 1681.6,1180.56 1682.2,1181.38 1682.8,1181.58 1683.4,1180.92 1684.0,1180.58 1684.6,1181.23 1685.2,1181.20 1685.8,1180.86 1686.4,1181.03 1687.0,1181.58 1687.6,1179.58 1688.2,1180.63 1688.8,1180.63 1689.4,1181.98 1690.0,1181.08 1690.6,1180.90 1691.2,1181.34 1691.8,1180.98 1692.4,1180.83 1693.0,1180.25 1693.6,1181.39 1694.2,1180.94 1694.8,1181.01 1695.4,1180.72 1696.0,1181.50 1696.6,1181.44 1697.2,1182.02 1697.8,1181.38 1698.4,1182.13 1699.0,1181.36 1699.6,1182.60 1700.2,1183.05 1700.8,1182.12 1701.4,1182.76 1702.0,1182.75 1702.6,1182.49 1703.2,1183.54 1703.8,1183.20 1704.4,1182.40 1705.0,1182.69 1705.6,1182.97 1706.2,1182.81 1706.8,1183.07 1707.4,1182.43 1708.0,1182.89 1708.6,1182.16 1709.2,1182.84 1709.8,1182.23 1710.4,1182.48 1711.0,1181.84 1711.6,1182.67 1712.2,1182.00 1712.8,1181.95 1713.4,1182.83 1714.0,1182.14 1714.6,1181.73 1715.2,1182.18 1715.8,1182.38 1716.4,1182.90 1717.0,1182.88 1717.6,1183.21 1718.2,1182.26 1718.8,1183.12 1719.4,1183.47 1720.0,1182.54 1720.6,1183.42 1721.2,1183.26 1721.8,1183.05 1722.4,1184.09 1723.0,1182.89 1723.6,1183.61 1724.2,1184.02 1724.8,1184.41 1725.4,1184.17 1726.0,1183.13 1726.6,1182.92 1727.2,1182.80 1727.8,1184.00 1728.4,1182.97 1728.6,1183.35 1729.0,1184.60 1729.6,1183.39 1730.2,1183.68 1730.8,1183.57 1731.4,1183.14 1732.0,1183.55 1732.6,1183.85 1733.2,1184.41 1733.8,1183.90 1734.4,1183.43 1735.0,1183.61 1735.6,1183.39 1736.2,1183.67 1736.8,1183.66 1737.4,1184.28 1738.0,1183.16 1738.6,1183.61 1739.2,1183.88 1739.8,1182.39 1740.4,1184.54 1741.0,1183.14 1741.6,1183.11 1742.2,1183.40 1742.8,1183.27 1743.4,1183.62 1744.0,1183.53 1744.6,1183.36 1745.2,1183.56 1745.8,1183.55 1746.4,1183.41 1747.0,1183.06 1747.6,1183.31 1748.2,1183.18 1748.8,1183.29 1749.4,1183.96 1750.0,1184.00 1750.6,1183.35 1751.2,1183.55 1751.8,1182.71 1752.4,1183.76 1753.0,1183.86 1753.6,1183.33 1754.2,1183.66 1754.8,1182.92 1755.4,1183.13 1756.0,1183.56 1756.6,1184.24 1757.2,1183.37 1757.8,1183.33 1758.4,1183.12 1759.0,1183.60 1759.6,1183.37 1760.2,1182.81 1760.8,1182.10 1761.4,1182.74 1762.0,1181.65 1762.6,1183.40 1763.2,1182.75 1763.8,1183.07 1764.4,1183.42 1765.0,1183.39 1765.6,1182.41 1766.2,1182.34 1766.8,1182.78 1767.4,1182.38 1768.0,1183.20 1768.6,1182.75 1769.2,1182.43 1769.8,1181.98 1770.4,1182.28 1771.0,1181.62 1771.6,1181.64 1772.2,1180.40 1772.8,1180.15 1773.4,1180.57 1774.0,1180.39 1774.6,1179.75 1775.2,1179.46 1775.8,1179.20 1776.4,1179.93 1777.0,1179.39 1777.6,1178.83 1778.2,1178.97 1778.8,1178.38 1779.4,1178.07 1779.6,1177.96 1780.0,1177.76 1780.6,1177.44 1781.2,1178.41 1781.8,1178.46 1782.4,1178.48 1783.0,1178.85 1783.6,1178.85 1784.2,1179.71 1784.8,1180.08 1785.4,1180.11 1786.0,1180.40 1786.6,1181.11 1787.2,1181.27 1787.8,1181.52 1788.4,1181.67 1789.0,1181.90 1789.6,1181.15 1790.2,1182.16 1790.8,1182.52 1791.0,1181.55 1791.4,1182.61 1792.0,1181.86 1792.6,1182.89 1793.2,1182.62 1793.8,1182.01 1794.4,1182.85 1795.0,1182.52 1795.6,1183.36 1796.2,1182.69 1796.8,1183.37 1797.4,1183.05 1798.0,1182.92 1798.6,1183.19 1799.2,1182.57 1799.8,1183.19 1800.4,1183.25 1801.0,1182.74 1801.6,1182.66 1802.2,1182.81 1802.8,1182.80 1803.4,1182.50 1804.0,1183.10 1804.6,1181.75 1805.2,1182.00 1805.8,1181.96 1806.4,1182.85 1807.0,1182.57 1807.6,1181.72 1808.2,1181.21 1808.8,1181.22 1809.4,1181.97 1810.0,1180.56 1810.6,1181.62 1811.2,1181.66 1811.8,1181.76 1812.4,1182.43 1813.0,1181.95 1813.6,1181.79 1814.2,1181.58 1814.8,1182.09 1815.4,1182.25 1816.0,1182.82 1816.6,1181.85 1817.2,1182.21 1817.8,1182.31 1818.4,1182.55 1819.0,1182.01 1819.6,1182.54 1820.2,1183.01 1820.8,1182.77 1821.4,1182.59 1822.0,1182.89 1822.6,1181.72 1823.2,1183.00 1823.8,1182.39 1824.4,1183.02 1825.0,1182.68 1825.6,1181.89 1826.2,1181.77 1826.8,1181.87 1827.4,1181.98 1828.0,1181.32 1828.6,1181.51 1829.2,1182.26 1829.8,1181.99 1830.4,1181.68 1831.0,1182.03 1831.6,1182.33 1832.2,1181.48 1832.8,1181.51 1833.4,1181.84 1834.0,1181.72 1834.6,1181.91 1835.2,1181.29 1835.8,1181.31 1836.4,1181.05 1837.0,1180.91 1837.6,1180.87 1838.2,1182.17 1838.8,1181.53 1839.4,1182.01 1840.0,1181.54 1840.6,1182.69 1841.2,1182.11 1841.8,1182.00 1842.4,1182.33 1843.0,1181.96 1843.6,1181.74 1844.2,1182.54 1844.8,1181.98 1845.4,1181.92 1846.0,1181.98 1846.6,1182.74 1847.2,1182.27 1847.8,1182.43 1848.4,1181.78 1849.0,1182.49 1849.6,1182.10 1850.2,1181.75 1850.8,1181.25 1851.4,1181.88 1852.0,1181.80 1852.6,1182.72 1853.2,1181.91 1853.8,1181.83 1854.4,1182.31 1855.0,1182.46 1855.6,1182.20 1856.2,1182.13 1856.8,1182.89 1857.4,1183.06 1858.0,1182.25 1858.6,1182.45 1859.2,1182.28 1859.8,1181.80 1860.4,1181.80 1861.0,1182.14 1861.6,1181.94 1862.2,1182.09 1862.8,1182.15 1863.4,1182.14 1864.0,1181.25 1864.6,1182.28 1865.2,1182.28 1865.8,1181.28 1866.4,1181.77 1867.0,1182.21 1867.6,1182.51 1868.2,1183.38 1868.8,1182.47 1869.4,1183.85 1870.0,1182.58 1870.6,1183.38 1871.2,1182.34 1871.8,1182.86 1872.4,1182.53 1873.0,1183.16 1873.6,1183.25 1874.2,1183.04 1874.8,1182.84 1875.4,1183.53 1876.0,1183.08 1876.6,1182.09 1877.2,1182.41 1877.8,1182.25 1878.4,1182.40 1879.0,1182.27 1879.6,1182.42 1880.2,1182.72 1880.8,1182.49 1881.4,1182.27 1882.0,1182.36 1882.6,1182.39 1883.2,1182.09 1883.8,1181.58 1884.4,1182.24 1885.0,1182.11 1885.6,1182.77 1886.2,1181.96 1886.8,1182.57 1887.4,1182.66 1888.0,1182.26 1888.6,1182.92 1889.2,1182.48 1889.8,1182.54 1890.4,1182.62 1891.0,1182.29 1891.6,1182.57 1892.2,1182.91 1892.8,1182.53 1893.4,1181.31 1894.0,1182.71 1894.6,1183.05 1895.2,1181.80 1895.8,1182.55 1896.4,1181.90 1897.0,1182.26 1897.6,1182.24 1898.2,1182.26 1898.8,1182.39 1899.4,1182.49 1900.0,1182.70 1900.6,1182.41 1901.2,1182.03 1901.8,1182.36 1902.4,1182.76 1903.0,1181.84 1903.6,1182.96"/>
<path stroke="#000000" d="M271.0,841.01 271.6,840.33 272.2,840.52 272.8,839.74 273.4,841.12 274.0,838.19 274.6,841.44 275.2,839.83 275.8,840.03 276.0,839.04 276.4,838.54 277.0,840.23 277.6,841.96 278.2,841.82 278.8,842.85 279.4,841.91 280.0,842.76 280.6,842.65 281.2,841.81 281.3,843.06 281.8,842.18 282.4,843.03 283.0,841.15 283.6,840.58 284.2,840.42 284.8,839.98 285.4,837.79 286.0,836.78 286.6,836.11 287.2,836.07 287.8,832.71 288.4,831.45 289.0,835.12 289.6,830.45 290.2,829.68 290.8,826.05 291.4,826.89 291.9,826.35 292.0,825.53 292.6,824.10 293.2,822.73 293.8,821.60 294.4,820.57 295.0,816.25 295.6,814.40 296.2,814.68 296.8,812.38 297.4,809.26 298.0,806.67 298.3,806.39 298.6,805.66 299.2,802.78 299.8,799.43 300.4,795.13 301.0,789.04 301.6,788.22 302.2,783.01 302.5,780.15 302.8,778.41 303.4,776.35 304.0,771.51 304.6,768.38 305.2,765.68 305.8,764.08 306.4,757.61 307.0,757.34 307.6,750.69 308.2,748.99 308.8,747.21 308.9,747.65 309.4,742.88 310.0,742.98 310.6,740.72 311.2,736.29 311.8,733.95 312.4,731.56 313.0,727.06 313.6,729.62 314.2,724.90 314.8,720.32 315.3,720.47 315.4,719.93 316.0,716.78 316.6,714.68 317.2,713.11 317.8,708.93 318.4,705.87 319.0,706.50 319.6,702.47 320.2,699.10 320.8,699.09 321.4,692.34 322.0,691.48 322.6,691.50 323.2,689.21 323.8,687.76 324.4,688.69 325.0,690.77 325.6,693.35 326.2,696.27 326.8,700.37 327.4,703.81 328.0,706.47 328.6,710.65 329.2,710.34 329.8,715.42 330.4,717.65 331.0,724.16 331.6,725.07 332.2,729.24 332.3,729.24 332.8,731.78 333.4,736.27 334.0,742.76 334.6,748.00 335.2,751.58 335.8,759.07 336.4,761.82 336.6,764.30 337.0,766.10 337.6,770.27 338.2,770.77 338.8,777.49 339.4,779.93 340.0,783.01 340.6,786.60 341.2,788.89 341.8,789.48 342.4,793.47 342.9,795.24 343.0,796.29 343.6,800.07 344.2,803.63 344.8,802.82 345.4,805.70 346.0,809.59 346.6,812.68 347.2,814.82 347.8,816.26 348.4,819.65 349.0,821.77 349.3,821.54 349.6,824.54 350.2,822.93 350.8,826.16 351.4,827.65 352.0,829.68 352.6,831.89 353.2,831.76 353.8,833.71 354.4,835.96 355.0,838.59 355.6,837.36 356.2,840.17 356.8,840.87 357.4,840.83 357.8,843.20 358.0,841.70 358.6,843.40 359.2,844.19 359.8,847.06 360.4,844.16 361.0,846.53 361.6,846.55 362.2,846.57 362.8,846.72 363.4,849.12 364.0,847.22 364.6,849.19 365.2,848.47 365.8,849.89 366.4,850.51 367.0,848.32 367.6,849.48 368.2,850.93 368.8,851.60 369.4,850.40 370.0,852.91 370.6,853.96 371.2,853.20 371.8,853.82 372.4,852.67 373.0,855.65 373.6,856.88 374.2,858.31 374.8,855.78 375.4,858.05 376.0,855.70 376.6,857.12 377.2,857.11 377.8,855.59 378.4,856.86 379.0,857.81 379.6,858.03 380.2,857.74 380.8,858.39 381.4,859.59 382.0,860.06 382.6,856.54 383.2,858.73 383.8,859.61 384.4,857.22 385.0,860.66 385.6,861.92 386.2,859.25 386.8,858.50 387.4,860.75 387.6,862.98 388.0,864.72 388.6,862.35 389.2,862.15 389.8,861.38 390.4,863.35 391.0,861.92 391.6,863.09 392.2,864.35 392.8,863.45 393.4,862.40 394.0,864.13 394.6,865.23 395.2,865.53 395.8,862.59 396.4,865.15 397.0,865.40 397.6,864.77 398.2,864.01 398.8,864.58 399.4,864.61 400.0,868.00 400.6,866.10 401.2,865.66 401.8,866.55 402.4,867.86 403.0,866.47 403.6,867.72 404.2,867.76 404.8,866.75 405.4,869.22 406.0,868.01 406.6,869.14 407.2,869.55 407.8,867.64 408.4,867.32 408.9,867.57 409.0,870.63 409.6,868.30 410.2,867.92 410.8,870.14 411.4,867.75 412.0,870.71 412.6,867.98 413.2,869.18 413.8,868.97 414.4,869.31 415.0,870.01 415.6,869.85 416.2,867.73 416.8,867.95 417.4,869.04 418.0,870.02 418.6,868.86 419.2,868.68 419.8,867.39 420.4,870.11 421.0,869.87 421.6,868.66 422.2,869.53 422.8,871.60 423.4,869.47 424.0,869.45 424.6,871.10 425.2,868.46 425.8,870.18 426.4,870.46 427.0,869.99 427.6,870.52 428.2,870.73 428.8,871.38 429.4,871.14 430.0,872.27 430.1,872.49 430.6,871.72 431.2,871.56 431.8,869.55 432.4,873.13 433.0,872.40 433.6,872.43 434.2,873.37 434.8,871.59 435.4,871.50 436.0,872.94 436.6,868.46 437.2,873.06 437.8,872.36 438.4,870.63 439.0,871.12 439.6,873.12 440.2,871.14 440.8,872.77 441.4,872.26 442.0,871.88 442.6,871.76 443.2,871.68 443.8,871.40 444.4,872.14 445.0,872.81 445.6,869.70 446.2,873.43 446.8,874.32 447.4,870.20 448.0,873.18 448.6,872.00 449.2,872.65 449.8,871.79 450.4,870.68 451.0,872.57 451.4,872.08 451.6,872.52 452.2,871.22 452.8,872.41 453.4,873.99 454.0,871.61 454.6,874.04 455.2,872.27 455.8,875.43 456.4,877.27 457.0,873.76 457.6,875.47 458.2,876.57 458.8,875.20 459.4,877.53 460.0,877.08 460.6,876.72 461.2,878.39 461.8,877.68 462.4,880.52 463.0,879.25 463.6,878.63 464.2,878.90 464.8,877.55 465.4,878.17 466.0,878.07 466.6,879.69 467.2,879.79 467.8,878.30 468.4,880.05 469.0,879.88 469.6,879.52 470.2,881.07 470.8,880.46 471.4,880.30 472.0,880.77 472.6,881.91 473.2,880.51 473.8,881.59 474.4,882.81 475.0,883.58 475.6,883.06 476.2,882.80 476.8,881.50 477.4,884.23 478.0,882.34 478.6,882.13 479.2,884.27 479.8,882.60 480.4,882.47 481.0,883.97 481.6,884.63 482.2,884.57 482.8,882.63 483.3,884.98 483.4,884.42 484.0,884.56 484.6,885.80 485.2,886.09 485.8,883.96 486.4,886.61 487.0,885.41 487.6,885.47 488.2,884.77 488.8,885.74 489.4,886.39 490.0,885.00 490.6,884.05 491.2,888.02 491.8,886.78 492.4,886.39 493.0,887.29 493.6,885.09 494.2,885.41 494.8,881.18 495.4,877.29 496.0,875.19 496.6,865.52 497.1,857.40 497.2,860.45 497.8,867.86 498.2,873.85 498.4,873.51 499.0,879.69 499.6,883.42 500.0,887.02 500.2,888.02 500.8,887.11 501.4,887.42 502.0,888.51 502.6,887.20 503.2,886.49 503.8,888.30 504.4,885.60 504.6,888.78 505.0,886.23 505.6,886.60 506.2,885.60 506.8,888.30 507.4,888.26 508.0,887.08 508.6,887.24 509.2,888.19 509.8,886.82 510.4,885.20 511.0,885.51 511.6,885.80 512.2,883.57 512.8,885.85 513.4,885.73 514.0,886.64 514.6,886.12 515.2,887.61 515.8,885.37 516.4,885.91 517.0,886.29 517.6,884.90 518.2,884.81 518.8,882.41 519.4,883.82 520.0,882.93 520.6,883.84 521.2,882.23 521.8,882.18 522.4,883.16 523.0,879.77 523.6,880.74 524.2,878.89 524.8,879.13 525.4,878.91 526.0,877.70 526.6,878.85 527.2,876.83 527.8,876.78 528.4,876.73 529.0,876.10 529.6,876.24 530.2,874.82 530.8,876.46 531.2,875.55 531.4,875.71 532.0,875.87 532.6,875.69 533.2,876.32 533.8,877.14 534.4,878.28 535.0,878.28 535.6,877.76 536.2,879.09 536.8,878.17 537.4,879.99 538.0,880.04 538.6,880.77 539.2,881.29 539.8,881.01 540.4,882.05 541.0,882.84 541.6,883.78 542.2,884.48 542.8,884.36 543.4,884.38 544.0,886.56 544.6,884.60 545.0,888.23 545.2,887.36 545.8,886.57 546.4,886.09 547.0,886.46 547.6,886.20 548.2,888.13 548.8,887.90 549.4,886.95 550.0,887.54 550.6,887.74 551.2,887.56 551.8,888.49 552.4,888.10 553.0,889.48 553.6,889.07 554.2,888.06 554.8,889.44 555.4,890.76 556.0,889.72 556.6,889.31 557.2,888.70 557.7,889.36 557.8,890.38 558.4,890.17 559.0,888.47 559.6,890.55 560.2,888.87 560.8,890.25 561.4,890.12 562.0,890.26 562.6,889.99 563.2,889.24 563.8,889.20 564.4,890.11 565.0,889.65 565.6,890.81 566.2,889.69 566.8,890.71 567.4,890.09 568.0,889.68 568.6,891.66 569.2,889.24 569.8,889.74 570.4,891.19 571.0,891.61 571.6,890.88 572.2,890.53 572.8,890.73 573.4,892.04 574.0,889.34 574.6,889.33 575.2,890.51 575.8,890.10 576.4,890.77 577.0,891.05 577.6,890.80 578.2,891.51 578.8,891.45 579.4,891.24 580.0,891.62 580.6,891.76 581.2,891.43 581.8,893.32 582.4,892.64 583.0,891.26 583.6,893.72 584.2,892.74 584.8,891.62 585.4,892.11 586.0,890.91 586.6,891.43 587.2,891.39 587.8,892.73 588.4,894.22 589.0,892.86 589.6,892.50 590.2,892.22 590.8,892.90 591.4,892.67 592.0,891.06 592.6,891.00 593.2,891.37 593.8,892.38 594.4,891.43 595.0,889.14 595.6,891.77 596.2,892.81 596.8,891.63 597.4,890.73 598.0,891.75 598.6,892.12 599.2,891.69 599.8,891.28 600.4,890.13 601.0,892.79 601.6,890.90 602.2,892.56 602.8,890.81 603.4,890.47 604.0,893.82 604.6,890.00 605.2,891.91 605.8,891.00 606.4,892.81 607.0,891.34 607.6,891.52 608.2,893.32 608.8,891.10 609.4,891.34 610.0,891.91 610.6,890.44 611.2,891.79 611.8,890.77 612.4,892.35 613.0,891.37 613.6,889.57 614.2,890.34 614.8,889.84 615.4,891.80 616.0,889.70 616.6,891.30 617.2,889.56 617.8,890.11 618.4,889.98 619.0,891.53 619.6,888.85 620.2,889.42 620.8,888.58 621.4,892.88 621.5,889.61 622.0,890.27 622.6,889.34 623.2,890.52 623.8,890.48 624.4,889.54 625.0,890.49 625.6,889.53 626.2,888.72 626.8,890.89 627.4,890.19 628.0,889.36 628.6,887.69 629.2,890.93 629.8,888.79 630.4,888.51 631.0,888.99 631.6,889.56 632.2,888.53 632.8,887.87 633.4,889.42 634.0,889.70 634.6,888.57 635.2,889.23 635.8,890.05 636.4,889.27 637.0,888.37 637.6,889.26 638.2,887.76 638.8,888.55 639.4,888.49 640.0,888.43 640.6,888.78 641.2,887.45 641.8,888.39 642.4,886.38 643.0,888.02 643.6,885.60 644.2,887.44 644.8,888.49 645.4,885.82 646.0,887.49 646.6,888.38 647.2,887.57 647.8,887.12 648.4,888.42 649.0,887.63 649.2,887.77 649.6,887.32 650.2,888.42 650.8,888.45 651.4,887.74 652.0,888.66 652.6,888.02 653.2,888.90 653.8,886.10 654.4,886.79 655.0,887.68 655.6,889.17 656.2,889.33 656.8,888.20 657.4,888.00 658.0,889.59 658.6,888.31 659.2,887.32 659.8,888.26 660.4,889.47 661.0,889.32 661.6,890.81 662.2,889.35 662.8,891.22 663.4,889.22 664.0,890.50 664.6,890.37 665.2,891.70 665.8,889.25 666.4,891.80 667.0,891.16 667.6,891.89 668.2,893.54 668.8,890.17 669.4,892.86 670.0,891.55 670.6,890.93 671.2,892.05 671.8,890.97 672.4,891.28 673.0,893.23 673.6,892.74 674.2,892.50 674.8,893.43 675.4,890.92 676.0,892.45 676.6,891.69 677.2,893.18 677.8,893.24 678.4,891.78 679.0,894.02 679.6,895.00 680.0,892.47 680.2,893.64 680.8,893.26 681.4,891.90 682.0,892.83 682.6,892.29 683.2,891.48 683.8,892.83 684.4,893.16 685.0,890.22 685.6,890.18 686.2,891.36 686.8,889.87 687.4,892.52 688.0,890.54 688.6,892.11 689.2,890.29 689.8,890.59 690.4,890.95 691.0,892.16 691.3,891.57 691.6,889.51 692.2,890.62 692.8,890.62 693.4,890.83 694.0,892.76 694.6,891.18 695.2,889.64 695.8,889.69 696.4,889.97 697.0,888.93 697.6,889.40 698.2,888.82 698.8,889.96 699.4,888.38 700.0,891.09 700.6,888.51 701.2,886.93 701.8,888.14 702.4,887.71 703.0,886.88 703.6,888.55 704.2,887.30 704.8,887.90 705.4,887.64 706.0,887.57 706.6,886.68 707.2,886.52 707.8,884.99 708.4,887.83 709.0,887.87 709.6,886.71 710.2,886.96 710.8,885.83 711.4,886.55 712.0,885.53 712.5,884.71 712.6,884.91 713.2,884.94 713.8,884.52 714.4,886.34 715.0,881.78 715.6,883.83 716.2,883.17 716.8,880.75 717.4,881.83 718.0,883.55 718.6,880.17 719.2,879.77 719.8,879.13 720.4,880.00 721.0,879.12 721.6,879.49 722.2,879.39 722.8,876.86 723.4,877.06 724.0,876.09 724.6,876.77 725.2,874.28 725.8,875.31 726.4,875.57 727.0,874.82 727.4,872.94 727.6,872.72 728.2,872.50 728.8,871.10 729.4,870.45 730.0,869.08 730.6,866.97 731.2,868.36 731.8,868.11 732.4,865.44 733.0,863.72 733.6,864.30 734.2,862.47 734.8,860.71 735.4,859.67 736.0,857.33 736.6,858.91 737.2,858.24 737.8,856.54 738.4,856.01 739.0,854.17 739.6,854.50 740.2,854.27 740.8,853.76 741.4,854.59 742.0,855.14 742.6,854.15 743.2,855.18 743.8,857.87 744.4,857.53 745.0,856.45 745.6,859.47 746.2,858.54 746.8,859.29 747.4,860.54 748.0,862.20 748.4,862.26 748.6,859.51 749.2,860.96 749.8,861.16 750.4,859.33 751.0,856.74 751.6,856.80 752.2,855.77 752.8,854.28 753.4,852.46 754.0,852.30 754.6,850.67 755.0,850.51 755.2,850.00 755.8,845.44 756.4,842.38 756.5,841.15 757.0,840.70 757.6,838.50 758.2,834.88 758.8,832.71 759.4,827.76 759.5,828.55 760.0,826.66 760.6,822.74 761.2,819.37 761.8,814.83 762.1,814.72 762.4,811.04 763.0,805.46 763.6,802.66 764.2,797.02 764.8,792.19 765.1,789.28 765.4,786.88 766.0,781.12 766.6,772.92 767.2,767.24 767.8,757.83 768.4,749.11 769.0,740.41 769.1,740.24 769.6,737.94 770.2,735.58 770.8,732.94 771.4,731.14 771.7,729.83 772.0,732.87 772.6,734.74 773.2,739.63 773.8,748.26 774.4,758.38 775.0,769.94 775.2,772.06 775.6,778.16 776.2,782.74 776.7,788.48 776.8,790.52 777.4,798.00 778.0,810.56 778.2,812.29 778.6,815.93 779.2,821.61 779.8,825.20 780.3,829.72 780.4,830.47 781.0,834.53 781.6,838.37 782.2,842.46 782.8,845.30 783.3,845.88 783.4,846.11 784.0,848.86 784.6,851.40 785.2,852.85 785.8,853.61 786.4,856.84 787.0,857.68 787.6,858.48 788.2,861.48 788.8,861.94 789.4,864.92 790.0,864.13 790.6,866.38 791.2,868.69 791.8,870.51 792.4,870.72 793.0,873.35 793.6,873.82 794.2,875.84 794.8,876.46 795.4,876.38 796.0,878.53 796.5,878.53 796.6,878.43 797.2,877.95 797.8,880.88 798.4,880.56 799.0,880.86 799.6,882.53 800.2,881.62 800.8,882.34 801.4,881.40 802.0,882.88 802.6,882.73 803.2,883.93 803.8,882.94 804.4,881.77 805.0,884.47 805.6,883.91 806.2,884.74 806.8,884.42 807.4,885.56 808.0,885.14 808.6,885.82 809.2,885.66 809.8,886.86 810.4,888.09 811.0,886.59 811.6,887.13 812.2,883.91 812.8,886.96 813.4,885.28 814.0,885.92 814.6,886.20 815.2,886.64 815.8,885.20 816.4,885.57 817.0,887.26 817.6,887.13 818.2,888.31 818.8,888.14 819.4,887.93 820.0,887.47 820.6,888.98 821.2,888.47 821.8,888.43 822.4,885.82 823.0,886.76 823.6,888.45 824.2,886.79 824.8,887.66 825.4,887.70 826.0,887.71 826.6,888.09 827.2,887.13 827.8,886.72 828.4,886.93 829.0,888.10 829.5,888.59 829.6,887.92 830.2,886.30 830.8,886.74 831.4,887.65 832.0,885.44 832.6,887.00 833.2,887.26 833.8,886.65 834.4,885.66 835.0,887.39 835.6,886.41 836.2,885.70 836.8,883.84 837.4,886.30 838.0,887.21 838.6,886.42 839.2,884.70 839.8,885.21 840.4,883.43 841.0,883.83 841.6,885.01 842.2,883.40 842.8,883.65 843.4,883.85 844.0,882.68 844.6,881.45 845.2,882.12 845.8,882.21 846.4,882.60 846.5,881.61 847.0,881.64 847.6,882.06 848.2,882.77 848.8,880.10 849.4,878.32 850.0,880.14 850.6,878.42 851.2,878.29 851.8,879.72 852.4,878.80 853.0,878.91 853.6,879.06 854.2,877.44 854.8,876.45 855.4,875.27 856.0,877.23 856.6,875.36 857.2,875.14 857.6,874.92 857.8,875.10 858.4,874.95 859.0,874.86 859.6,875.09 860.2,876.00 860.8,877.96 861.4,879.52 862.0,880.30 862.6,881.13 863.2,882.41 863.8,882.90 864.4,882.63 865.0,886.17 865.6,887.69 866.2,889.93 866.8,887.78 867.4,887.35 867.8,890.06 868.0,889.11 868.6,890.96 869.2,888.47 869.8,888.72 870.4,888.57 871.0,889.96 871.6,890.72 872.2,890.65 872.8,892.30 873.4,889.85 874.0,891.44 874.6,892.24 875.2,890.54 875.8,891.21 876.4,890.08 877.0,892.93 877.6,890.49 878.2,892.20 878.8,891.70 879.4,890.76 880.0,892.03 880.6,891.11 881.2,892.42 881.8,891.64 882.4,891.81 883.0,893.09 883.6,892.31 884.2,892.29 884.8,893.57 885.4,892.61 886.0,894.51 886.6,892.70 886.9,893.36 887.2,892.34 887.8,892.44 888.4,892.50 889.0,891.78 889.6,891.77 890.2,893.52 890.8,890.99 891.4,891.50 892.0,891.19 892.6,892.15 893.2,891.86 893.8,892.21 894.4,891.46 895.0,891.51 895.6,891.85 896.2,891.72 896.8,892.21 897.4,890.08 898.0,890.34 898.6,890.29 899.2,891.70 899.8,891.43 900.4,891.06 901.0,891.51 901.6,890.12 901.8,889.92 902.2,890.42 902.8,890.15 903.4,890.80 904.0,890.16 904.6,891.52 905.2,889.44 905.8,891.24 906.0,891.15 906.4,888.75 907.0,887.04 907.6,883.35 908.2,879.71 908.8,877.70 908.9,875.66 909.4,873.81 910.0,867.47 910.6,864.37 911.0,864.27 911.2,864.56 911.8,867.38 912.4,872.46 913.0,875.06 913.1,876.81 913.6,880.31 914.2,883.87 914.8,886.95 915.4,888.75 916.0,890.91 916.6,891.74 917.2,891.75 917.8,891.49 918.4,889.21 919.0,890.55 919.6,890.77 920.2,891.20 920.8,890.84 921.4,891.33 922.0,890.40 922.6,892.82 923.2,891.48 923.8,891.51 924.4,891.07 925.0,889.42 925.6,892.00 926.2,890.23 926.8,892.84 927.4,892.19 928.0,891.62 928.6,891.87 929.2,891.08 929.8,890.53 930.4,892.69 931.0,890.71 931.6,891.08 932.2,892.26 932.8,890.97 933.4,891.03 934.0,891.96 934.6,890.07 935.2,892.57 935.8,891.85 936.4,891.46 937.0,891.73 937.6,891.04 938.0,892.55 938.2,890.18 938.8,892.60 939.4,891.28 940.0,890.52 940.6,890.43 941.2,890.94 941.8,891.48 942.4,889.49 943.0,890.44 943.6,890.72 944.2,888.80 944.8,888.62 945.4,889.11 946.0,889.31 946.6,889.52 947.2,888.05 947.8,886.91 948.4,887.83 949.0,888.70 949.6,886.81 950.2,888.41 950.8,887.87 951.4,888.70 952.0,887.17 952.6,887.78 953.2,886.30 953.8,884.61 954.4,886.85 955.0,887.09 955.6,885.49 956.2,885.44 956.8,885.07 957.4,886.31 958.0,884.98 958.6,885.15 959.2,885.49 959.8,886.13 960.4,885.64 961.0,885.54 961.6,887.19 962.2,887.11 962.8,887.90 963.4,886.85 964.0,886.54 964.6,887.72 965.2,889.36 965.8,888.46 966.4,887.36 967.0,887.89 967.6,889.93 968.2,888.22 968.8,886.33 969.4,889.12 970.0,887.62 970.6,889.48 971.2,888.53 971.8,889.96 972.4,888.70 973.0,888.66 973.6,891.57 974.1,889.50 974.2,889.50 974.8,888.54 975.4,888.87 976.0,890.50 976.6,889.92 977.2,888.61 977.8,888.58 978.4,887.43 979.0,888.10 979.6,886.46 980.2,885.12 980.8,887.73 981.4,885.06 982.0,885.93 982.6,885.95 983.2,884.55 983.8,884.72 984.4,884.46 985.0,883.88 985.6,883.75 986.2,883.72 986.8,883.22 987.4,881.23 988.0,883.04 988.6,882.05 989.2,883.20 989.8,885.14 990.4,885.83 991.0,886.14 991.6,886.78 992.2,888.56 992.8,888.36 993.4,888.24 994.0,889.15 994.6,890.90 995.2,892.43 995.8,893.50 996.4,893.01 997.0,893.63 997.6,895.23 998.2,894.52 998.6,896.04 998.8,896.85 999.4,895.40 1000.0,894.34 1000.6,895.31 1001.2,896.92 1001.8,896.12 1002.4,895.71 1003.0,895.16 1003.6,896.51 1004.2,894.91 1004.8,897.12 1005.4,896.11 1006.0,895.70 1006.6,897.76 1007.2,895.01 1007.8,896.38 1008.4,895.34 1009.0,895.62 1009.6,895.99 1010.2,895.58 1010.8,893.59 1011.4,896.03 1012.0,896.16 1012.6,893.85 1013.2,894.42 1013.8,895.90 1014.4,894.79 1015.0,894.78 1015.6,895.36 1016.2,895.42 1016.7,895.02 1016.8,895.56 1017.4,895.29 1018.0,895.39 1018.6,895.24 1019.2,897.98 1019.8,897.27 1020.4,894.39 1021.0,895.50 1021.6,896.36 1022.2,896.42 1022.8,895.27 1023.4,895.22 1024.0,896.41 1024.6,896.26 1025.2,895.88 1025.8,897.67 1026.4,897.56 1027.0,897.95 1027.6,897.15 1028.2,897.99 1028.8,897.95 1029.4,897.65 1030.0,898.62 1030.6,898.11 1031.2,897.67 1031.8,898.32 1032.4,898.61 1033.0,898.67 1033.6,899.64 1034.2,897.69 1034.8,899.46 1035.4,898.00 1035.8,898.54 1036.0,897.21 1036.6,898.45 1037.2,901.14 1037.8,897.67 1038.4,899.57 1039.0,899.46 1039.6,900.14 1040.2,901.21 1040.8,900.54 1041.4,900.47 1042.0,899.24 1042.6,899.61 1043.2,899.39 1043.8,900.11 1044.4,899.84 1045.0,899.51 1045.6,899.92 1046.2,900.56 1046.8,900.78 1047.4,901.08 1048.0,901.26 1048.6,900.93 1049.2,901.17 1049.8,901.67 1050.4,901.95 1051.0,901.57 1051.6,901.61 1052.2,900.04 1052.8,900.85 1053.4,901.40 1054.0,903.16 1054.6,900.98 1055.2,902.54 1055.8,904.07 1056.4,901.48 1057.0,902.67 1057.6,903.24 1058.2,902.39 1058.8,902.27 1059.4,902.27 1060.0,902.95 1060.6,901.47 1061.2,903.26 1061.8,902.07 1062.4,901.88 1063.0,902.97 1063.4,904.12 1063.6,901.76 1064.2,903.09 1064.8,902.20 1065.4,902.35 1066.0,902.37 1066.6,902.16 1067.2,900.40 1067.8,903.34 1068.4,903.10 1069.0,904.86 1069.6,902.57 1070.2,901.05 1070.8,901.25 1071.4,900.85 1072.0,902.18 1072.6,901.55 1073.2,902.62 1073.8,902.36 1074.4,901.18 1075.0,901.95 1075.6,900.40 1076.2,901.18 1076.8,900.70 1077.4,901.83 1078.0,901.53 1078.6,902.46 1079.2,901.61 1079.8,900.12 1080.4,901.31 1081.0,901.83 1081.6,901.32 1082.2,900.56 1082.8,901.39 1083.4,900.82 1084.0,901.09 1084.6,901.45 1085.0,900.25 1085.2,900.75 1085.8,899.84 1086.4,899.32 1087.0,901.58 1087.6,899.90 1088.2,900.93 1088.8,898.07 1089.4,898.17 1090.0,898.93 1090.6,901.35 1091.2,898.19 1091.8,898.93 1092.4,898.45 1093.0,898.21 1093.6,900.11 1094.2,898.68 1094.8,900.31 1095.4,898.64 1096.0,899.87 1096.6,898.15 1097.2,900.02 1097.8,896.85 1098.4,897.04 1099.0,897.66 1099.6,899.44 1100.2,898.14 1100.8,899.45 1101.4,897.25 1102.0,899.48 1102.6,897.67 1103.2,896.92 1103.8,898.73 1104.4,899.03 1105.0,900.36 1105.6,899.48 1106.2,900.30 1106.8,899.31 1107.4,899.64 1108.0,901.00 1108.6,901.47 1109.2,902.12 1109.8,902.11 1110.4,902.42 1111.0,903.04 1111.6,901.34 1112.2,901.89 1112.8,903.17 1113.4,903.29 1114.0,902.66 1114.6,903.10 1115.2,904.19 1115.8,903.79 1116.2,904.71 1116.4,903.66 1117.0,903.43 1117.6,903.96 1118.2,903.86 1118.8,904.60 1119.4,904.14 1120.0,905.30 1120.6,904.29 1121.2,903.57 1121.8,904.93 1122.4,904.48 1123.0,902.93 1123.6,903.67 1124.2,904.19 1124.8,904.80 1125.4,905.71 1126.0,904.75 1126.6,905.13 1127.2,906.25 1127.8,905.37 1128.4,904.43 1129.0,904.53 1129.6,904.25 1130.2,904.30 1130.8,904.31 1131.4,904.88 1132.0,903.73 1132.6,904.03 1133.2,904.56 1133.8,905.23 1134.4,904.45 1135.0,904.87 1135.6,905.07 1136.2,905.15 1136.8,907.39 1137.4,906.44 1138.0,905.71 1138.6,906.39 1139.2,906.17 1139.8,906.68 1140.4,906.49 1141.0,905.69 1141.6,907.00 1142.2,906.51 1142.8,906.88 1143.4,906.63 1144.0,906.78 1144.6,907.92 1145.2,905.47 1145.8,906.23 1146.4,905.77 1147.0,906.66 1147.6,905.70 1148.2,906.33 1148.8,906.16 1149.4,906.38 1150.0,905.74 1150.6,904.67 1151.2,904.16 1151.8,906.38 1152.4,906.12 1153.0,905.78 1153.6,907.07 1154.2,907.30 1154.4,906.84 1154.8,906.88 1155.4,906.59 1156.0,905.57 1156.6,905.78 1157.2,906.70 1157.8,906.75 1158.4,905.45 1159.0,906.73 1159.6,907.19 1160.2,906.75 1160.8,906.12 1161.4,905.56 1162.0,906.13 1162.6,905.85 1163.2,906.11 1163.8,906.08 1164.4,905.73 1165.0,906.75 1165.6,905.96 1166.2,906.33 1166.8,903.86 1167.4,905.96 1168.0,906.74 1168.6,905.13 1169.2,904.46 1169.8,905.04 1170.4,905.82 1171.0,905.93 1171.6,906.29 1172.2,905.37 1172.8,905.53 1173.4,904.87 1174.0,905.28 1174.6,904.29 1175.2,903.73 1175.8,905.24 1176.4,903.78 1177.0,904.84 1177.6,903.37 1178.2,904.51 1178.8,904.97 1179.4,903.07 1180.0,902.96 1180.6,904.33 1181.2,903.96 1181.8,902.49 1182.4,904.13 1183.0,903.85 1183.6,904.34 1184.2,903.67 1184.8,903.34 1185.4,903.66 1186.0,903.65 1186.3,905.28 1186.6,904.93 1187.2,901.06 1187.8,903.42 1188.4,903.85 1189.0,903.03 1189.6,904.99 1190.2,904.34 1190.8,904.52 1191.4,904.24 1192.0,905.02 1192.6,904.39 1193.2,904.82 1193.8,904.63 1194.4,905.21 1195.0,904.19 1195.6,903.22 1196.2,905.08 1196.8,905.16 1197.4,905.02 1198.0,905.95 1198.6,905.71 1199.2,905.83 1199.8,905.61 1200.4,904.57 1201.0,906.24 1201.6,905.09 1202.2,906.26 1202.8,905.66 1203.4,906.13 1204.0,905.44 1204.6,904.65 1205.2,905.45 1205.8,904.31 1206.4,906.56 1207.0,905.88 1207.6,905.66 1208.2,906.25 1208.8,906.92 1209.4,905.50 1210.0,905.74 1210.6,906.18 1211.2,906.21 1211.8,906.66 1212.4,906.34 1213.0,905.61 1213.6,906.63 1214.2,906.62 1214.8,905.84 1215.4,906.29 1216.0,904.85 1216.6,904.78 1217.2,903.73 1217.8,904.09 1218.4,905.12 1219.0,905.22 1219.6,905.11 1220.2,903.78 1220.8,904.44 1221.4,904.45 1222.0,904.97 1222.6,904.81 1223.2,903.40 1223.8,904.99 1224.4,905.37 1225.0,904.66 1225.6,904.98 1226.2,905.53 1226.8,904.42 1227.4,904.93 1228.0,904.39 1228.6,905.91 1228.9,904.93 1229.2,904.30 1229.8,905.04 1230.4,904.83 1231.0,904.21 1231.6,904.32 1232.2,905.89 1232.8,904.59 1233.4,905.33 1234.0,904.14 1234.6,904.28 1235.2,905.24 1235.8,905.06 1236.4,905.02 1237.0,904.73 1237.6,905.59 1238.2,904.64 1238.8,907.44 1239.4,905.10 1240.0,905.14 1240.6,905.64 1241.2,907.54 1241.8,905.43 1242.4,905.91 1243.0,905.73 1243.6,906.77 1244.2,906.83 1244.8,907.04 1245.4,906.43 1246.0,907.32 1246.6,907.51 1247.2,907.15 1247.8,907.31 1248.4,907.23 1249.0,907.43 1249.6,908.06 1250.1,909.21 1250.2,907.72 1250.8,908.81 1251.4,908.02 1252.0,907.74 1252.6,908.42 1253.2,907.35 1253.8,908.19 1254.4,907.63 1255.0,908.20 1255.6,908.11 1256.2,907.36 1256.8,907.53 1257.4,908.00 1258.0,908.28 1258.6,908.72 1259.2,908.39 1259.8,908.88 1260.4,908.48 1261.0,907.60 1261.6,907.33 1262.2,908.71 1262.8,908.33 1263.4,907.86 1264.0,907.49 1264.6,908.17 1265.2,908.04 1265.8,907.92 1266.4,907.81 1267.0,908.14 1267.6,908.07 1268.2,907.22 1268.8,907.07 1269.4,909.55 1270.0,909.18 1270.6,908.26 1271.2,908.52 1271.8,908.65 1272.4,907.82 1273.0,906.75 1273.6,907.19 1274.2,908.58 1274.8,908.34 1275.4,907.10 1276.0,907.64 1276.6,908.70 1277.2,907.95 1277.8,907.95 1278.4,906.26 1279.0,906.76 1279.6,907.84 1280.2,907.87 1280.8,908.27 1281.4,907.94 1282.0,908.20 1282.6,906.92 1283.2,907.51 1283.8,908.01 1284.4,907.45 1285.0,908.41 1285.6,907.31 1286.2,908.25 1286.8,907.92 1287.4,908.18 1288.0,908.09 1288.6,908.12 1289.2,907.21 1289.8,907.71 1290.4,908.53 1291.0,908.44 1291.6,907.26 1292.2,907.68 1292.7,908.75 1292.8,908.06 1293.4,909.12 1294.0,908.79 1294.6,908.81 1295.2,908.23 1295.8,908.44 1296.4,908.79 1297.0,907.76 1297.6,907.52 1298.2,909.12 1298.8,907.66 1299.4,907.77 1300.0,908.45 1300.6,909.34 1301.2,908.80 1301.8,908.18 1302.4,908.38 1303.0,908.80 1303.6,908.21 1304.2,908.99 1304.8,907.77 1305.4,907.90 1306.0,907.67 1306.6,907.68 1307.2,908.05 1307.8,907.77 1308.4,907.17 1309.0,908.44 1309.6,907.18 1310.2,908.09 1310.8,908.39 1311.4,907.46 1312.0,907.92 1312.6,908.74 1313.2,909.53 1313.8,906.94 1314.4,906.91 1315.0,907.40 1315.6,907.53 1316.2,908.41 1316.8,907.00 1317.4,907.06 1318.0,906.82 1318.6,907.23 1319.2,907.77 1319.8,907.34 1320.4,907.29 1321.0,908.35 1321.6,908.11 1322.2,908.58 1322.8,907.00 1323.4,907.76 1324.0,908.50 1324.6,908.35 1325.2,908.13 1325.8,909.10 1326.4,907.81 1327.0,908.41 1327.6,907.03 1328.2,908.25 1328.8,907.69 1329.4,907.64 1330.0,908.22 1330.6,906.83 1331.2,907.35 1331.8,908.24 1332.4,908.11 1333.0,908.00 1333.6,908.76 1334.2,908.43 1334.8,908.06 1335.4,907.99 1336.0,907.88 1336.6,908.64 1337.2,908.82 1337.8,907.25 1338.4,907.29 1339.0,909.66 1339.6,907.99 1340.2,908.51 1340.8,907.79 1341.4,906.45 1342.0,906.22 1342.6,907.36 1343.2,907.59 1343.8,907.27 1344.4,907.82 1345.0,907.75 1345.6,907.25 1346.2,908.46 1346.8,908.68 1347.4,907.92 1348.0,907.15 1348.6,906.81 1349.2,908.70 1349.8,907.74 1350.4,907.87 1351.0,909.70 1351.6,908.35 1352.2,907.39 1352.8,908.12 1353.4,907.51 1354.0,907.50 1354.6,908.25 1355.2,908.28 1355.8,908.19 1356.4,907.97 1356.5,907.80 1357.0,907.03 1357.6,908.21 1358.2,907.83 1358.8,907.34 1359.4,908.00 1360.0,908.90 1360.6,907.44 1361.2,908.19 1361.8,907.57 1362.4,907.03 1363.0,907.15 1363.6,907.47 1364.2,908.07 1364.8,908.34 1365.4,907.74 1366.0,907.11 1366.6,908.77 1367.2,908.41 1367.8,908.89 1368.4,908.46 1369.0,907.72 1369.6,906.12 1370.2,908.07 1370.8,908.35 1371.4,907.60 1372.0,908.31 1372.6,907.87 1373.2,906.67 1373.8,907.01 1374.4,906.90 1375.0,906.48 1375.6,907.59 1376.2,906.11 1376.8,907.04 1377.4,907.70 1378.0,905.79 1378.6,906.78 1379.2,907.50 1379.8,905.60 1380.4,905.48 1381.0,906.90 1381.6,906.45 1382.2,906.83 1382.8,906.98 1383.4,905.97 1384.0,906.41 1384.6,907.30 1385.2,905.82 1385.8,905.91 1386.4,906.07 1387.0,907.52 1387.6,905.61 1388.2,905.39 1388.4,906.53 1388.8,906.68 1389.4,906.18 1390.0,905.82 1390.6,905.84 1391.2,906.08 1391.8,906.18 1392.4,904.98 1393.0,905.44 1393.6,904.90 1394.2,905.11 1394.8,905.07 1395.4,904.61 1396.0,904.98 1396.6,904.59 1397.2,905.62 1397.8,904.10 1398.4,903.79 1399.0,903.54 1399.6,904.31 1400.2,903.22 1400.8,903.19 1401.4,903.47 1402.0,903.61 1402.6,902.75 1403.2,903.96 1403.8,903.36 1404.4,903.36 1405.0,903.45 1405.6,902.59 1406.2,902.52 1406.8,901.94 1407.4,901.66 1408.0,902.00 1408.6,901.41 1409.2,901.58 1409.6,900.99 1409.8,901.62 1410.4,900.67 1411.0,901.34 1411.6,901.04 1412.2,901.12 1412.8,900.56 1413.4,902.18 1414.0,900.71 1414.6,902.52 1415.2,901.80 1415.8,901.19 1416.4,902.06 1417.0,903.98 1417.6,901.65 1418.2,902.53 1418.8,901.92 1419.4,903.87 1420.0,903.83 1420.6,903.21 1421.2,903.54 1421.8,903.07 1422.4,903.77 1423.0,904.54 1423.6,902.86 1424.2,903.77 1424.8,903.98 1425.4,903.75 1426.0,904.18 1426.6,904.66 1427.2,903.89 1427.8,903.93 1428.4,904.77 1429.0,904.40 1429.6,905.77 1430.2,905.79 1430.8,906.37 1430.9,906.03 1431.4,905.10 1432.0,905.48 1432.6,905.07 1433.2,906.01 1433.8,905.66 1434.4,906.02 1435.0,905.36 1435.6,904.76 1436.2,905.38 1436.8,905.64 1437.4,905.12 1438.0,906.37 1438.6,905.83 1439.2,905.92 1439.8,906.70 1440.4,907.12 1441.0,907.22 1441.6,907.47 1442.2,906.48 1442.8,907.53 1443.4,906.63 1444.0,907.47 1444.6,907.31 1445.2,907.62 1445.8,908.51 1446.4,908.18 1447.0,908.85 1447.6,910.13 1448.2,909.60 1448.8,909.34 1449.4,908.78 1450.0,909.38 1450.6,909.66 1451.2,909.12 1451.8,908.47 1452.2,908.81 1452.4,910.07 1453.0,908.98 1453.6,908.66 1454.2,909.83 1454.8,908.53 1455.4,907.83 1456.0,908.07 1456.6,908.74 1457.2,907.99 1457.8,907.80 1458.4,908.44 1459.0,908.43 1459.6,908.02 1460.2,907.52 1460.8,908.57 1461.4,908.24 1462.0,908.04 1462.6,908.03 1463.2,908.40 1463.8,908.35 1464.4,908.61 1465.0,907.88 1465.6,908.83 1466.2,909.40 1466.8,908.86 1467.4,908.75 1468.0,909.17 1468.6,908.91 1469.2,909.41 1469.8,907.95 1470.4,908.52 1471.0,908.19 1471.6,908.26 1472.2,907.57 1472.8,908.06 1473.4,906.42 1474.0,906.86 1474.6,907.93 1475.2,908.12 1475.8,907.60 1476.4,906.61 1477.0,906.73 1477.6,907.81 1478.2,908.04 1478.8,908.01 1479.4,907.50 1480.0,907.56 1480.6,907.73 1481.2,906.96 1481.8,907.96 1482.4,907.57 1483.0,908.57 1483.6,906.66 1484.2,907.20 1484.8,908.08 1485.4,907.57 1486.0,907.65 1486.6,907.64 1487.2,908.31 1487.8,907.40 1488.4,907.53 1489.0,908.02 1489.6,907.73 1490.2,907.68 1490.8,907.19 1491.4,907.41 1492.0,907.09 1492.6,907.46 1493.2,907.69 1493.5,907.79 1493.8,907.87 1494.4,906.98 1495.0,907.82 1495.6,907.48 1496.2,907.87 1496.8,906.47 1497.4,906.88 1498.0,907.61 1498.6,907.67 1499.2,907.17 1499.8,907.34 1500.4,906.70 1501.0,908.24 1501.6,908.01 1502.2,907.79 1502.8,907.48 1503.4,908.36 1504.0,907.87 1504.6,908.13 1505.2,908.30 1505.8,908.47 1506.4,906.97 1507.0,908.49 1507.6,906.99 1508.2,907.30 1508.8,906.66 1509.4,907.06 1510.0,906.54 1510.6,906.93 1511.2,907.11 1511.8,907.60 1512.4,907.74 1513.0,907.30 1513.6,907.28 1514.2,906.97 1514.8,908.60 1515.4,907.55 1516.0,908.42 1516.6,907.50 1517.2,907.35 1517.8,908.34 1518.4,908.76 1519.0,908.25 1519.6,908.78 1520.2,908.64 1520.8,907.16 1521.4,907.38 1522.0,908.56 1522.6,908.34 1523.2,908.35 1523.8,907.40 1524.4,907.09 1525.0,908.22 1525.6,908.54 1526.2,908.21 1526.8,907.38 1527.4,907.88 1528.0,908.31 1528.6,909.10 1529.2,907.88 1529.8,908.62 1530.4,908.03 1531.0,908.94 1531.6,908.16 1532.2,908.02 1532.8,908.88 1533.4,908.41 1534.0,908.76 1534.6,908.47 1535.2,908.65 1535.8,908.58 1536.4,907.91 1537.0,907.97 1537.6,908.59 1538.2,908.19 1538.8,908.22 1539.4,908.83 1540.0,908.23 1540.6,908.28 1541.2,908.04 1541.8,908.82 1542.4,907.93 1543.0,908.63 1543.6,908.24 1544.2,908.52 1544.8,908.42 1545.4,908.12 1546.0,908.99 1546.6,908.58 1547.2,908.73 1547.8,909.67 1548.4,908.56 1549.0,910.05 1549.6,908.30 1550.2,908.02 1550.8,908.63 1551.4,909.45 1552.0,909.68 1552.6,908.99 1553.2,908.67 1553.8,908.41 1554.4,909.50 1555.0,908.96 1555.6,908.61 1556.2,910.57 1556.8,909.33 1557.4,908.67 1558.0,910.28 1558.6,907.84 1559.2,909.28 1559.8,908.78 1560.4,908.59 1561.0,909.79 1561.6,908.08 1562.2,908.91 1562.8,908.41 1563.4,908.66 1564.0,908.23 1564.6,907.49 1565.2,908.29 1565.8,908.33 1566.4,909.00 1567.0,908.11 1567.6,909.39 1568.2,909.83 1568.8,908.55 1569.4,908.64 1570.0,908.78 1570.6,910.02 1571.2,909.82 1571.8,908.78 1572.4,908.84 1573.0,910.25 1573.6,909.17 1574.2,909.48 1574.8,909.22 1575.4,908.89 1576.0,909.43 1576.6,909.97 1577.2,910.47 1577.8,909.68 1578.4,910.02 1579.0,910.25 1579.6,909.97 1580.2,909.36 1580.8,910.03 1581.4,910.05 1582.0,909.06 1582.6,910.85 1583.2,910.83 1583.8,910.10 1584.4,910.82 1585.0,910.47 1585.6,910.73 1586.2,910.85 1586.8,910.91 1587.4,910.24 1588.0,909.84 1588.6,909.89 1589.2,910.33 1589.8,910.61 1590.4,910.53 1591.0,910.09 1591.6,910.15 1592.2,910.60 1592.8,910.15 1593.4,910.96 1594.0,910.61 1594.6,910.10 1595.2,910.93 1595.8,909.82 1596.4,911.23 1597.0,911.66 1597.6,910.74 1598.2,911.22 1598.8,910.60 1599.4,910.02 1600.0,910.63 1600.6,910.80 1601.2,911.04 1601.8,910.91 1602.4,911.68 1603.0,911.06 1603.6,911.29 1604.2,911.23 1604.8,910.97 1605.4,910.70 1606.0,910.57 1606.6,910.87 1607.2,910.89 1607.8,909.92 1608.4,909.84 1609.0,910.73 1609.6,910.17 1610.2,910.49 1610.8,911.87 1611.4,910.67 1612.0,910.99 1612.6,911.84 1613.2,910.75 1613.8,911.37 1614.4,911.43 1615.0,911.54 1615.3,910.94 1615.6,910.99 1616.2,911.48 1616.8,911.01 1617.4,911.00 1618.0,910.81 1618.6,910.56 1619.2,909.96 1619.8,910.52 1620.4,910.16 1621.0,910.82 1621.6,910.53 1622.2,910.20 1622.8,910.35 1623.4,911.00 1624.0,910.87 1624.6,910.56 1625.2,910.00 1625.8,910.54 1626.4,911.19 1627.0,910.51 1627.6,910.43 1628.2,910.01 1628.8,910.10 1629.4,910.66 1630.0,910.32 1630.6,911.07 1631.2,909.86 1631.8,910.14 1632.4,910.09 1633.0,909.38 1633.6,909.16 1634.2,910.30 1634.8,909.91 1635.4,909.76 1636.0,909.49 1636.6,909.90 1637.2,910.20 1637.8,910.43 1638.4,910.47 1639.0,910.00 1639.6,910.28 1640.2,910.76 1640.8,910.06 1641.4,910.44 1642.0,910.78 1642.6,910.10 1643.2,910.74 1643.8,909.71 1644.4,909.91 1645.0,909.19 1645.6,910.01 1646.2,910.24 1646.8,909.34 1647.4,910.28 1648.0,909.82 1648.6,909.40 1649.2,909.90 1649.8,909.43 1650.4,909.29 1651.0,910.32 1651.6,909.05 1652.2,909.73 1652.8,909.68 1653.4,909.73 1654.0,909.58 1654.6,910.30 1655.2,910.05 1655.8,909.61 1656.4,910.04 1657.0,909.29 1657.6,909.77 1658.2,908.86 1658.8,909.80 1659.4,909.45 1660.0,908.97 1660.6,908.88 1661.2,909.89 1661.8,909.81 1662.4,909.84 1663.0,909.43 1663.6,908.40 1664.2,909.29 1664.8,909.87 1665.4,907.94 1666.0,909.29 1666.6,908.36 1667.2,908.82 1667.8,909.21 1668.4,908.61 1669.0,908.34 1669.6,909.01 1670.2,909.09 1670.8,909.56 1671.4,908.66 1672.0,908.61 1672.6,909.05 1673.2,909.68 1673.8,909.46 1674.4,909.24 1675.0,907.85 1675.6,909.32 1676.2,908.96 1676.8,909.26 1677.4,908.79 1678.0,909.08 1678.6,909.17 1679.2,909.08 1679.8,909.70 1680.4,908.80 1681.0,908.30 1681.6,909.38 1682.2,909.27 1682.8,908.78 1683.4,908.82 1684.0,909.54 1684.6,909.49 1685.2,909.35 1685.8,910.24 1686.4,909.67 1687.0,908.82 1687.6,907.81 1688.2,909.34 1688.8,909.70 1689.4,909.42 1690.0,909.27 1690.6,909.36 1691.2,908.71 1691.8,908.39 1692.4,908.96 1693.0,908.36 1693.6,909.21 1694.2,909.02 1694.8,909.40 1695.4,908.70 1696.0,909.25 1696.6,908.45 1697.2,909.82 1697.8,909.07 1698.4,909.25 1699.0,909.75 1699.6,909.08 1700.2,909.38 1700.8,909.26 1701.4,908.71 1702.0,909.36 1702.6,910.36 1703.2,909.94 1703.8,909.10 1704.4,910.04 1705.0,909.38 1705.6,909.54 1706.2,909.25 1706.8,910.03 1707.4,909.94 1708.0,910.03 1708.6,908.56 1709.2,909.52 1709.8,909.33 1710.4,908.64 1711.0,910.09 1711.6,909.64 1712.2,909.58 1712.8,909.79 1713.4,909.51 1714.0,910.02 1714.6,909.50 1715.2,910.27 1715.8,910.36 1716.4,910.02 1717.0,909.25 1717.6,910.39 1718.2,908.88 1718.8,909.74 1719.4,909.74 1720.0,909.87 1720.6,909.52 1721.2,909.24 1721.8,909.45 1722.4,909.17 1723.0,909.23 1723.6,910.12 1724.2,910.36 1724.8,910.48 1725.4,909.47 1726.0,910.59 1726.6,909.79 1727.2,909.85 1727.8,910.12 1728.4,909.47 1729.0,910.27 1729.6,910.38 1730.2,909.36 1730.8,910.04 1731.4,908.65 1732.0,910.19 1732.6,910.63 1733.2,910.43 1733.8,909.74 1734.4,910.02 1735.0,909.79 1735.6,909.57 1736.2,910.43 1736.8,909.71 1737.4,910.13 1738.0,910.40 1738.6,909.89 1739.2,909.88 1739.8,911.10 1740.4,910.00 1741.0,909.97 1741.6,910.10 1742.2,910.12 1742.8,909.79 1743.4,910.40 1744.0,911.05 1744.6,911.01 1745.2,910.62 1745.8,910.34 1746.4,909.71 1747.0,910.59 1747.6,910.09 1748.2,910.52 1748.8,910.48 1749.4,910.07 1750.0,910.02 1750.6,910.20 1751.2,909.72 1751.8,909.69 1752.4,910.26 1753.0,910.85 1753.6,911.81 1754.2,910.34 1754.8,911.21 1755.4,910.78 1756.0,909.75 1756.6,910.76 1757.2,910.32 1757.8,911.20 1758.4,910.47 1759.0,910.45 1759.6,910.10 1760.2,909.67 1760.8,910.53 1761.4,909.90 1762.0,909.76 1762.6,909.97 1763.2,910.17 1763.8,910.57 1764.4,910.48 1765.0,910.30 1765.6,910.99 1766.2,911.40 1766.8,911.02 1767.4,911.07 1768.0,911.10 1768.6,910.64 1769.2,911.23 1769.8,911.33 1770.4,909.89 1771.0,909.96 1771.6,909.92 1772.2,910.46 1772.8,909.56 1773.4,909.60 1774.0,909.55 1774.6,908.88 1775.2,908.76 1775.8,908.87 1776.4,907.70 1777.0,909.07 1777.6,908.21 1778.2,907.94 1778.8,907.00 1779.4,907.70 1780.0,908.23 1780.6,906.69 1781.2,907.87 1781.8,906.20 1782.4,906.62 1783.0,906.51 1783.6,907.09 1783.9,907.48 1784.2,906.64 1784.8,907.81 1785.4,907.73 1786.0,907.74 1786.6,908.54 1787.2,908.24 1787.8,908.38 1788.4,907.71 1789.0,908.34 1789.6,909.13 1790.2,909.33 1790.8,908.68 1791.4,909.51 1792.0,909.53 1792.6,909.53 1793.2,909.29 1793.8,909.34 1794.4,909.54 1795.0,910.39 1795.6,910.30 1796.0,910.47 1796.2,910.31 1796.8,910.08 1797.4,910.08 1798.0,910.27 1798.6,909.88 1799.2,910.31 1799.8,910.20 1800.4,910.29 1801.0,910.39 1801.6,910.73 1802.2,910.26 1802.8,910.64 1803.4,910.45 1804.0,910.39 1804.6,910.17 1805.2,910.25 1805.8,910.71 1806.4,911.02 1807.0,910.71 1807.6,910.54 1808.2,911.45 1808.8,910.54 1809.4,910.53 1810.0,910.63 1810.6,910.58 1811.2,910.31 1811.8,911.03 1812.4,910.27 1813.0,909.81 1813.6,911.01 1814.2,910.51 1814.8,910.59 1815.4,910.49 1816.0,910.22 1816.6,910.94 1817.2,910.75 1817.8,911.24 1818.4,909.95 1819.0,910.38 1819.6,911.06 1820.2,910.71 1820.8,910.96 1821.4,910.93 1822.0,910.60 1822.6,910.02 1823.2,910.67 1823.8,910.72 1824.4,910.13 1825.0,910.99 1825.6,910.83 1826.2,910.70 1826.8,910.28 1827.4,910.41 1828.0,910.93 1828.6,910.07 1829.2,911.13 1829.8,911.61 1830.4,910.20 1831.0,910.92 1831.6,911.52 1832.2,911.29 1832.8,911.22 1833.4,911.08 1834.0,910.93 1834.6,911.02 1835.2,911.18 1835.8,910.91 1836.4,911.05 1837.0,910.57 1837.6,909.97 1838.2,910.51 1838.8,910.34 1839.4,910.89 1840.0,910.47 1840.6,911.01 1841.2,910.36 1841.8,911.27 1842.4,911.21 1843.0,911.16 1843.6,911.04 1844.2,910.91 1844.8,911.71 1845.4,911.00 1846.0,912.53 1846.6,910.69 1847.2,911.27 1847.8,910.76 1848.4,910.62 1849.0,910.65 1849.6,911.12 1850.2,910.31 1850.8,910.71 1851.4,910.50 1852.0,911.53 1852.6,910.95 1853.2,910.87 1853.8,910.83 1854.4,911.09 1855.0,910.12 1855.6,909.92 1856.2,910.96 1856.8,911.50 1857.4,910.72 1858.0,911.84 1858.6,910.84 1859.2,911.70 1859.8,911.22 1860.4,910.73 1861.0,910.56 1861.6,910.71 1862.2,910.16 1862.8,911.28 1863.4,910.62 1864.0,910.89 1864.6,910.66 1865.2,911.51 1865.8,910.98 1866.4,910.46 1867.0,910.76 1867.6,910.83 1868.2,910.80 1868.8,911.36 1869.4,910.48 1870.0,910.38 1870.6,910.08 1871.2,911.11 1871.8,910.83 1872.4,911.01 1873.0,910.71 1873.6,911.61 1874.2,911.06 1874.8,911.41 1875.4,911.54 1876.0,911.36 1876.6,911.67 1877.2,912.18 1877.8,912.05 1878.4,912.02 1879.0,911.82 1879.6,911.39 1880.2,911.63 1880.8,911.60 1881.4,911.73 1882.0,911.43 1882.6,911.89 1883.2,911.34 1883.8,911.48 1884.4,911.62 1885.0,911.45 1885.6,912.78 1886.2,911.85 1886.8,912.24 1887.4,912.00 1888.0,912.24 1888.6,911.89 1889.2,910.89 1889.8,911.85 1890.4,911.37 1891.0,912.20 1891.6,911.77 1892.2,911.77 1892.8,911.86 1893.4,911.54 1894.0,911.51 1894.6,911.90 1895.2,911.89 1895.8,911.59 1896.4,912.01 1897.0,912.24 1897.6,911.64 1898.2,911.98 1898.8,911.40 1899.4,912.56 1900.0,912.75 1900.6,912.12 1901.2,912.89 1901.8,912.74 1902.4,912.55 1903.0,912.68 1903.6,912.91"/>
</g>
<g fill="#000" shape-rendering="crispEdges">
<rect x="265" y="119" width="11" height="1371"/>
<rect x="270" y="1484" width="1633" height="11"/>
<rect x="386" y="1489" width="11" height="27"/>
<rect x="538" y="1489" width="11" height="27"/>
<rect x="689" y="1489" width="11" height="27"/>
<rect x="840" y="1489" width="11" height="27"/>
<rect x="991" y="1489" width="11" height="27"/>
<rect x="1142" y="1489" width="11" height="27"/>
<rect x="1293" y="1489" width="11" height="27"/>
<rect x="1444" y="1489" width="11" height="27"/>
<rect x="1595" y="1489" width="11" height="27"/>
<rect x="1746" y="1489" width="11" height="27"/>
<rect x="1897" y="1489" width="11" height="27"/>
<rect x="311" y="1489" width="11" height="14"/>
<rect x="462" y="1489" width="11" height="14"/>
<rect x="613" y="1489" width="11" height="14"/>
<rect x="764" y="1489" width="11" height="14"/>
<rect x="915" y="1489" width="11" height="14"/>
<rect x="1066" y="1489" width="11" height="14"/>
<rect x="1217" y="1489" width="11" height="14"/>
<rect x="1369" y="1489" width="11" height="14"/>
<rect x="1520" y="1489" width="11" height="14"/>
<rect x="1671" y="1489" width="11" height="14"/>
<rect x="1822" y="1489" width="11" height="14"/>
<rect x="235" y="224" width="11" height="170"/>
<rect x="1426" y="192" width="5" height="265"/>
<rect x="1241" y="378" width="4" height="57"/>
</g>
<text transform="translate(31.91 327.40) scale(1 1.0311)" font-family='"Liberation Sans", sans-serif' font-size="85.28">2000</text>
<text transform="translate(343.65 1601.20) scale(1 1.0143)" font-family='"Liberation Sans", sans-serif' font-size="85.00">10</text>
<text transform="translate(494.87 1601.20) scale(1 1.0294)" font-family='"Liberation Sans", sans-serif' font-size="85.00">15</text>
<text transform="translate(645.15 1601.20) scale(1 1.0143)" font-family='"Liberation Sans", sans-serif' font-size="85.00">20</text>
<text transform="translate(796.37 1601.20) scale(1 1.0143)" font-family='"Liberation Sans", sans-serif' font-size="85.00">25</text>
<text transform="translate(947.87 1601.20) scale(1 1.0143)" font-family='"Liberation Sans", sans-serif' font-size="85.00">30</text>
<text transform="translate(1099.09 1601.20) scale(1 1.0143)" font-family='"Liberation Sans", sans-serif' font-size="85.00">35</text>
<text transform="translate(1250.71 1601.20) scale(1 1.0143)" font-family='"Liberation Sans", sans-serif' font-size="85.00">40</text>
<text transform="translate(1401.94 1601.20) scale(1 1.0294)" font-family='"Liberation Sans", sans-serif' font-size="85.00">45</text>
<text transform="translate(1552.19 1601.20) scale(1 1.0143)" font-family='"Liberation Sans", sans-serif' font-size="85.00">50</text>
<text transform="translate(1703.41 1601.20) scale(1 1.0294)" font-family='"Liberation Sans", sans-serif' font-size="85.00">55</text>
<text transform="translate(1853.93 1601.20) scale(1 1.0143)" font-family='"Liberation Sans", sans-serif' font-size="85.00">60</text>
<text font-family='"Liberation Sans", sans-serif' font-size="102.95"><tspan x="1044.82" y="1708.8">2</tspan><tspan x="1104.97" y="1710" font-family='"Liberation Serif", serif' font-size="101.50">θ</tspan><tspan x="1155.45" y="1710.4">, </tspan><tspan x="1205.74" y="1718.11" font-size="122.00">°</tspan></text>
<text transform="translate(198.1 1094.0) rotate(-90) translate(-6.73 0.00) scale(1 1.0186)" font-family='"Liberation Sans", sans-serif' font-size="100.66">intensity, a.u.</text>
<text transform="translate(1459.86 462.20) scale(1 1.0442)" font-family='"Liberation Sans", sans-serif' font-size="71.83">Au-HBeta(DR)</text>
<text transform="translate(1459.36 612.90) scale(1 1.0411)" font-family='"Liberation Sans", sans-serif' font-size="72.04">Au-HBeta(AP)</text>
<text transform="translate(1487.66 773.20) scale(1 1.0316)" font-family='"Liberation Sans", sans-serif' font-size="71.86">Au-HBeta(IE)</text>
<text transform="translate(1468.46 944.20) scale(1 1.0345)" font-family='"Liberation Sans", sans-serif' font-size="71.94">Au-HBeta(IM)</text>
<text transform="translate(1718.66 1121.90) scale(1 1.0585)" font-family='"Liberation Sans", sans-serif' font-size="70.03">HBeta</text>
<text transform="translate(1542.96 1282.80) scale(1 1.0211)" font-family='"Liberation Sans", sans-serif' font-size="71.74">Au-Beta(IE)</text>
<text transform="translate(1764.80 1454.20) scale(1 1.0483)" font-family='"Liberation Sans", sans-serif' font-size="69.46">Beta</text>
<text transform="translate(1312.99 90.10) scale(1 1.0049)" font-family='"Liberation Sans", sans-serif' font-size="64.80" font-weight="bold">Au(200)</text>
<text transform="translate(1125.08 277.60) scale(1 1.0010)" font-family='"Liberation Sans", sans-serif' font-size="64.91" font-weight="bold">Au(111)</text>
<text transform="translate(1352.97 172.80) scale(1 1.0073)" font-family='"Liberation Sans", sans-serif' font-size="71.09">44.3</text>
<text transform="translate(1173.58 358.40) scale(1 0.9953)" font-family='"Liberation Sans", sans-serif' font-size="71.37">38.2</text>
</svg></body></html>
